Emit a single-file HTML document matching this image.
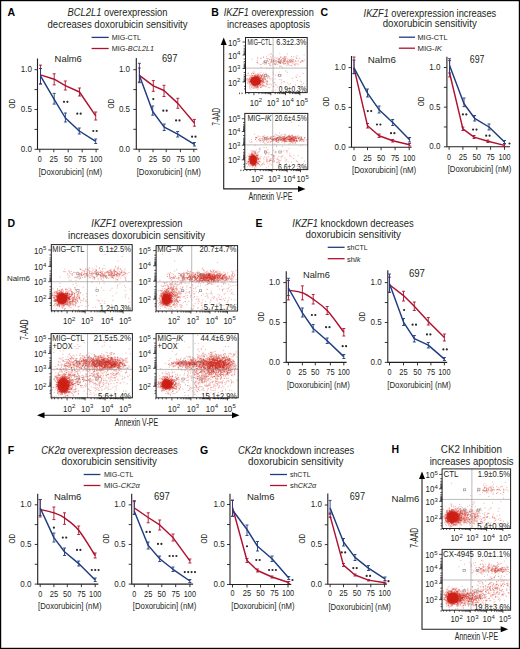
<!DOCTYPE html><html><head><meta charset="utf-8"><style>html,body{margin:0;padding:0;background:#fff}svg{display:block}text{font-family:"Liberation Sans", sans-serif;stroke:#231f20;stroke-width:0}</style></head><body>
<svg width="520" height="649" viewBox="0 0 520 649">
<rect x="0" y="0" width="520" height="649" fill="#fff"/>
<rect x="0.6" y="0.6" width="518.8" height="647.8" fill="none" stroke="#000" stroke-width="1.2"/>
<g fill="#231f20">
<text x="7.5" y="16.3" font-size="10.5" stroke-width="0.35" font-weight="bold" fill="#000" stroke="#000">A</text>
<text x="67.5" y="16.3" font-size="10" stroke-width="0.1" textLength="100" lengthAdjust="spacingAndGlyphs"><tspan font-style="italic">BCL2L1</tspan> overexpression</text>
<text x="47.5" y="27.5" font-size="10" stroke-width="0.1" textLength="140" lengthAdjust="spacingAndGlyphs">decreases doxorubicin sensitivity</text>
<line x1="91.6" y1="37.4" x2="108.7" y2="37.4" stroke="#1f3c80" stroke-width="1.3"/>
<line x1="91.6" y1="48.5" x2="108.7" y2="48.5" stroke="#ae1230" stroke-width="1.3"/>
<text x="111.8" y="40.3" font-size="8" stroke-width="0.08" textLength="29.2" lengthAdjust="spacingAndGlyphs">MIG-CTL</text>
<text x="111.8" y="51.4" font-size="8" stroke-width="0.08" textLength="42.2" lengthAdjust="spacingAndGlyphs">MIG-<tspan font-style="italic">BCL2L1</tspan></text>
<text x="211.3" y="16.3" font-size="10.5" stroke-width="0.35" font-weight="bold" fill="#000" stroke="#000">B</text>
<text x="223.8" y="16.3" font-size="10" stroke-width="0.1" textLength="90" lengthAdjust="spacingAndGlyphs"><tspan font-style="italic">IKZF1</tspan> overexpression</text>
<text x="227" y="27.5" font-size="10" stroke-width="0.1" textLength="83" lengthAdjust="spacingAndGlyphs">increases apoptosis</text>
<text x="320.4" y="16.3" font-size="10.5" stroke-width="0.35" font-weight="bold" fill="#000" stroke="#000">C</text>
<text x="363.6" y="16.5" font-size="10" stroke-width="0.1" textLength="132.6" lengthAdjust="spacingAndGlyphs"><tspan font-style="italic">IKZF1</tspan> overexpression increases</text>
<text x="382.7" y="27.3" font-size="10" stroke-width="0.1" textLength="94.1" lengthAdjust="spacingAndGlyphs">doxorubicin sensitivity</text>
<line x1="398.9" y1="37.2" x2="415" y2="37.2" stroke="#1f3c80" stroke-width="1.3"/>
<line x1="398.9" y1="48.2" x2="415" y2="48.2" stroke="#ae1230" stroke-width="1.3"/>
<text x="417.5" y="40.1" font-size="8" stroke-width="0.08" textLength="30.2" lengthAdjust="spacingAndGlyphs">MIG-CTL</text>
<text x="417.5" y="51.1" font-size="8" stroke-width="0.08" textLength="24.5" lengthAdjust="spacingAndGlyphs">MIG-<tspan font-style="italic">IK</tspan></text>
<text x="7.5" y="227" font-size="10.5" stroke-width="0.35" font-weight="bold" fill="#000" stroke="#000">D</text>
<text x="91.3" y="227.3" font-size="10" stroke-width="0.1" textLength="91.1" lengthAdjust="spacingAndGlyphs"><tspan font-style="italic">IKZF1</tspan> overexpression</text>
<text x="68" y="238.7" font-size="10" stroke-width="0.1" textLength="137" lengthAdjust="spacingAndGlyphs">increases doxorubicin sensitivity</text>
<text x="255.4" y="227.3" font-size="10.5" stroke-width="0.35" font-weight="bold" fill="#000" stroke="#000">E</text>
<text x="292.3" y="227.3" font-size="10" stroke-width="0.1" textLength="121.4" lengthAdjust="spacingAndGlyphs"><tspan font-style="italic">IKZF1</tspan> knockdown decreases</text>
<text x="305.5" y="238.3" font-size="10" stroke-width="0.1" textLength="95.5" lengthAdjust="spacingAndGlyphs">doxorubicin sensitivity</text>
<line x1="327.7" y1="247.3" x2="344.6" y2="247.3" stroke="#1f3c80" stroke-width="1.3"/>
<line x1="327.7" y1="258.7" x2="344.6" y2="258.7" stroke="#ae1230" stroke-width="1.3"/>
<text x="347" y="250.2" font-size="8" stroke-width="0.08" textLength="20.7" lengthAdjust="spacingAndGlyphs">shCTL</text>
<text x="347" y="261.6" font-size="8" stroke-width="0.08" textLength="13.6" lengthAdjust="spacingAndGlyphs">sh<tspan font-style="italic">Ik</tspan></text>
<text x="7.7" y="453.8" font-size="10.5" stroke-width="0.35" font-weight="bold" fill="#000" stroke="#000">F</text>
<text x="41.3" y="453.5" font-size="10" stroke-width="0.1" textLength="136.5" lengthAdjust="spacingAndGlyphs"><tspan font-style="italic">CK2α</tspan> overexpression decreases</text>
<text x="61.5" y="465.3" font-size="10" stroke-width="0.1" textLength="95.5" lengthAdjust="spacingAndGlyphs">doxorubicin sensitivity</text>
<line x1="83.7" y1="474.5" x2="100.4" y2="474.5" stroke="#1f3c80" stroke-width="1.3"/>
<line x1="83.7" y1="485.5" x2="100.4" y2="485.5" stroke="#ae1230" stroke-width="1.3"/>
<text x="103.9" y="477.4" font-size="8" stroke-width="0.08" textLength="29.5" lengthAdjust="spacingAndGlyphs">MIG-CTL</text>
<text x="103.9" y="488.4" font-size="8" stroke-width="0.08" textLength="35.8" lengthAdjust="spacingAndGlyphs">MIG-<tspan font-style="italic">CK2α</tspan></text>
<text x="200" y="453.7" font-size="10.5" stroke-width="0.35" font-weight="bold" fill="#000" stroke="#000">G</text>
<text x="238" y="453.7" font-size="10" stroke-width="0.1" textLength="116.3" lengthAdjust="spacingAndGlyphs"><tspan font-style="italic">CK2α</tspan> knockdown increases</text>
<text x="248" y="465" font-size="10" stroke-width="0.1" textLength="95.4" lengthAdjust="spacingAndGlyphs">doxorubicin sensitivity</text>
<line x1="270" y1="474.5" x2="287" y2="474.5" stroke="#1f3c80" stroke-width="1.3"/>
<line x1="270" y1="485.5" x2="287" y2="485.5" stroke="#ae1230" stroke-width="1.3"/>
<text x="290" y="477.4" font-size="8" stroke-width="0.08" textLength="20.5" lengthAdjust="spacingAndGlyphs">shCTL</text>
<text x="290" y="488.4" font-size="8" stroke-width="0.08" textLength="26.3" lengthAdjust="spacingAndGlyphs">sh<tspan font-style="italic">CK2α</tspan></text>
<text x="391.5" y="453.4" font-size="10.5" stroke-width="0.35" font-weight="bold" fill="#000" stroke="#000">H</text>
<text x="440.8" y="453.4" font-size="10" stroke-width="0.1" textLength="61.1" lengthAdjust="spacingAndGlyphs">CK2 Inhibition</text>
<text x="429.7" y="464.5" font-size="10" stroke-width="0.1" textLength="83.9" lengthAdjust="spacingAndGlyphs">increases apoptosis</text>
<path d="M37.5 58.5V149.3H98.5" fill="none" stroke="#231f20" stroke-width="1.1"/>
<path d="M34.5 149.3H37.5M34.5 129.4H37.5M34.5 109.5H37.5M34.5 89.6H37.5M34.5 69.7H37.5M39.8 149.3V152.3M53.8 149.3V152.3M68.2 149.3V152.3M82.2 149.3V152.3M96.1 149.3V152.3" stroke="#231f20" stroke-width="0.9"/>
<text x="32" y="72.1" font-size="8.8" stroke-width="0.1" text-anchor="end" textLength="11.2" lengthAdjust="spacingAndGlyphs">1.0</text>
<text x="32" y="111.9" font-size="8.8" stroke-width="0.1" text-anchor="end" textLength="11.2" lengthAdjust="spacingAndGlyphs">0.5</text>
<text x="32" y="151.7" font-size="8.8" stroke-width="0.1" text-anchor="end" textLength="11.2" lengthAdjust="spacingAndGlyphs">0.0</text>
<text x="39.8" y="162" font-size="8.8" stroke-width="0.1" text-anchor="middle" textLength="4" lengthAdjust="spacingAndGlyphs">0</text>
<text x="53.8" y="162" font-size="8.8" stroke-width="0.1" text-anchor="middle" textLength="8.4" lengthAdjust="spacingAndGlyphs">25</text>
<text x="68.2" y="162" font-size="8.8" stroke-width="0.1" text-anchor="middle" textLength="8.4" lengthAdjust="spacingAndGlyphs">50</text>
<text x="82.2" y="162" font-size="8.8" stroke-width="0.1" text-anchor="middle" textLength="8.4" lengthAdjust="spacingAndGlyphs">75</text>
<text x="96.1" y="162" font-size="8.8" stroke-width="0.1" text-anchor="middle" textLength="12.2" lengthAdjust="spacingAndGlyphs">100</text>
<text x="38.7" y="175.1" font-size="8.8" stroke-width="0.12" textLength="63.4" lengthAdjust="spacingAndGlyphs">[Doxorubicin] (nM)</text>
<text x="15" y="103.7" font-size="9.6" stroke-width="0.05" text-anchor="middle" textLength="9.6" lengthAdjust="spacingAndGlyphs" transform="rotate(-90 15 103.7)">OD</text>
<text x="54.6" y="62.4" font-size="9.8" stroke-width="0.05" textLength="27.2" lengthAdjust="spacingAndGlyphs">Nalm6</text>
<path d="M40.5 74.9 54.2 79.2 65.3 85.7 79.5 92 95.7 115.8" fill="none" stroke="#ae1230" stroke-width="1.45" stroke-linejoin="round"/>
<path d="M40.5 65.1V83.9M39 65.1h3M39 83.9h3M54.2 73.8V84.9M52.7 73.8h3M52.7 84.9h3M65.3 81V90M63.8 81h3M63.8 90h3M79.5 88V96M78 88h3M78 96h3M95.7 112V120M94.2 112h3M94.2 120h3" stroke="#ae1230" stroke-width="0.9" fill="none"/>
<path d="M40.5 75.9 54.2 99.4 65.4 118 79.3 131 95.7 141.4" fill="none" stroke="#1f3c80" stroke-width="1.45" stroke-linejoin="round"/>
<path d="M40.5 68.5V84M39 68.5h3M39 84h3M54.2 93.4V104.1M52.7 93.4h3M52.7 104.1h3M65.4 113V122M63.9 113h3M63.9 122h3M79.3 128V134M77.8 128h3M77.8 134h3M95.7 139V143.5M94.2 139h3M94.2 143.5h3" stroke="#1f3c80" stroke-width="0.9" fill="none"/>
<path d="M62.9 101.8a1.1 1.1 0 1 0 2.2 0a1.1 1.1 0 1 0 -2.2 0zM66.3 101.8a1.1 1.1 0 1 0 2.2 0a1.1 1.1 0 1 0 -2.2 0zM76.2 113.7a1.1 1.1 0 1 0 2.2 0a1.1 1.1 0 1 0 -2.2 0zM79.6 113.7a1.1 1.1 0 1 0 2.2 0a1.1 1.1 0 1 0 -2.2 0zM92.2 131a1.1 1.1 0 1 0 2.2 0a1.1 1.1 0 1 0 -2.2 0zM95.6 131a1.1 1.1 0 1 0 2.2 0a1.1 1.1 0 1 0 -2.2 0z" fill="#2a2a2a"/>
<path d="M136.3 58.1V149.2H197.3" fill="none" stroke="#231f20" stroke-width="1.1"/>
<path d="M133.3 149.2H136.3M133.3 129.32H136.3M133.3 109.45H136.3M133.3 89.58H136.3M133.3 69.7H136.3M139.2 149.2V152.2M153 149.2V152.2M166.2 149.2V152.2M180.4 149.2V152.2M193.8 149.2V152.2" stroke="#231f20" stroke-width="0.9"/>
<text x="130.1" y="72.1" font-size="8.8" stroke-width="0.1" text-anchor="end" textLength="11.2" lengthAdjust="spacingAndGlyphs">1.0</text>
<text x="130.1" y="111.85" font-size="8.8" stroke-width="0.1" text-anchor="end" textLength="11.2" lengthAdjust="spacingAndGlyphs">0.5</text>
<text x="130.1" y="151.6" font-size="8.8" stroke-width="0.1" text-anchor="end" textLength="11.2" lengthAdjust="spacingAndGlyphs">0.0</text>
<text x="139.2" y="162.3" font-size="8.8" stroke-width="0.1" text-anchor="middle" textLength="4" lengthAdjust="spacingAndGlyphs">0</text>
<text x="153" y="162.3" font-size="8.8" stroke-width="0.1" text-anchor="middle" textLength="8.4" lengthAdjust="spacingAndGlyphs">25</text>
<text x="166.2" y="162.3" font-size="8.8" stroke-width="0.1" text-anchor="middle" textLength="8.4" lengthAdjust="spacingAndGlyphs">50</text>
<text x="180.4" y="162.3" font-size="8.8" stroke-width="0.1" text-anchor="middle" textLength="8.4" lengthAdjust="spacingAndGlyphs">75</text>
<text x="193.8" y="162.3" font-size="8.8" stroke-width="0.1" text-anchor="middle" textLength="12.2" lengthAdjust="spacingAndGlyphs">100</text>
<text x="136.7" y="175.3" font-size="8.8" stroke-width="0.12" textLength="64.1" lengthAdjust="spacingAndGlyphs">[Doxorubicin] (nM)</text>
<text x="113.8" y="103.65" font-size="9.6" stroke-width="0.05" text-anchor="middle" textLength="9.6" lengthAdjust="spacingAndGlyphs" transform="rotate(-90 113.8 103.65)">OD</text>
<text x="161.9" y="62.3" font-size="10.5" stroke-width="0.05" textLength="15.6" lengthAdjust="spacingAndGlyphs">697</text>
<path d="M139.4 75.4 153.3 85.8 164 90.5 177.8 103.4 194.4 123" fill="none" stroke="#ae1230" stroke-width="1.45" stroke-linejoin="round"/>
<path d="M139.4 68V82M137.9 68h3M137.9 82h3M153.3 80.6V91.3M151.8 80.6h3M151.8 91.3h3M164 85.3V96.5M162.5 85.3h3M162.5 96.5h3M177.8 98.3V108.3M176.3 98.3h3M176.3 108.3h3M194.4 119.4V126.2M192.9 119.4h3M192.9 126.2h3" stroke="#ae1230" stroke-width="0.9" fill="none"/>
<path d="M139.4 75.4 152.7 111.5 164.2 127.1 177.7 134.2 194.4 144.4" fill="none" stroke="#1f3c80" stroke-width="1.45" stroke-linejoin="round"/>
<path d="M139.4 63.3V82.7M137.9 63.3h3M137.9 82.7h3M152.7 106V115.2M151.2 106h3M151.2 115.2h3M164.2 124V130.5M162.7 124h3M162.7 130.5h3M177.7 131.5V137M176.2 131.5h3M176.2 137h3M194.4 142.5V146M192.9 142.5h3M192.9 146h3" stroke="#1f3c80" stroke-width="0.9" fill="none"/>
<path d="M152.2 99.1a1.1 1.1 0 1 0 2.2 0a1.1 1.1 0 1 0 -2.2 0zM162.2 110.7a1.1 1.1 0 1 0 2.2 0a1.1 1.1 0 1 0 -2.2 0zM165.6 110.7a1.1 1.1 0 1 0 2.2 0a1.1 1.1 0 1 0 -2.2 0zM175 120.4a1.1 1.1 0 1 0 2.2 0a1.1 1.1 0 1 0 -2.2 0zM178.4 120.4a1.1 1.1 0 1 0 2.2 0a1.1 1.1 0 1 0 -2.2 0zM191 136.7a1.1 1.1 0 1 0 2.2 0a1.1 1.1 0 1 0 -2.2 0zM194.4 136.7a1.1 1.1 0 1 0 2.2 0a1.1 1.1 0 1 0 -2.2 0z" fill="#2a2a2a"/>
<path d="M351.5 56V147.2H411.6" fill="none" stroke="#231f20" stroke-width="1.1"/>
<path d="M348.5 147.2H351.5M348.5 127.3H351.5M348.5 107.4H351.5M348.5 87.5H351.5M348.5 67.6H351.5M354 147.2V150.2M367.5 147.2V150.2M381.1 147.2V150.2M395.1 147.2V150.2M409.2 147.2V150.2" stroke="#231f20" stroke-width="0.9"/>
<text x="345.7" y="70" font-size="8.8" stroke-width="0.1" text-anchor="end" textLength="11.2" lengthAdjust="spacingAndGlyphs">1.0</text>
<text x="345.7" y="109.8" font-size="8.8" stroke-width="0.1" text-anchor="end" textLength="11.2" lengthAdjust="spacingAndGlyphs">0.5</text>
<text x="345.7" y="149.6" font-size="8.8" stroke-width="0.1" text-anchor="end" textLength="11.2" lengthAdjust="spacingAndGlyphs">0.0</text>
<text x="354" y="160.7" font-size="8.8" stroke-width="0.1" text-anchor="middle" textLength="4" lengthAdjust="spacingAndGlyphs">0</text>
<text x="367.5" y="160.7" font-size="8.8" stroke-width="0.1" text-anchor="middle" textLength="8.4" lengthAdjust="spacingAndGlyphs">25</text>
<text x="381.1" y="160.7" font-size="8.8" stroke-width="0.1" text-anchor="middle" textLength="8.4" lengthAdjust="spacingAndGlyphs">50</text>
<text x="395.1" y="160.7" font-size="8.8" stroke-width="0.1" text-anchor="middle" textLength="8.4" lengthAdjust="spacingAndGlyphs">75</text>
<text x="409.2" y="160.7" font-size="8.8" stroke-width="0.1" text-anchor="middle" textLength="12.2" lengthAdjust="spacingAndGlyphs">100</text>
<text x="352" y="173.2" font-size="8.8" stroke-width="0.12" textLength="64.2" lengthAdjust="spacingAndGlyphs">[Doxorubicin] (nM)</text>
<text x="329" y="101.6" font-size="9.6" stroke-width="0.05" text-anchor="middle" textLength="9.6" lengthAdjust="spacingAndGlyphs" transform="rotate(-90 329 101.6)">OD</text>
<text x="367.7" y="62.8" font-size="9.8" stroke-width="0.05" textLength="28.2" lengthAdjust="spacingAndGlyphs">Nalm6</text>
<path d="M354 67.8 367.5 125.7 379.1 135.8 392.7 140.8 409.6 144.8" fill="none" stroke="#ae1230" stroke-width="1.45" stroke-linejoin="round"/>
<path d="M354 57V73.6M352.5 57h3M352.5 73.6h3M367.5 123.5V128M366 123.5h3M366 128h3M379.1 134V137.5M377.6 134h3M377.6 137.5h3M392.7 139.5V142M391.2 139.5h3M391.2 142h3M409.6 143.5V146M408.1 143.5h3M408.1 146h3" stroke="#ae1230" stroke-width="0.9" fill="none"/>
<path d="M354 67.8 367.5 93.1 379.1 109.7 392.7 122.5 409.6 139.8" fill="none" stroke="#1f3c80" stroke-width="1.45" stroke-linejoin="round"/>
<path d="M354 60V73.6M352.5 60h3M352.5 73.6h3M367.5 89V97M366 89h3M366 97h3M379.1 106V113M377.6 106h3M377.6 113h3M392.7 119.5V125.5M391.2 119.5h3M391.2 125.5h3M409.6 137.5V142M408.1 137.5h3M408.1 142h3" stroke="#1f3c80" stroke-width="0.9" fill="none"/>
<path d="M366.7 111.1a1.1 1.1 0 1 0 2.2 0a1.1 1.1 0 1 0 -2.2 0zM370.1 111.1a1.1 1.1 0 1 0 2.2 0a1.1 1.1 0 1 0 -2.2 0zM375.9 124.5a1.1 1.1 0 1 0 2.2 0a1.1 1.1 0 1 0 -2.2 0zM379.3 124.5a1.1 1.1 0 1 0 2.2 0a1.1 1.1 0 1 0 -2.2 0zM389.9 133.2a1.1 1.1 0 1 0 2.2 0a1.1 1.1 0 1 0 -2.2 0zM393.3 133.2a1.1 1.1 0 1 0 2.2 0a1.1 1.1 0 1 0 -2.2 0z" fill="#2a2a2a"/>
<path d="M446.9 56.7V146.8H510" fill="none" stroke="#231f20" stroke-width="1.1"/>
<path d="M443.9 146.8H446.9M443.9 126.98H446.9M443.9 107.15H446.9M443.9 87.33H446.9M443.9 67.5H446.9M449.1 146.8V149.8M462.9 146.8V149.8M476.8 146.8V149.8M490.6 146.8V149.8M504.5 146.8V149.8" stroke="#231f20" stroke-width="0.9"/>
<text x="440.5" y="69.9" font-size="8.8" stroke-width="0.1" text-anchor="end" textLength="11.2" lengthAdjust="spacingAndGlyphs">1.0</text>
<text x="440.5" y="109.55" font-size="8.8" stroke-width="0.1" text-anchor="end" textLength="11.2" lengthAdjust="spacingAndGlyphs">0.5</text>
<text x="440.5" y="149.2" font-size="8.8" stroke-width="0.1" text-anchor="end" textLength="11.2" lengthAdjust="spacingAndGlyphs">0.0</text>
<text x="449.1" y="159.8" font-size="8.8" stroke-width="0.1" text-anchor="middle" textLength="4" lengthAdjust="spacingAndGlyphs">0</text>
<text x="462.9" y="159.8" font-size="8.8" stroke-width="0.1" text-anchor="middle" textLength="8.4" lengthAdjust="spacingAndGlyphs">25</text>
<text x="476.8" y="159.8" font-size="8.8" stroke-width="0.1" text-anchor="middle" textLength="8.4" lengthAdjust="spacingAndGlyphs">50</text>
<text x="490.6" y="159.8" font-size="8.8" stroke-width="0.1" text-anchor="middle" textLength="8.4" lengthAdjust="spacingAndGlyphs">75</text>
<text x="504.5" y="159.8" font-size="8.8" stroke-width="0.1" text-anchor="middle" textLength="12.2" lengthAdjust="spacingAndGlyphs">100</text>
<text x="447.7" y="172" font-size="8.8" stroke-width="0.12" textLength="63.7" lengthAdjust="spacingAndGlyphs">[Doxorubicin] (nM)</text>
<text x="424.4" y="101.35" font-size="9.6" stroke-width="0.05" text-anchor="middle" textLength="9.6" lengthAdjust="spacingAndGlyphs" transform="rotate(-90 424.4 101.35)">OD</text>
<text x="469.8" y="62.5" font-size="10.5" stroke-width="0.05" textLength="14.7" lengthAdjust="spacingAndGlyphs">697</text>
<path d="M449.6 73 462.9 128.8 474 137.1 487.9 141.3 504.5 145.4" fill="none" stroke="#ae1230" stroke-width="1.45" stroke-linejoin="round"/>
<path d="M449.6 60.6V76.9M448.1 60.6h3M448.1 76.9h3M462.9 127V130.5M461.4 127h3M461.4 130.5h3M474 135.5V138.5M472.5 135.5h3M472.5 138.5h3M487.9 140V142.5M486.4 140h3M486.4 142.5h3M504.5 144V146.5M503 144h3M503 146.5h3" stroke="#ae1230" stroke-width="0.9" fill="none"/>
<path d="M449.6 65.4 464 103.8 474.6 118.3 489 127 504.5 142.1" fill="none" stroke="#1f3c80" stroke-width="1.45" stroke-linejoin="round"/>
<path d="M449.6 58.7V73M448.1 58.7h3M448.1 73h3M464 98V106.7M462.5 98h3M462.5 106.7h3M474.6 115.5V121M473.1 115.5h3M473.1 121h3M489 124V130M487.5 124h3M487.5 130h3M504.5 140.5V143.5M503 140.5h3M503 143.5h3" stroke="#1f3c80" stroke-width="0.9" fill="none"/>
<path d="M461.8 114.4a1.1 1.1 0 1 0 2.2 0a1.1 1.1 0 1 0 -2.2 0zM465.2 114.4a1.1 1.1 0 1 0 2.2 0a1.1 1.1 0 1 0 -2.2 0zM472 129.6a1.1 1.1 0 1 0 2.2 0a1.1 1.1 0 1 0 -2.2 0zM475.4 129.6a1.1 1.1 0 1 0 2.2 0a1.1 1.1 0 1 0 -2.2 0zM485.1 135.7a1.1 1.1 0 1 0 2.2 0a1.1 1.1 0 1 0 -2.2 0zM488.5 135.7a1.1 1.1 0 1 0 2.2 0a1.1 1.1 0 1 0 -2.2 0zM508.4 143.5a1.1 1.1 0 1 0 2.2 0a1.1 1.1 0 1 0 -2.2 0z" fill="#2a2a2a"/>
<path d="M286.25 271.2V362.4H346.6" fill="none" stroke="#231f20" stroke-width="1.1"/>
<path d="M283.25 362.4H286.25M283.25 342.45H286.25M283.25 322.5H286.25M283.25 302.55H286.25M283.25 282.6H286.25M288.4 362.4V365.4M302.4 362.4V365.4M315.3 362.4V365.4M330.4 362.4V365.4M343.8 362.4V365.4" stroke="#231f20" stroke-width="0.9"/>
<text x="280.1" y="285" font-size="8.8" stroke-width="0.1" text-anchor="end" textLength="11.2" lengthAdjust="spacingAndGlyphs">1.0</text>
<text x="280.1" y="324.9" font-size="8.8" stroke-width="0.1" text-anchor="end" textLength="11.2" lengthAdjust="spacingAndGlyphs">0.5</text>
<text x="280.1" y="364.8" font-size="8.8" stroke-width="0.1" text-anchor="end" textLength="11.2" lengthAdjust="spacingAndGlyphs">0.0</text>
<text x="288.4" y="375" font-size="8.8" stroke-width="0.1" text-anchor="middle" textLength="4" lengthAdjust="spacingAndGlyphs">0</text>
<text x="302.4" y="375" font-size="8.8" stroke-width="0.1" text-anchor="middle" textLength="8.4" lengthAdjust="spacingAndGlyphs">25</text>
<text x="315.3" y="375" font-size="8.8" stroke-width="0.1" text-anchor="middle" textLength="8.4" lengthAdjust="spacingAndGlyphs">50</text>
<text x="330.4" y="375" font-size="8.8" stroke-width="0.1" text-anchor="middle" textLength="8.4" lengthAdjust="spacingAndGlyphs">75</text>
<text x="343.8" y="375" font-size="8.8" stroke-width="0.1" text-anchor="middle" textLength="12.2" lengthAdjust="spacingAndGlyphs">100</text>
<text x="286.9" y="388" font-size="8.8" stroke-width="0.12" textLength="62.9" lengthAdjust="spacingAndGlyphs">[Doxorubicin] (nM)</text>
<text x="263.75" y="316.7" font-size="9.6" stroke-width="0.05" text-anchor="middle" textLength="9.6" lengthAdjust="spacingAndGlyphs" transform="rotate(-90 263.75 316.7)">OD</text>
<text x="303" y="277.5" font-size="9.8" stroke-width="0.05" textLength="26.8" lengthAdjust="spacingAndGlyphs">Nalm6</text>
<path d="M288.4 290.2C290.73 290.63 298.27 291.3 302.4 292.8C306.53 294.3 309.07 296.23 313.2 299.2C317.33 302.17 322.1 305.1 327.2 310.6C332.3 316.1 341.03 328.6 343.8 332.2" fill="none" stroke="#ae1230" stroke-width="1.45" stroke-linejoin="round"/>
<path d="M288.4 280.5V299.9M286.9 280.5h3M286.9 299.9h3M302.4 285.9V299.9M300.9 285.9h3M300.9 299.9h3M313.2 294.5V304M311.7 294.5h3M311.7 304h3M327.2 306.5V314.5M325.7 306.5h3M325.7 314.5h3M343.8 328.5V336M342.3 328.5h3M342.3 336h3" stroke="#ae1230" stroke-width="0.9" fill="none"/>
<path d="M288.4 288 302.4 312.8 313.2 328.5 327.2 340.8 343.8 356.6" fill="none" stroke="#1f3c80" stroke-width="1.45" stroke-linejoin="round"/>
<path d="M288.4 278.3V295.6M286.9 278.3h3M286.9 295.6h3M302.4 308V317M300.9 308h3M300.9 317h3M313.2 324.5V332M311.7 324.5h3M311.7 332h3M327.2 338V343.5M325.7 338h3M325.7 343.5h3M343.8 354.5V358.5M342.3 354.5h3M342.3 358.5h3" stroke="#1f3c80" stroke-width="0.9" fill="none"/>
<path d="M310.8 315a1.1 1.1 0 1 0 2.2 0a1.1 1.1 0 1 0 -2.2 0zM314.2 315a1.1 1.1 0 1 0 2.2 0a1.1 1.1 0 1 0 -2.2 0zM325 327.2a1.1 1.1 0 1 0 2.2 0a1.1 1.1 0 1 0 -2.2 0zM328.4 327.2a1.1 1.1 0 1 0 2.2 0a1.1 1.1 0 1 0 -2.2 0zM341.6 346.2a1.1 1.1 0 1 0 2.2 0a1.1 1.1 0 1 0 -2.2 0zM345 346.2a1.1 1.1 0 1 0 2.2 0a1.1 1.1 0 1 0 -2.2 0z" fill="#2a2a2a"/>
<path d="M387.8 270.3V362.4H447.2" fill="none" stroke="#231f20" stroke-width="1.1"/>
<path d="M384.8 362.4H387.8M384.8 342.45H387.8M384.8 322.5H387.8M384.8 302.55H387.8M384.8 282.6H387.8M389.5 362.4V365.4M403.5 362.4V365.4M417.5 362.4V365.4M430.9 362.4V365.4M444.4 362.4V365.4" stroke="#231f20" stroke-width="0.9"/>
<text x="381.7" y="285" font-size="8.8" stroke-width="0.1" text-anchor="end" textLength="11.2" lengthAdjust="spacingAndGlyphs">1.0</text>
<text x="381.7" y="324.9" font-size="8.8" stroke-width="0.1" text-anchor="end" textLength="11.2" lengthAdjust="spacingAndGlyphs">0.5</text>
<text x="381.7" y="364.8" font-size="8.8" stroke-width="0.1" text-anchor="end" textLength="11.2" lengthAdjust="spacingAndGlyphs">0.0</text>
<text x="389.5" y="375" font-size="8.8" stroke-width="0.1" text-anchor="middle" textLength="4" lengthAdjust="spacingAndGlyphs">0</text>
<text x="403.5" y="375" font-size="8.8" stroke-width="0.1" text-anchor="middle" textLength="8.4" lengthAdjust="spacingAndGlyphs">25</text>
<text x="417.5" y="375" font-size="8.8" stroke-width="0.1" text-anchor="middle" textLength="8.4" lengthAdjust="spacingAndGlyphs">50</text>
<text x="430.9" y="375" font-size="8.8" stroke-width="0.1" text-anchor="middle" textLength="8.4" lengthAdjust="spacingAndGlyphs">75</text>
<text x="444.4" y="375" font-size="8.8" stroke-width="0.1" text-anchor="middle" textLength="12.2" lengthAdjust="spacingAndGlyphs">100</text>
<text x="387.3" y="388" font-size="8.8" stroke-width="0.12" textLength="63.6" lengthAdjust="spacingAndGlyphs">[Doxorubicin] (nM)</text>
<text x="365.3" y="316.7" font-size="9.6" stroke-width="0.05" text-anchor="middle" textLength="9.6" lengthAdjust="spacingAndGlyphs" transform="rotate(-90 365.3 316.7)">OD</text>
<text x="408.9" y="277.2" font-size="10.5" stroke-width="0.05" textLength="16.1" lengthAdjust="spacingAndGlyphs">697</text>
<path d="M389.5 284.8 403.5 295.6 414.3 306.3 428.3 321.4 444.4 337.6" fill="none" stroke="#ae1230" stroke-width="1.45" stroke-linejoin="round"/>
<path d="M389.5 277.2V292.3M388 277.2h3M388 292.3h3M403.5 291.3V301M402 291.3h3M402 301h3M414.3 302V310.5M412.8 302h3M412.8 310.5h3M428.3 317.5V325M426.8 317.5h3M426.8 325h3M444.4 334V341M442.9 334h3M442.9 341h3" stroke="#ae1230" stroke-width="0.9" fill="none"/>
<path d="M389.5 283.7 403.5 322.1 414.3 338.7 428.3 345.1 444.4 359.1" fill="none" stroke="#1f3c80" stroke-width="1.45" stroke-linejoin="round"/>
<path d="M389.5 274V292.3M388 274h3M388 292.3h3M403.5 318.5V325.5M402 318.5h3M402 325.5h3M414.3 335.5V342M412.8 335.5h3M412.8 342h3M428.3 342.5V348M426.8 342.5h3M426.8 348h3M444.4 357.5V360.5M442.9 357.5h3M442.9 360.5h3" stroke="#1f3c80" stroke-width="0.9" fill="none"/>
<path d="M403 310a1.1 1.1 0 1 0 2.2 0a1.1 1.1 0 1 0 -2.2 0zM411.5 324.7a1.1 1.1 0 1 0 2.2 0a1.1 1.1 0 1 0 -2.2 0zM414.9 324.7a1.1 1.1 0 1 0 2.2 0a1.1 1.1 0 1 0 -2.2 0zM425.9 334.4a1.1 1.1 0 1 0 2.2 0a1.1 1.1 0 1 0 -2.2 0zM429.3 334.4a1.1 1.1 0 1 0 2.2 0a1.1 1.1 0 1 0 -2.2 0zM442.3 349.4a1.1 1.1 0 1 0 2.2 0a1.1 1.1 0 1 0 -2.2 0zM445.7 349.4a1.1 1.1 0 1 0 2.2 0a1.1 1.1 0 1 0 -2.2 0z" fill="#2a2a2a"/>
<path d="M37.7 493.8V584.1H98.4" fill="none" stroke="#231f20" stroke-width="1.1"/>
<path d="M34.7 584.1H37.7M34.7 564.27H37.7M34.7 544.45H37.7M34.7 524.62H37.7M34.7 504.8H37.7M40.2 584.1V587.1M53.9 584.1V587.1M67.3 584.1V587.1M81.4 584.1V587.1M95.2 584.1V587.1" stroke="#231f20" stroke-width="0.9"/>
<text x="31.4" y="507.2" font-size="8.8" stroke-width="0.1" text-anchor="end" textLength="11.2" lengthAdjust="spacingAndGlyphs">1.0</text>
<text x="31.4" y="546.85" font-size="8.8" stroke-width="0.1" text-anchor="end" textLength="11.2" lengthAdjust="spacingAndGlyphs">0.5</text>
<text x="31.4" y="586.5" font-size="8.8" stroke-width="0.1" text-anchor="end" textLength="11.2" lengthAdjust="spacingAndGlyphs">0.0</text>
<text x="40.2" y="596.6" font-size="8.8" stroke-width="0.1" text-anchor="middle" textLength="4" lengthAdjust="spacingAndGlyphs">0</text>
<text x="53.9" y="596.6" font-size="8.8" stroke-width="0.1" text-anchor="middle" textLength="8.4" lengthAdjust="spacingAndGlyphs">25</text>
<text x="67.3" y="596.6" font-size="8.8" stroke-width="0.1" text-anchor="middle" textLength="8.4" lengthAdjust="spacingAndGlyphs">50</text>
<text x="81.4" y="596.6" font-size="8.8" stroke-width="0.1" text-anchor="middle" textLength="8.4" lengthAdjust="spacingAndGlyphs">75</text>
<text x="95.2" y="596.6" font-size="8.8" stroke-width="0.1" text-anchor="middle" textLength="12.2" lengthAdjust="spacingAndGlyphs">100</text>
<text x="38.1" y="609.4" font-size="8.8" stroke-width="0.12" textLength="63.4" lengthAdjust="spacingAndGlyphs">[Doxorubicin] (nM)</text>
<text x="15.2" y="538.65" font-size="9.6" stroke-width="0.05" text-anchor="middle" textLength="9.6" lengthAdjust="spacingAndGlyphs" transform="rotate(-90 15.2 538.65)">OD</text>
<text x="53.9" y="499.5" font-size="9.8" stroke-width="0.05" textLength="27.5" lengthAdjust="spacingAndGlyphs">Nalm6</text>
<path d="M40.2 509.5C42.48 510.05 49.85 511.4 53.9 512.8C57.95 514.2 60.37 515 64.5 517.9C68.63 520.8 73.58 523.92 78.7 530.2C83.82 536.48 92.45 551.37 95.2 555.6" fill="none" stroke="#ae1230" stroke-width="1.45" stroke-linejoin="round"/>
<path d="M40.2 499.5V517M38.7 499.5h3M38.7 517h3M53.9 507V519.6M52.4 507h3M52.4 519.6h3M64.5 512.8V524.3M63 512.8h3M63 524.3h3M78.7 526V534.5M77.2 526h3M77.2 534.5h3M95.2 553V558M93.7 553h3M93.7 558h3" stroke="#ae1230" stroke-width="0.9" fill="none"/>
<path d="M40.2 508 53.9 537.6 64.5 551.8 78.7 563.6 95.2 579.9" fill="none" stroke="#1f3c80" stroke-width="1.45" stroke-linejoin="round"/>
<path d="M40.2 499.5V515.4M38.7 499.5h3M38.7 515.4h3M53.9 533V542M52.4 533h3M52.4 542h3M64.5 548V555.5M63 548h3M63 555.5h3M78.7 561V566M77.2 561h3M77.2 566h3M95.2 578V581.5M93.7 578h3M93.7 581.5h3" stroke="#1f3c80" stroke-width="0.9" fill="none"/>
<path d="M52.8 527.7a1.1 1.1 0 1 0 2.2 0a1.1 1.1 0 1 0 -2.2 0zM61.7 537.6a1.1 1.1 0 1 0 2.2 0a1.1 1.1 0 1 0 -2.2 0zM65.1 537.6a1.1 1.1 0 1 0 2.2 0a1.1 1.1 0 1 0 -2.2 0zM75.9 549.9a1.1 1.1 0 1 0 2.2 0a1.1 1.1 0 1 0 -2.2 0zM79.3 549.9a1.1 1.1 0 1 0 2.2 0a1.1 1.1 0 1 0 -2.2 0zM90.7 570a1.1 1.1 0 1 0 2.2 0a1.1 1.1 0 1 0 -2.2 0zM94.1 570a1.1 1.1 0 1 0 2.2 0a1.1 1.1 0 1 0 -2.2 0zM97.5 570a1.1 1.1 0 1 0 2.2 0a1.1 1.1 0 1 0 -2.2 0z" fill="#2a2a2a"/>
<path d="M131.7 493.8V584.1H193.1" fill="none" stroke="#231f20" stroke-width="1.1"/>
<path d="M128.7 584.1H131.7M128.7 564.27H131.7M128.7 544.45H131.7M128.7 524.62H131.7M128.7 504.8H131.7M134.3 584.1V587.1M148.2 584.1V587.1M161.8 584.1V587.1M175.7 584.1V587.1M189.9 584.1V587.1" stroke="#231f20" stroke-width="0.9"/>
<text x="125.5" y="507.2" font-size="8.8" stroke-width="0.1" text-anchor="end" textLength="11.2" lengthAdjust="spacingAndGlyphs">1.0</text>
<text x="125.5" y="546.85" font-size="8.8" stroke-width="0.1" text-anchor="end" textLength="11.2" lengthAdjust="spacingAndGlyphs">0.5</text>
<text x="125.5" y="586.5" font-size="8.8" stroke-width="0.1" text-anchor="end" textLength="11.2" lengthAdjust="spacingAndGlyphs">0.0</text>
<text x="134.3" y="596.6" font-size="8.8" stroke-width="0.1" text-anchor="middle" textLength="4" lengthAdjust="spacingAndGlyphs">0</text>
<text x="148.2" y="596.6" font-size="8.8" stroke-width="0.1" text-anchor="middle" textLength="8.4" lengthAdjust="spacingAndGlyphs">25</text>
<text x="161.8" y="596.6" font-size="8.8" stroke-width="0.1" text-anchor="middle" textLength="8.4" lengthAdjust="spacingAndGlyphs">50</text>
<text x="175.7" y="596.6" font-size="8.8" stroke-width="0.1" text-anchor="middle" textLength="8.4" lengthAdjust="spacingAndGlyphs">75</text>
<text x="189.9" y="596.6" font-size="8.8" stroke-width="0.1" text-anchor="middle" textLength="12.2" lengthAdjust="spacingAndGlyphs">100</text>
<text x="132.8" y="609.4" font-size="8.8" stroke-width="0.12" textLength="63.5" lengthAdjust="spacingAndGlyphs">[Doxorubicin] (nM)</text>
<text x="109.2" y="538.65" font-size="9.6" stroke-width="0.05" text-anchor="middle" textLength="9.6" lengthAdjust="spacingAndGlyphs" transform="rotate(-90 109.2 538.65)">OD</text>
<text x="153.9" y="499.5" font-size="10.5" stroke-width="0.05" textLength="15.9" lengthAdjust="spacingAndGlyphs">697</text>
<path d="M134.3 508 148.2 517.5 159.7 524.9 173 537.6 189.9 560.9" fill="none" stroke="#ae1230" stroke-width="1.45" stroke-linejoin="round"/>
<path d="M134.3 500.6V514.3M132.8 500.6h3M132.8 514.3h3M148.2 512.8V522.8M146.7 512.8h3M146.7 522.8h3M159.7 520V530M158.2 520h3M158.2 530h3M173 534V541M171.5 534h3M171.5 541h3M189.9 559V563M188.4 559h3M188.4 563h3" stroke="#ae1230" stroke-width="0.9" fill="none"/>
<path d="M134.3 511.2 148.2 545.4 159.7 558.8 173 569.3 189.9 581" fill="none" stroke="#1f3c80" stroke-width="1.45" stroke-linejoin="round"/>
<path d="M134.3 501.6V514.3M132.8 501.6h3M132.8 514.3h3M148.2 542V549M146.7 542h3M146.7 549h3M159.7 556V561.5M158.2 556h3M158.2 561.5h3M173 567V571.5M171.5 567h3M171.5 571.5h3M189.9 579.5V582.5M188.4 579.5h3M188.4 582.5h3" stroke="#1f3c80" stroke-width="0.9" fill="none"/>
<path d="M145.4 531.9a1.1 1.1 0 1 0 2.2 0a1.1 1.1 0 1 0 -2.2 0zM148.8 531.9a1.1 1.1 0 1 0 2.2 0a1.1 1.1 0 1 0 -2.2 0zM156.9 543.9a1.1 1.1 0 1 0 2.2 0a1.1 1.1 0 1 0 -2.2 0zM160.3 543.9a1.1 1.1 0 1 0 2.2 0a1.1 1.1 0 1 0 -2.2 0zM168.5 556a1.1 1.1 0 1 0 2.2 0a1.1 1.1 0 1 0 -2.2 0zM171.9 556a1.1 1.1 0 1 0 2.2 0a1.1 1.1 0 1 0 -2.2 0zM175.3 556a1.1 1.1 0 1 0 2.2 0a1.1 1.1 0 1 0 -2.2 0zM183.7 572.1a1.1 1.1 0 1 0 2.2 0a1.1 1.1 0 1 0 -2.2 0zM187.1 572.1a1.1 1.1 0 1 0 2.2 0a1.1 1.1 0 1 0 -2.2 0zM190.5 572.1a1.1 1.1 0 1 0 2.2 0a1.1 1.1 0 1 0 -2.2 0zM193.9 572.1a1.1 1.1 0 1 0 2.2 0a1.1 1.1 0 1 0 -2.2 0z" fill="#2a2a2a"/>
<path d="M230 493.75V584.5H291.25" fill="none" stroke="#231f20" stroke-width="1.1"/>
<path d="M227 584.5H230M227 564.5H230M227 544.5H230M227 524.5H230M227 504.5H230M232.5 584.5V587.5M247 584.5V587.5M260.5 584.5V587.5M274.5 584.5V587.5M288 584.5V587.5" stroke="#231f20" stroke-width="0.9"/>
<text x="224.7" y="506.9" font-size="8.8" stroke-width="0.1" text-anchor="end" textLength="11.2" lengthAdjust="spacingAndGlyphs">1.0</text>
<text x="224.7" y="546.9" font-size="8.8" stroke-width="0.1" text-anchor="end" textLength="11.2" lengthAdjust="spacingAndGlyphs">0.5</text>
<text x="224.7" y="586.9" font-size="8.8" stroke-width="0.1" text-anchor="end" textLength="11.2" lengthAdjust="spacingAndGlyphs">0.0</text>
<text x="232.5" y="595.5" font-size="8.8" stroke-width="0.1" text-anchor="middle" textLength="4" lengthAdjust="spacingAndGlyphs">0</text>
<text x="247" y="595.5" font-size="8.8" stroke-width="0.1" text-anchor="middle" textLength="8.4" lengthAdjust="spacingAndGlyphs">25</text>
<text x="260.5" y="595.5" font-size="8.8" stroke-width="0.1" text-anchor="middle" textLength="8.4" lengthAdjust="spacingAndGlyphs">50</text>
<text x="274.5" y="595.5" font-size="8.8" stroke-width="0.1" text-anchor="middle" textLength="8.4" lengthAdjust="spacingAndGlyphs">75</text>
<text x="288" y="595.5" font-size="8.8" stroke-width="0.1" text-anchor="middle" textLength="12.2" lengthAdjust="spacingAndGlyphs">100</text>
<text x="231.25" y="609.25" font-size="8.8" stroke-width="0.12" textLength="63.25" lengthAdjust="spacingAndGlyphs">[Doxorubicin] (nM)</text>
<text x="207.5" y="538.7" font-size="9.6" stroke-width="0.05" text-anchor="middle" textLength="9.6" lengthAdjust="spacingAndGlyphs" transform="rotate(-90 207.5 538.7)">OD</text>
<text x="247" y="499.5" font-size="9.8" stroke-width="0.05" textLength="27.5" lengthAdjust="spacingAndGlyphs">Nalm6</text>
<path d="M232.5 507.5 247 560.5 257.5 570.5 272 577 288.75 582.5" fill="none" stroke="#ae1230" stroke-width="1.45" stroke-linejoin="round"/>
<path d="M232.5 500.5V516.25M231 500.5h3M231 516.25h3M247 558.5V562.5M245.5 558.5h3M245.5 562.5h3M257.5 569V572M256 569h3M256 572h3M272 576V578M270.5 576h3M270.5 578h3M288.75 581.5V583.5M287.25 581.5h3M287.25 583.5h3" stroke="#ae1230" stroke-width="0.9" fill="none"/>
<path d="M232.5 510 247 529.5 257.5 546.25 272 558.75 288.75 578" fill="none" stroke="#1f3c80" stroke-width="1.45" stroke-linejoin="round"/>
<path d="M232.5 500V516.25M231 500h3M231 516.25h3M247 525V535.5M245.5 525h3M245.5 535.5h3M257.5 541.5V551M256 541.5h3M256 551h3M272 556V561.5M270.5 556h3M270.5 561.5h3M288.75 576.5V579.5M287.25 576.5h3M287.25 579.5h3" stroke="#1f3c80" stroke-width="0.9" fill="none"/>
<path d="M245.9 546.25a1.1 1.1 0 1 0 2.2 0a1.1 1.1 0 1 0 -2.2 0zM255.2 560a1.1 1.1 0 1 0 2.2 0a1.1 1.1 0 1 0 -2.2 0zM258.6 560a1.1 1.1 0 1 0 2.2 0a1.1 1.1 0 1 0 -2.2 0zM268 570a1.1 1.1 0 1 0 2.2 0a1.1 1.1 0 1 0 -2.2 0zM271.4 570a1.1 1.1 0 1 0 2.2 0a1.1 1.1 0 1 0 -2.2 0zM274.8 570a1.1 1.1 0 1 0 2.2 0a1.1 1.1 0 1 0 -2.2 0zM291.4 580a1.1 1.1 0 1 0 2.2 0a1.1 1.1 0 1 0 -2.2 0z" fill="#2a2a2a"/>
<path d="M327.8 493.5V584.2H386.9" fill="none" stroke="#231f20" stroke-width="1.1"/>
<path d="M324.8 584.2H327.8M324.8 564.4H327.8M324.8 544.6H327.8M324.8 524.8H327.8M324.8 505H327.8M330.1 584.2V587.2M343.5 584.2V587.2M356.9 584.2V587.2M370.8 584.2V587.2M384.6 584.2V587.2" stroke="#231f20" stroke-width="0.9"/>
<text x="322" y="507.4" font-size="8.8" stroke-width="0.1" text-anchor="end" textLength="11.2" lengthAdjust="spacingAndGlyphs">1.0</text>
<text x="322" y="547" font-size="8.8" stroke-width="0.1" text-anchor="end" textLength="11.2" lengthAdjust="spacingAndGlyphs">0.5</text>
<text x="322" y="586.6" font-size="8.8" stroke-width="0.1" text-anchor="end" textLength="11.2" lengthAdjust="spacingAndGlyphs">0.0</text>
<text x="330.1" y="595.5" font-size="8.8" stroke-width="0.1" text-anchor="middle" textLength="4" lengthAdjust="spacingAndGlyphs">0</text>
<text x="343.5" y="595.5" font-size="8.8" stroke-width="0.1" text-anchor="middle" textLength="8.4" lengthAdjust="spacingAndGlyphs">25</text>
<text x="356.9" y="595.5" font-size="8.8" stroke-width="0.1" text-anchor="middle" textLength="8.4" lengthAdjust="spacingAndGlyphs">50</text>
<text x="370.8" y="595.5" font-size="8.8" stroke-width="0.1" text-anchor="middle" textLength="8.4" lengthAdjust="spacingAndGlyphs">75</text>
<text x="384.6" y="595.5" font-size="8.8" stroke-width="0.1" text-anchor="middle" textLength="12.2" lengthAdjust="spacingAndGlyphs">100</text>
<text x="328.5" y="609.5" font-size="8.8" stroke-width="0.12" textLength="62.3" lengthAdjust="spacingAndGlyphs">[Doxorubicin] (nM)</text>
<text x="305.3" y="538.8" font-size="9.6" stroke-width="0.05" text-anchor="middle" textLength="9.6" lengthAdjust="spacingAndGlyphs" transform="rotate(-90 305.3 538.8)">OD</text>
<text x="349.8" y="500" font-size="10.5" stroke-width="0.05" textLength="15.2" lengthAdjust="spacingAndGlyphs">697</text>
<path d="M330.1 515.9 343.5 565.1 355 575 368.4 580.1 385 582.8" fill="none" stroke="#ae1230" stroke-width="1.45" stroke-linejoin="round"/>
<path d="M330.1 513V517.3M328.6 513h3M328.6 517.3h3M343.5 563.5V566.5M342 563.5h3M342 566.5h3M355 574V576M353.5 574h3M353.5 576h3M368.4 579.5V581M366.9 579.5h3M366.9 581h3M385 582V583.5M383.5 582h3M383.5 583.5h3" stroke="#ae1230" stroke-width="0.9" fill="none"/>
<path d="M330.1 508 343.5 542 355 557.4 368.4 568.1 385 578.9" fill="none" stroke="#1f3c80" stroke-width="1.45" stroke-linejoin="round"/>
<path d="M330.1 500.4V514.2M328.6 500.4h3M328.6 514.2h3M343.5 538.5V546M342 538.5h3M342 546h3M355 554.5V560.5M353.5 554.5h3M353.5 560.5h3M368.4 565.5V570.5M366.9 565.5h3M366.9 570.5h3M385 577V580.5M383.5 577h3M383.5 580.5h3" stroke="#1f3c80" stroke-width="0.9" fill="none"/>
<path d="M340.7 552.4a1.1 1.1 0 1 0 2.2 0a1.1 1.1 0 1 0 -2.2 0zM344.1 552.4a1.1 1.1 0 1 0 2.2 0a1.1 1.1 0 1 0 -2.2 0zM352.2 568.1a1.1 1.1 0 1 0 2.2 0a1.1 1.1 0 1 0 -2.2 0zM355.6 568.1a1.1 1.1 0 1 0 2.2 0a1.1 1.1 0 1 0 -2.2 0zM365.6 575.9a1.1 1.1 0 1 0 2.2 0a1.1 1.1 0 1 0 -2.2 0zM369 575.9a1.1 1.1 0 1 0 2.2 0a1.1 1.1 0 1 0 -2.2 0zM387.4 581.2a1.1 1.1 0 1 0 2.2 0a1.1 1.1 0 1 0 -2.2 0z" fill="#2a2a2a"/>
<path stroke="#d0281c" stroke-opacity="0.42" stroke-width="0.85" d="M291.7 61.4h1M255.4 85.6h1M280.1 62.6h1M261.0 75.7h1M252.9 79.1h1M269.7 83.9h1M260.5 82.6h1M285.3 70.9h1M258.7 80.6h1M254.3 79.7h1M266.6 68.2h1M255.0 85.2h1M258.7 77.2h1M257.8 82.4h1M257.8 83.0h1M261.6 81.4h1M302.2 91.2h1M273.1 86.3h1M258.5 80.6h1M249.6 82.1h1M267.1 78.4h1M285.0 59.4h1M273.0 60.3h1M256.7 82.1h1M258.8 81.6h1M266.9 81.3h1M266.8 84.7h1M250.5 81.5h1M253.0 83.4h1M296.6 55.7h1M256.3 83.9h1M266.8 77.7h1M271.4 57.3h1M267.1 82.8h1M261.3 86.4h1M253.9 84.2h1M257.6 63.6h1M284.6 60.5h1M259.6 84.5h1M250.5 80.5h1M247.3 78.7h1M256.4 79.6h1M253.7 77.6h1M266.8 76.6h1M274.7 64.1h1M256.7 79.8h1M247.6 73.6h1M262.3 75.1h1M291.4 65.6h1M283.6 61.1h1M292.0 59.9h1M256.6 83.4h1M261.7 80.3h1M258.7 83.2h1M254.0 83.6h1M287.8 63.4h1M284.9 58.3h1M255.9 80.5h1M255.6 79.0h1M255.6 78.9h1M284.0 63.8h1M262.6 63.6h1M255.2 83.1h1M253.9 80.3h1M254.6 77.9h1M270.6 59.5h1M257.5 74.3h1M252.6 78.2h1M251.3 77.8h1M252.9 80.4h1M255.0 81.5h1M251.1 75.9h1M251.3 79.3h1M252.2 82.9h1M257.8 82.3h1M255.7 75.2h1M254.6 88.0h1M258.8 83.7h1M293.2 59.6h1M256.7 82.1h1M255.0 77.5h1M255.7 77.9h1M276.5 58.1h1M257.2 81.9h1M246.0 75.7h1M256.9 83.0h1M265.5 74.2h1M281.5 59.0h1M249.5 80.7h1M256.8 77.9h1M253.5 80.7h1M262.3 86.5h1M290.0 61.9h1M253.7 80.7h1M252.2 78.7h1M246.3 79.2h1M257.1 78.6h1M255.9 83.5h1M257.5 73.3h1M269.8 53.7h1M255.8 76.6h1M268.9 59.6h1M255.9 83.2h1M260.0 87.5h1M252.7 82.9h1M250.7 80.6h1M251.2 82.9h1M252.6 81.9h1M252.4 85.0h1M258.5 77.1h1M250.3 81.7h1M253.8 79.7h1M257.6 83.1h1M252.3 79.7h1M259.4 83.5h1M257.1 86.5h1M260.4 78.7h1M258.7 79.0h1M266.1 56.8h1M257.0 79.5h1M251.2 82.0h1M260.2 84.8h1M259.3 81.4h1M252.0 86.0h1M251.6 82.4h1M254.3 81.7h1M256.7 80.5h1M252.7 80.7h1M256.3 84.1h1M255.6 81.4h1M258.8 82.7h1M251.7 75.7h1M252.9 83.1h1M253.2 84.7h1M256.4 79.2h1M250.6 81.7h1M254.5 84.1h1M250.8 80.6h1M255.3 86.1h1M252.8 83.9h1M294.5 65.4h1M255.3 81.2h1M260.5 75.4h1M251.3 83.3h1M258.8 83.3h1M257.6 86.2h1M257.5 81.6h1M255.1 78.4h1M254.8 83.3h1M253.0 78.7h1M257.9 78.4h1M249.3 81.6h1M258.1 78.4h1M251.4 78.8h1M255.8 83.5h1M257.7 83.8h1M254.1 80.7h1M286.7 61.1h1M252.9 79.2h1M256.1 83.1h1M255.2 79.2h1M259.2 79.2h1M272.4 91.2h1M247.3 82.8h1M270.4 61.4h1M263.9 82.5h1M257.2 83.4h1M257.7 82.5h1M251.5 84.2h1M273.2 86.9h1M259.4 75.1h1M247.7 82.0h1M259.2 82.6h1M261.7 75.3h1M256.6 83.9h1M255.0 81.0h1M253.8 81.6h1M255.7 84.8h1M283.4 58.3h1M283.7 61.1h1M258.8 83.7h1M255.1 78.3h1M282.2 58.2h1M255.3 80.9h1M273.4 61.7h1M254.3 77.2h1M258.1 78.7h1M256.4 82.5h1M253.9 80.9h1M257.1 81.6h1M280.5 62.8h1M256.7 78.3h1M256.8 81.9h1M252.0 78.9h1M247.8 73.1h1M273.2 83.1h1M246.4 80.0h1M259.4 78.5h1M254.7 83.4h1M291.7 61.2h1M255.9 83.7h1M252.7 81.8h1M256.9 83.4h1M259.3 80.1h1M254.0 84.8h1M268.3 55.0h1M252.1 83.7h1M246.9 80.2h1M279.3 66.7h1M251.8 77.7h1M254.6 77.7h1M270.8 61.8h1M274.8 75.2h1M253.9 81.7h1M269.2 65.1h1M258.2 84.9h1M254.9 87.0h1M256.4 87.4h1M253.5 84.5h1M247.2 75.3h1M292.5 61.0h1M255.4 82.5h1M284.9 87.6h1M253.8 81.5h1"/>
<path stroke="#d0281c" stroke-opacity="0.42" stroke-width="0.85" d="M281.0 59.5h1M250.3 80.2h1M253.5 78.2h1M262.2 80.8h1M250.5 78.4h1M256.7 85.1h1M253.6 80.7h1M255.4 82.3h1M260.5 82.5h1M259.5 86.7h1M257.1 81.4h1M253.3 77.5h1M279.6 66.0h1M257.1 62.5h1M248.3 78.9h1M280.6 61.5h1M255.3 80.7h1M259.5 84.2h1M265.8 86.6h1M253.2 81.1h1M256.6 75.8h1M257.1 76.8h1M273.1 61.9h1M251.6 59.1h1M258.2 82.0h1M301.6 84.7h1M258.3 81.8h1M255.9 84.1h1M252.8 77.3h1M256.0 81.0h1M267.9 87.6h1M302.4 60.4h1M255.6 80.3h1M257.2 83.8h1M302.0 61.2h1M285.1 63.8h1M274.4 59.9h1M277.0 87.1h1M278.8 59.2h1M257.7 83.9h1M256.2 83.6h1M269.8 63.0h1M296.1 58.1h1M293.8 64.3h1M262.7 81.7h1M250.2 77.3h1M254.2 81.5h1M256.1 80.9h1M301.6 60.7h1M288.3 90.2h1M292.2 63.8h1M256.4 84.9h1M253.9 75.7h1M282.3 62.9h1M254.1 76.3h1M257.0 76.1h1M252.9 88.0h1M278.1 59.1h1M256.5 78.0h1M253.6 88.1h1M255.4 80.3h1M254.7 79.8h1M295.5 57.1h1M296.7 75.0h1M295.1 85.0h1M265.5 76.2h1M249.6 81.5h1M254.9 81.7h1M254.6 82.5h1M254.6 80.9h1M252.7 75.8h1M273.7 63.9h1M251.9 79.7h1M259.0 78.1h1M257.2 81.7h1M251.7 79.5h1M259.5 85.7h1M257.9 87.8h1M257.8 76.7h1M256.2 79.9h1M256.5 79.4h1M290.4 62.2h1M283.0 64.0h1M258.8 81.2h1M264.9 62.5h1M257.2 83.9h1M251.7 80.0h1M256.4 80.8h1M252.6 77.0h1M256.4 86.3h1M296.3 58.4h1M263.0 61.6h1M249.4 83.9h1M257.2 81.3h1M261.1 76.8h1M259.5 81.2h1M257.5 84.5h1M250.6 79.6h1M279.2 59.1h1M254.9 76.8h1M257.8 78.0h1M304.3 90.6h1M253.9 81.9h1M280.8 66.3h1M264.4 77.5h1M258.3 78.2h1M272.9 60.5h1M257.3 78.5h1M256.2 79.8h1M251.5 80.7h1M293.4 62.4h1M256.3 85.0h1M303.7 40.2h1M256.3 82.9h1M251.0 83.0h1M250.6 81.4h1M253.1 79.4h1M267.6 58.5h1M255.2 81.3h1M276.1 62.8h1M279.0 62.0h1M259.8 64.5h1M262.7 80.5h1M255.7 83.4h1M252.5 81.1h1M287.0 63.1h1M271.8 78.9h1M256.2 84.3h1M258.6 82.2h1M250.3 75.8h1M297.7 63.9h1M279.4 79.4h1M257.2 80.6h1M274.8 64.0h1M260.6 77.9h1M272.6 72.2h1M257.6 81.8h1M260.5 84.7h1M266.3 83.5h1M253.1 85.4h1M250.7 86.1h1M282.6 62.6h1M287.1 59.1h1M260.3 78.4h1M252.2 82.5h1M254.6 83.9h1M257.1 84.6h1M257.1 83.4h1M259.7 80.7h1M254.9 79.6h1M287.3 83.0h1M262.2 83.0h1M280.2 63.5h1M259.3 81.7h1M262.9 77.4h1M256.2 77.6h1M286.3 65.6h1M255.9 81.3h1M251.0 79.5h1M256.3 83.7h1M251.5 80.5h1M257.0 81.7h1M256.1 82.2h1M259.1 85.7h1M257.5 84.2h1M289.2 60.4h1M267.1 81.1h1M256.0 79.7h1M255.6 78.6h1M257.0 87.1h1M255.9 76.6h1M257.3 81.8h1M256.1 75.1h1M255.6 80.3h1M297.6 61.2h1M256.3 82.7h1M267.8 61.4h1M253.8 82.2h1M252.9 77.7h1M263.0 57.0h1M285.1 60.1h1M257.3 80.0h1M253.1 79.2h1M256.7 79.3h1M257.9 83.5h1M256.0 82.8h1M302.7 61.7h1M259.1 76.8h1M274.8 90.1h1M257.3 78.8h1M262.5 79.8h1M261.9 79.4h1M263.1 78.7h1M257.7 77.8h1M252.9 81.0h1M263.2 57.4h1M294.9 60.4h1M250.7 79.4h1M285.5 57.1h1M279.3 53.7h1M279.6 59.9h1M272.5 61.7h1M252.9 78.5h1M255.7 76.4h1M283.7 59.7h1M256.4 77.1h1M260.1 80.1h1M257.8 80.1h1M261.2 80.6h1M253.1 81.6h1M257.9 82.4h1M255.4 84.4h1M271.2 60.7h1M280.6 61.4h1M257.7 78.9h1M263.8 77.1h1M284.9 63.0h1M257.6 76.2h1M260.0 82.2h1M256.4 81.9h1M260.7 58.0h1M272.2 80.9h1M253.7 78.4h1M251.3 78.5h1"/>
<path stroke="#d0281c" stroke-opacity="0.42" stroke-width="0.85" d="M260.4 80.8h1M253.7 87.0h1M254.7 77.1h1M255.1 79.5h1M257.6 80.2h1M263.9 76.3h1M256.8 80.6h1M261.8 81.1h1M299.5 76.6h1M263.6 60.8h1M255.9 82.4h1M283.7 61.8h1M274.7 60.5h1M289.3 60.2h1M256.8 79.3h1M265.9 83.9h1M258.6 80.8h1M255.2 78.1h1M256.9 80.4h1M252.0 82.4h1M257.7 81.2h1M260.5 72.3h1M257.7 87.6h1M256.4 87.0h1M253.7 85.3h1M256.8 82.0h1M286.7 61.1h1M249.2 77.4h1M256.9 81.2h1M279.8 63.4h1M262.3 74.6h1M255.9 83.2h1M258.9 75.9h1M252.5 79.3h1M294.5 64.4h1M258.2 78.6h1M250.7 84.6h1M255.2 81.0h1M270.3 78.8h1M300.8 81.9h1M251.3 83.0h1M253.6 78.4h1M262.1 78.8h1M250.2 80.5h1M256.9 78.1h1M288.5 62.2h1M262.1 81.4h1M257.8 77.7h1M275.5 61.5h1M253.8 78.1h1M260.3 80.5h1M253.6 78.0h1M257.3 75.4h1M277.7 59.6h1M254.8 76.6h1M261.2 75.8h1M266.5 84.7h1M256.8 82.8h1M254.7 80.5h1M251.2 87.3h1M293.2 56.8h1M296.8 91.1h1M283.7 57.0h1M268.6 77.1h1M281.0 80.0h1M254.1 76.2h1M260.8 78.6h1M257.6 82.3h1M264.7 79.1h1M282.6 58.6h1M252.2 80.1h1M257.5 82.1h1M294.8 61.3h1M256.2 83.2h1M257.9 79.2h1M250.5 81.4h1M256.0 82.9h1M263.1 80.2h1M264.3 85.5h1M254.9 79.0h1M252.3 81.6h1M304.0 60.0h1M249.2 82.4h1M253.4 83.0h1M262.1 85.5h1M290.7 61.3h1M253.6 77.7h1M256.6 83.0h1M254.6 83.8h1M259.4 85.0h1M252.9 81.2h1M281.3 82.1h1M295.7 61.4h1M258.6 82.9h1M276.2 64.0h1M273.8 59.7h1M251.6 80.8h1M259.5 83.5h1M255.7 82.2h1M280.2 57.3h1M257.5 84.1h1M259.9 80.6h1M258.3 80.3h1M249.7 82.6h1M252.9 82.1h1M274.4 61.5h1M257.4 58.9h1M249.4 78.7h1M254.5 82.8h1M256.1 82.1h1M257.3 74.5h1M272.0 64.1h1M260.1 87.3h1M256.4 77.3h1M303.6 55.0h1M259.4 80.8h1M261.5 76.8h1M255.9 79.4h1M251.4 78.1h1M249.8 81.3h1M255.2 85.1h1M253.7 78.5h1M253.5 79.3h1M248.5 81.5h1M257.2 82.1h1M253.8 77.8h1M258.4 80.4h1M257.1 80.7h1M259.7 77.5h1M256.4 78.9h1M253.7 81.4h1M283.7 59.8h1M257.3 80.0h1M254.9 78.4h1M251.0 74.1h1M271.1 58.9h1M252.9 82.6h1M259.2 79.6h1M257.7 85.9h1M253.5 77.8h1M280.6 75.4h1M254.3 78.5h1M254.9 81.9h1M250.7 79.4h1M288.1 64.6h1M251.8 77.6h1M277.8 91.7h1M268.8 63.4h1M274.4 62.8h1M261.0 80.5h1M253.1 82.3h1M262.7 82.7h1M252.0 75.6h1M256.8 84.7h1M254.3 79.2h1M255.4 84.4h1M289.3 62.7h1M274.2 64.0h1M271.0 54.1h1M288.7 65.4h1M273.2 61.0h1M283.8 58.2h1M249.8 85.1h1M253.0 78.3h1M262.1 74.4h1M251.6 82.1h1M250.0 80.8h1M255.2 75.7h1M258.7 79.8h1M251.1 87.1h1M252.5 84.8h1M251.6 82.0h1M260.2 83.6h1M256.8 84.6h1M284.0 81.7h1M255.0 80.1h1M286.9 72.3h1M257.6 82.0h1M256.3 81.0h1M248.8 85.9h1M298.2 60.2h1M258.0 80.1h1M257.8 80.0h1M256.6 87.8h1M260.6 76.9h1M283.6 61.1h1M255.7 81.8h1M265.4 73.2h1M259.3 81.8h1M249.4 81.2h1M250.9 81.8h1M255.1 83.4h1M254.2 82.0h1M285.6 56.8h1M258.5 82.0h1M256.7 78.6h1M253.4 80.3h1M276.6 61.2h1M296.0 77.4h1M258.7 78.1h1M273.0 74.3h1M283.3 59.1h1M254.6 87.8h1M268.0 63.3h1M251.9 80.6h1M250.4 79.9h1M289.4 60.0h1M256.9 83.4h1M274.2 82.5h1M278.9 58.4h1M275.7 60.5h1M258.5 82.5h1M259.7 74.4h1M256.7 88.2h1M286.9 64.2h1M264.8 78.8h1M270.2 65.7h1M253.8 85.0h1M283.7 61.3h1M260.4 79.3h1M275.6 85.2h1M257.7 81.5h1M252.8 84.4h1M249.4 88.1h1"/>
<path stroke="#d0281c" stroke-opacity="0.42" stroke-width="0.85" d="M261.9 83.6h1M254.2 82.9h1M288.2 61.6h1M252.7 85.2h1M256.0 80.0h1M254.8 84.7h1M280.3 57.4h1M254.8 85.0h1M263.2 73.1h1M253.8 81.2h1M258.2 78.5h1M258.3 83.1h1M259.6 81.4h1M271.3 91.0h1M272.3 55.9h1M260.4 78.7h1M274.3 57.6h1M260.2 80.9h1M254.4 82.4h1M256.5 82.5h1M269.0 59.9h1M247.9 80.5h1M250.4 77.0h1M256.3 81.6h1M258.5 79.9h1M252.9 78.2h1M266.6 60.6h1M265.1 81.2h1M255.7 80.3h1M253.5 85.1h1M258.7 82.7h1M256.8 82.7h1M257.0 81.7h1M255.8 82.4h1M283.2 81.9h1M253.0 83.2h1M256.2 85.8h1M266.1 81.3h1M295.4 77.0h1M266.0 75.8h1M263.0 81.2h1M254.8 80.5h1M258.5 80.0h1M296.0 63.9h1M254.6 81.1h1M254.6 80.5h1M263.7 86.0h1M284.7 87.8h1M255.0 77.9h1M257.6 82.1h1M274.7 64.8h1M253.5 80.6h1M268.0 76.2h1M257.6 78.4h1M267.3 58.9h1M259.0 80.4h1M254.7 81.9h1M254.7 77.5h1M248.6 83.9h1M276.6 61.9h1M259.4 81.9h1M285.8 61.4h1M261.8 85.4h1M269.2 87.6h1M265.9 63.0h1M263.0 85.1h1M257.6 80.0h1M253.9 78.1h1M255.9 83.5h1M257.9 86.0h1M258.0 76.9h1M278.4 62.4h1M254.4 73.2h1M262.6 76.1h1M257.3 78.9h1M253.6 85.5h1M282.1 67.8h1M254.3 77.0h1M249.5 83.1h1M258.9 82.0h1M265.9 80.2h1M256.5 82.6h1M256.6 84.4h1M251.9 77.7h1M258.4 82.7h1M264.2 64.3h1M265.0 79.7h1M256.1 77.2h1M262.2 79.5h1M255.2 80.9h1M288.6 84.7h1M257.0 81.3h1M256.5 82.9h1M255.0 85.0h1M254.4 82.3h1M291.3 58.6h1M257.0 83.6h1M253.2 80.5h1M253.2 81.7h1M254.4 81.1h1M257.3 82.1h1M261.1 84.9h1M255.0 85.3h1M289.6 60.8h1M282.6 60.5h1M255.8 78.6h1M255.0 79.0h1M258.5 81.5h1M254.8 84.3h1M255.8 87.7h1M260.7 67.5h1M251.6 78.7h1M253.7 82.0h1M255.3 77.0h1M251.2 73.5h1M281.3 87.8h1M284.7 63.8h1M251.3 81.7h1M254.9 77.4h1M255.0 81.6h1M257.2 85.4h1M259.2 73.9h1M258.5 83.3h1M302.9 83.2h1M287.8 62.2h1M278.9 62.2h1M262.2 78.4h1M255.3 83.3h1M256.5 81.3h1M279.4 63.2h1M259.6 82.5h1M251.9 76.9h1M255.2 80.6h1M272.3 44.5h1M254.5 76.7h1M252.3 72.3h1M263.6 81.4h1M259.6 81.6h1M247.4 83.6h1M256.4 81.4h1M252.4 80.8h1M269.4 64.8h1M256.6 78.0h1M270.5 62.2h1M252.6 81.5h1M261.1 81.4h1M250.2 79.7h1M280.8 84.1h1M291.9 78.4h1M257.0 81.1h1M260.3 80.8h1M249.0 81.9h1M260.7 78.8h1M267.1 60.5h1M256.2 81.4h1M277.1 64.6h1M283.8 57.0h1M259.5 77.7h1M252.7 78.8h1M257.7 81.6h1M300.5 61.6h1M254.1 85.2h1M256.0 81.3h1M253.6 85.4h1M258.9 80.3h1M262.6 62.7h1M256.4 80.5h1M257.1 84.9h1M250.3 84.4h1M256.5 81.2h1M257.2 84.9h1M282.5 61.6h1M255.3 82.4h1M274.8 84.2h1M257.0 60.7h1M252.9 82.2h1M255.8 77.3h1M259.9 84.8h1M262.1 81.8h1M253.5 82.6h1M258.4 81.8h1M255.2 79.3h1M253.4 86.3h1M254.1 81.1h1M262.4 84.7h1M258.8 82.0h1M254.6 75.6h1M251.0 79.7h1M262.9 76.0h1M254.1 85.4h1M257.8 81.8h1M255.8 81.1h1M254.7 79.9h1M255.9 82.0h1M254.3 79.8h1M258.6 80.5h1M257.1 86.5h1M268.4 84.4h1M264.6 76.6h1M253.1 73.5h1M300.3 62.3h1M284.4 56.8h1M251.6 83.6h1M256.3 86.7h1M255.5 84.3h1M247.6 81.9h1M251.2 79.7h1M256.0 81.4h1M255.2 81.2h1M252.7 85.6h1M266.2 58.7h1M255.8 83.4h1M253.5 81.6h1M257.0 80.0h1M264.6 78.3h1M287.0 61.3h1M258.8 80.2h1M281.3 60.5h1M257.5 81.1h1M257.0 57.7h1M253.2 79.6h1M256.3 80.0h1M258.2 78.8h1"/>
<path stroke="#d0281c" stroke-opacity="0.42" stroke-width="0.85" d="M257.4 77.1h1M254.6 75.6h1M286.8 54.0h1M257.8 83.8h1M257.1 78.9h1M260.4 85.2h1M254.2 82.1h1M251.4 77.7h1M255.8 80.4h1M253.6 77.7h1M284.5 61.4h1M258.4 80.3h1M257.3 80.1h1M258.9 76.4h1M256.1 79.1h1M254.0 86.5h1M251.3 77.2h1M254.6 85.7h1M255.7 80.6h1M263.5 78.8h1M252.5 78.4h1M262.0 79.3h1M260.5 82.2h1M262.1 81.9h1M263.0 82.2h1M301.2 43.4h1M257.1 84.5h1M269.0 78.8h1M265.9 64.1h1M260.0 80.1h1M256.2 78.4h1M258.6 83.9h1M256.8 80.0h1M277.3 61.4h1M260.7 80.7h1M253.0 80.1h1M251.8 78.4h1M263.8 79.1h1M256.9 83.6h1M271.1 60.4h1M250.3 89.1h1M268.7 76.6h1M253.1 76.9h1M256.5 80.5h1M246.4 78.6h1M249.6 79.2h1M253.3 80.7h1M267.1 75.1h1M297.7 65.0h1M254.0 78.0h1M289.7 59.6h1M254.3 75.1h1M258.3 79.7h1M286.5 62.0h1M264.9 86.8h1M268.1 75.7h1M291.2 60.2h1M252.0 82.1h1M267.3 81.3h1M250.0 81.3h1M291.0 60.3h1M285.3 58.5h1M253.6 71.8h1M251.6 83.3h1M252.0 80.5h1M248.7 75.5h1M254.8 75.8h1M298.3 86.4h1M252.5 77.9h1M255.3 74.7h1M256.1 80.5h1M256.9 77.2h1M292.8 60.2h1M257.5 89.6h1M257.2 76.1h1M252.3 88.0h1M262.5 78.1h1M255.2 81.4h1M258.3 80.1h1M254.7 80.0h1M258.6 80.0h1M290.1 83.7h1M298.9 58.5h1M263.5 79.4h1M263.5 82.9h1M260.9 82.4h1M258.1 79.9h1M254.5 86.4h1M257.0 76.0h1M277.5 75.3h1M254.5 78.2h1M272.7 61.9h1M256.4 77.4h1M252.0 81.5h1M252.8 73.5h1M255.8 82.7h1M249.9 79.0h1M270.2 56.9h1M255.8 82.4h1M254.7 79.8h1M256.5 84.7h1M255.4 80.1h1M254.4 82.7h1M280.2 56.9h1M257.9 80.6h1M252.2 76.9h1M260.5 77.0h1M261.5 83.7h1M301.3 60.6h1M256.4 78.2h1M252.1 85.8h1M289.4 61.3h1M257.7 78.2h1M256.8 82.2h1M260.3 77.5h1M253.1 85.2h1M252.9 83.5h1M257.8 77.8h1M290.9 56.7h1M290.5 61.4h1M271.3 59.7h1M252.3 81.6h1M250.5 82.9h1M260.7 64.3h1M278.4 61.9h1M248.8 80.1h1M254.0 77.6h1M278.6 72.1h1M263.2 85.8h1M253.4 79.9h1M261.4 75.9h1M287.8 59.8h1M258.5 80.3h1M256.1 81.7h1M278.8 62.0h1M252.4 78.7h1M300.4 81.2h1M292.5 61.6h1M258.1 75.4h1M265.6 82.8h1M256.6 75.8h1M287.1 88.9h1M258.8 82.4h1M256.8 77.1h1M258.3 81.0h1M261.0 77.1h1M253.2 75.2h1M283.2 60.9h1M253.0 78.2h1M294.8 63.8h1M256.1 80.0h1M300.3 86.1h1M274.5 79.1h1M250.3 80.3h1M251.4 84.6h1M256.6 82.1h1M256.7 80.8h1M275.5 58.2h1M256.8 82.9h1M253.3 84.0h1M255.6 82.3h1M271.2 62.0h1M256.7 80.3h1M269.3 68.4h1M258.4 84.3h1M254.6 82.3h1M302.6 73.4h1M277.9 59.0h1M286.6 63.0h1M259.9 75.5h1M296.8 80.4h1M260.7 80.3h1M251.9 82.0h1M255.2 86.1h1M255.2 84.6h1M254.2 81.9h1M255.8 82.2h1M254.2 79.7h1M250.4 85.1h1M284.3 59.3h1M258.2 77.0h1M257.8 76.6h1M257.2 76.9h1M291.6 62.6h1M299.9 62.3h1M282.5 62.9h1M250.7 77.8h1M253.5 81.4h1M249.2 87.0h1M290.5 65.5h1M260.8 81.3h1M253.4 79.3h1M251.1 81.0h1M260.6 76.2h1M270.9 84.9h1M253.8 79.0h1M252.3 82.6h1M254.6 82.1h1M255.2 80.5h1M260.3 58.6h1M280.0 60.6h1M259.5 82.4h1M249.1 79.1h1M259.6 78.9h1M283.2 63.6h1M259.5 81.0h1M258.0 74.9h1M263.7 76.9h1M250.6 77.7h1M253.7 81.7h1M248.5 79.7h1M261.2 87.5h1M256.4 85.1h1M250.4 81.2h1M256.4 62.5h1M248.4 79.3h1M256.4 77.0h1M253.5 83.1h1M251.0 79.1h1M264.6 62.4h1M251.1 80.9h1M252.7 82.6h1M255.2 81.3h1"/>
<ellipse cx="255.6" cy="81.2" rx="5.2" ry="4.4" fill="#cc1d14" fill-opacity="0.85"/>
<path d="M273.1 37.5V92.6M245.5 68.1H307.2" stroke="#8c8c8c" stroke-width="0.6" fill="none"/>
<rect x="264.4" y="60.9" width="2.4" height="2" fill="none" stroke="#888" stroke-width="0.6"/>
<rect x="278.5" y="60.9" width="2.4" height="2" fill="none" stroke="#888" stroke-width="0.6"/>
<rect x="264.4" y="74.4" width="2.4" height="2" fill="none" stroke="#888" stroke-width="0.6"/>
<rect x="278.5" y="74.4" width="2.4" height="2" fill="none" stroke="#888" stroke-width="0.6"/>
<rect x="245.5" y="37.5" width="61.7" height="55.1" fill="none" stroke="#231f20" stroke-width="1"/>
<path d="M245.5 42h-3M245.5 55h-3M245.5 68.5h-3M245.5 81.9h-3M245.5 45.9h-1.8M245.5 48.24h-1.8M245.5 49.8h-1.8M245.5 51.1h-1.8M245.5 52.14h-1.8M245.5 53.05h-1.8M245.5 53.83h-1.8M245.5 54.48h-1.8M245.5 59.05h-1.8M245.5 61.48h-1.8M245.5 63.1h-1.8M245.5 64.45h-1.8M245.5 65.53h-1.8M245.5 66.47h-1.8M245.5 67.28h-1.8M245.5 67.96h-1.8M245.5 72.52h-1.8M245.5 74.93h-1.8M245.5 76.54h-1.8M245.5 77.88h-1.8M245.5 78.95h-1.8M245.5 79.89h-1.8M245.5 80.69h-1.8M245.5 81.36h-1.8M245.5 86.4h-1.5M245.5 88.9h-1.5M253.9 92.6v2.6M270.8 92.6v2.6M285.5 92.6v2.6M299.9 92.6v2.6M258.97 92.6v1.5M262.01 92.6v1.5M264.04 92.6v1.5M265.73 92.6v1.5M267.08 92.6v1.5M268.26 92.6v1.5M269.28 92.6v1.5M270.12 92.6v1.5M275.21 92.6v1.5M277.86 92.6v1.5M279.62 92.6v1.5M281.09 92.6v1.5M282.27 92.6v1.5M283.3 92.6v1.5M284.18 92.6v1.5M284.91 92.6v1.5M289.82 92.6v1.5M292.41 92.6v1.5M294.14 92.6v1.5M295.58 92.6v1.5M296.73 92.6v1.5M297.74 92.6v1.5M298.6 92.6v1.5M299.32 92.6v1.5M248.83 92.6v1.5M245.45 92.6v1.5M242.07 92.6v1.5M239.53 92.6v1.5" stroke="#231f20" stroke-width="0.8" fill="none"/>
<text x="228.1" y="45.6" font-size="9" stroke-width="0.14"><tspan textLength="8.8" lengthAdjust="spacingAndGlyphs">10</tspan><tspan font-size="6" dy="-3.3" dx="0.2">5</tspan></text>
<text x="228.1" y="58.6" font-size="9" stroke-width="0.14"><tspan textLength="8.8" lengthAdjust="spacingAndGlyphs">10</tspan><tspan font-size="6" dy="-3.3" dx="0.2">4</tspan></text>
<text x="228.1" y="72.1" font-size="9" stroke-width="0.14"><tspan textLength="8.8" lengthAdjust="spacingAndGlyphs">10</tspan><tspan font-size="6" dy="-3.3" dx="0.2">3</tspan></text>
<text x="228.1" y="85.5" font-size="9" stroke-width="0.14"><tspan textLength="8.8" lengthAdjust="spacingAndGlyphs">10</tspan><tspan font-size="6" dy="-3.3" dx="0.2">2</tspan></text>
<text x="249.8" y="105.7" font-size="9" stroke-width="0.14"><tspan textLength="8.8" lengthAdjust="spacingAndGlyphs">10</tspan><tspan font-size="6" dy="-3.3" dx="0.2">2</tspan></text>
<text x="266.7" y="105.7" font-size="9" stroke-width="0.14"><tspan textLength="8.8" lengthAdjust="spacingAndGlyphs">10</tspan><tspan font-size="6" dy="-3.3" dx="0.2">3</tspan></text>
<text x="281.4" y="105.7" font-size="9" stroke-width="0.14"><tspan textLength="8.8" lengthAdjust="spacingAndGlyphs">10</tspan><tspan font-size="6" dy="-3.3" dx="0.2">4</tspan></text>
<text x="295.8" y="105.7" font-size="9" stroke-width="0.14"><tspan textLength="8.8" lengthAdjust="spacingAndGlyphs">10</tspan><tspan font-size="6" dy="-3.3" dx="0.2">5</tspan></text>
<text x="247.5" y="44.5" font-size="8.4" stroke-width="0.12" textLength="24" lengthAdjust="spacingAndGlyphs">MIG–CTL</text>
<text x="276.2" y="44.5" font-size="8.4" stroke-width="0.12" textLength="30.3" lengthAdjust="spacingAndGlyphs">6.3±2.3%</text>
<text x="278.7" y="91.6" font-size="8.4" stroke-width="0.12" textLength="27.8" lengthAdjust="spacingAndGlyphs">0.9±0.3%</text>
<path stroke="#d0281c" stroke-opacity="0.42" stroke-width="0.85" d="M282.4 140.4h1M260.1 158.8h1M288.8 139.8h1M271.1 164.9h1M256.5 159.6h1M255.1 166.3h1M252.7 159.8h1M262.8 140.4h1M255.2 159.8h1M253.0 162.8h1M302.0 139.2h1M268.1 156.8h1M268.6 152.3h1M254.7 160.7h1M288.6 148.7h1M252.7 161.7h1M263.3 162.3h1M281.9 136.7h1M252.4 158.6h1M253.7 155.6h1M295.8 160.4h1M280.4 138.0h1M253.9 155.1h1M248.1 163.9h1M249.8 161.0h1M252.9 165.0h1M276.1 141.2h1M285.3 135.7h1M303.6 116.4h1M284.5 157.8h1M273.9 139.3h1M296.6 136.4h1M295.5 138.2h1M285.9 137.6h1M285.0 140.7h1M252.7 161.9h1M300.0 139.4h1M264.2 138.9h1M247.2 163.1h1M250.9 160.1h1M263.5 159.9h1M285.5 141.5h1M251.8 158.4h1M251.0 160.0h1M249.9 162.9h1M257.8 152.1h1M293.1 139.0h1M260.4 141.8h1M286.0 137.7h1M259.0 161.1h1M267.8 166.1h1M296.3 137.1h1M288.6 144.2h1M255.9 137.6h1M304.1 137.8h1M248.6 156.4h1M277.0 137.7h1M251.4 162.0h1M252.9 161.5h1M254.9 158.6h1M253.8 157.6h1M252.3 159.6h1M283.4 150.8h1M252.9 160.7h1M250.9 156.7h1M250.6 142.5h1M270.2 141.6h1M266.4 152.9h1M252.7 165.2h1M287.0 139.2h1M250.7 162.5h1M250.4 160.7h1M300.1 140.1h1M253.3 162.3h1M245.9 163.7h1M250.3 161.3h1M252.9 159.2h1M257.5 162.0h1M248.7 158.9h1M283.1 139.5h1M251.4 155.7h1M253.1 155.0h1M256.7 156.8h1M287.1 136.5h1M253.5 157.5h1M254.9 159.2h1M281.7 141.0h1M274.5 152.2h1M283.2 138.7h1M299.3 140.9h1M254.2 164.1h1M278.2 140.0h1M249.1 156.9h1M273.1 156.3h1M259.1 141.0h1M253.8 162.0h1M253.7 163.1h1M263.4 142.3h1M251.0 159.1h1M248.3 161.3h1M287.3 138.4h1M253.2 160.8h1M253.5 157.2h1M254.2 134.2h1M248.5 165.5h1M251.5 159.6h1M284.4 140.4h1M252.3 151.4h1M282.6 139.1h1M271.7 139.5h1M248.2 162.5h1M284.4 134.3h1M251.6 159.8h1M251.9 161.5h1M289.0 141.6h1M251.8 161.3h1M291.8 138.9h1M253.4 159.3h1M251.6 163.5h1M272.5 139.4h1M255.4 162.1h1M255.7 158.6h1M277.8 140.9h1M258.4 158.8h1M255.1 156.7h1M251.3 160.0h1M267.3 136.6h1M270.9 141.5h1M290.7 141.1h1M256.1 157.3h1M255.6 156.6h1M254.1 160.7h1M282.7 136.6h1M254.5 145.3h1M252.5 159.7h1M299.9 145.9h1M254.4 164.3h1M287.6 136.6h1M282.3 138.7h1M251.5 160.9h1M289.1 136.1h1M253.5 158.8h1M249.6 159.6h1M264.3 143.4h1M252.0 155.6h1M281.7 156.6h1M283.1 138.3h1M281.8 141.1h1M254.5 163.7h1M251.8 161.8h1M250.1 162.1h1M272.7 162.1h1M252.6 158.2h1M304.7 137.6h1M253.1 158.4h1M293.9 136.9h1M251.6 158.0h1M254.7 159.6h1M253.9 160.3h1M287.8 138.5h1M271.7 140.4h1M279.1 136.9h1M266.4 158.5h1M277.3 159.3h1M254.9 159.6h1M253.8 157.7h1M290.8 138.8h1M253.5 161.1h1M251.7 152.6h1M253.8 158.6h1M250.9 165.5h1M293.6 137.8h1M252.6 158.9h1M273.6 138.7h1M253.8 161.2h1M278.7 163.8h1M278.4 139.9h1M252.9 160.0h1M266.3 157.5h1M251.8 157.1h1M248.3 156.6h1M267.7 142.0h1M256.0 137.7h1M254.6 158.7h1M245.5 157.4h1M248.5 153.9h1M251.8 167.3h1M252.9 157.3h1M253.6 158.1h1M282.6 140.4h1M253.0 158.2h1M275.4 151.5h1M287.6 141.2h1M253.1 161.2h1M302.2 144.9h1M300.7 138.1h1M284.5 141.0h1M252.2 154.6h1M285.4 140.7h1M284.0 138.5h1M260.2 161.8h1M264.4 150.9h1M280.5 135.1h1M251.6 154.5h1M249.7 157.7h1M291.7 138.9h1M292.7 138.4h1M255.7 162.3h1M256.3 159.2h1M279.5 136.3h1M266.8 162.8h1M250.4 162.6h1M285.1 138.8h1M272.7 155.4h1M249.9 161.9h1M249.4 163.7h1M288.1 139.7h1M250.2 159.4h1M255.7 155.4h1M295.1 136.1h1M264.1 164.3h1M249.7 162.9h1M298.1 137.7h1M259.7 150.1h1M251.1 156.5h1M268.4 138.0h1M281.3 139.9h1M252.9 161.2h1M255.1 157.9h1M253.3 156.1h1M288.6 137.0h1M255.1 157.6h1M254.7 153.0h1M294.5 140.6h1M289.4 139.0h1M254.1 162.2h1M252.8 165.3h1M274.3 155.7h1M289.6 136.7h1M266.0 153.1h1M289.9 138.3h1M253.0 158.3h1M250.5 157.2h1M254.5 152.6h1M297.3 161.8h1M272.5 136.2h1M251.8 165.7h1M252.5 164.2h1"/>
<path stroke="#d0281c" stroke-opacity="0.42" stroke-width="0.85" d="M253.0 152.8h1M253.8 162.1h1M274.2 158.2h1M254.6 157.2h1M252.0 157.3h1M256.8 152.3h1M248.3 161.2h1M301.8 139.4h1M256.4 155.5h1M251.1 162.0h1M255.3 137.7h1M298.8 137.6h1M257.7 159.3h1M294.4 138.9h1M291.4 138.6h1M251.3 159.4h1M250.3 156.8h1M278.6 162.9h1M255.7 153.8h1M253.2 155.3h1M253.3 161.1h1M252.3 158.8h1M278.0 139.8h1M250.0 156.3h1M302.9 139.6h1M248.3 165.1h1M253.8 161.1h1M254.6 161.7h1M289.1 164.8h1M288.1 136.7h1M287.1 139.6h1M291.8 137.6h1M278.1 160.2h1M301.0 140.1h1M250.3 155.9h1M268.1 142.0h1M251.3 163.0h1M280.7 137.7h1M271.6 138.1h1M251.7 157.9h1M250.4 161.0h1M291.9 139.7h1M265.8 140.0h1M295.3 138.6h1M257.0 155.5h1M251.8 161.4h1M286.2 151.3h1M251.6 159.8h1M293.4 139.4h1M245.7 161.8h1M294.8 143.5h1M276.8 140.5h1M284.5 141.5h1M262.5 142.1h1M283.4 136.8h1M288.4 140.8h1M256.1 156.0h1M251.3 162.1h1M253.3 158.9h1M251.9 163.6h1M289.6 139.9h1M252.6 165.4h1M251.6 160.8h1M269.2 140.0h1M250.5 156.6h1M272.0 141.2h1M256.1 160.7h1M248.9 161.4h1M275.7 141.3h1M299.6 140.0h1M273.0 159.2h1M255.2 158.2h1M273.2 136.3h1M257.6 160.0h1M255.8 150.1h1M251.5 161.4h1M278.8 138.9h1M250.3 157.3h1M290.5 136.7h1M248.7 157.5h1M256.4 162.2h1M282.0 138.4h1M251.7 153.9h1M284.8 138.5h1M292.6 141.6h1M256.2 161.9h1M251.7 156.5h1M253.7 162.5h1M259.7 140.6h1M290.6 139.9h1M254.5 162.4h1M249.6 156.5h1M253.9 162.7h1M300.9 136.7h1M251.8 160.6h1M255.1 165.7h1M304.0 138.0h1M254.5 158.0h1M271.3 137.7h1M253.6 162.8h1M275.7 162.3h1M296.5 166.4h1M280.0 138.6h1M277.8 139.6h1M250.5 162.8h1M283.1 138.7h1M302.8 141.6h1M252.7 162.9h1M288.6 139.3h1M253.5 160.6h1M291.6 141.0h1M257.1 157.6h1M281.3 142.1h1M283.9 137.8h1M281.7 137.4h1M255.4 159.4h1M284.9 141.1h1M289.7 140.0h1M254.2 153.2h1M289.5 136.5h1M252.5 165.8h1M256.9 163.0h1M288.6 140.7h1M249.0 158.5h1M252.0 155.6h1M293.8 140.8h1M252.0 160.0h1M256.0 160.0h1M271.6 139.7h1M252.1 160.5h1M254.2 160.6h1M276.2 138.1h1M290.0 139.0h1M263.1 136.5h1M254.3 163.1h1M252.1 160.0h1M249.9 156.4h1M247.9 164.3h1M250.7 160.5h1M249.7 163.4h1M248.7 159.1h1M285.6 137.5h1M258.2 159.7h1M269.8 160.3h1M277.2 137.7h1M253.5 162.6h1M273.6 157.1h1M252.9 162.5h1M276.8 137.7h1M251.9 158.1h1M253.9 158.0h1M255.1 153.1h1M256.6 159.3h1M255.2 154.1h1M266.8 139.8h1M250.0 164.0h1M252.2 164.6h1M249.4 157.8h1M294.2 140.5h1M278.4 137.9h1M295.2 136.8h1M304.6 141.1h1M273.1 139.2h1M257.4 159.2h1M253.9 157.4h1M279.1 133.1h1M249.9 159.9h1M265.5 144.1h1M288.2 136.4h1M301.0 137.4h1M276.2 141.1h1M248.7 159.5h1M255.0 164.2h1M256.9 155.0h1M290.1 137.1h1M272.7 136.5h1M290.9 138.7h1M292.6 139.7h1M292.7 140.0h1M252.9 162.9h1M279.1 162.8h1M275.4 153.1h1M255.8 160.8h1M254.1 167.2h1M300.8 141.5h1M293.1 158.7h1M260.1 165.9h1M252.2 158.3h1M251.6 150.8h1M254.1 161.9h1M295.2 138.7h1M251.4 158.1h1M250.8 157.2h1M248.4 156.4h1M249.5 162.7h1M253.8 165.1h1M254.8 161.0h1M257.4 158.0h1M291.2 141.3h1M245.6 160.2h1M251.7 162.7h1M289.6 137.2h1M249.8 160.2h1M248.4 158.6h1M262.5 136.8h1M254.9 139.6h1M294.0 137.4h1M285.9 159.7h1M253.4 158.1h1M256.4 141.3h1M280.7 137.0h1M287.2 141.8h1M252.3 155.0h1M254.1 163.6h1M284.1 136.4h1M290.6 139.0h1M249.1 141.3h1M250.9 164.4h1M250.6 162.8h1M278.5 161.8h1M286.6 137.8h1M299.7 136.7h1M259.2 148.8h1M290.8 137.7h1M253.4 162.0h1M279.4 139.1h1M252.4 159.3h1M281.4 138.3h1M255.0 139.3h1M294.4 138.5h1M280.7 115.7h1M296.6 141.4h1M250.9 161.0h1M277.2 158.1h1M293.3 136.6h1M249.5 163.3h1M255.2 159.9h1M281.5 139.6h1M252.4 162.0h1M249.9 156.8h1M250.1 162.5h1M292.9 141.2h1M270.1 138.7h1M255.5 160.6h1M250.8 162.8h1M285.4 137.4h1M253.2 156.2h1M253.5 161.3h1"/>
<path stroke="#d0281c" stroke-opacity="0.42" stroke-width="0.85" d="M254.8 156.5h1M254.0 157.7h1M275.9 138.3h1M285.7 137.7h1M267.5 138.7h1M294.0 140.0h1M255.4 162.1h1M252.0 158.7h1M250.0 160.2h1M291.2 135.2h1M252.2 156.1h1M301.7 157.7h1M266.2 160.0h1M253.1 160.6h1M270.4 136.6h1M255.9 159.8h1M286.1 141.1h1M252.6 158.1h1M251.0 158.0h1M251.1 161.6h1M253.2 161.4h1M251.5 153.6h1M268.9 160.9h1M253.2 161.0h1M250.8 155.2h1M250.3 157.2h1M271.4 138.9h1M306.0 139.7h1M284.0 137.1h1M298.3 138.6h1M291.0 122.3h1M278.8 138.0h1M292.0 142.2h1M283.5 141.5h1M252.9 161.3h1M256.0 158.3h1M249.7 158.2h1M266.5 137.7h1M267.5 152.8h1M265.9 167.8h1M292.1 135.6h1M253.2 160.4h1M252.4 155.5h1M253.4 161.6h1M285.3 138.7h1M289.3 153.6h1M256.1 163.1h1M293.5 141.0h1M253.5 155.4h1M275.3 134.3h1M250.4 161.3h1M253.6 159.6h1M253.9 156.9h1M294.6 136.9h1M264.7 138.0h1M270.0 160.3h1M291.7 138.9h1M273.4 138.4h1M250.4 154.5h1M253.2 162.1h1M270.0 138.3h1M253.0 158.2h1M255.7 162.1h1M247.5 162.0h1M279.0 160.3h1M252.1 157.0h1M253.8 158.9h1M251.8 159.9h1M264.1 156.9h1M272.6 161.0h1M294.0 140.2h1M254.7 159.1h1M256.1 160.2h1M254.5 164.2h1M254.6 156.0h1M255.1 165.0h1M253.3 156.1h1M253.2 157.8h1M300.9 139.3h1M284.6 139.5h1M251.5 157.0h1M249.3 160.8h1M254.9 165.7h1M294.6 140.6h1M277.3 135.7h1M254.3 162.2h1M249.2 156.5h1M279.8 139.9h1M288.9 139.3h1M253.5 157.1h1M296.5 161.5h1M254.2 157.1h1M255.9 162.3h1M252.5 161.3h1M253.3 155.7h1M274.6 138.5h1M267.7 161.6h1M249.1 159.2h1M257.1 155.7h1M250.3 160.9h1M249.7 164.5h1M287.2 150.9h1M266.3 137.2h1M251.3 158.0h1M280.9 137.5h1M286.0 141.7h1M278.6 142.0h1M261.8 136.3h1M254.7 157.9h1M269.3 160.1h1M255.6 160.1h1M252.4 159.3h1M288.8 136.4h1M247.3 162.9h1M251.3 164.8h1M285.5 138.8h1M290.0 140.1h1M284.3 139.4h1M277.0 138.1h1M292.6 138.2h1M294.8 142.5h1M252.8 158.0h1M269.4 163.9h1M250.6 150.8h1M300.3 139.0h1M297.6 137.1h1M299.1 138.0h1M253.3 157.4h1M250.4 158.3h1M257.6 161.4h1M252.5 159.3h1M252.6 158.7h1M251.6 156.9h1M274.7 140.0h1M248.7 158.9h1M253.6 161.1h1M250.8 157.7h1M258.3 139.8h1M283.8 141.3h1M291.4 137.7h1M295.7 138.9h1M249.6 166.5h1M251.0 154.1h1M251.3 162.9h1M289.3 139.9h1M283.3 139.3h1M272.5 161.5h1M250.5 161.1h1M249.9 158.9h1M271.8 139.1h1M259.4 138.4h1M252.9 164.5h1M253.1 158.9h1M256.9 161.1h1M286.3 136.8h1M269.2 138.4h1M249.2 159.5h1M255.5 155.1h1M252.4 163.2h1M299.4 139.3h1M295.8 141.0h1M254.1 159.2h1M283.7 140.4h1M270.0 137.4h1M284.6 140.0h1M253.3 164.4h1M251.1 158.5h1M251.3 160.0h1M290.1 139.1h1M276.7 162.4h1M300.3 138.6h1M296.5 141.0h1M255.6 160.3h1M289.9 138.3h1M292.0 136.5h1M251.5 161.9h1M289.3 141.1h1M262.8 164.0h1M290.5 141.2h1M288.6 137.9h1M255.6 155.9h1M293.9 141.8h1M251.9 159.4h1M284.7 138.8h1M266.4 161.7h1M251.9 164.3h1M256.6 158.0h1M251.8 158.0h1M250.6 162.1h1M289.6 138.7h1M252.6 157.4h1M245.7 163.5h1M274.9 138.2h1M272.9 141.0h1M280.2 139.8h1M252.3 161.9h1M255.0 162.2h1M255.4 159.8h1M251.2 159.6h1M258.0 158.7h1M254.4 164.6h1M256.1 154.7h1M286.8 137.8h1M292.8 143.2h1M275.4 139.2h1M264.4 138.8h1M251.5 158.3h1M251.3 163.1h1M293.7 139.0h1M263.7 135.5h1M257.4 158.9h1M250.9 162.4h1M258.3 162.1h1M254.4 161.5h1M282.4 155.6h1M253.0 159.2h1M270.5 158.5h1M289.6 138.0h1M278.3 137.5h1M249.6 160.8h1M303.1 163.6h1M252.4 160.2h1M270.1 138.4h1M254.9 156.6h1M284.9 138.4h1M258.8 164.9h1M289.3 137.7h1M287.6 161.6h1M286.4 139.8h1M255.3 158.4h1M251.2 159.1h1M300.5 138.9h1M283.4 138.8h1M276.0 141.0h1M273.0 139.5h1M255.2 160.8h1M261.4 140.3h1M257.3 163.4h1M293.7 139.4h1M284.7 134.4h1M262.2 140.0h1M257.3 164.8h1M255.6 167.1h1M251.2 139.6h1M257.4 136.9h1M253.0 160.0h1M251.3 159.9h1M254.0 162.9h1"/>
<path stroke="#d0281c" stroke-opacity="0.42" stroke-width="0.85" d="M282.4 138.1h1M253.9 151.8h1M253.4 161.5h1M249.3 156.3h1M291.3 157.1h1M251.7 159.2h1M270.7 160.1h1M281.8 139.6h1M298.8 137.2h1M286.8 137.6h1M249.7 158.6h1M283.2 140.0h1M271.5 160.7h1M250.3 158.9h1M253.1 155.2h1M256.1 163.8h1M250.6 156.6h1M255.4 156.1h1M251.4 156.4h1M265.0 138.2h1M291.1 138.4h1M256.7 158.0h1M252.4 160.3h1M299.4 140.5h1M257.7 135.9h1M252.7 157.7h1M293.4 138.9h1M265.1 153.6h1M245.9 163.8h1M268.3 138.9h1M283.1 138.6h1M252.2 165.1h1M250.2 165.0h1M253.8 153.7h1M298.0 138.5h1M253.5 161.7h1M289.6 136.2h1M254.7 156.8h1M288.8 137.3h1M291.1 139.1h1M250.5 155.3h1M301.7 140.1h1M273.9 140.3h1M249.5 156.9h1M271.5 154.5h1M289.0 155.9h1M253.4 159.5h1M251.0 156.4h1M251.2 158.7h1M251.1 157.0h1M302.1 165.0h1M272.9 139.6h1M283.6 138.7h1M250.9 160.6h1M275.4 152.1h1M273.4 150.4h1M282.0 146.4h1M256.7 157.7h1M252.8 157.2h1M288.6 135.1h1M252.9 163.3h1M255.1 164.4h1M253.4 158.7h1M288.0 139.5h1M253.2 160.3h1M251.9 159.9h1M256.1 160.8h1M251.0 163.9h1M251.5 156.6h1M286.5 137.9h1M254.4 161.5h1M253.7 161.9h1M253.8 163.5h1M271.7 139.7h1M265.8 141.1h1M252.4 157.5h1M250.9 155.7h1M274.2 138.3h1M251.4 159.0h1M248.1 162.0h1M255.2 159.7h1M258.7 164.5h1M303.7 139.3h1M254.5 159.9h1M281.5 134.6h1M253.1 156.9h1M268.3 154.2h1M265.8 161.4h1M271.3 155.1h1M251.5 160.3h1M256.6 156.7h1M278.6 140.6h1M290.8 138.8h1M276.0 135.2h1M292.7 138.2h1M263.1 141.4h1M247.4 155.8h1M254.3 162.6h1M251.6 160.8h1M295.3 137.4h1M252.4 157.0h1M276.3 139.2h1M254.4 164.6h1M294.3 137.0h1M273.9 161.1h1M281.1 139.8h1M290.2 141.3h1M251.2 141.5h1M253.0 156.7h1M253.1 164.6h1M276.9 138.2h1M251.0 152.9h1M285.7 150.6h1M262.9 158.2h1M250.8 159.4h1M289.8 139.5h1M252.4 157.7h1M290.8 135.1h1M273.5 139.8h1M250.4 163.6h1M251.6 157.0h1M276.0 146.5h1M252.2 159.6h1M290.4 137.1h1M249.7 159.9h1M296.1 140.7h1M271.7 139.5h1M284.7 161.2h1M250.4 157.6h1M250.3 159.2h1M261.7 138.8h1M301.2 138.8h1M251.3 164.2h1M249.2 156.1h1M292.9 139.9h1M256.0 164.9h1M297.7 138.9h1M255.0 163.2h1M247.3 161.4h1M252.0 155.3h1M251.7 161.0h1M253.4 159.5h1M260.9 164.8h1M253.6 164.3h1M266.3 138.6h1M250.8 159.9h1M260.6 156.5h1M282.4 139.8h1M296.7 140.6h1M252.5 158.3h1M274.0 160.9h1M279.4 138.8h1M294.2 139.7h1M281.3 151.3h1M293.4 140.1h1M282.8 136.9h1M251.8 159.4h1M257.6 163.2h1M295.8 140.7h1M266.8 138.8h1M251.9 160.1h1M257.6 155.7h1M278.0 140.2h1M264.0 140.6h1M250.8 155.1h1M254.0 155.6h1M252.0 156.1h1M283.5 138.4h1M290.8 142.3h1M287.6 139.8h1M273.3 155.5h1M259.5 136.7h1M259.8 147.9h1M264.3 137.0h1M277.2 137.4h1M286.3 139.9h1M278.1 139.7h1M256.4 164.0h1M250.7 161.8h1M269.6 159.1h1M266.6 137.1h1M300.8 137.5h1M251.0 158.7h1M251.4 156.8h1M290.0 155.8h1M288.7 135.9h1M252.1 160.5h1M256.4 158.8h1M284.2 139.3h1M266.1 117.8h1M283.8 140.3h1M283.9 139.1h1M253.5 164.1h1M292.4 140.5h1M258.7 151.4h1M259.3 157.3h1M252.3 158.7h1M247.9 161.0h1M276.1 138.1h1M292.8 140.4h1M297.5 135.6h1M265.0 154.7h1M254.8 163.4h1M252.0 156.2h1M253.5 159.8h1M252.3 165.8h1M249.6 162.7h1M252.9 159.9h1M290.8 140.5h1M297.9 163.8h1M253.4 165.2h1M286.6 152.9h1M289.4 140.8h1M252.3 163.5h1M252.0 160.4h1M253.6 156.7h1M253.7 155.8h1M291.8 138.4h1M254.3 158.9h1M254.3 168.5h1M270.0 138.7h1M251.5 160.3h1M291.1 138.2h1M277.1 142.2h1M253.2 150.9h1M302.5 140.6h1M290.8 141.4h1M261.6 164.6h1M298.8 141.3h1M251.7 162.3h1M252.8 162.4h1M276.4 140.8h1M267.1 160.0h1M253.1 165.1h1M251.4 162.5h1M280.6 139.7h1M273.0 158.8h1M295.1 142.0h1M289.7 143.3h1M254.0 164.4h1M254.8 162.9h1M256.1 157.4h1M248.8 158.3h1M254.8 152.1h1M251.9 165.4h1M281.0 139.6h1M255.1 161.9h1"/>
<path stroke="#d0281c" stroke-opacity="0.42" stroke-width="0.85" d="M275.5 137.8h1M295.7 138.4h1M303.2 140.9h1M276.4 141.8h1M251.3 161.5h1M297.7 155.7h1M250.4 156.6h1M298.4 138.3h1M253.4 160.4h1M269.6 138.0h1M253.3 160.6h1M255.4 165.1h1M253.4 158.8h1M251.9 154.9h1M250.0 156.6h1M256.2 137.8h1M284.2 135.8h1M254.4 157.9h1M254.9 151.2h1M270.5 154.4h1M262.1 163.6h1M268.1 138.9h1M290.3 141.8h1M291.5 138.2h1M251.3 158.4h1M258.8 161.7h1M251.2 154.2h1M283.7 140.3h1M253.6 159.1h1M250.0 157.6h1M274.0 136.0h1M255.4 161.8h1M251.1 159.0h1M293.5 155.2h1M254.2 160.9h1M257.0 162.9h1M252.9 155.2h1M252.8 158.5h1M278.3 156.5h1M252.3 161.0h1M280.0 137.0h1M252.2 161.3h1M253.4 155.6h1M257.3 153.7h1M275.5 140.2h1M288.5 139.1h1M267.0 142.5h1M251.3 155.8h1M253.0 161.7h1M255.7 158.8h1M286.0 163.3h1M254.4 154.1h1M255.0 160.5h1M254.8 165.0h1M252.7 157.0h1M296.5 138.3h1M280.8 157.9h1M254.9 159.3h1M292.8 137.4h1M288.0 137.7h1M295.8 140.4h1M252.2 156.0h1M262.7 139.5h1M291.3 139.5h1M254.2 157.7h1M254.6 157.1h1M280.2 160.7h1M295.1 137.6h1M274.6 136.8h1M254.2 159.1h1M252.3 157.6h1M255.5 162.2h1M294.3 140.7h1M258.4 139.4h1M292.1 135.5h1M294.9 138.2h1M265.9 147.4h1M252.8 158.3h1M252.0 157.2h1M254.0 156.6h1M249.9 158.9h1M279.9 140.6h1M258.0 163.6h1M279.8 139.8h1M252.1 158.6h1M266.5 139.9h1M283.3 138.4h1M296.1 139.1h1M292.0 143.1h1M252.3 157.1h1M277.5 162.0h1M278.6 136.8h1M262.7 137.7h1M271.4 139.3h1M253.4 161.9h1M251.0 161.6h1M254.3 161.5h1M246.8 166.8h1M248.0 161.3h1M289.6 141.1h1M288.1 135.8h1M254.1 163.8h1M289.5 141.4h1M277.9 142.4h1M252.3 154.0h1M250.8 162.3h1M288.8 139.0h1M282.9 140.4h1M274.8 141.3h1M252.6 158.9h1M256.1 158.7h1M249.6 163.6h1M248.9 157.5h1M259.4 158.8h1M252.4 157.3h1M295.9 138.9h1M252.5 158.7h1M254.8 158.9h1M301.1 139.3h1M263.5 147.4h1M271.2 136.6h1M293.1 138.1h1M271.9 140.6h1M250.0 162.1h1M253.2 158.4h1M254.0 158.7h1M276.1 139.4h1M285.2 138.5h1M253.0 159.6h1M296.8 137.1h1M298.0 138.8h1M251.9 164.0h1M253.8 159.4h1M284.3 143.1h1M296.5 140.5h1M258.0 159.2h1M268.8 161.2h1M254.6 153.1h1M288.2 139.5h1M304.1 161.1h1M249.3 158.5h1M251.8 162.3h1M276.3 138.9h1M253.3 158.8h1M296.3 141.3h1M257.3 155.7h1M257.6 163.6h1M276.7 139.2h1M292.6 137.1h1M292.1 139.1h1M252.1 155.6h1M250.4 159.6h1M251.2 161.1h1M286.0 137.8h1M256.4 158.1h1M274.3 144.0h1M254.9 161.1h1M294.8 137.1h1M259.9 140.5h1M291.0 139.8h1M251.0 155.1h1M284.9 138.3h1M256.2 162.7h1M266.3 160.0h1M266.1 140.0h1M276.5 159.4h1M253.8 151.5h1M252.8 162.9h1M258.7 149.4h1M251.8 161.1h1M269.5 142.3h1M257.7 158.3h1M251.6 153.6h1M267.5 149.6h1M275.3 140.1h1M283.6 142.3h1M292.7 141.2h1M254.6 160.5h1M251.6 159.4h1M275.0 139.4h1M261.3 138.5h1M259.3 139.0h1M279.3 136.1h1M290.8 136.2h1M287.3 136.2h1M255.1 161.8h1M253.3 159.0h1M254.3 165.4h1M252.4 159.3h1M251.6 160.2h1M249.1 155.0h1M254.4 163.5h1M252.3 154.6h1M277.9 135.9h1M253.6 160.2h1M252.0 160.4h1M290.9 162.1h1M264.0 137.6h1M272.1 140.4h1M252.6 166.1h1M268.2 139.7h1M284.4 141.7h1M256.3 157.7h1M250.6 163.1h1M275.9 144.9h1M254.5 165.0h1M254.1 158.5h1M252.0 159.1h1M291.0 138.1h1M272.4 139.1h1M254.5 162.9h1M257.8 155.1h1M253.1 155.8h1M269.5 160.8h1M276.2 138.9h1M285.5 160.0h1M253.0 160.5h1M253.3 156.8h1M280.5 156.6h1M252.1 159.5h1M265.6 150.9h1M262.4 138.5h1M250.6 160.3h1M293.8 141.0h1M292.9 137.3h1M273.0 156.9h1M255.1 137.3h1M255.5 161.1h1M249.0 161.6h1M289.8 139.5h1M291.7 140.3h1M298.3 125.7h1M255.3 162.2h1M280.8 140.1h1M251.9 157.9h1M274.8 139.8h1M292.1 137.2h1M254.3 158.7h1M286.0 139.8h1M284.4 137.2h1M248.2 159.5h1M255.6 160.3h1M259.7 140.2h1M293.1 136.6h1M282.9 137.6h1M251.7 161.2h1M275.9 139.2h1"/>
<ellipse cx="253.2" cy="160.2" rx="3.6" ry="4.8" fill="#cc1d14" fill-opacity="0.85"/>
<path d="M272.7 113.4V169.6M244.8 144.9H307.8" stroke="#8c8c8c" stroke-width="0.6" fill="none"/>
<rect x="264.3" y="137.5" width="2.4" height="2" fill="none" stroke="#888" stroke-width="0.6"/>
<rect x="278.8" y="137.5" width="2.4" height="2" fill="none" stroke="#888" stroke-width="0.6"/>
<rect x="264.3" y="151" width="2.4" height="2" fill="none" stroke="#888" stroke-width="0.6"/>
<rect x="278.8" y="151" width="2.4" height="2" fill="none" stroke="#888" stroke-width="0.6"/>
<rect x="244.8" y="113.4" width="63" height="56.2" fill="none" stroke="#231f20" stroke-width="1"/>
<path d="M244.8 118.7h-3M244.8 131.5h-3M244.8 145.2h-3M244.8 159.8h-3M244.8 122.54h-1.8M244.8 124.84h-1.8M244.8 126.38h-1.8M244.8 127.66h-1.8M244.8 128.68h-1.8M244.8 129.58h-1.8M244.8 130.35h-1.8M244.8 130.99h-1.8M244.8 135.61h-1.8M244.8 138.08h-1.8M244.8 139.72h-1.8M244.8 141.09h-1.8M244.8 142.19h-1.8M244.8 143.14h-1.8M244.8 143.97h-1.8M244.8 144.65h-1.8M244.8 149.58h-1.8M244.8 152.21h-1.8M244.8 153.96h-1.8M244.8 155.42h-1.8M244.8 156.59h-1.8M244.8 157.61h-1.8M244.8 158.49h-1.8M244.8 159.22h-1.8M244.8 164.3h-1.5M244.8 166.8h-1.5M255.2 169.6v2.6M272 169.6v2.6M287.2 169.6v2.6M300.5 169.6v2.6M260.24 169.6v1.5M263.26 169.6v1.5M265.28 169.6v1.5M266.96 169.6v1.5M268.3 169.6v1.5M269.48 169.6v1.5M270.49 169.6v1.5M271.33 169.6v1.5M276.56 169.6v1.5M279.3 169.6v1.5M281.12 169.6v1.5M282.64 169.6v1.5M283.86 169.6v1.5M284.92 169.6v1.5M285.83 169.6v1.5M286.59 169.6v1.5M291.19 169.6v1.5M293.58 169.6v1.5M295.18 169.6v1.5M296.51 169.6v1.5M297.57 169.6v1.5M298.5 169.6v1.5M299.3 169.6v1.5M299.97 169.6v1.5M250.16 169.6v1.5M246.8 169.6v1.5M243.44 169.6v1.5M240.92 169.6v1.5" stroke="#231f20" stroke-width="0.8" fill="none"/>
<text x="228" y="122.3" font-size="9" stroke-width="0.14"><tspan textLength="8.8" lengthAdjust="spacingAndGlyphs">10</tspan><tspan font-size="6" dy="-3.3" dx="0.2">5</tspan></text>
<text x="228" y="135.1" font-size="9" stroke-width="0.14"><tspan textLength="8.8" lengthAdjust="spacingAndGlyphs">10</tspan><tspan font-size="6" dy="-3.3" dx="0.2">4</tspan></text>
<text x="228" y="148.8" font-size="9" stroke-width="0.14"><tspan textLength="8.8" lengthAdjust="spacingAndGlyphs">10</tspan><tspan font-size="6" dy="-3.3" dx="0.2">3</tspan></text>
<text x="228" y="163.4" font-size="9" stroke-width="0.14"><tspan textLength="8.8" lengthAdjust="spacingAndGlyphs">10</tspan><tspan font-size="6" dy="-3.3" dx="0.2">2</tspan></text>
<text x="251.1" y="182.4" font-size="9" stroke-width="0.14"><tspan textLength="8.8" lengthAdjust="spacingAndGlyphs">10</tspan><tspan font-size="6" dy="-3.3" dx="0.2">2</tspan></text>
<text x="267.9" y="182.4" font-size="9" stroke-width="0.14"><tspan textLength="8.8" lengthAdjust="spacingAndGlyphs">10</tspan><tspan font-size="6" dy="-3.3" dx="0.2">3</tspan></text>
<text x="283.1" y="182.4" font-size="9" stroke-width="0.14"><tspan textLength="8.8" lengthAdjust="spacingAndGlyphs">10</tspan><tspan font-size="6" dy="-3.3" dx="0.2">4</tspan></text>
<text x="296.4" y="182.4" font-size="9" stroke-width="0.14"><tspan textLength="8.8" lengthAdjust="spacingAndGlyphs">10</tspan><tspan font-size="6" dy="-3.3" dx="0.2">5</tspan></text>
<text x="247.4" y="121.2" font-size="8.4" stroke-width="0.12" textLength="24.2" lengthAdjust="spacingAndGlyphs">MIG–<tspan font-style="italic">IK</tspan></text>
<text x="274.8" y="121.2" font-size="8.4" stroke-width="0.12" textLength="32" lengthAdjust="spacingAndGlyphs">20.6±4.5%</text>
<text x="278.1" y="170.2" font-size="8.4" stroke-width="0.12" textLength="28.9" lengthAdjust="spacingAndGlyphs">6.6±2.3%</text>
<path stroke="#d0281c" stroke-opacity="0.42" stroke-width="0.85" d="M60.1 298.1h1M119.1 275.0h1M68.3 296.7h1M56.0 300.1h1M64.5 301.5h1M86.6 274.6h1M65.1 304.6h1M64.4 296.1h1M63.1 294.5h1M61.5 298.8h1M66.9 297.8h1M61.4 298.5h1M63.9 303.1h1M63.2 304.8h1M100.6 275.7h1M62.6 291.0h1M107.9 275.1h1M66.2 298.8h1M64.2 298.5h1M73.1 301.3h1M75.8 277.8h1M59.4 295.0h1M57.8 305.0h1M59.7 295.2h1M60.8 294.8h1M58.2 297.5h1M62.8 297.9h1M61.1 302.3h1M79.5 299.2h1M54.5 291.9h1M63.8 297.8h1M54.8 303.3h1M112.1 273.0h1M118.4 275.5h1M111.8 273.5h1M61.6 299.2h1M57.6 297.5h1M75.6 302.8h1M61.3 299.9h1M61.0 294.6h1M103.3 290.3h1M64.6 301.8h1M68.0 298.0h1M113.4 275.8h1M117.9 273.4h1M111.7 277.0h1M57.4 294.0h1M61.6 303.8h1M75.6 303.8h1M59.3 297.7h1M60.8 302.1h1M71.5 294.5h1M103.0 275.1h1M60.0 294.4h1M64.0 295.3h1M114.2 272.3h1M59.6 296.6h1M55.3 295.6h1M100.0 274.8h1M57.9 293.5h1M109.5 273.7h1M68.2 299.8h1M62.8 294.3h1M62.7 305.2h1M117.0 272.6h1M57.9 300.1h1M65.6 296.3h1M62.2 296.6h1M63.4 296.5h1M58.5 298.7h1M80.2 278.5h1M114.5 271.7h1M63.1 299.9h1M64.1 296.0h1M54.9 293.0h1M99.5 275.0h1M126.6 273.7h1M57.4 299.7h1M76.3 298.0h1M101.5 273.6h1M64.0 293.3h1M80.0 273.7h1M65.9 296.7h1M59.8 301.3h1M110.8 273.8h1M61.5 302.2h1M62.7 300.3h1M64.6 299.1h1M58.1 301.6h1M103.6 265.4h1M60.6 297.7h1M59.9 296.1h1M61.6 301.9h1M72.3 301.3h1M72.7 284.4h1M58.6 292.4h1M83.3 274.5h1M107.3 271.0h1M58.0 303.4h1M59.4 293.3h1M62.8 295.4h1M69.9 288.7h1M60.5 296.5h1M54.9 301.2h1M63.0 302.1h1M121.5 271.0h1M93.9 278.6h1M83.7 270.7h1M113.3 270.1h1M60.6 304.3h1M60.1 302.4h1M60.1 297.0h1M58.2 300.1h1M59.1 298.6h1M59.8 296.6h1M63.8 299.9h1M65.8 301.7h1M63.8 296.5h1M58.9 296.2h1M114.8 278.1h1M58.9 296.7h1M63.6 301.3h1M60.2 302.1h1M62.1 300.4h1M60.7 296.0h1M89.7 277.9h1M66.9 300.9h1M58.7 297.6h1M56.0 300.2h1M55.2 296.6h1M95.4 273.2h1M63.3 295.2h1M65.0 291.1h1M60.8 297.5h1M63.2 300.8h1M61.8 298.4h1M76.0 302.7h1M62.8 301.2h1M60.9 292.8h1M60.6 292.4h1M74.1 294.1h1M63.0 298.7h1M62.1 296.1h1M114.8 271.6h1M67.1 275.0h1M57.6 296.8h1M73.3 297.9h1M61.9 302.2h1M62.9 301.3h1M103.2 277.4h1M53.8 300.7h1M57.2 298.2h1M72.5 300.4h1M119.4 283.6h1M64.6 297.4h1M65.2 296.5h1M95.9 270.1h1M67.0 293.3h1M119.4 271.9h1M53.5 297.5h1M117.0 273.4h1M112.4 300.4h1M69.6 303.2h1M60.8 295.9h1M97.1 274.6h1M65.2 296.4h1M62.2 300.2h1M75.2 299.2h1M61.9 297.5h1M58.4 294.3h1M66.7 297.2h1M111.5 288.3h1M71.4 304.4h1M91.3 273.3h1M60.0 298.8h1M55.9 300.8h1M100.1 277.7h1M65.6 295.4h1M78.7 306.3h1M57.9 302.4h1M63.9 295.6h1M103.4 275.5h1M58.7 298.3h1M116.7 268.6h1M67.0 293.7h1M61.9 302.1h1M100.2 272.3h1M68.2 271.1h1M79.7 293.4h1M100.5 276.2h1M61.1 298.2h1M63.7 295.3h1M62.2 294.9h1M70.8 294.0h1M57.4 299.8h1M63.9 299.7h1M114.6 271.3h1M72.1 293.3h1M61.3 299.0h1M95.5 273.5h1M58.3 303.5h1M109.6 271.3h1M80.4 292.6h1M58.2 303.8h1M62.8 302.1h1M58.6 302.9h1M64.1 309.4h1M96.1 273.2h1M61.8 294.9h1M58.1 298.2h1M57.0 293.8h1M86.8 275.6h1M62.7 294.9h1M62.7 306.9h1M57.2 298.3h1M69.4 304.1h1M110.8 276.6h1M58.6 301.4h1M72.2 300.0h1M57.3 293.6h1M53.2 305.5h1M57.6 296.4h1M61.7 297.0h1M70.3 294.9h1M66.0 298.4h1M72.0 301.8h1M60.7 301.2h1M65.3 299.7h1M112.0 277.3h1M115.8 272.5h1M58.8 295.3h1M117.5 273.4h1M115.5 282.0h1M62.3 301.3h1M62.2 299.8h1M64.4 297.9h1M61.1 297.9h1M99.8 303.4h1M61.4 297.8h1M66.6 295.2h1M65.8 299.8h1M66.7 295.5h1M58.1 302.0h1M61.6 296.8h1M63.5 301.7h1M86.8 273.2h1M66.0 302.6h1M81.2 272.7h1M59.1 294.6h1M62.0 300.0h1M109.2 309.3h1M77.0 272.1h1M63.7 294.2h1M97.0 274.9h1M76.4 285.7h1M62.1 305.9h1M56.8 296.8h1M79.0 276.1h1M87.3 303.0h1M69.1 298.2h1M58.1 302.6h1M63.8 297.2h1M74.8 277.1h1M63.6 296.1h1M61.5 296.1h1M62.3 300.3h1M102.8 276.5h1M102.2 275.7h1M76.4 296.8h1M55.6 293.2h1M60.6 298.2h1M81.9 277.7h1M76.8 299.2h1M60.3 301.2h1M90.5 271.4h1M74.9 303.3h1M102.6 280.5h1M65.8 289.4h1M125.1 287.3h1M63.7 305.8h1M119.0 276.1h1M68.8 298.0h1M61.7 303.2h1M70.2 296.4h1M68.5 290.8h1M89.6 275.6h1M112.3 295.9h1M65.3 292.7h1M83.9 272.1h1M100.8 272.9h1M76.5 300.3h1M70.7 302.9h1M63.1 300.0h1M65.1 297.9h1M59.7 295.4h1M52.9 301.4h1M66.2 298.1h1M62.7 299.1h1M113.6 277.0h1M69.4 297.0h1M83.8 271.5h1M107.2 271.5h1M69.4 307.3h1M59.1 299.1h1M65.0 297.8h1M63.9 296.4h1M56.2 299.9h1M62.6 302.1h1M59.1 296.0h1M93.1 273.7h1M63.2 299.3h1M57.4 299.4h1M60.2 295.2h1M56.1 296.3h1M57.8 302.9h1M60.7 298.8h1M86.3 275.7h1M56.5 296.8h1M68.8 280.2h1M54.2 301.0h1M71.7 294.6h1M65.3 297.7h1M65.0 296.1h1M61.0 296.5h1M91.4 276.7h1M62.1 295.5h1M64.7 300.2h1M63.0 295.0h1M61.3 297.6h1M98.3 274.2h1M96.3 272.1h1M58.8 296.6h1M104.4 276.8h1M69.4 296.5h1M73.8 272.5h1M93.5 269.3h1M62.2 298.3h1M58.7 301.7h1M115.6 275.1h1M78.1 292.4h1M97.7 273.8h1M120.7 276.0h1M78.7 297.7h1M83.2 298.2h1M61.9 301.4h1M61.1 300.7h1M62.9 295.9h1M58.0 296.7h1"/>
<path stroke="#d0281c" stroke-opacity="0.42" stroke-width="0.85" d="M60.8 297.3h1M58.5 295.7h1M117.5 276.5h1M109.9 290.3h1M86.5 301.7h1M112.3 275.2h1M74.0 301.6h1M107.9 274.0h1M62.3 299.0h1M59.1 298.7h1M68.0 300.2h1M109.4 272.6h1M61.1 298.7h1M73.6 298.5h1M104.6 276.6h1M53.1 297.2h1M65.8 293.9h1M113.6 270.8h1M77.8 274.2h1M63.3 298.9h1M58.2 296.2h1M75.7 283.4h1M59.3 293.3h1M65.3 297.2h1M66.9 297.1h1M68.3 298.5h1M59.5 294.7h1M57.9 296.9h1M62.1 289.6h1M59.1 290.8h1M69.6 297.3h1M62.2 303.5h1M61.7 298.1h1M61.0 302.2h1M100.0 275.6h1M61.2 299.7h1M113.3 271.9h1M66.9 293.0h1M58.0 294.2h1M58.1 301.6h1M59.1 302.1h1M72.0 292.4h1M74.1 297.5h1M70.9 301.4h1M59.1 295.3h1M72.0 304.2h1M56.5 291.8h1M65.7 294.2h1M70.8 301.8h1M60.9 294.9h1M86.7 299.2h1M106.2 272.1h1M62.7 301.3h1M92.8 276.9h1M61.9 302.0h1M100.9 287.8h1M61.2 299.0h1M78.3 297.1h1M65.0 304.4h1M74.1 296.7h1M116.2 271.5h1M55.5 296.3h1M62.1 294.2h1M59.4 294.8h1M59.9 291.5h1M66.7 295.2h1M61.7 295.7h1M69.6 301.5h1M93.7 277.3h1M96.0 270.4h1M85.6 273.9h1M58.2 292.9h1M56.1 295.7h1M63.1 303.0h1M121.0 272.3h1M67.5 300.9h1M62.8 299.4h1M54.7 299.5h1M61.1 297.4h1M78.4 278.7h1M59.5 298.6h1M61.9 301.6h1M65.5 300.5h1M55.6 301.1h1M62.1 299.9h1M56.2 300.7h1M67.2 302.1h1M61.6 294.5h1M69.3 302.3h1M106.7 271.8h1M108.3 271.2h1M129.1 309.1h1M59.3 296.1h1M83.2 274.2h1M59.6 277.1h1M75.4 272.6h1M124.4 269.3h1M59.9 294.6h1M62.7 301.7h1M97.6 271.5h1M96.2 275.5h1M62.3 297.2h1M59.8 295.5h1M60.9 295.3h1M62.2 295.1h1M88.2 274.6h1M128.6 302.4h1M60.4 298.6h1M64.4 297.7h1M65.2 296.8h1M84.4 273.5h1M74.3 301.3h1M64.2 302.3h1M60.5 302.1h1M65.4 289.7h1M68.4 293.3h1M59.8 299.6h1M59.2 294.8h1M86.1 296.4h1M74.6 299.4h1M115.9 276.5h1M62.8 301.3h1M57.7 298.8h1M63.6 297.7h1M57.5 297.5h1M61.3 292.9h1M67.9 301.6h1M61.9 302.8h1M63.3 298.3h1M109.6 274.9h1M74.8 304.8h1M81.4 269.7h1M57.1 292.9h1M60.5 302.0h1M118.7 271.3h1M60.2 297.8h1M128.3 281.4h1M117.6 261.1h1M82.4 294.8h1M61.7 299.0h1M65.4 296.1h1M122.6 272.9h1M66.9 297.8h1M68.0 277.9h1M59.4 298.7h1M57.0 298.3h1M75.2 299.0h1M67.0 299.7h1M59.4 297.5h1M67.2 304.0h1M61.1 298.3h1M57.0 294.2h1M59.6 303.4h1M108.0 275.4h1M80.0 277.7h1M73.1 304.5h1M106.5 278.0h1M61.6 293.8h1M111.2 304.9h1M65.8 297.9h1M58.8 305.1h1M56.8 292.5h1M54.8 295.7h1M59.4 301.3h1M61.8 300.0h1M79.5 292.3h1M91.4 272.2h1M61.9 300.1h1M60.1 295.9h1M63.8 297.3h1M63.4 296.5h1M104.1 272.7h1M59.0 298.5h1M64.7 302.7h1M53.8 292.4h1M57.4 298.9h1M68.9 294.6h1M58.9 302.9h1M97.1 275.9h1M125.5 280.4h1M67.0 295.1h1M63.6 300.5h1M55.5 303.8h1M91.3 275.1h1M63.7 299.2h1M65.1 299.1h1M61.5 302.2h1M57.7 290.8h1M95.6 277.1h1M64.1 295.7h1M63.3 301.7h1M122.2 275.4h1M64.9 294.1h1M58.8 298.1h1M70.7 295.1h1M118.2 268.8h1M104.2 275.2h1M65.1 293.0h1M115.4 274.1h1M58.5 296.3h1M63.9 296.1h1M61.0 297.2h1M65.9 297.2h1M62.4 297.3h1M70.9 271.5h1M60.1 297.7h1M62.0 295.1h1M59.2 299.5h1M57.4 306.4h1M115.7 274.6h1M59.8 296.2h1M75.2 300.5h1M59.8 297.8h1M61.4 300.6h1M64.0 298.3h1M60.2 304.9h1M69.7 290.9h1M60.4 298.0h1M55.9 308.6h1M61.4 295.5h1M62.2 294.4h1M58.8 304.5h1M110.3 270.2h1M64.4 296.2h1M69.6 293.7h1M59.4 297.7h1M62.4 300.8h1M66.4 296.3h1M108.9 274.4h1M65.2 295.7h1M92.4 274.0h1M62.6 293.8h1M76.8 277.8h1M61.9 299.6h1M61.4 296.1h1M70.2 296.4h1M110.0 275.2h1M57.0 304.4h1M61.8 292.9h1M100.1 272.2h1M67.2 301.2h1M70.1 305.3h1M60.1 296.0h1M60.3 302.5h1M60.8 295.9h1M120.3 269.5h1M65.4 294.1h1M105.9 278.3h1M62.1 297.7h1M67.4 296.1h1M61.7 303.1h1M117.0 285.9h1M72.2 294.1h1M56.2 303.8h1M59.4 293.6h1M65.4 297.1h1M67.7 294.4h1M79.9 302.5h1M62.0 301.9h1M77.0 293.9h1M67.2 273.5h1M89.3 273.4h1M72.1 294.2h1M63.1 301.0h1M58.1 293.8h1M63.0 303.9h1M67.1 302.9h1M59.7 296.0h1M69.1 299.4h1M61.9 298.8h1M63.1 298.1h1M59.0 293.8h1M93.7 279.5h1M109.3 270.2h1M77.6 291.7h1M55.6 305.5h1M59.2 306.8h1M60.5 297.0h1M61.7 296.3h1M61.7 301.4h1M62.6 305.9h1M65.5 303.2h1M54.2 300.4h1M112.6 275.8h1M65.0 297.0h1M63.9 299.0h1M74.3 277.6h1M56.1 296.2h1M67.2 304.6h1M61.4 295.8h1M59.3 292.5h1M128.5 272.5h1M72.1 298.9h1M53.3 297.8h1M54.4 303.9h1M87.1 276.5h1M60.3 292.7h1M103.9 273.7h1M59.1 302.5h1M120.1 278.1h1M58.2 297.7h1M68.7 294.8h1M73.5 300.0h1M59.4 295.4h1M58.8 300.8h1M63.4 298.9h1M109.3 272.5h1M61.9 300.7h1M67.8 305.0h1M64.0 304.1h1M66.1 295.2h1M63.8 296.8h1M59.5 300.3h1M67.1 294.0h1M68.1 298.3h1M80.5 274.8h1M68.1 297.8h1M107.4 272.4h1M58.8 299.7h1M76.9 296.0h1M64.5 300.8h1M67.1 298.8h1M71.1 295.4h1M59.4 283.4h1M117.3 285.0h1M110.5 276.3h1M110.4 269.5h1M72.7 301.6h1M67.2 302.7h1M75.5 292.6h1M57.3 296.0h1M67.5 302.4h1M64.0 298.3h1M61.5 299.1h1M65.1 298.5h1M62.9 291.1h1M110.8 271.9h1M58.8 302.9h1M61.6 299.8h1M66.1 293.4h1M66.4 295.4h1M124.1 272.4h1M105.7 276.0h1M54.0 292.1h1M70.5 303.8h1M62.4 298.9h1M120.2 274.2h1M72.3 300.5h1"/>
<path stroke="#d0281c" stroke-opacity="0.42" stroke-width="0.85" d="M104.3 303.6h1M60.9 299.8h1M66.3 295.3h1M62.1 300.6h1M57.4 305.1h1M56.8 300.6h1M64.8 298.9h1M65.6 295.6h1M99.5 272.5h1M103.0 278.2h1M72.8 309.4h1M66.0 294.9h1M59.1 290.4h1M62.0 298.9h1M81.4 275.3h1M117.1 273.1h1M70.3 296.5h1M59.8 297.6h1M58.7 303.8h1M61.0 297.1h1M53.3 300.3h1M105.3 272.3h1M65.4 296.1h1M101.0 278.9h1M59.2 301.9h1M74.5 302.2h1M61.6 298.8h1M58.7 302.1h1M60.7 298.6h1M91.9 278.2h1M111.4 275.2h1M65.0 298.8h1M66.3 295.9h1M65.4 295.9h1M58.6 305.2h1M61.4 293.2h1M61.5 299.3h1M59.5 300.1h1M61.2 297.9h1M97.6 279.8h1M61.0 297.4h1M58.3 302.2h1M63.6 300.9h1M63.6 300.7h1M77.6 306.8h1M62.1 296.6h1M65.0 299.9h1M58.7 297.4h1M78.2 293.1h1M62.2 294.7h1M72.1 273.5h1M66.0 295.7h1M64.9 302.9h1M56.0 298.5h1M57.6 296.0h1M57.0 305.2h1M65.8 300.6h1M57.2 299.9h1M102.2 274.7h1M64.0 301.6h1M57.1 301.2h1M88.4 268.2h1M60.3 303.0h1M101.3 274.2h1M75.0 306.0h1M99.7 274.5h1M58.2 302.1h1M63.0 295.4h1M73.1 272.2h1M113.5 275.6h1M83.4 299.3h1M58.1 302.2h1M52.9 297.9h1M71.1 295.2h1M59.5 297.3h1M57.6 295.0h1M84.6 273.6h1M58.9 305.5h1M63.4 294.2h1M61.1 299.1h1M56.4 302.4h1M63.5 304.8h1M59.7 297.5h1M88.9 271.0h1M61.9 296.6h1M108.4 272.4h1M61.3 297.1h1M59.1 299.0h1M69.7 303.0h1M60.3 299.0h1M77.1 301.0h1M60.1 296.5h1M115.7 293.0h1M65.4 300.0h1M66.4 303.9h1M65.4 300.8h1M123.1 272.1h1M59.8 297.6h1M102.6 274.6h1M60.9 292.3h1M62.8 299.9h1M62.7 296.7h1M79.9 269.2h1M59.9 299.9h1M60.5 303.8h1M63.9 298.8h1M67.0 300.0h1M60.2 299.5h1M62.9 301.2h1M85.3 301.1h1M65.2 298.9h1M60.4 297.8h1M52.6 295.9h1M60.6 302.2h1M64.6 299.4h1M74.0 295.9h1M62.7 299.1h1M59.3 300.1h1M60.9 300.9h1M63.4 299.0h1M57.8 304.4h1M58.7 295.1h1M58.6 297.5h1M70.3 299.5h1M71.2 292.7h1M68.9 299.2h1M60.4 295.7h1M68.9 297.4h1M58.3 302.0h1M69.5 299.5h1M61.4 303.7h1M60.9 293.1h1M86.9 272.7h1M97.7 278.3h1M104.6 268.7h1M68.2 297.7h1M109.1 275.5h1M70.1 301.4h1M61.4 298.9h1M93.6 271.9h1M69.3 302.4h1M55.7 299.1h1M62.6 296.5h1M118.0 274.4h1M118.9 274.3h1M80.3 300.7h1M56.2 304.4h1M68.7 296.3h1M60.6 292.1h1M63.1 296.4h1M121.3 272.7h1M65.6 295.7h1M123.5 274.5h1M62.9 299.0h1M61.3 298.6h1M66.2 294.9h1M110.9 271.3h1M116.5 279.3h1M97.7 274.6h1M62.8 298.8h1M59.6 297.7h1M124.6 296.0h1M55.6 291.6h1M94.2 273.1h1M77.3 301.7h1M60.4 301.4h1M118.2 277.9h1M61.7 296.3h1M64.8 299.2h1M86.1 274.8h1M60.0 298.5h1M60.5 296.2h1M54.2 295.5h1M64.8 293.8h1M63.2 297.8h1M61.1 296.9h1M58.1 298.9h1M84.3 277.3h1M106.1 275.3h1M75.5 280.4h1M66.0 303.6h1M68.1 288.1h1M67.1 295.9h1M63.0 297.1h1M66.2 293.8h1M104.8 275.5h1M64.7 298.4h1M123.9 285.6h1M66.3 298.3h1M72.7 299.8h1M74.9 305.3h1M117.4 267.6h1M64.2 299.2h1M71.2 293.3h1M114.1 270.6h1M63.1 301.5h1M60.7 295.3h1M54.1 296.7h1M80.7 273.8h1M64.6 300.9h1M104.1 274.8h1M58.7 301.4h1M99.0 283.3h1M62.2 296.2h1M64.8 302.2h1M66.5 301.0h1M67.6 293.1h1M57.3 300.4h1M64.9 303.2h1M65.8 300.9h1M95.9 274.2h1M125.2 279.9h1M111.7 272.8h1M124.2 271.1h1M96.4 274.5h1M78.4 275.4h1M116.2 275.6h1M68.5 275.6h1M57.1 297.9h1M58.9 301.1h1M51.9 294.1h1M59.8 293.9h1M103.7 283.1h1M76.5 276.9h1M59.8 302.2h1M107.1 277.2h1M64.4 296.9h1M110.8 274.8h1M109.2 274.1h1M63.2 299.9h1M60.0 296.6h1M59.2 294.0h1M64.0 301.9h1M66.4 301.2h1M110.8 273.7h1M57.9 296.3h1M54.2 298.0h1M54.0 304.7h1M64.2 299.8h1M85.6 271.3h1M59.7 295.7h1M60.6 298.6h1M99.0 267.9h1M60.3 295.6h1M81.3 305.6h1M120.8 270.3h1M58.5 297.0h1M86.0 293.7h1M60.7 302.3h1M61.7 299.7h1M61.6 297.4h1M116.7 274.9h1M72.3 298.3h1M58.4 298.1h1M61.3 298.5h1M68.9 294.4h1M83.1 274.8h1M66.5 297.1h1M67.5 298.0h1M61.9 288.8h1M64.2 300.3h1M65.2 293.8h1M58.9 298.7h1M65.4 304.4h1M71.3 302.9h1M109.4 277.3h1M57.1 301.8h1M60.7 290.1h1M72.4 298.1h1M61.6 295.6h1M64.9 299.3h1M58.3 301.3h1M124.5 273.3h1M64.3 296.7h1M67.6 299.3h1M62.4 303.2h1M68.4 302.9h1M68.2 298.3h1M63.0 297.7h1M123.9 276.9h1M102.1 273.3h1M66.1 301.2h1M115.7 279.8h1M129.7 289.2h1M119.5 274.1h1M85.2 268.9h1M61.1 297.5h1M95.2 271.5h1M59.9 294.0h1M105.8 276.6h1M55.9 300.2h1M63.4 271.7h1M59.9 291.4h1M61.7 296.6h1M64.2 301.2h1M61.0 301.6h1M61.7 304.4h1M72.7 297.4h1M62.4 295.8h1M61.6 301.7h1M64.6 303.1h1M72.5 303.3h1M59.9 298.1h1M56.3 295.0h1M74.0 293.5h1M59.3 301.3h1M64.3 297.1h1M56.4 292.0h1M57.7 297.1h1M60.8 302.4h1M94.3 273.1h1M110.9 275.0h1M61.2 300.2h1M62.1 294.6h1M64.3 298.7h1M80.2 269.6h1M85.7 300.8h1M127.9 306.2h1M69.5 298.2h1M64.5 300.5h1M61.4 302.7h1M111.8 277.7h1M62.3 297.3h1M103.4 275.7h1M64.6 298.7h1M69.1 296.3h1M75.2 299.4h1M78.1 293.6h1M61.2 290.0h1M115.4 274.6h1M65.9 297.8h1M89.5 277.2h1M92.3 272.8h1M57.2 295.8h1M58.0 296.7h1M78.6 274.3h1M63.3 300.2h1M62.9 299.4h1M62.2 298.5h1M65.3 302.3h1M95.5 270.8h1M65.9 294.5h1M64.8 293.0h1M92.2 270.4h1M98.1 274.7h1M113.0 278.6h1M61.0 294.8h1"/>
<path stroke="#d0281c" stroke-opacity="0.42" stroke-width="0.85" d="M120.2 272.7h1M87.6 269.5h1M61.0 300.8h1M59.2 300.0h1M89.5 273.7h1M104.6 254.5h1M102.0 276.8h1M85.1 309.8h1M65.4 288.4h1M59.2 290.0h1M63.4 301.2h1M66.4 297.0h1M58.6 297.5h1M77.9 306.9h1M65.3 294.9h1M62.4 307.8h1M113.7 273.3h1M64.1 297.2h1M59.2 298.3h1M74.6 296.9h1M57.1 305.6h1M63.2 297.8h1M75.9 292.5h1M73.4 297.1h1M54.9 295.3h1M64.0 296.5h1M125.2 272.9h1M59.7 299.5h1M62.5 296.8h1M60.2 300.5h1M58.2 300.2h1M89.0 268.0h1M64.9 299.7h1M123.6 274.2h1M65.7 304.5h1M64.1 300.4h1M102.0 272.6h1M62.7 299.4h1M62.8 301.1h1M124.8 273.2h1M57.2 301.4h1M58.7 295.8h1M64.8 302.2h1M64.2 300.1h1M69.6 294.7h1M61.6 298.7h1M128.1 298.2h1M67.8 299.4h1M82.1 275.3h1M63.2 302.2h1M62.5 301.0h1M68.1 297.8h1M59.8 294.0h1M60.8 300.8h1M66.9 293.2h1M66.7 294.0h1M65.2 302.3h1M63.1 302.3h1M125.0 277.7h1M108.1 274.9h1M59.3 302.6h1M113.0 275.1h1M62.3 297.7h1M64.9 301.7h1M61.6 300.3h1M63.9 299.5h1M57.9 298.8h1M120.7 272.6h1M62.6 298.0h1M60.3 299.8h1M66.8 297.9h1M65.4 299.0h1M125.7 294.5h1M58.5 293.0h1M59.7 301.4h1M100.9 273.8h1M61.9 299.3h1M64.3 301.7h1M55.8 296.8h1M61.5 298.6h1M53.6 293.7h1M111.6 274.0h1M57.3 304.0h1M86.6 273.8h1M62.9 300.8h1M63.3 293.5h1M57.3 295.4h1M67.3 296.8h1M89.6 273.9h1M70.7 273.9h1M61.1 291.2h1M56.8 294.7h1M120.0 268.6h1M61.5 300.2h1M67.3 296.2h1M70.0 303.9h1M98.9 268.5h1M54.6 301.2h1M60.2 296.7h1M68.6 297.9h1M61.6 302.9h1M62.6 303.6h1M111.8 273.2h1M62.1 304.0h1M57.9 295.3h1M58.6 297.4h1M53.8 294.6h1M60.6 292.1h1M69.2 272.4h1M59.2 294.3h1M68.3 304.2h1M65.9 296.3h1M54.8 299.7h1M60.2 302.4h1M94.8 307.1h1M82.8 287.2h1M101.6 271.4h1M98.0 300.7h1M58.2 296.2h1M73.3 299.3h1M67.4 305.4h1M124.9 278.6h1M71.9 301.3h1M77.2 301.6h1M78.1 309.6h1M101.2 276.7h1M116.7 287.9h1M63.6 293.4h1M58.4 298.2h1M60.2 295.1h1M63.4 294.1h1M69.7 273.7h1M99.4 274.7h1M101.0 275.9h1M61.7 297.1h1M60.3 304.7h1M62.1 301.7h1M65.5 299.6h1M56.3 293.6h1M61.1 294.9h1M96.7 300.1h1M59.9 296.9h1M68.6 306.5h1M80.9 274.5h1M68.3 291.7h1M68.0 295.8h1M65.3 297.4h1M63.9 302.1h1M75.5 299.9h1M60.6 298.1h1M58.7 295.3h1M62.6 296.9h1M70.6 307.6h1M67.1 297.5h1M71.8 294.3h1M59.8 299.1h1M63.9 310.0h1M86.7 274.4h1M62.9 295.0h1M62.9 300.3h1M61.4 302.8h1M62.6 292.6h1M59.1 294.3h1M65.2 293.4h1M116.6 275.8h1M78.7 277.0h1M68.6 299.5h1M72.7 301.6h1M73.9 298.9h1M60.1 302.5h1M121.5 256.4h1M56.6 299.5h1M80.4 276.3h1M62.1 302.2h1M61.3 303.8h1M59.8 302.3h1M63.3 300.0h1M69.6 289.8h1M62.8 301.2h1M60.9 305.9h1M62.4 303.0h1M55.8 292.0h1M59.5 297.4h1M63.9 295.5h1M81.4 273.3h1M62.7 295.3h1M63.4 298.3h1M63.6 295.3h1M64.6 298.7h1M66.3 293.7h1M54.5 306.1h1M59.3 296.8h1M59.4 286.4h1M64.9 298.7h1M123.0 275.0h1M114.0 274.0h1M61.1 295.3h1M62.6 294.7h1M55.9 300.8h1M62.5 297.5h1M63.4 305.9h1M65.8 304.0h1M68.5 298.5h1M66.8 299.0h1M86.7 269.3h1M121.9 275.2h1M58.5 298.6h1M67.7 293.9h1M90.8 275.1h1M114.1 269.2h1M61.8 293.7h1M63.7 297.7h1M61.4 300.5h1M64.7 301.9h1M79.5 268.9h1M63.0 297.0h1M63.7 296.0h1M88.0 305.3h1M62.3 298.8h1M63.0 299.8h1M59.4 301.5h1M60.8 300.7h1M64.4 296.4h1M109.3 270.7h1M62.6 301.8h1M67.6 298.3h1M59.5 303.2h1M59.9 302.6h1M91.4 273.8h1M111.2 277.9h1M60.7 302.1h1M73.1 299.7h1M63.8 300.0h1M70.6 297.9h1M63.9 297.4h1M84.6 277.3h1M75.0 289.5h1M64.0 295.8h1M82.6 301.1h1M66.5 295.7h1M87.6 275.5h1M60.3 294.4h1M66.1 298.1h1M57.3 301.5h1M62.1 294.9h1M99.8 276.1h1M61.9 295.0h1M120.6 309.5h1M69.1 302.1h1M102.8 274.0h1M121.0 272.9h1M70.7 280.2h1M121.4 271.3h1M78.9 298.3h1M71.6 305.7h1M64.4 297.1h1M61.1 296.9h1M111.9 275.5h1M77.6 296.7h1M60.2 299.3h1M62.5 296.6h1M61.8 296.0h1M60.6 295.5h1M110.9 272.1h1M64.5 294.1h1M54.5 299.5h1M78.4 295.6h1M61.8 300.9h1M65.6 299.1h1M59.1 297.7h1M95.5 269.3h1M68.6 302.9h1M72.2 297.4h1M61.1 305.4h1M58.3 300.0h1M58.0 302.6h1M64.3 299.3h1M59.3 303.3h1M116.8 270.1h1M78.3 294.7h1M57.3 300.5h1M65.0 296.1h1M59.3 294.0h1M56.4 296.2h1M60.2 297.6h1M63.3 299.3h1M54.3 298.9h1M59.3 298.4h1M73.9 295.6h1M68.8 300.5h1M66.3 301.2h1M93.4 276.4h1M65.0 308.4h1M61.5 307.2h1M60.0 299.6h1M62.8 301.1h1M73.3 304.5h1M87.5 276.9h1M125.1 275.0h1M58.9 300.2h1M62.9 296.6h1M58.3 296.7h1M72.0 274.9h1M93.4 277.7h1M116.7 275.5h1M96.3 276.6h1M79.2 297.2h1M55.3 298.1h1M59.6 299.0h1M115.0 267.1h1M64.9 289.5h1M103.9 301.3h1M79.4 274.8h1M56.8 295.1h1M98.8 301.2h1M59.7 301.4h1M63.0 302.9h1M55.8 299.8h1M112.4 249.7h1M51.9 295.6h1M113.5 275.4h1M75.9 297.7h1M54.0 298.8h1M116.6 274.4h1M112.4 277.4h1M69.4 304.8h1M112.1 271.7h1M58.5 292.5h1M92.5 307.5h1M58.9 306.1h1M65.3 299.8h1M82.6 270.7h1M57.5 301.1h1M56.4 293.9h1M95.9 266.3h1M60.1 299.4h1M62.0 297.2h1M60.4 293.0h1M64.8 297.3h1M62.9 300.3h1M88.9 277.1h1M65.3 295.9h1M66.4 291.4h1M55.4 300.7h1M90.8 273.8h1M63.1 299.8h1M56.0 297.4h1"/>
<path stroke="#d0281c" stroke-opacity="0.42" stroke-width="0.85" d="M105.7 272.2h1M59.8 301.8h1M62.2 302.5h1M65.7 300.3h1M57.0 291.6h1M69.2 299.7h1M63.2 297.6h1M104.9 276.4h1M126.1 306.8h1M59.1 295.3h1M58.9 292.8h1M86.0 273.4h1M68.4 296.8h1M56.5 292.8h1M63.8 303.1h1M60.9 294.3h1M66.6 294.4h1M62.7 303.8h1M64.3 297.9h1M63.9 304.8h1M63.2 295.0h1M62.5 292.1h1M56.4 296.1h1M64.3 269.1h1M65.3 300.1h1M65.3 299.5h1M62.1 292.5h1M74.6 289.0h1M99.8 272.4h1M61.9 308.1h1M112.9 275.1h1M61.5 295.9h1M61.7 298.7h1M60.9 297.0h1M58.7 299.3h1M66.0 296.3h1M61.9 296.7h1M110.8 272.0h1M71.3 300.9h1M63.1 293.6h1M65.3 295.2h1M81.5 272.2h1M65.6 300.5h1M61.3 293.7h1M62.3 296.3h1M56.9 297.0h1M115.8 274.5h1M63.2 299.5h1M61.5 304.2h1M61.7 298.4h1M65.7 292.9h1M76.7 300.6h1M96.2 295.7h1M79.0 297.2h1M86.3 275.9h1M99.5 272.4h1M64.9 298.4h1M63.2 300.2h1M91.7 282.4h1M63.0 302.7h1M54.6 300.8h1M69.0 293.7h1M61.1 298.4h1M74.7 290.3h1M62.6 300.1h1M70.0 301.8h1M62.8 301.5h1M115.1 271.4h1M64.8 298.8h1M61.4 293.3h1M61.3 291.2h1M65.2 299.6h1M61.8 296.2h1M64.6 294.6h1M56.4 300.8h1M112.3 277.2h1M100.4 279.0h1M69.1 305.4h1M72.6 303.2h1M110.4 272.6h1M52.4 295.4h1M64.0 300.6h1M101.2 274.0h1M56.7 293.5h1M64.4 295.5h1M69.0 299.7h1M58.7 300.7h1M110.2 270.8h1M91.8 268.2h1M68.3 305.6h1M78.6 273.4h1M105.2 275.3h1M59.3 299.7h1M62.5 293.8h1M63.8 300.4h1M80.8 274.9h1M60.5 303.1h1M58.6 303.0h1M76.7 295.8h1M60.1 300.9h1M58.7 301.3h1M63.5 305.5h1M64.4 296.9h1M77.1 294.6h1M60.5 302.0h1M113.7 273.7h1M74.5 287.5h1M63.4 295.4h1M64.1 308.7h1M58.6 305.0h1M59.7 301.3h1M58.7 298.7h1M64.6 300.9h1M70.9 291.5h1M59.1 295.4h1M73.3 305.8h1M52.6 295.4h1M64.2 296.5h1M60.2 294.9h1M113.3 270.9h1M84.8 275.7h1M85.3 269.3h1M63.6 298.6h1M117.7 269.1h1M61.0 297.2h1M100.7 271.2h1M67.5 303.5h1M89.0 271.9h1M108.0 272.9h1M56.9 289.4h1M71.6 294.8h1M62.8 302.7h1M103.4 275.2h1M61.3 295.5h1M59.9 300.6h1M62.9 297.1h1M71.5 292.0h1M92.0 276.1h1M63.4 303.2h1M95.8 273.6h1M63.1 293.4h1M63.9 301.8h1M59.5 297.3h1M114.2 274.9h1M78.6 298.8h1M110.7 274.1h1M61.7 297.4h1M92.3 273.9h1M64.8 295.3h1M61.2 300.7h1M62.1 299.4h1M63.7 299.1h1M118.2 266.9h1M64.3 297.5h1M61.2 303.5h1M59.8 301.3h1M65.3 271.8h1M101.6 300.4h1M66.3 299.3h1M74.9 301.5h1M59.3 304.4h1M84.4 273.8h1M99.6 270.9h1M65.7 304.3h1M116.3 273.5h1M104.8 273.3h1M87.4 270.5h1M65.4 293.6h1M60.3 295.6h1M55.8 296.8h1M69.3 276.9h1M57.5 290.5h1M76.8 298.5h1M94.4 271.7h1M63.1 295.1h1M60.2 298.5h1M59.8 296.5h1M113.6 275.5h1M59.5 298.9h1M54.9 301.5h1M64.2 299.3h1M59.4 292.3h1M57.9 295.6h1M106.1 278.0h1M59.9 297.9h1M80.9 275.0h1M75.1 302.6h1M113.9 272.7h1M94.1 277.8h1M68.8 295.1h1M72.9 292.8h1M68.8 271.1h1M71.8 299.7h1M105.2 277.0h1M76.4 294.6h1M67.0 304.2h1M65.6 296.2h1M78.1 276.7h1M63.7 271.6h1M55.3 300.3h1M102.4 268.2h1M94.4 277.9h1M95.8 272.0h1M66.5 297.7h1M119.3 274.2h1M58.5 298.7h1M63.6 304.2h1M74.0 294.0h1M95.5 270.0h1M56.7 299.2h1M68.8 298.3h1M67.0 297.6h1M56.5 305.5h1M66.9 289.6h1M65.6 297.9h1M57.8 300.2h1M65.3 300.3h1M115.3 266.5h1M55.6 299.4h1M62.7 297.2h1M102.3 275.9h1M61.2 294.3h1M81.4 300.6h1M61.4 301.7h1M67.1 298.1h1M102.1 269.2h1M62.5 304.6h1M63.1 300.6h1M72.0 302.1h1M62.3 297.5h1M57.1 288.7h1M64.3 298.9h1M59.2 298.3h1M119.1 273.7h1M107.4 273.2h1M65.2 299.8h1M70.4 296.5h1M65.6 297.7h1M62.3 293.0h1M102.6 271.1h1M52.4 292.9h1M60.9 289.9h1M62.0 294.8h1M67.9 295.6h1M88.4 270.8h1M58.3 300.8h1M66.9 298.8h1M65.4 299.6h1M57.0 296.8h1M67.1 292.0h1M71.4 291.7h1M62.2 296.2h1M60.7 301.9h1M68.9 301.6h1M66.5 305.6h1M108.2 278.4h1M63.0 295.1h1M124.9 297.4h1M62.6 297.4h1M64.0 299.0h1M62.4 296.2h1M74.4 287.9h1M63.4 301.2h1M59.0 306.6h1M67.2 293.1h1M62.6 297.0h1M56.8 297.9h1M117.2 280.3h1M61.7 296.0h1M74.1 293.1h1M57.9 303.0h1M124.6 290.4h1M62.8 296.5h1M67.1 293.7h1M72.5 299.9h1M53.7 297.5h1M57.9 303.6h1M59.0 301.4h1M72.4 297.2h1M60.4 299.6h1M70.6 290.8h1M64.3 299.9h1M59.5 296.8h1M58.6 297.1h1M76.8 289.4h1M67.4 297.1h1M60.6 297.1h1M68.5 299.2h1M55.9 301.0h1M61.2 294.0h1M110.5 307.8h1M106.4 272.6h1M111.3 275.3h1M62.5 299.8h1M70.8 298.4h1M105.5 277.0h1M54.3 301.4h1M114.2 274.9h1M64.9 300.6h1M64.3 299.6h1M59.5 299.2h1M70.8 289.8h1M68.1 297.8h1M95.9 287.9h1M62.1 297.7h1M61.1 295.7h1M64.2 298.0h1M59.3 302.0h1M52.4 288.7h1M66.0 295.6h1M55.1 300.2h1M66.3 299.7h1M109.6 275.3h1M79.1 278.9h1M61.3 300.6h1M97.5 272.7h1M117.1 279.4h1M85.3 306.6h1M77.0 276.6h1M88.8 272.5h1M60.1 297.5h1M63.5 296.2h1M56.6 302.7h1M63.7 299.5h1M62.8 302.8h1M67.1 293.5h1M71.6 275.1h1M69.6 301.3h1M66.4 291.0h1M84.1 276.2h1M59.0 294.5h1M58.5 300.8h1M65.0 300.1h1M60.5 295.9h1M66.3 302.0h1M69.0 298.4h1M66.1 295.3h1M62.3 299.8h1M78.5 298.3h1M61.7 302.5h1M65.0 299.1h1M64.5 302.1h1M60.6 299.3h1M65.7 298.6h1M61.3 294.5h1M69.6 304.0h1M113.6 269.1h1"/>
<ellipse cx="62" cy="298.5" rx="5.2" ry="5.6" fill="#cc1d14" fill-opacity="0.85"/>
<path d="M87.4 244.6V310.8M51.3 281.7H132.2" stroke="#8c8c8c" stroke-width="0.6" fill="none"/>
<rect x="76.7" y="272.8" width="2.4" height="2" fill="none" stroke="#888" stroke-width="0.6"/>
<rect x="95.9" y="272.8" width="2.4" height="2" fill="none" stroke="#888" stroke-width="0.6"/>
<rect x="76.7" y="289.3" width="2.4" height="2" fill="none" stroke="#888" stroke-width="0.6"/>
<rect x="95.9" y="289.3" width="2.4" height="2" fill="none" stroke="#888" stroke-width="0.6"/>
<rect x="51.3" y="244.6" width="80.9" height="66.2" fill="none" stroke="#231f20" stroke-width="1"/>
<path d="M51.3 250h-3M51.3 266.5h-3M51.3 281.7h-3M51.3 298.5h-3M51.3 254.95h-1.8M51.3 257.92h-1.8M51.3 259.9h-1.8M51.3 261.55h-1.8M51.3 262.87h-1.8M51.3 264.02h-1.8M51.3 265.01h-1.8M51.3 265.84h-1.8M51.3 271.06h-1.8M51.3 273.8h-1.8M51.3 275.62h-1.8M51.3 277.14h-1.8M51.3 278.36h-1.8M51.3 279.42h-1.8M51.3 280.33h-1.8M51.3 281.09h-1.8M51.3 286.74h-1.8M51.3 289.76h-1.8M51.3 291.78h-1.8M51.3 293.46h-1.8M51.3 294.8h-1.8M51.3 295.98h-1.8M51.3 296.99h-1.8M51.3 297.83h-1.8M51.3 303h-1.5M51.3 305.5h-1.5M67.1 310.8v2.6M85.1 310.8v2.6M105.1 310.8v2.6M123.1 310.8v2.6M72.5 310.8v1.5M75.74 310.8v1.5M77.9 310.8v1.5M79.7 310.8v1.5M81.14 310.8v1.5M82.4 310.8v1.5M83.48 310.8v1.5M84.38 310.8v1.5M91.1 310.8v1.5M94.7 310.8v1.5M97.1 310.8v1.5M99.1 310.8v1.5M100.7 310.8v1.5M102.1 310.8v1.5M103.3 310.8v1.5M104.3 310.8v1.5M110.5 310.8v1.5M113.74 310.8v1.5M115.9 310.8v1.5M117.7 310.8v1.5M119.14 310.8v1.5M120.4 310.8v1.5M121.48 310.8v1.5M122.38 310.8v1.5M61.7 310.8v1.5M58.1 310.8v1.5M54.5 310.8v1.5M51.8 310.8v1.5" stroke="#231f20" stroke-width="0.8" fill="none"/>
<text x="34" y="253.6" font-size="9" stroke-width="0.14"><tspan textLength="8.8" lengthAdjust="spacingAndGlyphs">10</tspan><tspan font-size="6" dy="-3.3" dx="0.2">5</tspan></text>
<text x="34" y="270.1" font-size="9" stroke-width="0.14"><tspan textLength="8.8" lengthAdjust="spacingAndGlyphs">10</tspan><tspan font-size="6" dy="-3.3" dx="0.2">4</tspan></text>
<text x="34" y="285.3" font-size="9" stroke-width="0.14"><tspan textLength="8.8" lengthAdjust="spacingAndGlyphs">10</tspan><tspan font-size="6" dy="-3.3" dx="0.2">3</tspan></text>
<text x="34" y="302.1" font-size="9" stroke-width="0.14"><tspan textLength="8.8" lengthAdjust="spacingAndGlyphs">10</tspan><tspan font-size="6" dy="-3.3" dx="0.2">2</tspan></text>
<text x="63" y="323.9" font-size="9" stroke-width="0.14"><tspan textLength="8.8" lengthAdjust="spacingAndGlyphs">10</tspan><tspan font-size="6" dy="-3.3" dx="0.2">2</tspan></text>
<text x="81" y="323.9" font-size="9" stroke-width="0.14"><tspan textLength="8.8" lengthAdjust="spacingAndGlyphs">10</tspan><tspan font-size="6" dy="-3.3" dx="0.2">3</tspan></text>
<text x="101" y="323.9" font-size="9" stroke-width="0.14"><tspan textLength="8.8" lengthAdjust="spacingAndGlyphs">10</tspan><tspan font-size="6" dy="-3.3" dx="0.2">4</tspan></text>
<text x="119" y="323.9" font-size="9" stroke-width="0.14"><tspan textLength="8.8" lengthAdjust="spacingAndGlyphs">10</tspan><tspan font-size="6" dy="-3.3" dx="0.2">5</tspan></text>
<text x="52.3" y="252.1" font-size="8.4" stroke-width="0.12" textLength="32" lengthAdjust="spacingAndGlyphs">MIG–CTL</text>
<text x="98.9" y="252.1" font-size="8.4" stroke-width="0.12" textLength="32" lengthAdjust="spacingAndGlyphs">6.1±2.5%</text>
<text x="99.8" y="311.3" font-size="8.4" stroke-width="0.12" textLength="31.1" lengthAdjust="spacingAndGlyphs">1.2±0.3%</text>
<path stroke="#d0281c" stroke-opacity="0.42" stroke-width="0.85" d="M186.9 270.6h1M168.9 297.6h1M165.7 291.3h1M205.7 276.3h1M161.2 295.8h1M173.2 289.3h1M167.5 293.4h1M208.1 277.5h1M201.1 281.5h1M175.8 288.7h1M163.5 294.7h1M163.9 300.9h1M222.1 282.7h1M169.2 302.7h1M191.1 274.8h1M165.6 301.1h1M171.1 298.3h1M201.8 274.8h1M232.0 275.7h1M188.4 283.3h1M211.5 279.5h1M174.0 298.3h1M179.4 300.7h1M213.3 277.4h1M169.7 302.3h1M212.9 277.4h1M206.7 282.5h1M164.0 296.4h1M205.3 280.3h1M163.8 301.7h1M213.8 297.1h1M197.2 271.2h1M175.9 284.8h1M207.6 278.2h1M168.1 288.5h1M202.0 278.6h1M216.7 277.8h1M212.7 279.7h1M184.9 293.5h1M206.5 280.3h1M231.5 280.7h1M165.5 297.2h1M204.4 278.7h1M167.1 297.0h1M178.6 296.7h1M164.0 300.0h1M165.2 305.4h1M166.5 296.9h1M162.5 295.2h1M160.1 303.5h1M205.1 274.9h1M232.7 285.5h1M164.4 301.3h1M184.3 282.9h1M167.9 296.1h1M197.6 276.4h1M189.7 278.2h1M206.5 289.2h1M168.3 300.0h1M213.4 274.1h1M171.2 289.6h1M162.2 293.3h1M169.4 305.3h1M166.9 305.0h1M166.6 299.0h1M177.4 296.3h1M171.2 295.1h1M210.1 278.7h1M163.4 295.0h1M199.6 280.1h1M207.4 277.6h1M198.6 282.0h1M217.9 280.9h1M166.6 296.7h1M160.6 294.6h1M166.3 293.0h1M167.0 297.1h1M159.7 290.6h1M203.5 274.7h1M163.5 298.0h1M162.1 300.1h1M197.3 278.1h1M161.5 293.3h1M207.4 283.0h1M169.3 292.9h1M216.6 278.9h1M162.2 297.3h1M166.2 299.9h1M210.7 280.2h1M205.1 277.5h1M214.4 278.5h1M174.3 295.3h1M169.3 295.9h1M165.0 302.1h1M163.1 301.1h1M176.9 294.3h1M176.2 295.6h1M165.3 298.2h1M170.3 296.7h1M172.1 289.7h1M229.0 281.2h1M166.6 294.9h1M165.6 302.4h1M170.7 291.6h1M222.0 290.8h1M191.9 276.6h1M181.5 278.0h1M170.8 292.5h1M223.3 276.3h1M166.5 297.7h1M207.8 280.9h1M165.8 303.4h1M158.1 290.7h1M173.4 291.3h1M225.1 279.8h1M163.5 291.5h1M172.4 284.0h1M162.9 298.0h1M165.4 304.8h1M172.6 285.4h1M188.8 276.7h1M199.3 278.6h1M189.7 277.5h1M195.8 281.7h1M163.0 301.8h1M214.0 274.4h1M219.2 289.1h1M165.2 301.8h1M179.8 293.1h1M169.6 294.3h1M203.2 279.5h1M169.9 278.4h1M205.4 278.2h1M221.1 278.5h1M208.4 278.0h1M200.3 280.5h1M207.4 293.9h1M165.7 302.2h1M215.4 271.7h1M216.1 272.0h1M166.4 300.3h1M162.8 299.3h1M207.1 278.5h1M168.3 300.6h1M210.3 279.6h1M197.2 272.7h1M164.7 298.8h1M170.0 297.7h1M165.4 297.2h1M162.4 300.1h1M210.8 283.6h1M174.8 296.3h1M164.9 299.8h1M222.2 279.7h1M165.4 298.9h1M216.7 278.0h1M223.5 305.3h1M175.7 286.8h1M167.9 288.5h1M211.8 279.0h1M232.1 278.2h1M175.2 281.4h1M173.0 304.3h1M170.6 293.0h1M187.0 274.2h1M165.4 293.5h1M163.6 296.2h1M212.8 281.6h1M167.1 301.3h1M199.9 276.9h1M164.5 295.6h1M176.8 301.3h1M161.5 298.3h1M160.6 300.7h1M224.1 280.7h1M208.4 278.5h1M217.4 277.1h1M170.6 298.9h1M226.5 288.4h1M210.7 273.2h1M167.7 291.6h1M223.5 272.3h1M169.5 298.7h1M173.5 294.4h1M218.7 271.6h1M215.8 275.0h1M165.5 299.3h1M203.2 276.1h1M200.8 277.3h1M168.6 299.6h1M170.6 294.3h1M169.2 292.3h1M231.0 276.0h1M181.1 305.7h1M206.3 276.0h1M168.3 296.9h1M167.8 286.2h1M168.1 295.5h1M163.0 299.5h1M163.1 304.0h1M193.1 291.9h1M225.0 274.7h1M208.1 275.0h1M194.5 282.4h1M200.9 278.7h1M217.4 294.7h1M164.3 295.9h1M169.5 300.6h1M163.0 297.7h1M174.5 291.4h1M164.3 297.3h1M168.2 305.5h1M209.4 278.1h1M161.4 302.7h1M170.8 300.1h1M209.9 277.4h1M213.6 273.1h1M166.5 296.5h1M169.5 301.1h1M171.6 300.1h1M207.5 275.1h1M167.2 299.3h1M221.3 286.2h1M166.0 304.1h1M176.2 298.7h1M165.6 291.7h1M201.0 277.9h1M166.1 299.4h1M188.3 277.2h1M206.2 275.2h1M208.7 281.7h1M234.2 309.9h1M165.9 302.4h1M215.8 275.6h1M194.0 280.3h1M212.1 277.6h1M203.5 277.8h1M201.2 278.1h1M216.7 286.2h1M162.9 295.1h1M164.9 291.4h1M170.0 302.2h1M171.0 300.3h1M168.5 303.2h1M166.4 302.5h1M209.2 277.7h1M167.0 301.5h1M170.0 295.1h1M222.3 277.5h1M196.7 275.8h1M195.5 299.7h1M166.5 294.2h1M164.1 295.1h1M167.2 298.0h1M164.5 296.0h1M165.9 296.6h1M169.6 308.0h1M225.1 273.3h1M201.6 276.4h1M163.3 298.5h1M164.9 295.4h1M173.7 281.2h1M165.3 298.0h1M171.2 301.3h1M167.9 294.2h1M163.5 300.4h1M164.8 299.9h1M226.3 277.4h1M159.3 302.1h1M175.9 290.6h1M165.4 303.4h1M169.0 301.0h1M170.9 302.1h1M218.7 275.3h1M171.4 300.6h1M186.2 292.0h1M166.5 298.0h1M166.3 299.7h1M201.9 281.5h1M193.0 288.6h1M188.2 276.9h1M200.0 277.9h1M170.5 289.3h1M170.9 298.2h1M166.0 297.6h1M207.9 277.4h1M168.7 296.7h1M202.8 276.0h1M205.9 293.4h1M197.8 303.4h1M219.5 275.0h1M167.0 297.7h1M180.4 304.5h1M173.4 305.2h1M169.3 296.1h1M165.5 299.2h1M210.8 282.2h1M187.1 295.3h1M169.5 294.3h1M203.2 274.6h1M209.9 275.8h1M219.3 295.1h1M214.0 275.4h1M164.3 297.5h1M162.4 292.3h1M164.3 302.7h1M196.6 280.4h1M223.6 274.3h1M229.4 277.9h1M163.3 295.3h1M210.8 291.2h1M162.5 303.8h1M208.6 275.2h1M167.2 297.5h1M202.6 275.2h1M170.5 295.1h1M207.7 272.9h1M205.0 277.7h1M163.4 285.8h1M224.5 275.7h1M169.3 304.1h1M171.5 273.7h1M216.1 275.1h1M179.5 297.9h1M217.0 275.1h1M213.9 281.2h1M163.9 296.6h1M169.3 284.5h1M169.0 303.9h1M213.5 274.7h1M168.9 297.8h1M170.7 297.9h1M217.0 277.3h1M176.0 299.3h1M214.9 277.2h1M215.4 277.2h1M203.2 269.9h1M176.4 305.5h1M165.0 294.4h1M163.6 302.9h1M192.0 274.1h1M215.3 276.6h1M202.9 279.6h1M168.2 296.7h1M171.1 294.6h1M165.3 297.8h1M209.9 274.0h1M207.7 278.3h1M179.4 293.2h1M195.8 279.7h1M161.8 297.2h1M164.8 299.2h1M204.1 276.8h1M195.0 278.3h1M172.5 287.8h1M166.6 301.0h1M169.0 295.1h1M206.6 275.3h1M168.5 300.7h1M208.6 280.1h1M166.7 293.2h1M223.3 279.6h1M216.3 279.9h1M211.0 281.0h1M160.4 299.6h1M163.9 299.1h1M206.5 280.5h1M180.3 286.9h1M232.8 294.5h1M163.4 297.1h1M194.6 276.8h1M221.1 297.0h1M164.9 301.6h1M167.4 298.8h1M170.7 295.2h1M165.0 295.9h1M192.7 305.5h1M159.4 298.8h1M164.7 300.5h1M161.2 293.2h1M167.0 276.4h1M219.6 278.3h1M198.7 281.0h1M165.0 298.3h1M182.6 281.9h1M177.7 293.1h1M219.7 280.6h1M161.0 297.8h1M208.6 276.2h1M213.4 281.0h1M208.0 274.2h1M170.7 277.5h1M165.3 302.3h1M166.3 300.3h1M220.6 278.9h1M192.9 308.8h1M164.3 291.7h1M185.3 283.1h1M166.7 297.8h1M209.4 275.0h1M208.8 274.2h1M164.1 302.5h1M198.1 283.2h1M234.5 274.8h1M170.8 295.9h1M213.0 280.7h1M163.9 301.3h1M166.1 297.8h1M169.2 297.6h1M165.3 297.1h1M168.5 297.8h1M194.1 296.5h1M167.1 299.7h1M204.5 275.5h1M177.3 297.5h1M166.2 300.2h1M203.8 280.8h1M198.7 281.1h1M163.7 292.3h1M162.7 299.5h1M208.8 279.1h1M162.9 301.7h1M176.6 306.6h1M176.8 297.5h1M181.5 278.1h1M166.8 296.2h1M159.4 297.5h1M164.0 300.3h1M202.8 294.2h1M186.4 287.0h1M235.6 285.3h1M219.0 276.9h1M225.8 309.7h1M210.0 282.8h1M225.3 277.0h1M167.8 298.1h1M166.9 303.3h1M222.9 279.4h1M185.1 301.7h1M218.3 277.2h1M203.6 276.2h1M217.9 277.9h1M224.5 277.0h1M176.7 288.0h1M182.4 279.1h1M211.2 275.7h1M190.0 271.9h1M166.6 305.7h1M219.5 275.7h1M213.3 278.2h1M177.7 284.7h1M165.5 300.4h1M212.3 278.9h1M165.2 295.7h1M209.0 274.5h1M202.1 281.0h1M161.8 298.3h1M181.2 275.8h1M197.4 286.2h1M215.3 278.5h1M216.5 300.8h1M170.2 301.4h1M217.0 276.9h1M167.4 294.1h1M179.2 280.2h1M164.5 300.6h1M182.1 280.9h1M209.3 276.9h1M207.8 276.1h1M177.8 291.2h1M165.7 300.2h1M192.5 277.0h1M162.7 302.8h1M164.5 300.6h1M186.9 278.0h1M160.6 296.5h1M205.2 275.8h1M231.2 278.8h1M198.2 299.2h1M206.6 309.1h1M164.4 304.6h1M168.2 299.0h1M182.5 286.8h1M171.5 296.7h1M166.0 301.5h1M219.7 279.6h1M163.5 297.9h1"/>
<path stroke="#d0281c" stroke-opacity="0.42" stroke-width="0.85" d="M166.8 301.4h1M200.1 275.0h1M211.4 280.0h1M183.2 277.2h1M206.0 278.3h1M204.1 271.1h1M162.8 298.9h1M205.3 275.9h1M167.7 291.4h1M218.8 276.8h1M188.7 277.9h1M224.2 281.0h1M234.3 299.8h1M225.0 283.4h1M170.5 295.8h1M191.4 278.4h1M170.8 290.7h1M165.3 302.9h1M210.9 278.3h1M222.2 277.1h1M206.5 277.3h1M157.8 306.8h1M205.8 277.1h1M209.3 273.4h1M221.2 281.2h1M195.6 272.6h1M215.2 276.6h1M189.6 277.0h1M180.0 274.5h1M206.0 276.9h1M211.1 279.4h1M165.5 296.4h1M169.7 293.8h1M217.7 272.9h1M174.0 293.4h1M228.7 287.2h1M201.8 268.9h1M171.5 302.4h1M166.6 274.2h1M164.9 299.3h1M167.6 298.5h1M168.4 298.9h1M166.8 301.8h1M165.3 301.9h1M162.8 303.1h1M168.6 300.6h1M166.8 295.4h1M209.5 302.3h1M165.1 301.6h1M210.6 277.8h1M211.6 276.7h1M202.1 280.8h1M168.3 299.0h1M210.8 278.7h1M208.3 274.5h1M166.6 296.1h1M223.0 280.9h1M220.4 277.0h1M212.8 278.9h1M165.7 301.8h1M165.5 298.5h1M165.8 300.8h1M194.6 303.4h1M166.3 297.6h1M205.2 281.2h1M182.3 277.6h1M167.6 295.7h1M183.8 278.0h1M179.7 306.6h1M209.9 271.2h1M166.5 296.6h1M167.3 303.7h1M199.0 281.6h1M163.4 297.3h1M167.2 294.5h1M220.6 278.2h1M202.2 275.0h1M170.1 303.3h1M165.6 301.2h1M173.4 290.0h1M170.9 283.3h1M185.8 277.8h1M217.4 277.8h1M168.8 295.5h1M224.0 300.5h1M218.6 276.5h1M201.7 276.6h1M231.8 292.8h1M202.1 273.6h1M182.2 290.1h1M195.5 278.1h1M213.8 275.7h1M162.3 301.1h1M187.5 271.3h1M188.4 301.4h1M166.3 285.1h1M173.1 277.2h1M183.5 277.6h1M180.2 296.1h1M161.3 299.6h1M199.5 278.5h1M200.9 277.2h1M225.1 278.0h1M173.5 291.4h1M206.9 284.5h1M162.2 299.5h1M167.1 300.2h1M163.9 302.0h1M190.4 278.6h1M198.2 276.4h1M186.4 304.3h1M176.8 295.1h1M173.0 294.3h1M216.3 276.5h1M158.7 299.0h1M167.2 302.9h1M227.6 300.7h1M205.2 301.4h1M205.9 271.7h1M193.3 277.2h1M206.0 306.9h1M218.9 273.6h1M161.3 301.0h1M160.6 301.7h1M162.3 295.6h1M204.0 276.9h1M162.1 302.1h1M212.2 277.2h1M218.2 278.7h1M164.6 298.8h1M184.0 280.2h1M199.5 279.7h1M205.6 272.9h1M188.6 274.2h1M176.2 289.0h1M208.2 275.4h1M164.2 299.7h1M208.8 273.5h1M200.9 277.0h1M164.6 297.3h1M166.1 290.5h1M205.8 279.8h1M191.3 299.3h1M224.9 277.8h1M217.5 277.0h1M176.9 294.9h1M167.4 300.8h1M170.7 297.5h1M163.5 298.4h1M195.2 279.3h1M178.0 291.9h1M168.1 304.1h1M189.8 280.4h1M217.4 279.8h1M170.2 292.0h1M203.4 279.8h1M190.5 277.2h1M163.7 293.9h1M167.0 298.0h1M200.1 277.6h1M206.2 277.2h1M157.0 300.8h1M161.3 305.1h1M160.1 293.5h1M168.3 302.1h1M173.0 287.8h1M173.0 276.9h1M200.7 278.5h1M164.5 299.3h1M206.8 277.5h1M169.8 288.4h1M191.3 277.1h1M222.6 278.2h1M169.2 292.2h1M165.5 303.1h1M174.1 290.0h1M204.9 281.0h1M164.3 290.6h1M199.1 276.9h1M193.2 272.5h1M206.3 274.6h1M164.2 296.0h1M168.2 295.6h1M211.1 272.0h1M207.5 272.9h1M223.1 275.8h1M222.3 289.3h1M212.4 278.0h1M205.0 279.4h1M196.5 278.2h1M166.2 296.2h1M210.4 300.7h1M187.6 292.4h1M167.3 304.3h1M164.7 293.7h1M197.1 277.4h1M182.7 273.5h1M169.3 297.9h1M165.2 298.7h1M162.1 294.3h1M168.6 304.2h1M170.6 279.8h1M231.2 271.2h1M171.1 302.8h1M174.5 284.4h1M163.9 302.7h1M166.6 298.8h1M167.5 288.3h1M221.1 274.7h1M180.3 294.4h1M166.6 289.6h1M198.7 272.5h1M203.6 275.7h1M164.5 303.8h1M166.4 298.8h1M165.8 299.9h1M163.0 298.7h1M209.2 275.0h1M216.1 272.0h1M166.7 294.0h1M163.5 298.4h1M210.6 274.5h1M172.7 297.8h1M214.5 276.7h1M167.0 297.5h1M212.2 272.9h1M211.5 294.0h1M165.8 297.7h1M167.5 296.9h1M188.8 281.0h1M174.1 300.5h1M170.0 293.7h1M165.6 300.9h1M164.7 296.9h1M174.1 307.4h1M171.3 302.2h1M164.8 293.3h1M164.9 301.9h1M202.4 274.5h1M211.0 280.0h1M230.9 299.2h1M211.1 278.5h1M182.7 302.7h1M201.1 281.2h1M167.3 303.5h1M166.6 294.9h1M174.2 296.7h1M212.5 271.7h1M172.7 305.1h1M201.8 276.8h1M212.1 278.7h1M214.6 275.9h1M169.6 299.5h1M166.1 300.4h1M160.9 285.7h1M164.4 301.4h1M175.8 286.9h1M168.5 298.3h1M171.2 306.8h1M173.5 296.7h1M195.9 278.6h1M197.1 277.5h1M200.6 309.7h1M185.0 277.5h1M167.7 297.6h1M164.8 300.3h1M167.1 299.8h1M212.5 277.6h1M216.9 281.0h1M196.5 275.1h1M197.9 273.1h1M191.2 281.4h1M206.5 277.1h1M169.4 298.5h1M212.8 279.2h1M182.2 276.5h1M168.2 299.3h1M234.0 275.4h1M226.5 279.6h1M162.2 305.5h1M185.6 289.3h1M164.4 299.6h1M168.6 300.4h1M174.2 271.1h1M164.5 301.8h1M172.1 309.6h1M169.0 303.0h1M226.6 277.9h1M214.7 275.8h1M166.0 302.0h1M162.2 302.7h1M201.9 280.2h1M231.0 277.9h1M208.5 279.7h1M170.8 299.2h1M194.3 275.9h1M196.9 277.4h1M165.6 302.6h1M221.4 277.3h1M198.3 276.8h1M168.3 299.4h1M201.5 309.8h1M174.7 300.2h1M176.3 294.8h1M170.6 294.4h1M212.2 276.6h1M164.6 299.6h1M199.0 273.8h1M214.7 278.3h1M163.1 299.0h1M189.6 273.0h1M164.7 299.9h1M165.5 302.6h1M166.4 299.7h1M192.9 281.4h1M186.8 278.8h1M208.5 274.3h1M216.4 276.2h1M179.2 273.5h1M219.2 274.6h1M166.7 300.6h1M168.4 291.3h1M164.6 295.5h1M177.1 300.9h1M220.8 282.4h1M177.0 299.3h1M181.3 282.3h1M169.1 295.8h1M208.3 280.1h1M219.7 276.2h1M186.4 273.7h1M196.5 298.8h1M166.7 297.3h1M167.6 292.5h1M164.1 295.7h1M207.3 279.4h1M203.2 276.4h1M164.1 283.7h1M187.9 279.5h1M170.6 300.6h1M167.7 301.3h1M178.4 277.6h1M174.1 261.1h1M167.3 297.2h1M162.2 286.4h1M189.7 279.6h1M172.7 289.1h1M165.9 297.9h1M213.3 280.8h1M165.4 295.1h1M223.6 294.4h1M207.8 280.3h1M162.8 304.0h1M176.8 304.3h1M175.1 283.5h1M165.8 295.8h1M216.9 277.3h1M193.5 277.3h1M232.0 273.1h1M205.5 277.8h1M165.4 299.4h1M163.9 304.5h1M215.1 277.3h1M208.0 280.7h1M208.5 277.0h1M205.3 279.4h1M208.8 279.4h1M203.0 277.6h1M166.0 299.0h1M193.2 275.0h1M178.0 297.2h1M218.3 297.0h1M196.7 278.6h1M171.6 301.7h1M197.2 280.5h1M168.9 301.8h1M171.4 292.0h1M177.3 300.8h1M213.4 278.1h1M161.4 303.4h1M206.3 275.4h1M167.5 289.2h1M163.1 299.8h1M222.0 278.4h1M180.8 280.9h1M168.2 302.2h1M211.3 284.6h1M170.3 301.3h1M213.1 282.3h1M160.4 295.0h1M177.0 289.9h1M171.1 301.3h1M189.9 278.4h1M231.0 293.6h1M167.1 299.1h1M221.2 279.3h1M159.7 300.6h1M165.0 297.3h1M207.0 276.3h1M168.8 304.5h1M169.5 295.3h1M217.4 274.9h1M166.3 300.6h1M231.0 289.6h1M190.6 295.2h1M162.7 286.5h1M208.6 275.8h1M206.5 273.9h1M165.6 298.1h1M168.6 301.5h1M214.3 277.8h1M161.8 302.6h1M165.2 301.8h1M227.0 291.1h1M168.8 295.3h1M164.0 304.0h1M175.4 299.6h1M189.9 278.5h1M166.9 299.1h1M167.5 298.5h1M212.5 278.6h1M219.8 304.0h1M214.9 281.8h1M169.9 297.5h1M167.8 302.9h1M184.3 279.0h1M207.2 274.2h1M229.0 276.3h1M171.2 300.2h1M200.3 280.5h1M163.7 297.9h1M213.8 270.3h1M166.4 300.3h1M206.6 280.4h1M211.5 276.3h1M180.9 276.3h1M203.6 280.3h1M209.5 276.1h1M197.1 277.6h1M163.7 288.6h1M202.6 282.8h1M165.7 292.7h1M208.3 275.6h1M208.5 280.0h1M164.8 307.4h1M163.9 292.3h1M191.7 277.0h1M208.3 283.4h1M216.2 277.1h1M198.2 275.4h1M213.8 278.9h1M166.3 296.6h1M165.7 283.2h1M164.4 298.4h1M164.6 305.1h1M192.1 309.6h1M198.3 299.9h1M177.0 281.7h1M166.8 299.6h1M172.9 294.4h1M160.2 290.6h1M163.5 297.9h1M169.2 276.7h1M168.4 296.9h1M179.2 291.2h1M163.7 302.2h1M169.3 306.4h1M213.2 275.5h1M219.4 299.1h1M179.3 304.8h1M167.7 298.0h1M184.3 278.8h1M191.6 279.1h1M174.4 284.0h1M172.0 300.3h1M205.9 272.9h1M161.9 254.2h1M165.3 302.5h1M175.7 300.9h1M206.3 277.7h1M162.4 297.3h1M219.1 277.0h1M207.8 276.7h1M160.9 291.6h1M165.6 299.8h1M166.0 302.3h1M222.4 279.2h1"/>
<path stroke="#d0281c" stroke-opacity="0.42" stroke-width="0.85" d="M172.0 290.8h1M170.9 297.9h1M211.7 274.3h1M174.0 303.6h1M211.8 297.3h1M168.2 300.2h1M165.7 301.1h1M210.5 277.7h1M171.8 301.1h1M169.4 289.0h1M169.1 301.3h1M202.5 308.9h1M179.0 297.0h1M163.3 299.5h1M178.4 277.4h1M181.6 305.8h1M211.4 280.4h1M206.3 279.7h1M206.8 276.3h1M216.8 262.6h1M197.0 273.2h1M162.0 298.4h1M166.2 305.6h1M162.2 301.6h1M176.8 296.1h1M160.5 301.9h1M194.9 279.1h1M167.9 298.4h1M168.1 295.1h1M194.4 277.0h1M166.7 296.3h1M164.0 302.8h1M212.0 277.2h1M173.4 278.4h1M222.9 275.5h1M208.8 277.8h1M209.3 275.2h1M202.2 275.3h1M211.7 307.8h1M169.7 310.0h1M207.5 279.6h1M164.7 299.0h1M167.6 300.0h1M189.7 279.7h1M183.2 272.4h1M168.2 304.0h1M178.2 293.8h1M176.8 301.2h1M232.7 271.4h1M199.2 277.1h1M203.6 280.2h1M167.4 292.0h1M203.4 279.2h1M220.4 278.5h1M204.3 277.4h1M200.4 274.0h1M170.4 288.0h1M188.7 275.3h1M163.7 298.9h1M167.0 295.0h1M158.8 305.1h1M200.2 283.8h1M220.1 274.0h1M206.2 274.2h1M217.7 282.2h1M163.7 299.3h1M208.8 283.1h1M217.7 275.4h1M217.1 275.8h1M159.9 308.6h1M200.4 276.8h1M224.6 309.2h1M170.5 300.3h1M195.9 278.8h1M193.5 275.9h1M204.6 276.9h1M175.3 296.1h1M205.9 279.2h1M169.2 292.8h1M226.4 280.3h1M182.6 278.6h1M223.9 282.8h1M168.1 302.0h1M165.7 299.0h1M168.6 300.6h1M204.1 278.3h1M167.2 306.4h1M172.6 294.8h1M166.0 294.5h1M168.8 297.5h1M222.2 278.8h1M213.5 280.8h1M175.6 300.1h1M163.8 301.4h1M174.2 301.1h1M170.6 277.7h1M164.7 300.8h1M200.9 278.2h1M193.5 280.7h1M208.8 273.2h1M162.1 300.6h1M181.3 307.3h1M224.4 274.6h1M206.6 278.1h1M162.7 298.0h1M170.7 295.5h1M165.2 299.6h1M170.5 294.9h1M172.8 289.6h1M163.8 303.4h1M232.3 282.4h1M209.0 308.3h1M165.3 298.5h1M167.3 302.1h1M171.3 302.6h1M205.4 285.2h1M205.4 296.6h1M228.4 297.9h1M218.1 280.3h1M167.8 295.5h1M212.1 279.7h1M222.0 275.5h1M215.0 271.9h1M169.4 277.0h1M202.7 274.9h1M207.3 276.3h1M171.7 290.3h1M186.6 277.9h1M223.7 275.6h1M199.7 279.4h1M163.5 302.0h1M199.8 280.7h1M166.0 301.5h1M176.3 303.8h1M197.8 279.7h1M212.7 278.5h1M182.4 297.0h1M197.1 281.1h1M207.8 274.7h1M167.8 303.9h1M197.2 308.1h1M213.6 281.5h1M194.7 276.7h1M167.1 293.6h1M171.8 295.5h1M216.7 274.5h1M168.2 300.3h1M166.8 300.7h1M191.9 272.6h1M182.5 280.5h1M204.8 278.7h1M190.1 274.8h1M222.9 278.1h1M164.1 298.7h1M209.6 278.8h1M165.3 296.1h1M183.0 276.5h1M209.2 281.3h1M167.8 299.7h1M167.0 299.5h1M161.5 306.6h1M232.3 276.7h1M169.0 295.5h1M169.8 299.1h1M166.9 301.4h1M167.4 297.7h1M164.1 290.7h1M222.4 277.4h1M167.5 300.2h1M169.2 298.6h1M211.6 273.9h1M229.7 276.8h1M160.1 306.1h1M164.3 297.7h1M215.6 275.3h1M174.2 278.1h1M168.2 300.7h1M191.5 280.7h1M218.4 303.8h1M223.1 298.9h1M166.7 295.4h1M204.2 275.0h1M221.6 276.1h1M205.1 276.9h1M166.5 297.3h1M175.9 300.7h1M174.3 277.1h1M167.3 300.5h1M213.8 279.7h1M225.6 277.8h1M219.2 280.2h1M164.1 294.0h1M226.5 278.0h1M183.3 279.1h1M167.1 303.5h1M164.9 285.9h1M180.5 282.5h1M210.0 276.3h1M206.4 275.2h1M163.0 294.0h1M168.5 301.2h1M168.9 294.5h1M165.7 308.0h1M163.7 299.9h1M203.7 280.9h1M216.4 304.3h1M166.5 295.4h1M167.0 298.8h1M216.5 282.1h1M172.5 295.8h1M190.4 276.5h1M169.0 294.9h1M180.0 275.3h1M161.9 299.2h1M203.4 274.3h1M168.0 302.7h1M163.6 294.2h1M165.4 295.4h1M217.7 286.2h1M191.7 275.3h1M169.7 294.0h1M167.0 294.6h1M214.4 280.5h1M165.7 293.2h1M162.1 293.6h1M199.2 301.3h1M221.5 278.6h1M169.3 295.1h1M165.4 299.2h1M208.7 275.9h1M166.8 300.8h1M170.4 303.3h1M192.1 281.4h1M168.3 286.3h1M201.4 278.2h1M221.9 289.6h1M163.7 300.8h1M164.7 293.6h1M180.6 282.1h1M206.8 278.8h1M167.3 297.9h1M218.8 279.7h1M178.6 294.6h1M164.6 306.0h1M178.0 277.8h1M232.1 273.1h1M186.6 275.3h1M164.1 299.0h1M163.0 305.0h1M206.0 281.6h1M186.8 297.5h1M169.6 302.2h1M227.6 309.4h1M212.9 274.8h1M199.3 279.0h1M163.9 294.7h1M170.3 295.9h1M172.0 281.4h1M168.0 296.8h1M166.9 299.8h1M166.8 299.7h1M171.9 293.5h1M165.9 296.2h1M212.4 277.5h1M180.6 291.8h1M175.5 297.9h1M172.2 299.1h1M177.3 301.4h1M194.1 274.9h1M166.5 305.4h1M223.2 284.2h1M196.9 274.7h1M208.9 277.3h1M203.8 274.4h1M172.2 298.3h1M196.6 273.1h1M227.1 273.0h1M169.2 302.2h1M173.4 299.9h1M194.3 278.6h1M164.4 294.0h1M163.1 292.9h1M166.0 297.4h1M212.4 274.4h1M164.2 292.8h1M209.7 276.5h1M170.4 287.4h1M217.5 275.8h1M159.9 295.4h1M169.9 301.9h1M180.4 307.6h1M206.1 277.5h1M162.4 298.0h1M166.9 297.4h1M169.0 274.0h1M177.3 278.3h1M168.4 297.9h1M161.5 304.1h1M219.8 276.0h1M170.2 286.0h1M232.5 279.6h1M165.8 305.2h1M206.9 277.2h1M198.2 274.3h1M162.4 302.9h1M189.5 277.1h1M164.3 298.7h1M164.0 297.9h1M211.7 278.9h1M167.0 300.9h1M218.2 277.7h1M168.2 297.0h1M211.9 279.6h1M169.4 294.1h1M202.9 279.1h1M170.8 298.0h1M162.8 302.8h1M162.8 297.0h1M199.1 279.9h1M196.6 281.2h1M168.6 296.8h1M189.9 275.7h1M224.4 277.2h1M173.3 301.7h1M166.3 300.2h1M167.3 303.4h1M190.6 273.9h1M200.7 274.8h1M194.6 280.3h1M199.8 285.9h1M197.6 301.7h1M204.9 278.4h1M172.3 287.8h1M211.0 279.5h1M188.9 275.5h1M217.3 274.3h1M166.2 303.9h1M168.5 288.1h1M189.4 279.7h1M205.6 275.9h1M208.3 281.2h1M163.3 298.1h1M195.0 275.2h1M175.8 293.1h1M216.9 273.2h1M203.3 280.0h1M167.1 301.3h1M165.2 300.3h1M169.9 295.8h1M199.1 274.9h1M159.0 295.8h1M163.9 299.6h1M207.4 281.9h1M214.3 278.2h1M211.2 275.1h1M223.7 275.4h1M220.0 274.8h1M203.6 274.1h1M162.7 296.4h1M167.7 299.0h1M208.5 281.6h1M169.8 296.9h1M168.3 295.3h1M168.7 278.3h1M163.8 302.9h1M200.0 275.2h1M194.0 293.8h1M235.5 270.7h1M165.2 294.7h1M163.5 294.6h1M161.3 303.0h1M166.9 295.3h1M167.2 300.4h1M170.5 306.4h1M167.3 305.5h1M172.4 293.5h1M189.0 279.5h1M216.7 299.1h1M200.9 274.7h1M210.0 270.4h1M164.9 296.9h1M201.0 274.0h1M186.3 277.7h1M165.3 299.6h1M162.1 301.9h1M187.4 273.4h1M164.2 295.7h1M168.1 300.2h1M176.6 292.8h1M205.6 274.7h1M203.4 277.1h1M171.8 298.7h1M164.2 293.9h1M168.5 290.6h1M165.4 297.3h1M191.2 275.2h1M233.6 273.1h1M199.8 279.8h1M194.6 274.2h1M210.1 275.0h1M167.0 295.5h1M218.9 273.2h1M169.2 290.1h1M171.6 296.3h1M217.0 278.0h1M209.5 277.9h1M168.7 299.0h1M226.1 278.8h1M201.0 305.6h1M168.6 295.0h1M166.6 297.6h1M182.7 280.4h1M163.8 296.9h1M210.2 293.2h1M223.4 308.7h1M206.7 289.5h1M169.6 294.9h1M171.7 292.3h1M172.8 274.4h1M229.2 277.0h1M163.1 299.2h1M216.6 277.4h1M161.5 297.7h1M166.1 303.3h1M165.2 298.7h1M198.6 280.2h1M195.7 280.0h1M161.3 303.7h1M170.7 292.7h1M168.8 296.1h1M210.3 278.6h1M209.1 275.0h1M163.5 301.7h1M156.4 294.4h1M164.4 300.6h1M171.1 285.1h1M173.9 298.6h1M167.6 300.0h1M190.0 297.1h1M167.4 290.5h1M212.5 283.9h1M171.2 296.3h1M210.2 279.1h1M225.0 298.1h1M202.8 276.7h1M181.3 283.7h1M225.8 279.4h1M205.9 274.5h1M166.3 293.7h1M170.1 299.1h1M217.5 281.1h1M164.6 299.9h1M172.4 305.2h1M223.5 289.1h1M188.1 277.0h1M214.3 276.8h1M170.3 298.9h1M165.7 302.1h1M166.3 296.4h1M192.3 285.9h1M216.5 278.9h1M203.1 278.8h1M173.5 302.1h1M183.1 277.0h1M165.5 298.9h1M224.6 276.9h1M195.6 279.6h1M160.3 304.2h1M212.0 276.4h1M204.6 280.9h1M204.6 279.4h1M175.8 299.1h1M222.5 276.0h1M192.6 273.7h1M228.7 278.4h1M168.8 294.2h1M211.9 276.6h1M189.1 280.1h1M167.7 273.3h1M186.5 285.4h1M170.4 296.7h1M198.7 277.5h1M207.3 277.5h1M204.7 272.9h1M222.0 276.6h1M168.6 295.7h1M166.4 299.4h1"/>
<path stroke="#d0281c" stroke-opacity="0.42" stroke-width="0.85" d="M165.7 303.7h1M163.2 295.4h1M167.4 300.3h1M177.2 293.5h1M194.8 277.4h1M220.4 272.3h1M165.9 298.6h1M168.8 302.1h1M216.1 274.8h1M200.7 278.2h1M203.4 277.2h1M192.7 273.2h1M206.9 281.3h1M169.2 297.3h1M197.5 278.2h1M221.6 278.0h1M219.2 278.7h1M214.6 275.0h1M166.2 300.6h1M190.2 271.4h1M193.0 276.1h1M162.7 294.7h1M167.6 295.4h1M201.5 278.4h1M190.8 309.4h1M209.3 277.5h1M165.3 298.8h1M168.9 296.2h1M204.2 280.6h1M161.8 298.2h1M202.1 276.0h1M174.7 294.6h1M221.5 305.4h1M207.7 275.2h1M191.5 279.3h1M172.6 288.8h1M199.9 275.0h1M166.6 290.2h1M189.0 291.9h1M197.7 307.9h1M203.8 278.7h1M163.7 294.5h1M219.4 299.3h1M191.7 277.5h1M195.8 280.0h1M172.8 294.4h1M196.5 296.8h1M204.1 279.6h1M220.3 299.6h1M214.6 282.9h1M176.5 297.7h1M220.1 275.5h1M167.6 292.0h1M170.8 308.3h1M185.5 272.3h1M161.2 295.6h1M191.4 279.5h1M208.1 275.2h1M216.8 275.1h1M162.7 296.4h1M209.0 281.3h1M166.4 294.2h1M163.2 304.8h1M204.6 275.8h1M169.0 298.3h1M167.4 286.2h1M164.6 298.7h1M202.6 277.9h1M215.9 279.8h1M161.1 296.8h1M164.8 300.0h1M164.2 300.8h1M210.4 299.8h1M204.9 277.3h1M169.3 293.4h1M169.4 298.3h1M166.5 302.1h1M165.0 304.6h1M169.2 293.5h1M165.7 298.9h1M204.7 280.6h1M168.4 306.1h1M211.3 276.8h1M166.2 292.3h1M174.7 275.6h1M222.7 275.0h1M224.4 278.3h1M180.1 276.5h1M166.5 296.1h1M202.2 279.4h1M224.7 293.7h1M165.7 295.8h1M164.1 296.9h1M163.9 296.2h1M202.4 275.8h1M185.9 272.7h1M187.3 272.9h1M200.8 280.2h1M209.0 276.4h1M217.6 278.7h1M164.9 301.2h1M213.3 275.1h1M199.5 275.5h1M198.3 276.5h1M193.3 293.9h1M188.0 277.6h1M165.8 298.8h1M214.0 276.8h1M213.7 272.5h1M230.8 280.1h1M233.2 277.8h1M169.7 295.5h1M209.8 278.3h1M164.2 302.7h1M176.0 269.6h1M170.2 299.9h1M211.1 281.3h1M171.2 287.5h1M215.2 278.4h1M210.7 278.4h1M167.0 301.7h1M207.9 275.4h1M209.7 277.6h1M201.8 280.1h1M205.6 280.1h1M224.4 278.4h1M177.6 302.2h1M164.7 297.1h1M198.9 272.1h1M201.7 305.1h1M165.6 302.8h1M188.9 279.3h1M194.8 279.6h1M224.8 280.1h1M164.3 296.7h1M169.9 304.5h1M172.4 296.8h1M213.5 277.5h1M189.6 280.0h1M173.8 304.9h1M162.9 294.9h1M168.0 302.6h1M166.8 296.6h1M175.0 276.5h1M165.6 297.3h1M161.0 290.5h1M206.3 278.2h1M180.7 278.0h1M165.3 296.1h1M191.5 279.7h1M166.0 303.7h1M164.9 297.6h1M205.0 276.6h1M163.3 298.8h1M172.3 301.7h1M164.8 298.4h1M169.4 302.9h1M164.8 294.4h1M191.2 281.0h1M164.8 297.8h1M165.2 291.5h1M202.3 280.3h1M203.7 278.9h1M165.0 304.4h1M166.8 303.5h1M166.5 304.7h1M164.4 298.6h1M161.7 292.1h1M192.3 281.5h1M209.4 282.9h1M164.9 302.7h1M218.4 278.7h1M204.2 274.4h1M166.4 299.0h1M158.4 298.4h1M168.9 295.1h1M180.7 293.5h1M162.8 300.7h1M229.8 279.5h1M162.1 290.3h1M183.6 296.3h1M208.5 280.3h1M214.5 277.6h1M214.3 281.0h1M165.3 297.1h1M164.3 296.5h1M169.3 296.0h1M169.3 300.5h1M171.5 300.8h1M165.5 301.7h1M188.0 273.6h1M169.2 298.0h1M227.6 277.6h1M165.4 304.4h1M177.4 285.8h1M202.1 277.1h1M166.0 297.7h1M216.2 280.9h1M202.5 276.0h1M210.5 271.2h1M162.3 298.8h1M165.6 298.3h1M214.0 279.4h1M205.7 278.1h1M166.5 295.6h1M182.6 276.8h1M210.0 275.5h1M227.7 279.0h1M169.5 295.3h1M169.5 299.1h1M162.6 304.9h1M167.4 288.0h1M165.6 295.0h1M206.8 278.2h1M182.6 291.7h1M193.8 276.8h1M164.1 298.2h1M161.5 296.2h1M167.0 299.3h1M174.7 301.7h1M195.4 287.3h1M165.4 295.9h1M190.5 275.5h1M186.7 279.4h1M173.9 292.7h1M201.8 277.4h1M216.9 280.0h1M168.8 298.1h1M178.1 302.2h1M165.5 300.7h1M199.7 276.5h1M161.7 295.2h1M163.3 300.2h1M175.0 306.9h1M171.2 300.9h1M161.5 295.1h1M194.3 277.6h1M198.4 275.5h1M194.8 277.2h1M167.7 299.6h1M164.3 297.8h1M187.5 277.9h1M166.6 297.5h1M230.4 286.0h1M174.1 295.4h1M168.2 303.0h1M170.8 279.9h1M183.6 275.4h1M210.6 274.6h1M231.4 275.8h1M225.4 276.4h1M168.8 293.7h1M201.3 278.4h1M201.5 302.7h1M214.2 276.2h1M166.1 291.3h1M165.5 303.7h1M165.4 305.4h1M226.4 276.5h1M163.8 301.1h1M174.7 295.6h1M164.9 297.2h1M213.7 296.8h1M193.5 280.1h1M199.7 276.4h1M164.5 285.2h1M223.6 275.4h1M192.4 277.8h1M167.9 309.0h1M198.1 292.6h1M168.9 302.9h1M210.2 275.9h1M167.4 295.2h1M164.1 293.6h1M201.7 274.7h1M167.0 301.3h1M203.2 274.9h1M164.5 302.6h1M178.5 278.4h1M210.4 280.0h1M168.2 293.2h1M214.2 275.6h1M207.2 273.5h1M212.9 280.7h1M169.8 298.3h1M209.6 309.8h1M180.3 280.3h1M211.8 276.5h1M184.9 298.4h1M220.5 274.3h1M166.9 301.7h1M213.4 279.8h1M166.3 300.8h1M202.4 277.2h1M168.3 305.9h1M166.3 282.3h1M203.3 276.0h1M165.1 297.2h1M203.9 275.3h1M209.5 277.8h1M162.8 296.9h1M205.9 278.7h1M183.0 291.6h1M211.4 278.1h1M212.4 269.7h1M174.3 278.1h1M214.1 278.9h1M171.5 277.9h1M214.5 279.6h1M183.6 296.8h1M201.3 278.6h1M205.0 275.3h1M173.6 292.0h1M171.2 292.7h1M167.0 300.8h1M169.3 275.1h1M171.0 296.4h1M168.2 300.4h1M168.3 297.4h1M227.1 302.3h1M164.0 302.9h1M162.3 301.8h1M233.2 276.5h1M217.1 270.9h1M199.9 274.2h1M222.2 276.9h1M167.8 291.3h1M218.1 274.0h1M169.0 275.4h1M165.5 303.3h1M206.3 277.9h1M207.5 298.0h1M210.6 279.3h1M195.6 282.0h1M166.0 295.2h1M168.9 298.9h1M184.1 277.9h1M235.7 304.4h1M218.0 275.8h1M171.7 295.9h1M161.2 301.1h1M164.4 299.0h1M170.4 300.2h1M228.9 276.2h1M183.7 279.5h1M172.5 294.8h1M166.8 305.2h1M166.0 297.4h1M210.3 277.8h1M172.4 297.1h1M183.9 277.0h1M181.9 279.9h1M165.1 302.8h1M176.0 278.2h1M165.6 298.1h1M201.0 295.4h1M200.9 276.7h1M166.2 292.8h1M220.5 278.6h1M191.2 279.0h1M182.1 278.1h1M207.8 274.5h1M228.2 284.6h1M170.9 292.2h1M169.7 298.9h1M203.7 273.3h1M165.3 296.7h1M230.4 279.1h1M163.5 297.5h1M165.0 298.7h1M165.8 300.4h1M166.6 304.4h1M169.1 297.2h1M203.2 273.1h1M162.5 301.0h1M185.3 280.5h1M167.9 297.3h1M222.7 275.4h1M203.2 270.4h1M182.7 277.5h1M168.3 287.4h1M171.9 289.4h1M159.5 300.4h1M163.1 297.2h1M163.4 299.4h1M179.0 284.3h1M212.0 278.8h1M165.7 293.0h1M224.2 274.9h1M168.2 301.8h1M168.4 296.2h1M172.2 296.4h1M172.8 296.0h1M170.6 284.5h1M165.2 299.1h1M200.2 274.4h1M173.6 303.7h1M159.9 302.6h1M172.0 292.7h1M162.5 296.9h1M173.6 292.2h1M176.2 296.6h1M172.4 294.4h1M169.4 297.7h1M224.3 278.0h1M165.0 297.9h1M183.9 274.7h1M210.3 279.6h1M178.6 273.4h1M162.9 301.7h1M168.5 301.3h1M189.1 291.4h1M168.8 294.2h1M187.3 274.3h1M169.5 295.0h1M169.1 300.5h1M173.6 288.9h1M167.9 298.1h1M201.8 273.8h1M166.1 300.3h1M190.2 276.9h1M211.3 278.5h1M176.1 303.4h1M173.2 299.5h1M163.7 299.0h1M174.3 295.8h1M210.9 293.0h1M167.4 296.0h1M173.6 302.1h1M164.3 294.4h1M173.7 286.4h1M171.2 295.7h1M188.9 273.3h1M213.6 278.1h1M173.0 291.9h1M175.2 304.9h1M221.8 277.8h1M212.4 276.4h1M213.6 278.7h1M161.9 298.5h1M200.1 275.4h1M172.6 277.9h1M166.1 292.1h1M163.8 301.0h1M210.6 276.3h1M189.8 276.9h1M167.6 300.4h1M164.1 297.6h1M187.1 277.7h1M176.6 309.4h1M218.8 275.4h1M207.9 283.7h1M167.0 297.3h1M169.8 292.8h1M228.0 279.0h1M159.9 301.7h1M170.9 296.8h1M211.7 275.5h1M172.1 282.1h1M199.7 281.4h1M202.2 273.5h1M226.0 278.6h1M197.9 276.6h1M160.4 302.4h1M180.7 283.8h1M175.8 295.2h1M172.3 278.7h1M210.7 276.4h1M191.4 279.4h1M178.7 292.8h1M172.1 293.4h1M228.8 277.9h1M168.5 298.7h1M186.4 277.0h1M209.5 278.5h1M212.9 298.5h1M170.6 301.7h1M234.6 306.9h1M167.6 288.8h1M185.4 295.8h1M167.4 301.7h1M167.1 289.8h1M204.3 278.2h1M223.8 276.6h1M165.8 296.9h1M163.4 295.4h1M208.4 279.8h1"/>
<path stroke="#d0281c" stroke-opacity="0.42" stroke-width="0.85" d="M164.9 292.5h1M204.7 276.5h1M161.2 301.2h1M180.1 274.1h1M219.7 277.5h1M166.0 299.9h1M210.4 275.0h1M199.7 279.2h1M168.9 293.9h1M215.0 272.1h1M217.9 275.9h1M192.8 275.3h1M169.2 298.9h1M200.5 273.4h1M189.4 287.5h1M200.0 274.2h1M182.3 279.4h1M194.8 288.8h1M168.7 299.5h1M180.5 309.8h1M162.9 291.9h1M168.8 295.5h1M209.9 277.3h1M166.4 294.8h1M203.0 277.2h1M162.7 293.6h1M175.4 291.0h1M167.9 296.5h1M207.6 278.3h1M198.6 280.0h1M192.0 276.8h1M166.4 294.5h1M200.7 303.2h1M167.3 292.5h1M164.6 297.7h1M166.1 303.8h1M209.7 276.7h1M160.8 295.6h1M188.6 276.5h1M213.6 276.7h1M202.9 278.6h1M167.2 295.6h1M165.8 298.2h1M205.7 274.0h1M213.4 273.8h1M162.7 304.2h1M200.4 278.5h1M166.0 298.8h1M209.2 276.1h1M211.9 275.1h1M212.7 279.4h1M190.0 287.7h1M168.0 296.5h1M163.9 296.1h1M212.7 276.5h1M189.0 275.3h1M163.6 303.2h1M168.8 298.1h1M181.7 288.2h1M165.5 296.0h1M225.5 280.4h1M225.3 280.1h1M159.8 296.7h1M184.3 273.3h1M227.2 278.6h1M201.4 281.1h1M165.9 295.3h1M206.0 278.1h1M169.1 299.9h1M170.9 288.7h1M179.7 292.2h1M160.8 298.9h1M170.7 286.4h1M164.5 300.6h1M167.9 298.7h1M218.0 280.9h1M166.4 299.5h1M179.7 288.6h1M194.2 278.5h1M164.0 305.2h1M165.9 300.9h1M210.2 277.5h1M160.3 296.5h1M198.4 282.2h1M164.6 293.4h1M162.3 297.4h1M231.3 274.7h1M206.7 278.8h1M203.5 278.1h1M230.3 278.9h1M165.5 297.4h1M165.2 300.6h1M195.5 291.3h1M194.2 276.3h1M165.4 296.2h1M197.2 275.3h1M161.3 296.9h1M216.8 279.1h1M165.8 300.8h1M165.1 301.8h1M171.5 300.9h1M214.3 278.3h1M208.4 273.5h1M215.2 275.2h1M171.8 283.1h1M207.2 280.7h1M169.9 298.4h1M164.3 295.1h1M211.9 280.0h1M175.1 302.0h1M189.9 276.4h1M194.5 274.6h1M215.3 281.2h1M208.4 275.3h1M202.9 278.6h1M166.1 303.4h1M167.0 297.7h1M166.3 295.8h1M178.3 273.4h1M209.6 274.8h1M201.3 275.5h1M163.6 296.3h1M204.4 279.8h1M167.4 301.0h1M171.3 293.6h1M169.2 274.1h1M171.0 297.2h1M164.7 298.1h1M163.1 295.8h1M218.7 277.4h1M165.1 292.2h1M164.6 299.1h1M184.9 278.9h1M177.7 279.6h1M170.1 300.7h1M211.3 282.3h1M165.8 296.9h1M203.9 277.3h1M218.2 280.0h1M172.4 300.4h1M220.4 280.3h1M199.1 277.8h1M203.4 277.8h1M216.4 298.8h1M197.5 278.6h1M199.9 275.3h1M159.0 302.5h1M208.8 274.7h1M167.0 302.6h1M173.4 292.6h1M197.5 276.0h1M235.6 279.6h1M163.6 282.9h1M168.0 299.3h1M165.6 289.3h1M216.7 281.0h1M168.2 297.6h1M170.7 287.9h1M211.1 271.8h1M175.0 288.3h1M166.3 298.9h1M167.7 297.8h1M164.1 297.5h1M170.3 302.0h1M175.6 292.5h1M211.9 275.9h1M190.7 277.8h1M207.4 275.6h1M230.9 281.9h1M169.9 301.2h1M192.0 278.1h1M189.8 278.4h1M210.1 276.7h1M169.7 288.2h1M194.0 277.4h1M203.5 276.2h1M166.2 303.4h1M199.0 281.0h1M210.4 278.2h1M167.3 298.7h1M221.4 299.8h1M204.5 277.5h1M175.4 298.1h1M166.6 296.0h1M175.4 293.1h1M173.6 286.2h1M201.8 307.6h1M178.4 275.4h1M184.2 276.1h1M174.6 296.1h1M165.2 294.4h1M158.1 303.2h1M197.9 275.8h1M197.2 281.3h1M179.3 300.3h1M207.6 275.4h1M165.0 297.5h1M170.2 298.4h1M195.1 274.6h1M169.0 300.4h1M202.3 300.0h1M172.4 291.4h1M174.3 301.1h1M172.0 290.6h1M200.3 275.6h1M166.6 295.4h1M210.0 273.2h1M206.9 271.1h1M165.2 302.1h1M208.3 276.7h1M167.6 304.0h1M167.2 296.3h1M168.2 297.8h1M217.9 276.0h1M214.7 280.4h1M175.4 299.6h1M166.8 301.1h1M220.9 274.8h1M219.6 275.6h1M167.3 295.0h1M221.2 277.4h1M164.9 302.4h1M169.7 302.3h1M193.3 297.6h1M163.2 302.4h1M216.6 273.6h1M221.6 273.6h1M177.2 302.2h1M162.3 304.9h1M170.3 300.0h1M211.3 276.8h1M182.5 277.2h1M179.4 300.1h1M168.3 301.9h1M210.9 276.7h1M212.0 275.6h1M165.3 289.0h1M215.9 275.9h1M176.8 284.1h1M166.2 299.3h1M163.3 299.4h1M213.2 270.8h1M182.2 287.5h1M170.4 301.9h1M163.6 298.4h1M162.9 300.8h1M175.7 292.4h1M220.9 277.8h1M162.2 298.4h1M167.8 290.9h1M216.3 277.8h1M200.0 273.6h1M201.5 280.4h1M207.6 277.5h1M214.3 280.1h1M195.0 274.0h1M190.6 308.1h1M165.5 295.7h1M203.2 282.4h1M168.3 293.3h1M207.4 296.8h1M176.3 301.8h1M190.6 295.7h1M163.7 295.7h1M219.5 273.6h1M166.1 303.1h1M168.2 299.9h1M215.0 278.4h1M169.2 300.1h1M160.8 294.8h1M206.7 280.3h1M177.4 297.4h1M164.3 299.3h1M163.0 293.4h1M166.8 303.5h1M184.6 273.5h1M212.4 277.0h1M168.6 294.3h1M168.1 298.3h1M174.5 304.7h1M166.4 292.1h1M167.4 293.3h1M211.2 277.7h1M169.8 272.6h1M200.4 274.1h1M166.2 300.7h1M213.9 277.2h1M165.4 303.3h1M215.0 277.1h1M179.4 283.2h1M214.9 276.4h1M213.5 276.3h1M213.8 280.0h1M191.3 290.5h1M201.9 279.2h1M166.3 298.9h1M164.1 299.3h1M171.6 284.5h1M213.3 278.3h1M166.7 304.9h1M203.3 276.7h1M204.2 275.8h1M184.5 301.3h1M165.2 291.7h1M163.8 282.4h1M171.4 298.6h1M189.5 281.5h1M208.1 276.8h1M208.8 274.0h1M195.5 279.7h1M201.5 280.4h1M193.7 306.8h1M163.1 293.7h1M193.9 276.0h1M162.9 294.9h1M179.7 297.5h1M195.7 276.6h1M225.9 275.9h1M161.7 303.6h1M212.8 278.8h1M170.6 296.9h1M166.7 301.7h1M228.1 288.7h1M223.5 277.7h1M219.3 278.0h1M200.9 277.5h1M169.0 296.3h1M163.9 307.2h1M206.2 274.8h1M203.6 274.4h1M168.4 296.7h1M169.4 283.8h1M167.7 298.4h1M190.9 278.8h1M160.9 293.7h1M169.7 297.9h1M162.1 297.7h1M212.1 275.4h1M165.8 300.1h1M163.2 296.2h1M202.5 280.4h1M167.8 293.1h1M191.7 284.6h1M186.6 273.4h1M227.9 275.9h1M225.9 279.3h1M164.9 300.6h1M227.2 280.1h1M196.9 275.3h1M169.6 295.3h1M188.4 271.6h1M179.8 275.5h1M213.6 276.3h1M200.0 278.4h1M166.0 289.6h1M193.1 277.2h1M174.4 293.9h1M209.4 279.8h1M222.6 276.7h1M194.8 274.0h1M176.2 289.1h1M165.4 304.8h1M213.8 277.2h1M164.7 296.5h1M202.3 268.2h1M168.5 300.5h1M195.2 277.5h1M164.8 290.3h1M186.7 278.5h1M222.2 278.4h1M218.7 302.8h1M213.3 277.7h1M168.9 296.0h1M162.8 299.3h1M167.2 276.4h1M164.8 295.6h1M207.8 280.6h1M231.9 274.0h1M168.1 299.3h1M175.3 294.5h1M166.4 303.9h1M199.7 277.2h1M168.8 293.9h1M166.5 294.6h1M172.4 277.4h1M164.3 298.6h1M167.0 285.0h1M206.6 295.4h1M223.0 283.5h1M222.3 278.1h1M169.1 296.8h1M215.2 278.9h1M180.6 289.2h1M173.2 286.4h1M168.4 298.7h1M170.1 283.8h1M224.7 274.4h1M198.1 281.0h1M198.9 278.9h1M167.9 299.9h1M220.7 279.1h1M174.8 295.4h1M207.3 284.0h1M163.3 301.0h1M163.5 298.0h1M172.0 288.7h1M159.4 280.2h1M164.2 303.5h1M166.3 299.5h1M159.5 304.3h1M178.0 297.6h1M165.8 304.2h1M207.3 277.2h1M182.8 278.9h1M162.8 296.9h1M175.2 289.0h1M218.0 274.0h1M166.9 305.2h1M167.9 300.2h1M162.3 298.6h1M189.3 293.3h1M207.6 276.2h1M163.9 297.8h1M183.4 291.4h1M219.4 275.5h1M163.9 300.1h1M164.3 303.4h1M205.1 280.2h1M161.8 288.9h1M168.9 295.1h1M172.5 304.3h1M166.7 299.5h1M193.4 276.6h1M219.7 275.4h1M167.4 293.0h1M183.8 274.9h1M166.3 290.6h1M168.6 301.1h1M208.8 273.7h1M210.0 277.9h1M178.2 296.6h1M222.0 279.9h1M167.9 299.0h1M164.4 294.9h1M164.4 295.8h1M219.1 276.9h1M220.0 278.1h1M202.3 278.4h1M163.7 304.2h1M164.8 301.7h1M167.5 298.6h1M162.6 296.9h1M162.4 303.1h1M171.0 303.0h1M167.4 301.1h1M195.6 277.3h1M163.3 295.6h1M166.4 292.3h1M209.1 278.3h1M168.3 296.3h1M217.1 277.8h1M164.9 295.6h1M219.4 276.4h1M208.0 280.5h1M170.2 295.3h1M170.2 306.2h1M213.0 271.2h1M170.5 291.8h1M210.8 280.7h1M169.7 300.6h1M165.3 301.1h1M170.1 299.7h1M213.3 277.1h1M163.7 294.6h1M212.3 281.7h1M169.1 298.1h1M197.2 273.2h1M162.9 292.3h1M165.2 301.4h1M229.6 291.0h1M167.6 296.1h1M173.8 298.1h1M172.0 293.8h1M165.8 304.3h1M163.5 300.7h1M164.8 302.6h1"/>
<ellipse cx="166.5" cy="299.2" rx="4.6" ry="5.4" fill="#cc1d14" fill-opacity="0.85"/>
<path d="M191.7 245.6V311M156.1 281.9H237.6" stroke="#8c8c8c" stroke-width="0.6" fill="none"/>
<rect x="181.4" y="273.9" width="2.4" height="2" fill="none" stroke="#888" stroke-width="0.6"/>
<rect x="199.3" y="273.9" width="2.4" height="2" fill="none" stroke="#888" stroke-width="0.6"/>
<rect x="181.4" y="289.7" width="2.4" height="2" fill="none" stroke="#888" stroke-width="0.6"/>
<rect x="199.3" y="289.7" width="2.4" height="2" fill="none" stroke="#888" stroke-width="0.6"/>
<rect x="156.1" y="245.6" width="81.5" height="65.4" fill="none" stroke="#231f20" stroke-width="1"/>
<path d="M156.1 250.6h-3M156.1 265.8h-3M156.1 281.2h-3M156.1 299.2h-3M156.1 255.16h-1.8M156.1 257.9h-1.8M156.1 259.72h-1.8M156.1 261.24h-1.8M156.1 262.46h-1.8M156.1 263.52h-1.8M156.1 264.43h-1.8M156.1 265.19h-1.8M156.1 270.42h-1.8M156.1 273.19h-1.8M156.1 275.04h-1.8M156.1 276.58h-1.8M156.1 277.81h-1.8M156.1 278.89h-1.8M156.1 279.81h-1.8M156.1 280.58h-1.8M156.1 286.6h-1.8M156.1 289.84h-1.8M156.1 292h-1.8M156.1 293.8h-1.8M156.1 295.24h-1.8M156.1 296.5h-1.8M156.1 297.58h-1.8M156.1 298.48h-1.8M156.1 303.7h-1.5M156.1 306.2h-1.5M171.9 311v2.6M190.9 311v2.6M209.9 311v2.6M227.5 311v2.6M177.6 311v1.5M181.02 311v1.5M183.3 311v1.5M185.2 311v1.5M186.72 311v1.5M188.05 311v1.5M189.19 311v1.5M190.14 311v1.5M196.6 311v1.5M200.02 311v1.5M202.3 311v1.5M204.2 311v1.5M205.72 311v1.5M207.05 311v1.5M208.19 311v1.5M209.14 311v1.5M215.18 311v1.5M218.35 311v1.5M220.46 311v1.5M222.22 311v1.5M223.63 311v1.5M224.86 311v1.5M225.92 311v1.5M226.8 311v1.5M166.2 311v1.5M162.4 311v1.5M158.6 311v1.5M155.75 311v1.5" stroke="#231f20" stroke-width="0.8" fill="none"/>
<text x="138.6" y="254.2" font-size="9" stroke-width="0.14"><tspan textLength="8.8" lengthAdjust="spacingAndGlyphs">10</tspan><tspan font-size="6" dy="-3.3" dx="0.2">5</tspan></text>
<text x="138.6" y="269.4" font-size="9" stroke-width="0.14"><tspan textLength="8.8" lengthAdjust="spacingAndGlyphs">10</tspan><tspan font-size="6" dy="-3.3" dx="0.2">4</tspan></text>
<text x="138.6" y="284.8" font-size="9" stroke-width="0.14"><tspan textLength="8.8" lengthAdjust="spacingAndGlyphs">10</tspan><tspan font-size="6" dy="-3.3" dx="0.2">3</tspan></text>
<text x="138.6" y="302.8" font-size="9" stroke-width="0.14"><tspan textLength="8.8" lengthAdjust="spacingAndGlyphs">10</tspan><tspan font-size="6" dy="-3.3" dx="0.2">2</tspan></text>
<text x="167.8" y="323.7" font-size="9" stroke-width="0.14"><tspan textLength="8.8" lengthAdjust="spacingAndGlyphs">10</tspan><tspan font-size="6" dy="-3.3" dx="0.2">2</tspan></text>
<text x="186.8" y="323.7" font-size="9" stroke-width="0.14"><tspan textLength="8.8" lengthAdjust="spacingAndGlyphs">10</tspan><tspan font-size="6" dy="-3.3" dx="0.2">3</tspan></text>
<text x="205.8" y="323.7" font-size="9" stroke-width="0.14"><tspan textLength="8.8" lengthAdjust="spacingAndGlyphs">10</tspan><tspan font-size="6" dy="-3.3" dx="0.2">4</tspan></text>
<text x="223.4" y="323.7" font-size="9" stroke-width="0.14"><tspan textLength="8.8" lengthAdjust="spacingAndGlyphs">10</tspan><tspan font-size="6" dy="-3.3" dx="0.2">5</tspan></text>
<text x="157.2" y="252" font-size="8.4" stroke-width="0.12" textLength="26" lengthAdjust="spacingAndGlyphs">MIG–<tspan font-style="italic">IK</tspan></text>
<text x="199.5" y="252" font-size="8.4" stroke-width="0.12" textLength="37" lengthAdjust="spacingAndGlyphs">20.7±4.7%</text>
<text x="203.7" y="309.6" font-size="8.4" stroke-width="0.12" textLength="32.8" lengthAdjust="spacingAndGlyphs">5.7±1.7%</text>
<path stroke="#d0281c" stroke-opacity="0.42" stroke-width="0.85" d="M93.3 361.3h1M112.5 365.2h1M115.4 366.2h1M67.4 387.6h1M60.4 380.0h1M89.3 363.4h1M70.9 358.5h1M75.6 391.3h1M117.6 379.1h1M93.9 364.4h1M112.2 368.3h1M112.4 377.9h1M96.4 379.8h1M68.5 389.6h1M89.6 369.7h1M116.6 382.5h1M74.7 370.3h1M59.7 382.2h1M64.5 380.7h1M62.9 382.8h1M106.1 360.2h1M98.4 366.9h1M64.1 383.1h1M75.3 385.6h1M64.3 379.1h1M64.0 385.3h1M115.2 374.7h1M61.5 378.1h1M78.8 362.8h1M62.2 390.6h1M84.1 367.1h1M109.0 363.4h1M112.5 363.0h1M116.6 359.7h1M64.0 384.9h1M68.8 380.9h1M115.7 389.8h1M106.1 362.0h1M54.1 378.1h1M106.4 360.0h1M55.9 388.4h1M107.1 361.4h1M84.4 380.4h1M108.3 366.6h1M61.8 387.1h1M91.5 360.9h1M77.0 361.3h1M70.5 385.2h1M105.5 394.2h1M60.6 378.6h1M62.4 384.1h1M59.8 387.3h1M60.7 370.2h1M92.4 379.9h1M90.6 361.0h1M84.5 362.5h1M60.4 359.3h1M114.5 386.4h1M98.1 370.6h1M78.2 367.3h1M57.0 375.7h1M104.5 366.2h1M61.1 382.7h1M61.8 383.9h1M97.9 362.5h1M107.7 367.5h1M64.4 382.9h1M116.9 367.7h1M62.1 386.5h1M119.8 362.3h1M63.4 392.0h1M57.9 389.8h1M119.1 360.8h1M68.0 374.8h1M99.1 359.5h1M107.5 370.2h1M96.5 373.4h1M109.7 380.1h1M80.8 385.9h1M106.0 372.7h1M86.2 360.8h1M107.9 364.7h1M122.6 368.7h1M85.3 360.7h1M60.5 388.4h1M61.3 387.8h1M86.1 359.9h1M93.1 365.4h1M114.1 363.2h1M65.7 372.8h1M60.8 381.4h1M114.0 363.1h1M117.6 368.2h1M94.8 383.7h1M72.2 391.1h1M127.6 377.0h1M77.0 374.3h1M85.7 357.8h1M91.9 360.8h1M61.7 358.9h1M79.0 370.7h1M69.4 379.8h1M65.7 365.7h1M113.9 365.0h1M64.6 365.7h1M57.8 382.3h1M70.7 361.8h1M90.3 375.7h1M70.2 376.5h1M66.1 387.5h1M94.8 363.7h1M98.0 363.4h1M68.8 361.2h1M68.3 388.1h1M65.2 386.3h1M63.2 384.4h1M94.1 364.9h1M69.4 365.9h1M66.8 382.5h1M65.2 390.9h1M119.1 365.5h1M64.4 390.4h1M91.3 365.4h1M77.5 378.7h1M64.6 375.4h1M114.5 377.5h1M64.4 394.1h1M76.0 361.9h1M116.4 385.3h1M68.0 383.0h1M109.3 381.3h1M62.6 381.5h1M113.0 373.7h1M87.2 376.5h1M64.5 387.8h1M100.7 381.1h1M100.7 370.6h1M63.6 391.2h1M100.2 357.6h1M80.6 366.6h1M105.7 352.3h1M111.5 362.8h1M64.4 364.1h1M110.7 353.0h1M64.2 384.0h1M116.6 359.5h1M110.4 367.9h1M101.7 359.9h1M100.9 361.5h1M73.7 374.8h1M107.3 362.1h1M116.9 359.6h1M113.5 361.6h1M64.1 386.5h1M103.2 357.9h1M79.9 372.2h1M99.4 360.7h1M87.5 366.9h1M99.2 385.5h1M115.9 363.4h1M62.3 383.9h1M94.9 364.6h1M106.0 361.9h1M60.8 382.2h1M93.5 369.0h1M85.4 359.9h1M58.6 380.9h1M75.4 363.5h1M112.4 363.3h1M59.1 379.3h1M75.3 360.5h1M64.2 385.6h1M94.0 365.9h1M116.3 364.4h1M56.3 385.2h1M89.0 355.8h1M96.8 368.1h1M103.9 342.2h1M101.7 382.9h1M92.5 366.8h1M70.4 381.8h1M71.3 366.9h1M64.0 383.1h1M61.7 385.0h1M76.9 382.0h1M62.4 386.6h1M128.8 349.0h1M103.7 365.3h1M65.9 389.9h1M65.0 385.7h1M74.5 379.6h1M124.1 378.0h1M66.9 395.5h1M59.2 369.7h1M104.7 359.0h1M105.2 362.3h1M59.9 383.6h1M63.2 381.2h1M61.8 387.8h1M70.8 382.5h1M67.0 361.8h1M89.1 365.2h1M101.8 370.1h1M64.5 381.6h1M66.0 391.5h1M73.5 383.6h1M94.2 364.2h1M61.9 380.9h1M70.5 384.2h1M79.1 377.3h1M71.6 385.8h1M70.6 360.2h1M57.7 379.2h1M72.9 384.6h1M87.4 359.8h1M92.9 362.0h1M61.6 379.7h1M95.4 358.1h1M106.4 366.2h1M81.9 366.3h1M67.7 384.9h1M106.2 361.4h1M56.7 384.5h1M98.5 362.6h1M86.6 362.0h1M71.3 384.0h1M102.9 367.6h1M118.3 367.5h1M116.8 363.0h1M92.6 363.2h1M77.3 384.6h1M120.7 369.7h1M68.1 387.2h1M87.5 368.6h1M66.1 377.4h1M103.0 364.7h1M95.9 358.7h1M74.5 391.8h1M60.7 364.2h1M105.1 362.0h1M111.9 358.4h1M96.6 360.7h1M59.4 385.8h1M62.5 380.0h1M87.4 366.6h1M123.1 360.4h1M68.6 382.7h1M70.9 388.4h1M60.4 382.5h1M66.3 382.9h1M108.9 364.3h1M113.7 375.3h1M78.6 362.0h1M103.2 370.7h1M115.6 364.4h1M97.1 366.7h1M64.2 384.4h1M109.7 366.9h1M105.6 366.2h1M106.5 364.7h1M64.4 390.3h1M96.5 363.5h1M101.0 363.4h1M109.9 358.2h1M105.0 364.1h1M83.8 364.2h1M87.4 380.1h1M67.8 386.0h1M110.2 389.2h1M101.4 367.9h1M120.0 366.6h1M71.5 381.2h1M81.6 377.6h1M60.4 380.2h1M89.0 368.3h1M64.2 389.5h1M63.9 378.9h1M69.6 362.2h1M62.7 387.2h1M64.4 384.5h1M109.2 362.7h1M84.9 364.4h1M64.7 383.2h1M75.6 363.2h1M87.1 360.1h1M98.1 365.1h1M66.5 383.8h1M80.6 385.7h1M63.7 386.4h1M62.1 385.7h1M73.7 385.0h1M101.4 364.6h1M69.1 378.6h1M91.3 358.7h1M86.2 361.5h1M110.6 362.1h1M63.2 380.9h1M59.7 386.6h1M104.4 362.7h1M62.8 379.9h1M106.9 362.0h1M89.5 360.1h1M64.7 391.9h1M65.5 386.8h1M93.6 363.1h1M96.7 387.3h1M78.1 384.8h1M105.5 361.4h1M71.1 367.4h1M105.4 363.3h1M94.8 366.7h1M64.2 385.8h1M96.0 364.0h1M101.5 362.8h1M111.3 360.0h1M61.8 375.2h1M115.0 366.5h1M110.7 368.1h1M64.1 389.9h1M91.8 369.2h1M121.5 363.7h1M83.2 356.2h1M100.2 361.9h1M62.3 384.8h1M66.4 390.8h1M111.0 365.2h1M89.0 357.2h1M62.5 387.5h1M110.4 357.9h1M65.5 383.4h1M91.5 374.9h1M84.9 361.1h1M103.5 359.7h1M61.4 389.7h1M90.4 369.2h1M101.6 362.3h1M70.5 371.9h1M95.6 371.7h1M58.7 386.3h1M61.4 379.2h1M83.8 362.6h1M98.6 365.1h1M70.6 379.4h1M108.1 358.9h1M62.9 388.2h1M67.6 381.2h1M66.2 387.8h1M90.9 360.6h1M118.6 368.1h1M110.4 364.2h1M114.8 364.6h1M99.2 382.8h1M62.6 369.1h1M97.6 358.5h1M111.4 362.6h1M69.7 383.7h1M68.3 379.3h1M64.8 390.9h1M67.3 356.8h1M61.0 392.2h1M114.1 364.2h1M74.4 383.5h1M110.0 362.2h1M58.2 377.8h1M77.9 381.7h1M105.1 363.1h1M58.2 388.7h1M79.0 355.3h1M78.7 361.6h1M94.3 356.6h1M65.1 374.4h1M113.4 358.0h1M70.3 389.9h1M115.8 365.4h1M126.7 362.4h1M58.9 382.5h1M99.7 370.2h1M93.6 374.9h1M63.5 388.4h1M77.0 383.0h1M97.1 369.7h1M64.4 381.7h1M83.6 377.4h1M67.6 372.2h1M77.7 381.5h1M85.1 383.7h1M69.0 360.6h1M66.5 385.2h1M114.7 364.2h1M93.7 361.0h1M78.0 374.0h1M71.9 388.1h1M66.6 385.4h1M54.8 380.7h1M83.6 364.0h1M98.0 376.6h1M103.2 362.4h1M129.4 369.9h1M86.4 364.1h1M101.4 373.2h1M65.5 368.0h1M58.8 391.3h1M61.3 379.1h1M60.7 383.6h1M120.4 362.8h1M87.7 369.3h1M115.4 366.2h1M85.7 384.7h1M64.5 382.6h1M63.1 387.3h1M75.2 358.9h1M118.6 363.3h1M119.6 365.6h1M57.8 385.6h1M94.9 358.4h1M104.3 362.7h1M69.3 375.9h1M65.5 390.8h1M76.5 371.3h1M122.0 358.8h1M62.8 378.3h1M59.7 387.1h1M104.5 361.6h1M66.4 389.6h1M114.5 357.1h1M78.3 362.2h1M97.9 357.5h1M66.2 363.0h1M65.1 379.1h1M111.4 357.8h1M102.3 359.5h1M68.2 381.7h1M93.4 361.2h1M124.4 360.5h1M67.1 386.0h1M66.7 359.9h1M64.4 381.3h1M71.7 358.2h1M112.2 360.2h1M60.1 387.8h1M118.1 361.0h1M73.7 375.6h1M66.3 380.1h1M73.2 367.0h1M99.1 362.7h1M77.1 373.4h1M92.2 366.1h1M64.4 386.9h1M58.1 382.4h1M92.4 381.8h1M89.9 392.4h1M105.6 374.5h1M93.4 362.0h1M112.2 365.8h1M110.6 383.5h1M57.0 390.5h1M116.8 363.9h1M61.7 386.7h1M60.0 383.5h1M77.7 365.9h1M114.0 366.2h1M109.7 364.2h1M73.6 367.8h1M108.3 356.9h1M72.4 384.3h1M91.7 363.4h1M64.2 379.9h1M96.2 365.0h1M117.7 372.3h1M108.0 368.7h1M107.9 360.2h1M111.2 365.5h1M62.9 380.5h1M64.9 365.2h1M118.0 368.2h1M62.7 388.4h1M89.4 362.5h1M63.3 381.3h1M106.8 365.9h1M83.9 357.0h1M66.6 369.1h1M85.0 363.4h1M84.2 357.6h1M80.0 385.5h1M99.7 364.1h1M60.3 386.3h1M65.6 368.8h1M100.0 365.1h1M58.7 387.3h1M55.6 377.0h1M73.7 355.8h1M68.1 365.4h1M88.3 357.5h1M107.3 360.0h1M111.5 358.9h1M123.7 362.9h1M100.6 363.5h1M59.5 382.8h1M117.5 380.3h1M61.9 382.2h1M84.5 360.7h1M98.6 364.7h1M112.9 360.7h1M118.6 369.9h1M66.1 386.3h1M101.0 360.1h1M114.0 366.1h1M64.0 385.6h1M74.7 366.0h1M105.0 363.3h1M79.0 378.8h1M63.0 376.4h1M60.7 382.6h1M101.1 361.7h1M93.2 372.2h1M92.5 358.6h1M118.5 366.2h1M113.1 366.0h1M61.0 381.6h1M65.3 379.5h1M107.5 366.5h1M102.6 364.2h1M93.7 362.8h1M82.8 381.5h1M72.7 395.5h1M60.3 383.9h1M103.9 362.1h1M98.7 363.0h1M67.9 389.2h1M78.9 363.5h1M103.4 358.6h1M78.5 346.6h1M77.6 348.7h1M65.7 384.7h1M106.8 352.8h1M93.9 365.7h1M101.3 365.3h1M89.6 358.6h1M69.4 392.1h1M106.5 362.8h1M116.5 362.4h1M118.6 363.8h1M100.7 363.8h1M105.4 365.8h1M58.5 385.9h1M94.3 368.6h1M61.9 391.8h1M65.9 365.8h1M96.5 364.6h1M57.8 389.4h1M61.2 380.5h1M65.4 383.9h1M60.5 390.1h1M115.1 359.2h1M60.6 377.0h1M68.3 385.0h1M59.9 386.6h1M123.5 359.7h1M121.2 363.1h1M66.0 383.1h1M59.0 379.0h1M73.5 364.2h1M82.1 355.9h1M65.8 388.4h1M108.1 362.1h1M114.3 365.9h1M62.6 388.0h1M83.8 391.1h1M104.5 363.7h1M89.3 366.9h1M108.6 365.7h1M71.0 368.7h1M56.8 382.6h1M66.5 390.7h1M96.9 356.7h1M91.1 364.9h1M68.4 392.6h1M100.3 381.1h1M117.5 360.5h1M100.4 357.5h1M68.6 382.4h1M71.3 370.9h1M107.6 364.0h1M61.9 378.9h1M69.7 396.9h1M99.3 365.7h1M58.5 375.2h1M58.7 388.6h1M102.1 363.8h1M93.7 364.1h1M61.3 382.2h1M107.7 362.2h1M105.8 364.8h1M64.7 385.5h1M59.3 382.9h1M108.2 365.0h1M93.8 395.2h1M67.3 378.8h1M82.5 387.3h1M60.5 381.0h1M62.3 382.8h1M115.7 387.8h1M66.0 385.9h1M52.5 348.9h1M62.5 388.1h1M59.8 385.1h1M64.6 378.0h1M99.1 365.1h1M61.8 379.8h1M65.0 385.2h1M101.9 364.7h1M69.4 363.2h1M92.4 376.2h1M62.3 386.4h1M65.6 382.2h1M95.1 359.4h1M89.8 359.4h1M68.5 392.6h1M73.1 395.0h1M62.7 384.9h1M114.9 357.5h1M66.0 386.7h1M66.5 388.0h1M103.7 366.9h1M65.7 376.6h1M87.3 389.0h1M94.2 360.8h1M60.6 394.1h1M64.0 382.9h1M116.9 363.4h1M62.5 383.5h1M102.4 376.7h1M111.8 362.3h1M60.1 389.7h1M125.5 358.9h1M57.8 381.5h1M94.4 366.8h1M55.7 396.9h1M111.4 365.8h1M57.9 382.3h1M79.4 359.0h1M85.5 362.9h1M87.5 366.9h1M116.2 366.1h1M110.8 362.2h1M64.6 382.6h1M59.1 383.9h1M65.6 361.6h1M91.9 362.7h1M62.5 388.9h1M96.6 364.2h1M91.0 358.7h1M65.1 382.2h1M60.8 383.8h1M94.7 385.3h1M65.2 370.2h1M104.6 368.2h1M98.5 390.7h1M64.1 371.0h1M117.0 360.5h1M107.2 369.9h1M67.8 359.5h1M59.6 382.4h1M112.0 372.9h1M61.9 381.9h1M64.6 386.3h1M106.9 359.5h1M82.6 359.4h1M107.8 360.7h1M68.7 384.4h1M62.0 388.1h1"/>
<path stroke="#d0281c" stroke-opacity="0.42" stroke-width="0.85" d="M85.7 374.1h1M126.4 358.9h1M93.6 361.3h1M60.8 383.4h1M87.2 361.5h1M78.9 367.8h1M111.1 357.5h1M75.1 383.0h1M108.5 367.1h1M101.7 386.4h1M108.0 361.6h1M103.8 372.3h1M67.4 378.2h1M56.9 380.8h1M98.5 365.8h1M124.9 358.5h1M65.0 366.7h1M125.5 362.2h1M62.6 385.8h1M106.3 380.5h1M105.3 366.1h1M120.3 366.4h1M99.2 364.7h1M114.9 362.2h1M70.5 392.8h1M62.0 384.6h1M63.6 379.5h1M106.6 371.6h1M61.5 380.6h1M57.7 385.3h1M74.2 375.8h1M97.7 357.2h1M63.7 382.9h1M64.6 385.2h1M77.0 384.8h1M70.4 380.3h1M100.7 375.5h1M106.9 361.9h1M57.8 385.5h1M83.9 385.5h1M107.5 360.8h1M63.9 382.3h1M69.0 383.5h1M98.4 360.2h1M62.5 389.8h1M114.6 364.7h1M60.2 376.8h1M53.3 379.6h1M116.2 361.0h1M65.0 386.2h1M100.0 364.7h1M110.7 362.6h1M93.1 359.8h1M62.7 377.1h1M78.3 380.0h1M95.5 356.8h1M60.8 384.3h1M109.9 366.9h1M107.8 365.2h1M64.0 377.3h1M106.8 367.1h1M106.9 361.6h1M59.2 374.4h1M119.7 362.7h1M59.5 385.5h1M61.6 379.9h1M110.4 366.7h1M66.2 386.9h1M66.8 366.5h1M65.6 386.2h1M104.1 358.4h1M120.4 358.9h1M121.6 363.9h1M63.3 381.4h1M75.7 388.3h1M110.5 359.7h1M98.6 363.0h1M88.2 371.5h1M63.8 376.5h1M114.7 365.0h1M68.1 382.9h1M110.9 358.4h1M75.7 383.8h1M57.7 378.0h1M80.5 387.5h1M59.7 378.1h1M88.4 358.6h1M89.0 375.3h1M117.4 366.0h1M124.3 365.5h1M116.2 373.5h1M69.9 385.3h1M73.8 374.6h1M102.8 356.2h1M65.4 389.3h1M91.0 360.8h1M66.6 365.1h1M114.5 366.9h1M78.2 384.5h1M79.6 381.7h1M76.2 378.8h1M99.7 365.8h1M118.5 365.6h1M64.3 387.4h1M59.8 387.4h1M98.4 361.3h1M58.5 378.2h1M60.4 384.8h1M74.8 380.9h1M99.3 362.3h1M63.2 384.8h1M103.0 382.5h1M63.6 373.9h1M63.1 385.5h1M86.8 367.7h1M68.4 371.4h1M56.8 343.5h1M102.2 359.1h1M95.2 366.7h1M100.3 363.3h1M110.5 359.6h1M108.3 363.4h1M62.0 394.2h1M107.3 355.8h1M61.0 385.5h1M60.0 380.2h1M99.8 361.5h1M67.6 383.5h1M76.5 362.4h1M64.7 396.3h1M61.9 383.6h1M71.5 357.2h1M71.9 382.5h1M84.8 386.6h1M60.2 385.9h1M126.6 368.1h1M103.8 361.2h1M68.7 365.7h1M63.0 384.4h1M100.5 361.5h1M67.4 384.7h1M98.5 363.9h1M108.8 360.8h1M93.9 383.3h1M66.3 382.6h1M67.3 386.5h1M64.6 377.4h1M61.9 380.5h1M85.3 365.8h1M127.2 376.2h1M58.6 388.1h1M63.4 385.6h1M110.1 360.5h1M61.1 387.2h1M84.1 363.1h1M94.8 383.0h1M113.8 358.4h1M106.4 364.2h1M60.2 387.9h1M67.4 392.5h1M111.3 363.5h1M122.5 363.8h1M69.8 358.1h1M63.6 381.4h1M90.5 365.4h1M65.3 381.2h1M115.6 361.6h1M59.0 387.5h1M94.4 365.4h1M103.5 355.4h1M91.4 363.6h1M69.3 380.1h1M72.3 363.6h1M97.1 364.0h1M108.3 360.7h1M87.6 361.5h1M56.0 379.3h1M58.9 382.4h1M125.4 353.0h1M104.0 388.9h1M100.3 356.6h1M59.5 382.1h1M67.5 381.4h1M104.8 369.2h1M61.0 387.2h1M72.8 365.0h1M121.9 360.9h1M116.6 362.4h1M105.6 364.5h1M108.6 363.4h1M61.0 366.2h1M82.7 365.4h1M61.1 383.7h1M111.6 361.7h1M68.2 383.4h1M103.5 369.5h1M72.0 393.9h1M95.7 355.9h1M70.4 378.3h1M70.9 380.2h1M61.1 382.8h1M64.9 387.3h1M100.0 356.1h1M65.0 383.8h1M62.0 380.1h1M102.0 359.8h1M63.3 384.0h1M64.9 382.7h1M65.0 375.1h1M66.7 366.5h1M88.1 379.8h1M71.6 357.8h1M68.3 377.2h1M64.3 384.3h1M86.9 366.0h1M65.6 385.1h1M101.6 366.6h1M62.4 381.0h1M67.2 385.1h1M63.8 392.3h1M61.4 388.5h1M57.9 386.5h1M66.7 388.0h1M66.5 386.2h1M96.3 362.0h1M95.6 360.4h1M72.6 384.4h1M54.9 381.5h1M75.0 379.5h1M102.4 362.4h1M69.9 389.3h1M115.3 364.3h1M83.5 357.9h1M72.1 384.6h1M102.1 357.6h1M93.6 373.9h1M57.2 378.4h1M67.1 382.5h1M61.8 385.3h1M53.7 396.4h1M97.1 362.8h1M120.5 362.6h1M109.0 362.6h1M60.2 395.0h1M54.7 387.4h1M59.4 385.9h1M80.5 361.7h1M121.9 361.9h1M119.2 370.3h1M72.6 358.6h1M102.2 365.0h1M60.8 365.5h1M68.1 391.5h1M60.0 382.7h1M57.4 380.0h1M79.4 363.7h1M63.0 386.7h1M75.7 361.9h1M65.0 383.2h1M64.8 389.8h1M59.4 378.2h1M96.3 367.8h1M99.3 361.9h1M96.5 380.4h1M64.2 387.7h1M109.5 353.4h1M103.9 359.7h1M101.3 366.4h1M77.6 341.2h1M73.4 365.3h1M82.5 363.4h1M57.9 385.5h1M71.0 389.1h1M79.7 361.6h1M117.7 364.8h1M68.1 380.7h1M64.0 375.4h1M110.5 367.1h1M60.5 382.1h1M57.1 382.9h1M85.8 361.1h1M74.8 360.3h1M93.2 371.6h1M67.2 387.7h1M95.1 366.1h1M66.6 395.4h1M106.4 377.0h1M126.5 357.7h1M123.7 364.7h1M64.8 384.0h1M62.7 375.0h1M62.8 379.2h1M106.0 364.3h1M117.9 362.8h1M64.5 383.7h1M120.0 361.0h1M64.7 381.7h1M103.1 360.3h1M99.9 364.0h1M107.7 362.7h1M101.6 365.1h1M68.5 394.1h1M61.8 386.9h1M76.1 355.1h1M92.2 360.3h1M79.8 353.5h1M110.3 365.2h1M91.7 362.3h1M64.1 382.4h1M121.4 364.8h1M58.5 385.8h1M59.2 390.8h1M71.8 375.8h1M111.9 367.7h1M88.7 365.7h1M63.2 385.2h1M63.0 385.8h1M79.6 376.6h1M90.1 367.0h1M99.0 360.6h1M93.4 393.0h1M65.2 381.1h1M98.5 376.3h1M109.5 363.2h1M94.2 367.5h1M65.0 388.9h1M102.6 362.5h1M62.9 379.9h1M72.4 385.2h1M93.5 363.0h1M119.2 364.6h1M101.6 365.7h1M65.0 385.6h1M103.9 366.1h1M70.1 382.4h1M61.1 385.8h1M64.2 385.0h1M67.2 390.1h1M56.3 378.1h1M114.5 375.4h1M112.5 361.8h1M90.7 361.0h1M82.1 379.5h1M101.0 366.5h1M108.8 360.8h1M63.1 385.0h1M101.2 360.9h1M62.1 377.7h1M72.8 381.0h1M100.2 362.3h1M71.6 386.7h1M63.6 393.0h1M85.7 380.8h1M88.9 361.2h1M97.0 361.7h1M64.1 344.8h1M65.5 388.9h1M69.4 374.0h1M67.1 378.5h1M98.4 390.2h1M101.2 379.4h1M110.2 376.2h1M111.6 364.1h1M59.3 391.2h1M95.1 366.5h1M104.3 365.9h1M104.3 365.9h1M93.9 366.0h1M85.9 368.8h1M66.2 373.0h1M57.2 391.8h1M109.5 363.1h1M114.5 363.9h1M113.9 362.7h1M109.0 368.5h1M64.1 388.4h1M90.8 393.9h1M104.5 365.0h1M65.0 386.3h1M77.5 362.2h1M77.7 376.7h1M110.6 361.1h1M103.7 361.0h1M92.9 362.1h1M65.8 388.9h1M64.1 385.3h1M59.5 386.3h1M88.8 384.2h1M103.2 380.5h1M116.5 373.4h1M68.6 385.8h1M62.4 390.9h1M114.9 359.2h1M77.0 363.9h1M96.5 360.8h1M62.1 379.5h1M60.0 382.9h1M111.5 363.6h1M101.0 358.3h1M63.7 379.9h1M80.1 379.3h1M92.6 379.8h1M91.8 361.9h1M88.4 389.5h1M100.3 365.1h1M64.3 383.3h1M66.1 384.1h1M110.3 367.0h1M69.2 384.2h1M101.6 357.6h1M111.0 369.8h1M65.1 381.7h1M92.8 364.1h1M104.9 358.8h1M97.7 362.1h1M58.2 381.6h1M83.7 361.1h1M63.5 385.5h1M73.1 362.7h1M59.7 387.3h1M99.5 383.6h1M92.5 359.6h1M56.8 368.6h1M61.0 394.1h1M121.6 379.6h1M102.3 361.9h1M101.7 386.5h1M65.6 382.4h1M83.4 380.3h1M66.2 372.4h1M66.2 391.9h1M119.3 364.1h1M60.2 383.2h1M60.5 384.0h1M111.9 366.0h1M59.4 392.1h1M96.7 357.5h1M61.8 364.5h1M83.7 359.9h1M99.4 358.2h1M82.8 362.2h1M62.8 374.1h1M93.6 354.4h1M101.0 362.3h1M79.2 360.4h1M103.0 357.6h1M109.8 367.7h1M89.4 360.0h1M58.3 365.2h1M59.8 387.3h1M82.3 379.0h1M57.2 386.3h1M111.7 395.4h1M97.2 360.4h1M66.8 392.8h1M62.6 389.3h1M63.4 379.9h1M60.4 385.9h1M63.2 385.3h1M56.0 382.7h1M112.4 361.8h1M94.1 357.0h1M84.8 365.9h1M75.0 389.0h1M87.4 363.1h1M105.9 367.4h1M77.7 391.7h1M114.0 364.9h1M103.8 367.4h1M62.3 386.3h1M83.7 366.8h1M106.8 360.5h1M113.9 362.0h1M62.4 384.4h1M67.0 378.1h1M114.2 363.2h1M64.0 387.1h1M84.6 368.9h1M113.9 363.2h1M121.8 362.9h1M57.1 385.4h1M71.2 377.6h1M110.7 367.9h1M63.0 396.8h1M59.1 382.4h1M88.0 363.9h1M73.2 363.9h1M104.2 365.0h1M89.2 362.7h1M67.2 386.3h1M90.1 359.2h1M112.3 366.2h1M81.5 375.4h1M102.0 363.0h1M107.9 361.7h1M68.2 377.7h1M96.8 389.8h1M104.3 367.2h1M64.4 387.0h1M102.6 378.2h1M112.2 359.9h1M114.1 364.5h1M64.6 380.1h1M96.5 360.5h1M59.0 391.8h1M94.7 363.9h1M85.5 376.7h1M103.5 363.6h1M64.1 386.4h1M96.2 366.8h1M61.5 388.2h1M101.6 359.2h1M64.8 389.5h1M60.1 385.5h1M70.5 361.8h1M117.1 362.0h1M79.7 362.8h1M98.4 362.1h1M112.0 363.5h1M97.4 375.6h1M114.8 380.2h1M63.9 378.8h1M63.5 386.2h1M112.2 366.7h1M114.6 359.8h1M108.5 362.7h1M74.1 370.5h1M79.0 364.6h1M111.7 352.8h1M98.8 360.4h1M92.0 362.1h1M59.5 392.1h1M62.8 380.8h1M62.0 384.1h1M80.9 361.3h1M115.4 361.3h1M95.5 378.1h1M67.5 381.0h1M86.4 393.7h1M106.5 387.8h1M115.9 374.8h1M83.7 342.6h1M105.0 363.7h1M93.1 364.4h1M95.6 362.8h1M61.8 381.8h1M104.5 362.8h1M57.9 390.8h1M59.1 383.1h1M76.4 378.4h1M59.8 362.1h1M104.2 365.8h1M58.8 386.7h1M68.0 388.9h1M117.9 361.7h1M78.9 382.9h1M72.3 372.0h1M101.8 368.4h1M121.4 364.0h1M63.4 381.8h1M92.6 369.2h1M114.0 363.7h1M60.8 385.1h1M72.8 392.1h1M92.5 362.4h1M110.0 363.1h1M82.2 366.2h1M111.8 357.8h1M65.7 376.4h1M96.2 374.6h1M113.2 354.2h1M66.4 385.4h1M75.0 382.0h1M77.1 380.9h1M62.4 388.6h1M98.4 369.5h1M84.9 368.7h1M82.6 361.6h1M62.4 386.7h1M55.8 386.7h1M61.3 388.4h1M96.2 367.0h1M113.1 365.1h1M111.2 368.2h1M76.9 364.5h1M72.6 361.7h1M69.2 386.1h1M91.8 360.2h1M73.5 368.0h1M88.6 376.6h1M120.2 363.2h1M114.0 353.4h1M96.7 361.4h1M94.2 377.5h1M84.4 357.3h1M59.5 386.3h1M111.0 364.6h1M57.1 381.1h1M72.1 386.9h1M69.3 385.4h1M63.1 387.9h1M62.9 386.3h1M112.0 364.8h1M102.3 361.2h1M106.1 364.5h1M110.5 366.6h1M128.6 365.9h1M100.5 366.8h1M107.8 363.1h1M61.6 383.2h1M101.2 356.9h1M65.7 386.3h1M104.5 365.4h1M62.4 380.1h1M90.6 365.1h1M62.1 382.1h1M65.1 386.6h1M64.7 389.2h1M113.3 364.4h1M63.7 382.6h1M61.9 387.7h1M87.9 367.3h1M62.2 376.1h1M70.7 372.2h1M53.8 379.1h1M103.1 364.4h1M108.2 366.9h1M106.8 366.3h1M94.5 363.8h1M62.9 383.0h1M103.8 345.2h1M109.0 363.2h1M107.0 357.0h1M69.0 392.0h1M76.4 358.5h1M105.1 358.2h1M68.9 382.6h1M93.3 383.9h1M85.3 359.9h1M62.6 382.8h1M66.7 385.9h1M104.5 359.7h1M90.8 380.1h1M82.6 379.8h1M88.2 364.4h1M106.7 365.2h1M64.7 385.4h1M65.0 378.5h1M68.2 374.8h1M62.0 377.6h1M58.5 379.3h1M96.0 360.0h1M116.3 369.7h1M73.1 384.8h1M103.6 367.3h1M107.2 362.2h1M61.7 372.2h1M56.9 386.3h1M62.8 389.8h1M94.6 388.7h1M102.0 366.9h1M81.0 377.5h1M104.2 356.9h1M79.7 367.6h1M107.9 360.0h1M86.8 365.1h1M95.5 363.3h1M88.8 380.7h1M101.2 378.9h1M96.3 377.4h1"/>
<path stroke="#d0281c" stroke-opacity="0.42" stroke-width="0.85" d="M60.1 384.1h1M69.4 377.1h1M103.6 367.6h1M109.0 367.5h1M98.6 365.7h1M65.3 393.5h1M72.3 375.5h1M116.5 362.5h1M119.1 365.4h1M89.1 361.5h1M78.6 376.0h1M97.6 362.7h1M86.7 366.4h1M57.1 392.9h1M76.1 366.2h1M88.4 363.2h1M100.2 361.6h1M92.6 359.2h1M93.4 341.3h1M104.4 367.7h1M79.3 382.6h1M57.8 361.3h1M70.8 368.2h1M65.3 395.8h1M97.3 365.8h1M58.0 389.0h1M85.4 365.6h1M66.6 385.1h1M107.0 361.4h1M61.3 376.8h1M79.7 364.2h1M111.5 365.7h1M59.6 384.8h1M93.7 366.6h1M119.4 363.0h1M58.2 382.3h1M59.9 392.7h1M65.5 365.5h1M105.7 365.1h1M98.1 359.7h1M76.8 362.2h1M62.5 388.1h1M63.4 377.1h1M97.5 375.4h1M81.9 356.1h1M72.2 362.4h1M90.2 375.4h1M98.3 360.3h1M100.0 362.0h1M64.1 386.2h1M101.3 362.8h1M63.2 361.0h1M62.0 384.1h1M64.7 385.9h1M95.0 365.1h1M71.1 388.9h1M64.7 377.4h1M119.6 383.6h1M85.5 374.9h1M98.7 376.1h1M64.8 383.3h1M91.5 360.5h1M97.1 359.6h1M98.0 373.4h1M60.3 382.3h1M98.3 362.5h1M56.4 377.0h1M72.6 355.2h1M64.5 385.1h1M92.2 376.5h1M63.6 366.5h1M72.7 365.2h1M77.8 393.6h1M109.8 362.2h1M58.7 358.2h1M62.8 379.7h1M59.8 389.6h1M101.1 390.3h1M99.9 357.3h1M83.3 363.2h1M103.3 384.6h1M98.1 358.5h1M111.0 363.0h1M60.0 384.3h1M117.0 363.8h1M104.3 365.8h1M77.5 360.6h1M57.0 393.5h1M63.1 377.9h1M73.8 369.2h1M60.5 371.8h1M74.4 389.4h1M74.4 360.5h1M89.4 378.5h1M95.4 377.4h1M63.0 380.7h1M62.7 376.0h1M117.0 357.0h1M64.7 382.0h1M88.4 353.2h1M57.0 377.8h1M115.5 359.8h1M118.8 360.6h1M71.4 370.6h1M93.3 364.5h1M94.0 375.8h1M99.9 368.6h1M64.4 377.7h1M63.4 390.3h1M68.7 380.9h1M113.8 359.0h1M109.2 362.3h1M96.9 358.3h1M64.4 393.3h1M61.5 384.7h1M60.1 381.3h1M109.4 362.0h1M72.5 381.7h1M67.4 388.9h1M64.1 393.4h1M79.8 363.1h1M118.6 366.5h1M67.7 384.7h1M96.8 359.3h1M101.1 369.5h1M106.4 363.7h1M109.6 369.3h1M107.9 374.4h1M117.3 366.4h1M97.3 360.1h1M91.5 373.5h1M58.8 385.7h1M100.5 366.6h1M63.2 390.0h1M89.5 382.8h1M115.0 361.8h1M67.8 378.4h1M55.0 376.7h1M97.8 384.9h1M80.6 358.2h1M62.4 382.3h1M98.9 360.9h1M107.6 393.3h1M63.7 378.6h1M62.5 382.5h1M67.5 382.2h1M105.4 358.3h1M64.9 368.2h1M65.4 386.2h1M105.6 355.3h1M116.1 371.0h1M89.3 381.6h1M69.2 382.4h1M106.8 358.7h1M99.9 366.7h1M62.4 391.5h1M63.9 381.3h1M69.5 366.1h1M123.5 365.2h1M68.4 391.5h1M63.4 381.6h1M108.4 357.7h1M82.3 363.1h1M112.4 361.2h1M95.4 364.2h1M108.2 378.6h1M64.2 385.3h1M99.0 365.6h1M100.4 366.1h1M99.8 362.3h1M113.3 353.9h1M63.6 384.4h1M60.0 379.6h1M86.0 370.1h1M95.7 366.0h1M110.3 364.5h1M65.0 386.3h1M62.5 385.6h1M114.2 363.2h1M99.7 377.0h1M96.3 363.3h1M73.3 366.2h1M115.8 366.7h1M114.6 362.2h1M63.6 385.1h1M62.3 390.8h1M60.5 383.8h1M62.0 388.6h1M119.4 362.4h1M62.4 386.1h1M75.3 389.3h1M123.6 382.5h1M59.0 385.8h1M99.2 363.9h1M64.3 388.2h1M109.1 364.1h1M65.7 383.6h1M96.0 364.0h1M68.0 363.8h1M88.6 380.5h1M102.1 360.5h1M71.3 380.1h1M85.5 362.4h1M69.4 364.9h1M86.0 361.0h1M95.4 365.4h1M62.6 378.2h1M69.1 382.5h1M78.1 364.4h1M61.9 384.8h1M61.9 390.4h1M93.0 357.7h1M104.7 367.4h1M60.7 387.6h1M62.8 383.0h1M94.7 369.1h1M61.1 382.4h1M61.7 387.5h1M100.4 368.6h1M75.8 365.9h1M104.3 362.5h1M109.4 363.5h1M64.6 385.1h1M64.2 379.1h1M93.3 387.6h1M96.1 363.0h1M101.4 365.2h1M81.7 385.5h1M97.6 360.5h1M64.4 384.5h1M87.5 366.2h1M108.1 363.8h1M104.8 365.6h1M76.1 366.6h1M78.0 375.4h1M102.8 360.7h1M74.5 377.1h1M68.4 386.2h1M107.8 360.4h1M65.6 385.4h1M99.1 384.3h1M122.5 362.3h1M112.6 367.2h1M100.1 360.0h1M57.2 382.4h1M99.1 364.0h1M100.8 362.3h1M119.6 366.8h1M107.0 366.2h1M117.2 359.8h1M115.4 365.5h1M84.6 361.9h1M57.9 364.3h1M97.2 381.2h1M58.6 386.2h1M63.7 384.4h1M107.4 374.4h1M62.9 386.6h1M69.0 385.4h1M117.7 367.3h1M127.6 368.3h1M67.4 362.6h1M106.2 359.5h1M98.9 363.1h1M109.2 364.9h1M86.0 363.6h1M68.9 391.6h1M63.2 380.8h1M63.4 383.6h1M110.2 364.1h1M90.0 366.2h1M65.1 381.7h1M82.3 375.5h1M89.4 394.7h1M61.4 385.6h1M91.3 366.5h1M123.3 364.7h1M113.7 370.3h1M120.9 368.6h1M93.9 360.0h1M57.1 380.5h1M64.8 359.6h1M62.0 376.9h1M123.9 369.1h1M65.3 376.7h1M63.8 373.9h1M59.4 386.5h1M123.3 366.7h1M94.3 366.2h1M118.1 374.0h1M62.7 388.7h1M100.2 376.8h1M114.0 367.1h1M104.6 365.9h1M63.7 383.3h1M57.9 374.0h1M65.5 383.7h1M65.3 381.2h1M112.4 364.1h1M60.1 389.0h1M83.3 381.1h1M61.9 383.9h1M117.6 365.5h1M112.0 362.2h1M83.0 364.6h1M63.0 379.5h1M100.1 364.4h1M109.8 362.1h1M58.7 388.0h1M64.2 361.6h1M63.0 385.6h1M109.8 360.1h1M94.8 355.7h1M68.0 392.7h1M65.8 384.4h1M67.0 389.0h1M61.0 376.7h1M89.1 379.1h1M100.2 381.9h1M89.2 363.2h1M62.9 382.8h1M58.8 384.2h1M121.0 366.9h1M88.8 390.9h1M67.4 387.5h1M66.6 363.1h1M58.5 382.3h1M64.4 385.9h1M66.3 382.0h1M78.4 361.3h1M103.2 367.2h1M74.7 391.6h1M104.4 367.0h1M60.9 392.1h1M62.1 378.8h1M57.8 384.9h1M80.0 382.8h1M87.4 365.2h1M103.7 358.2h1M124.1 363.7h1M97.9 362.9h1M67.3 381.7h1M118.4 359.8h1M64.5 390.0h1M110.3 366.4h1M120.6 362.7h1M99.5 369.2h1M113.6 359.4h1M116.6 382.9h1M92.1 362.5h1M102.0 360.9h1M108.3 369.5h1M65.8 388.8h1M98.9 362.0h1M58.0 380.1h1M106.8 361.5h1M60.6 388.9h1M59.0 382.6h1M94.1 374.0h1M114.4 364.7h1M58.9 386.4h1M112.0 366.9h1M106.0 363.9h1M111.7 381.0h1M116.4 374.3h1M110.6 365.6h1M89.0 363.9h1M95.2 360.6h1M80.1 361.2h1M111.4 377.2h1M63.7 388.0h1M109.8 369.6h1M119.8 357.6h1M83.9 361.0h1M78.0 394.2h1M78.5 384.5h1M109.0 360.9h1M64.0 374.1h1M106.9 365.8h1M117.5 372.5h1M101.3 353.8h1M101.9 346.7h1M110.2 362.8h1M101.9 364.0h1M62.1 380.9h1M109.9 361.3h1M60.9 386.4h1M85.1 363.9h1M66.8 380.7h1M83.6 367.0h1M74.6 376.3h1M99.0 366.6h1M89.5 364.4h1M85.8 374.0h1M59.2 383.0h1M98.0 365.0h1M59.8 375.5h1M88.8 370.3h1M60.2 384.3h1M122.3 363.9h1M64.5 382.9h1M72.3 364.4h1M83.3 360.6h1M66.1 381.6h1M81.3 364.9h1M88.2 369.4h1M75.5 362.6h1M101.4 360.3h1M64.0 386.6h1M98.4 364.8h1M58.2 388.4h1M61.7 383.5h1M59.4 386.0h1M82.0 379.4h1M65.6 385.1h1M109.7 360.4h1M59.5 382.2h1M116.9 365.5h1M118.3 365.2h1M62.1 385.8h1M69.2 380.9h1M62.4 354.2h1M112.4 361.7h1M64.4 384.2h1M84.8 363.3h1M110.4 361.0h1M57.7 384.1h1M63.8 385.4h1M113.5 363.8h1M63.4 391.5h1M76.9 370.9h1M65.1 379.8h1M78.5 365.0h1M110.5 359.0h1M94.2 370.7h1M62.8 360.3h1M59.2 377.4h1M122.3 378.7h1M113.3 361.9h1M105.4 367.0h1M65.4 386.2h1M102.2 366.3h1M109.4 363.5h1M88.8 382.0h1M105.8 364.7h1M111.1 359.0h1M104.6 367.1h1M69.3 379.8h1M106.6 364.9h1M94.6 361.5h1M71.0 356.8h1M62.0 386.3h1M107.8 367.5h1M64.8 381.2h1M108.1 357.7h1M114.3 364.7h1M67.9 385.5h1M60.0 390.0h1M62.0 387.1h1M65.2 385.1h1M63.2 378.7h1M74.0 361.0h1M113.7 370.9h1M82.9 365.6h1M68.4 375.0h1M95.7 361.6h1M113.0 375.3h1M61.6 385.8h1M99.0 369.3h1M107.4 374.9h1M113.0 367.7h1M70.5 380.6h1M66.2 374.4h1M88.6 360.7h1M69.0 375.4h1M67.5 386.4h1M63.7 379.9h1M122.3 359.5h1M118.3 359.9h1M71.5 384.4h1M102.3 359.8h1M64.7 374.2h1M82.6 364.1h1M117.2 367.3h1M62.9 385.1h1M115.7 364.5h1M62.2 388.9h1M61.9 382.7h1M63.1 389.8h1M61.3 388.8h1M95.9 367.0h1M70.5 365.1h1M92.0 369.6h1M101.1 365.9h1M59.7 351.0h1M70.0 363.4h1M62.2 377.1h1M57.9 389.4h1M103.6 362.2h1M92.3 365.2h1M112.6 362.5h1M75.6 365.3h1M102.8 369.4h1M60.4 387.2h1M58.6 381.3h1M119.8 361.0h1M72.7 383.2h1M69.0 381.8h1M63.0 386.1h1M63.3 385.0h1M79.6 363.4h1M69.3 363.7h1M95.9 359.4h1M67.5 385.5h1M68.5 363.2h1M107.1 366.6h1M74.1 376.0h1M76.6 367.6h1M61.6 393.2h1M61.9 389.7h1M68.4 367.0h1M116.7 365.4h1M92.8 365.1h1M65.8 381.8h1M71.1 381.8h1M65.5 383.1h1M61.7 385.5h1M97.5 361.1h1M104.3 366.5h1M62.6 350.8h1M113.6 363.7h1M64.2 385.1h1M82.9 377.0h1M64.6 392.3h1M65.1 388.3h1M110.4 362.2h1M78.8 363.4h1M64.2 384.2h1M60.7 379.3h1M71.1 367.5h1M119.0 362.6h1M99.6 361.5h1M99.2 367.8h1M64.7 371.9h1M63.6 385.6h1M104.4 362.5h1M67.6 384.9h1M106.9 364.0h1M121.3 359.6h1M72.4 383.1h1M107.2 368.0h1M115.6 365.4h1M106.6 362.2h1M104.8 379.0h1M59.4 388.6h1M72.5 379.8h1M102.8 360.6h1M108.0 383.8h1M100.5 365.3h1M55.3 372.9h1M114.0 366.0h1M60.7 381.7h1M64.3 365.3h1M100.0 375.0h1M106.7 365.7h1M108.3 360.3h1M111.8 365.2h1M73.9 377.4h1M58.6 386.3h1M64.2 383.6h1M64.2 383.6h1M90.6 361.4h1M112.1 369.0h1M70.5 365.0h1M116.7 358.0h1M102.6 362.0h1M72.1 362.2h1M63.7 378.6h1M66.8 390.8h1M85.7 386.1h1M105.1 364.2h1M105.7 368.1h1M86.4 358.1h1M80.8 363.2h1M84.4 361.6h1M97.0 365.3h1M94.2 365.4h1M88.8 356.5h1M93.6 363.0h1M95.5 384.0h1M65.1 385.5h1M106.3 358.7h1M89.9 362.9h1M123.0 391.0h1M59.1 381.5h1M62.7 377.6h1M126.1 371.2h1M98.3 361.7h1M64.5 381.1h1M87.8 359.7h1M110.7 366.9h1M89.9 379.4h1M63.7 377.7h1M123.0 366.1h1M73.1 364.4h1M88.3 358.0h1M79.5 363.7h1M95.8 369.6h1M76.2 361.3h1M118.1 363.6h1M67.9 373.3h1M80.8 365.9h1M106.4 361.9h1M62.7 384.9h1M111.6 360.2h1M92.0 365.3h1M114.9 374.0h1M63.1 386.3h1M62.3 382.7h1M87.0 359.9h1M109.8 368.2h1M78.1 370.9h1M108.1 361.6h1M69.7 387.1h1M102.5 368.1h1M100.1 361.1h1M66.4 387.0h1M63.9 390.4h1M117.2 358.8h1M98.1 372.7h1M111.8 366.6h1M63.1 382.7h1M61.3 390.4h1M64.5 382.2h1M65.9 379.5h1M78.7 362.3h1M88.2 361.7h1M75.7 375.9h1M114.2 361.2h1M65.2 386.8h1M126.2 360.7h1M93.6 361.7h1M60.9 377.9h1M60.5 377.8h1M69.9 381.5h1M108.2 389.0h1M62.9 382.5h1M59.8 389.6h1M99.2 377.2h1M70.5 367.4h1M72.0 379.9h1M81.2 360.8h1M96.2 370.2h1M105.5 387.9h1M98.2 375.0h1M56.1 376.1h1M68.7 387.0h1M60.9 382.1h1M66.4 389.1h1M69.7 382.3h1M51.8 396.0h1M113.2 369.9h1M118.9 367.4h1M84.5 379.4h1M64.2 382.0h1M101.8 389.3h1M69.7 387.9h1M117.9 368.2h1M84.8 359.9h1M115.0 360.3h1"/>
<path stroke="#d0281c" stroke-opacity="0.42" stroke-width="0.85" d="M125.1 372.5h1M108.7 368.2h1M93.0 360.5h1M81.0 361.2h1M102.4 372.7h1M61.3 381.8h1M64.0 381.9h1M91.5 354.0h1M112.8 362.4h1M63.9 379.0h1M64.9 383.0h1M62.9 378.9h1M62.8 389.9h1M61.0 389.2h1M101.0 380.4h1M90.0 390.6h1M107.0 358.9h1M97.5 361.7h1M110.6 365.1h1M92.5 364.8h1M61.7 386.2h1M63.8 390.1h1M105.3 383.5h1M72.7 380.9h1M111.3 369.3h1M72.4 384.8h1M106.6 362.2h1M109.5 365.1h1M94.3 365.6h1M118.4 370.8h1M82.3 360.2h1M88.4 388.8h1M85.5 360.2h1M105.9 368.3h1M83.4 361.9h1M58.2 381.9h1M114.4 369.5h1M126.8 368.1h1M108.2 362.0h1M64.6 383.6h1M60.9 390.0h1M56.1 384.2h1M63.0 381.8h1M64.1 384.6h1M62.6 387.8h1M68.0 359.8h1M103.5 362.1h1M65.0 377.2h1M97.9 362.3h1M61.6 386.4h1M96.5 362.4h1M65.3 383.0h1M110.4 364.9h1M62.2 385.2h1M105.2 369.1h1M86.0 366.0h1M69.1 381.1h1M70.6 386.9h1M112.6 359.7h1M113.7 363.6h1M124.4 364.6h1M66.7 382.5h1M117.2 364.4h1M87.6 357.5h1M57.2 389.0h1M118.7 366.6h1M76.7 382.1h1M63.6 369.1h1M105.5 361.8h1M91.8 363.9h1M57.7 376.1h1M64.2 378.6h1M65.0 387.0h1M60.9 388.7h1M63.2 384.4h1M69.1 372.9h1M76.8 372.2h1M122.5 360.6h1M74.6 372.5h1M56.1 382.1h1M118.4 367.7h1M108.1 364.8h1M98.3 361.5h1M64.7 392.3h1M96.1 359.7h1M115.6 361.8h1M74.3 383.6h1M127.4 362.0h1M59.3 391.7h1M103.7 360.8h1M73.5 358.1h1M91.0 366.4h1M103.2 361.7h1M82.1 358.8h1M68.6 384.7h1M73.3 361.4h1M110.9 364.1h1M73.3 364.9h1M64.1 391.0h1M61.8 377.1h1M107.6 363.0h1M70.8 375.4h1M57.1 390.0h1M108.1 362.9h1M64.0 392.1h1M101.3 364.2h1M96.1 365.0h1M96.6 385.0h1M109.6 358.1h1M56.6 368.5h1M60.4 381.3h1M97.0 366.3h1M59.9 385.4h1M97.6 356.6h1M68.6 384.1h1M66.6 377.4h1M99.9 361.2h1M63.0 390.2h1M69.9 374.2h1M94.8 356.2h1M112.8 362.0h1M73.9 383.6h1M67.7 395.9h1M101.0 367.0h1M97.2 363.2h1M75.4 363.6h1M66.7 388.3h1M60.1 382.4h1M68.8 364.4h1M61.2 370.2h1M106.4 364.3h1M52.7 387.5h1M101.8 361.6h1M59.7 383.8h1M56.3 387.0h1M75.6 366.1h1M107.4 362.4h1M61.8 382.2h1M111.0 367.2h1M65.2 380.5h1M97.2 366.1h1M104.4 358.4h1M108.8 361.6h1M116.1 361.6h1M103.8 368.0h1M102.8 366.8h1M68.4 381.8h1M68.1 375.7h1M63.4 378.5h1M62.7 378.1h1M95.6 394.6h1M75.9 381.4h1M67.2 365.9h1M64.3 384.3h1M59.8 384.9h1M60.0 388.8h1M115.0 362.1h1M101.2 363.8h1M56.4 377.7h1M90.5 357.8h1M97.7 377.5h1M71.8 389.2h1M83.3 361.0h1M61.2 393.3h1M69.1 389.3h1M99.1 357.8h1M71.3 383.0h1M61.8 371.9h1M103.5 361.7h1M93.1 362.7h1M98.3 365.3h1M68.6 388.6h1M63.5 365.4h1M104.0 364.7h1M62.8 383.4h1M111.0 365.1h1M64.0 385.6h1M63.8 383.9h1M75.9 359.0h1M63.2 379.8h1M114.5 361.4h1M75.2 386.8h1M57.9 395.0h1M101.4 362.0h1M98.8 356.1h1M98.7 364.1h1M55.1 377.9h1M119.3 374.0h1M103.3 354.7h1M114.5 366.7h1M99.5 377.1h1M117.5 365.1h1M68.5 380.7h1M115.2 364.2h1M110.6 354.5h1M124.5 365.4h1M96.1 362.5h1M63.5 382.2h1M115.7 363.5h1M65.5 386.9h1M62.3 389.0h1M64.5 377.8h1M63.2 386.4h1M112.3 365.3h1M68.1 382.1h1M94.3 360.3h1M105.9 362.8h1M117.7 366.5h1M105.1 367.9h1M101.7 363.3h1M61.4 383.9h1M68.4 386.2h1M67.7 380.2h1M100.5 364.4h1M113.4 367.0h1M61.0 385.8h1M115.3 359.9h1M76.4 376.4h1M105.2 360.6h1M61.6 385.8h1M119.3 362.3h1M89.9 378.4h1M119.8 362.6h1M84.3 369.1h1M112.9 364.3h1M66.2 385.3h1M103.1 360.4h1M95.6 366.3h1M66.3 391.4h1M65.8 379.2h1M66.1 386.6h1M128.6 367.1h1M120.8 362.7h1M59.8 384.5h1M85.2 363.9h1M101.3 366.1h1M107.1 363.8h1M63.3 387.0h1M108.9 366.4h1M60.5 374.6h1M69.9 384.8h1M62.8 389.8h1M72.1 369.8h1M99.2 367.7h1M108.2 361.6h1M62.3 385.4h1M64.5 378.2h1M119.8 368.5h1M71.3 393.2h1M85.7 361.7h1M105.7 364.5h1M78.8 375.9h1M93.0 375.9h1M62.8 374.3h1M66.1 370.6h1M96.1 376.7h1M71.3 364.1h1M91.4 368.9h1M99.7 361.8h1M75.2 360.5h1M111.9 365.2h1M94.2 359.2h1M63.9 381.7h1M119.6 363.9h1M63.7 385.0h1M62.3 387.2h1M96.1 366.3h1M82.3 377.7h1M74.3 371.1h1M66.5 387.0h1M114.9 362.8h1M61.2 385.3h1M94.2 363.5h1M97.9 359.6h1M66.3 380.6h1M105.6 375.5h1M87.2 361.3h1M92.6 372.4h1M58.3 386.3h1M87.4 361.7h1M98.3 363.9h1M107.5 359.1h1M57.6 384.9h1M106.5 362.6h1M120.7 371.3h1M61.4 383.1h1M85.5 377.0h1M89.5 373.3h1M85.9 355.6h1M110.6 357.8h1M97.5 343.0h1M111.0 367.3h1M95.5 364.7h1M86.0 361.3h1M101.1 366.4h1M79.9 368.1h1M63.3 386.5h1M85.5 365.3h1M61.7 384.5h1M58.2 391.5h1M79.3 367.1h1M63.2 384.7h1M60.8 384.3h1M67.2 390.1h1M110.7 364.6h1M118.5 364.9h1M66.9 385.4h1M66.9 382.0h1M93.9 371.4h1M95.3 380.5h1M63.5 390.3h1M66.2 392.4h1M95.0 390.9h1M88.6 366.4h1M100.6 371.0h1M67.2 366.5h1M57.0 388.6h1M97.2 362.4h1M101.4 359.3h1M113.0 364.1h1M64.7 383.3h1M111.3 366.9h1M61.9 380.2h1M110.6 377.2h1M53.8 392.4h1M96.5 360.4h1M108.6 362.5h1M100.2 355.5h1M64.9 376.9h1M62.7 381.2h1M126.1 372.5h1M109.3 360.8h1M107.4 367.6h1M64.0 388.0h1M67.2 384.5h1M64.3 376.8h1M113.2 364.0h1M98.0 378.8h1M61.0 386.4h1M60.9 367.7h1M60.2 380.7h1M57.7 392.8h1M97.1 362.0h1M86.0 355.0h1M65.6 386.1h1M91.8 366.6h1M83.6 363.6h1M112.2 360.8h1M60.5 380.7h1M90.9 364.0h1M57.6 385.5h1M89.6 370.1h1M75.6 361.0h1M64.7 374.4h1M62.2 387.2h1M74.4 374.0h1M84.2 362.1h1M85.1 359.5h1M56.7 382.3h1M102.8 363.6h1M66.0 386.1h1M104.8 364.2h1M64.8 381.5h1M97.0 362.7h1M82.5 361.6h1M66.0 377.4h1M66.0 362.6h1M94.0 363.1h1M65.3 392.9h1M97.0 374.4h1M66.6 384.6h1M99.3 382.9h1M55.0 384.9h1M80.8 368.5h1M64.6 391.2h1M58.4 362.3h1M119.5 366.5h1M114.7 367.2h1M61.1 385.2h1M66.6 387.8h1M91.3 373.6h1M116.0 361.8h1M116.3 364.3h1M65.8 385.7h1M100.4 363.9h1M83.1 359.9h1M114.3 360.3h1M62.9 391.5h1M64.9 382.5h1M93.7 355.6h1M97.6 358.1h1M81.0 367.9h1M117.4 357.4h1M125.1 373.1h1M61.5 383.7h1M83.3 376.8h1M58.4 380.2h1M105.2 363.3h1M76.0 360.6h1M121.6 360.8h1M65.8 379.3h1M94.5 365.7h1M56.1 378.2h1M102.4 363.2h1M94.6 360.1h1M96.0 389.1h1M65.1 382.8h1M87.3 361.7h1M101.4 364.1h1M118.0 365.5h1M68.0 388.8h1M68.4 378.1h1M102.8 367.7h1M100.8 370.0h1M69.5 389.1h1M94.1 365.5h1M104.6 361.4h1M98.3 361.1h1M94.5 363.5h1M61.4 388.9h1M64.0 378.9h1M60.4 391.9h1M104.7 365.4h1M87.7 357.4h1M98.6 357.3h1M106.5 361.5h1M68.1 386.2h1M95.2 374.9h1M104.4 363.2h1M98.4 364.1h1M100.1 369.7h1M69.7 358.5h1M91.8 361.8h1M94.7 361.2h1M109.9 360.1h1M76.4 364.5h1M74.7 374.5h1M69.2 383.8h1M66.0 392.0h1M62.0 389.0h1M115.2 371.1h1M67.3 389.2h1M59.7 387.4h1M61.3 386.6h1M70.1 385.4h1M113.5 373.2h1M58.5 387.0h1M64.4 387.3h1M65.7 383.6h1M96.3 384.3h1M102.8 368.3h1M79.3 382.8h1M68.9 369.7h1M94.0 354.9h1M72.9 375.7h1M101.0 359.9h1M110.9 357.5h1M110.3 363.8h1M56.1 384.5h1M57.2 383.5h1M111.4 375.0h1M122.7 363.4h1M65.5 384.3h1M76.8 376.5h1M58.2 388.0h1M109.3 359.6h1M65.0 384.4h1M79.7 359.5h1M64.3 383.1h1M65.5 336.8h1M105.6 360.7h1M60.5 382.4h1M61.8 387.1h1M63.3 388.1h1M60.6 385.2h1M69.0 353.9h1M100.7 361.9h1M83.5 379.7h1M59.4 387.9h1M105.6 362.1h1M105.3 364.3h1M120.5 358.5h1M107.7 359.6h1M59.9 387.5h1M59.8 369.9h1M97.3 362.3h1M61.4 387.9h1M77.4 365.8h1M119.3 359.9h1M63.4 384.9h1M54.0 379.8h1M109.5 378.1h1M63.7 388.3h1M56.1 386.3h1M113.1 359.6h1M66.7 386.5h1M67.6 389.3h1M70.5 388.5h1M109.9 367.7h1M88.9 375.9h1M70.6 383.1h1M89.0 369.3h1M63.4 391.8h1M61.3 383.9h1M62.7 386.2h1M79.9 381.2h1M65.7 386.8h1M92.9 368.0h1M84.3 360.6h1M60.2 383.5h1M90.8 386.7h1M83.2 378.7h1M57.1 385.8h1M76.2 368.7h1M117.8 364.3h1M101.4 355.9h1M67.9 377.1h1M68.1 388.1h1M114.1 364.8h1M96.7 364.0h1M119.6 363.8h1M116.9 360.4h1M90.8 358.9h1M53.2 352.5h1M70.5 385.3h1M66.9 386.2h1M106.5 381.9h1M64.6 396.6h1M78.3 365.9h1M59.5 383.7h1M62.5 386.5h1M95.0 364.0h1M67.5 389.3h1M93.8 363.2h1M70.1 364.8h1M58.5 375.4h1M62.3 380.4h1M80.5 368.7h1M129.7 379.8h1M62.5 381.6h1M71.3 362.6h1M96.0 363.6h1M58.8 386.6h1M81.0 360.6h1M58.8 375.6h1M107.0 366.2h1M62.3 378.7h1M103.5 365.0h1M69.3 374.4h1M62.5 385.4h1M63.0 377.0h1M66.1 382.9h1M70.8 369.0h1M65.2 390.3h1M122.1 367.2h1M85.7 365.5h1M58.9 381.2h1M73.6 379.2h1M60.4 379.7h1M67.7 361.1h1M118.8 358.7h1M75.7 348.7h1M60.1 386.1h1M82.6 358.8h1M104.8 361.1h1M95.0 366.0h1M69.1 386.2h1M102.2 360.0h1M61.8 388.7h1M64.3 376.4h1M111.0 360.0h1M52.9 387.4h1M110.4 363.1h1M111.2 367.2h1M64.8 363.5h1M106.0 366.5h1M92.4 367.4h1M81.1 361.9h1M52.0 389.8h1M104.1 363.9h1M92.4 362.3h1M102.9 359.3h1M64.0 389.0h1M96.0 362.8h1M114.6 361.1h1M60.7 369.8h1M122.1 376.2h1M98.3 364.0h1M54.2 376.3h1M66.9 387.9h1M70.8 373.0h1M113.4 362.3h1M59.2 387.8h1M107.5 355.7h1M71.7 379.9h1M62.0 394.0h1M105.8 361.4h1M98.4 369.2h1M64.4 382.0h1M113.1 360.7h1M64.4 391.7h1M76.5 364.8h1M73.5 361.8h1M70.5 374.6h1M104.5 366.4h1M65.8 384.7h1M78.8 368.0h1M80.4 385.5h1M100.4 359.2h1M97.9 359.1h1M68.9 377.7h1M61.3 383.8h1M110.6 352.5h1M87.8 379.4h1M109.7 364.5h1M112.4 362.3h1M72.4 387.3h1M62.5 388.3h1M99.7 365.4h1M65.3 388.6h1M62.7 392.3h1M66.9 380.4h1M57.1 382.0h1M66.1 386.1h1M99.1 359.0h1M58.7 381.5h1M64.7 384.2h1M114.8 363.9h1M113.5 383.3h1M67.1 391.6h1M74.2 364.8h1M117.3 361.7h1M113.2 366.0h1M106.5 382.9h1M104.0 362.4h1M57.7 365.1h1M99.4 363.4h1M105.2 364.4h1M86.3 359.8h1M63.6 383.6h1M120.3 363.3h1M59.4 385.1h1M68.4 376.0h1M65.2 385.5h1M115.0 364.1h1M77.4 366.5h1M64.5 382.8h1M102.9 362.7h1M94.4 367.6h1M64.1 383.8h1M58.7 391.5h1M89.5 362.7h1M117.7 366.1h1M61.8 392.0h1M80.8 367.3h1M60.9 390.2h1M69.3 374.4h1M97.1 368.3h1M65.3 384.6h1M102.0 361.6h1M100.3 377.4h1M59.8 358.2h1M99.3 370.3h1M99.0 367.2h1M77.7 382.6h1M64.1 383.7h1M64.1 384.8h1M83.0 370.1h1M90.1 357.5h1M72.4 379.6h1"/>
<path stroke="#d0281c" stroke-opacity="0.42" stroke-width="0.85" d="M74.4 364.7h1M65.8 386.4h1M94.1 369.7h1M90.0 361.7h1M103.0 375.3h1M102.8 368.9h1M68.4 354.4h1M85.9 368.2h1M72.0 382.7h1M90.6 357.8h1M59.6 394.7h1M102.5 363.8h1M66.1 383.0h1M111.9 365.3h1M65.8 384.9h1M95.1 387.7h1M76.3 361.9h1M82.3 364.9h1M113.2 363.4h1M63.2 379.4h1M64.4 383.5h1M104.6 360.0h1M92.7 364.0h1M67.0 379.6h1M94.1 369.5h1M92.4 361.4h1M91.9 359.0h1M59.5 383.3h1M91.2 364.8h1M72.9 359.3h1M69.2 389.1h1M102.1 370.3h1M95.9 373.6h1M62.4 381.8h1M105.1 361.6h1M67.4 378.5h1M85.4 380.6h1M75.9 358.8h1M74.2 363.1h1M103.9 369.4h1M98.3 360.9h1M104.9 362.7h1M62.2 380.4h1M110.3 356.2h1M77.2 366.7h1M92.3 364.3h1M119.3 361.0h1M63.9 390.4h1M63.8 389.5h1M101.8 357.1h1M65.3 383.5h1M110.2 365.2h1M69.0 377.9h1M59.0 383.9h1M110.5 362.6h1M101.0 378.5h1M61.4 380.1h1M87.9 365.2h1M68.3 390.3h1M115.2 365.6h1M125.5 391.1h1M65.6 383.0h1M92.8 359.2h1M60.1 383.9h1M94.2 361.4h1M95.9 361.2h1M89.0 362.7h1M98.5 355.9h1M64.9 385.5h1M124.6 365.9h1M104.0 364.3h1M64.4 377.0h1M63.3 382.6h1M86.9 363.7h1M62.1 384.2h1M61.4 388.7h1M122.3 365.8h1M64.8 382.6h1M65.9 388.0h1M92.7 375.2h1M88.0 361.5h1M124.7 360.0h1M104.9 363.4h1M116.3 373.3h1M105.7 361.4h1M67.9 380.9h1M121.0 362.3h1M80.3 355.1h1M125.5 368.2h1M79.5 346.3h1M97.6 365.8h1M69.6 380.6h1M104.1 360.1h1M66.0 386.3h1M65.6 381.8h1M78.5 378.8h1M60.1 391.5h1M101.0 363.5h1M59.1 381.3h1M72.4 373.9h1M62.8 380.0h1M95.6 358.1h1M74.0 369.2h1M60.9 381.4h1M69.4 361.3h1M116.7 367.7h1M63.2 378.2h1M93.2 365.6h1M57.0 377.8h1M108.2 366.1h1M86.5 370.8h1M71.3 384.4h1M78.0 379.7h1M59.3 380.2h1M108.4 377.5h1M65.4 388.9h1M98.7 364.6h1M64.5 386.8h1M67.8 385.7h1M101.7 368.9h1M68.2 391.6h1M82.6 365.4h1M119.7 368.4h1M58.6 386.5h1M99.7 372.2h1M111.1 364.6h1M90.9 360.1h1M123.1 361.1h1M113.5 365.6h1M115.9 368.3h1M63.3 381.4h1M58.3 380.3h1M107.0 370.2h1M73.5 389.4h1M59.8 389.5h1M99.5 363.2h1M69.0 387.4h1M102.9 363.8h1M61.2 387.3h1M95.7 361.8h1M62.5 385.5h1M62.4 380.3h1M85.2 370.8h1M83.6 368.0h1M60.6 388.9h1M84.5 367.2h1M82.0 360.8h1M114.8 378.8h1M61.7 394.4h1M64.8 386.5h1M85.7 362.7h1M60.2 385.1h1M99.8 355.3h1M112.0 358.2h1M58.7 393.5h1M99.6 361.2h1M59.9 382.6h1M70.5 388.4h1M116.6 362.8h1M71.2 383.2h1M57.6 390.7h1M98.9 364.2h1M64.3 384.8h1M113.1 364.7h1M58.2 385.8h1M118.7 368.4h1M89.4 361.2h1M92.4 359.6h1M102.2 360.0h1M63.5 380.2h1M105.4 362.0h1M62.3 386.3h1M102.1 359.2h1M60.8 384.8h1M93.1 362.9h1M60.5 377.6h1M109.8 358.1h1M65.9 387.4h1M108.3 384.3h1M91.7 363.2h1M96.4 359.9h1M91.2 381.8h1M61.4 375.1h1M65.4 381.0h1M61.8 379.9h1M85.3 362.1h1M67.0 376.8h1M63.6 381.8h1M115.0 364.8h1M103.5 360.2h1M107.0 363.1h1M57.2 387.5h1M123.9 365.5h1M111.7 366.3h1M107.3 362.6h1M92.6 358.9h1M109.4 364.9h1M62.0 393.1h1M87.3 357.8h1M89.2 364.8h1M110.2 364.9h1M94.3 360.5h1M61.1 382.9h1M61.5 385.2h1M61.0 379.1h1M81.1 361.7h1M59.1 383.4h1M102.3 373.8h1M60.1 369.3h1M74.2 365.7h1M62.3 381.3h1M68.7 381.1h1M98.1 383.1h1M67.0 384.1h1M64.6 380.7h1M59.9 377.9h1M61.2 392.0h1M64.7 382.9h1M95.5 364.7h1M61.7 392.5h1M63.8 381.8h1M82.8 363.8h1M58.0 386.7h1M101.4 366.3h1M66.3 385.9h1M55.3 376.0h1M85.7 380.5h1M102.7 364.9h1M77.3 361.3h1M112.9 365.7h1M123.3 367.3h1M68.6 386.2h1M69.3 385.1h1M82.0 366.0h1M60.5 384.4h1M116.3 363.0h1M122.2 364.7h1M62.7 383.0h1M93.7 364.6h1M88.4 366.0h1M118.7 364.3h1M117.2 357.5h1M98.1 365.1h1M66.9 382.3h1M79.5 365.7h1M108.1 386.3h1M107.2 367.7h1M83.3 360.6h1M66.9 380.9h1M113.4 364.3h1M104.0 362.6h1M69.2 381.0h1M63.7 375.7h1M114.3 377.4h1M85.1 365.8h1M129.1 375.2h1M115.7 363.5h1M59.8 382.0h1M69.7 358.7h1M65.6 377.8h1M114.9 363.3h1M57.8 374.2h1M93.3 369.0h1M80.4 357.6h1M99.7 370.5h1M59.2 372.1h1M97.2 366.1h1M66.2 392.7h1M98.2 388.7h1M83.1 359.5h1M103.4 359.9h1M66.3 382.4h1M68.1 382.7h1M65.6 379.1h1M98.8 381.3h1M94.1 371.5h1M63.2 384.7h1M102.5 367.4h1M63.2 368.4h1M86.3 365.0h1M80.3 364.7h1M96.5 368.5h1M114.1 380.6h1M67.1 382.4h1M107.5 374.2h1M72.3 374.7h1M102.7 385.1h1M107.3 362.8h1M96.7 360.5h1M63.0 391.2h1M105.4 386.1h1M64.3 388.9h1M61.4 383.3h1M103.1 359.2h1M71.0 376.1h1M91.6 364.2h1M67.8 385.2h1M62.7 388.9h1M113.7 362.9h1M110.9 357.6h1M95.0 361.4h1M111.9 374.5h1M66.8 391.0h1M101.5 369.6h1M102.2 367.9h1M103.4 380.1h1M76.7 381.7h1M113.6 366.5h1M63.3 381.3h1M102.0 362.5h1M111.3 360.7h1M124.2 377.1h1M64.2 366.1h1M110.8 366.4h1M66.4 391.1h1M66.0 388.9h1M107.5 362.2h1M112.5 364.6h1M100.6 363.9h1M62.6 384.5h1M109.2 363.5h1M110.7 379.2h1M83.6 358.1h1M58.5 383.3h1M60.0 387.9h1M94.8 379.3h1M67.6 382.3h1M62.5 384.6h1M63.2 387.4h1M115.1 363.0h1M63.0 369.7h1M92.2 362.2h1M109.0 361.1h1M106.7 368.3h1M105.1 362.9h1M64.9 384.0h1M67.0 376.1h1M76.4 382.6h1M66.4 363.9h1M100.7 366.1h1M113.7 365.6h1M70.6 383.1h1M126.2 335.7h1M103.0 359.4h1M66.7 386.1h1M62.7 361.3h1M87.4 363.2h1M104.9 365.2h1M61.8 383.2h1M69.9 365.0h1M66.7 378.3h1M99.1 363.2h1M106.4 369.1h1M102.9 364.0h1M69.2 379.1h1M104.4 366.5h1M110.5 361.4h1M124.8 361.8h1M104.9 366.0h1M114.2 391.8h1M97.0 371.9h1M107.7 369.6h1M64.3 383.2h1M67.5 363.2h1M94.2 366.2h1M88.7 364.5h1M101.4 365.5h1M64.6 382.6h1M70.3 392.2h1M82.8 360.5h1M74.2 392.6h1M97.1 373.9h1M92.7 374.8h1M90.1 381.4h1M70.4 359.5h1M63.4 381.2h1M63.3 386.5h1M102.9 365.3h1M62.9 388.7h1M91.6 363.7h1M64.4 393.9h1M105.1 367.5h1M88.8 371.9h1M86.1 364.4h1M65.5 383.5h1M99.6 387.5h1M98.9 362.1h1M97.9 356.5h1M97.1 375.6h1M76.6 366.8h1M89.3 380.3h1M101.1 359.3h1M109.7 368.0h1M68.3 367.3h1M129.7 353.8h1M92.5 363.9h1M95.7 366.4h1M62.7 380.4h1M114.4 360.0h1M86.0 363.5h1M107.9 364.3h1M122.0 364.5h1M75.7 371.6h1M112.6 364.2h1M58.2 384.7h1M59.9 381.6h1M88.7 366.9h1M106.7 365.1h1M99.0 386.0h1M78.7 378.2h1M88.6 358.8h1M66.2 359.4h1M57.3 380.1h1M60.6 386.1h1M111.7 361.5h1M113.2 365.9h1M108.3 357.7h1M100.5 361.5h1M114.6 366.9h1M97.8 377.4h1M110.9 359.0h1M71.6 384.7h1M109.0 362.4h1M85.6 375.7h1M103.0 395.1h1M98.0 363.5h1M58.3 375.2h1M103.2 360.7h1M69.9 355.8h1M93.5 362.2h1M111.5 359.5h1M70.5 387.7h1M77.6 384.1h1M113.7 364.3h1M84.7 365.9h1M73.1 375.1h1M61.1 381.4h1M58.6 382.4h1M60.6 392.3h1M66.5 370.4h1M76.2 362.5h1M113.7 377.7h1M83.4 359.9h1M68.9 367.0h1M100.3 365.4h1M61.0 391.2h1M68.7 382.8h1M96.3 367.3h1M62.3 383.6h1M60.9 378.5h1M86.3 380.0h1M93.0 361.7h1M114.4 357.0h1M60.7 382.3h1M82.5 377.6h1M96.5 364.0h1M125.4 365.7h1M86.6 380.6h1M108.6 367.8h1M79.0 378.6h1M95.6 360.2h1M103.3 366.9h1M111.1 366.0h1M112.6 365.2h1M78.5 378.9h1M104.0 360.6h1M57.8 392.2h1M119.6 375.9h1M104.8 381.0h1M73.4 390.1h1M110.7 354.3h1M65.6 384.3h1M62.0 376.3h1M69.4 383.2h1M112.7 364.7h1M108.9 366.4h1M72.0 370.7h1M64.1 382.3h1M59.1 389.1h1M57.9 389.3h1M66.0 378.7h1M66.9 395.9h1M61.6 385.7h1M102.8 359.4h1M93.7 362.6h1M58.8 384.3h1M71.0 383.4h1M116.9 367.5h1M118.5 367.9h1M111.8 364.8h1M92.3 382.7h1M125.3 365.7h1M105.3 361.4h1M88.1 356.2h1M111.8 365.0h1M68.0 362.9h1M68.9 383.7h1M109.1 367.7h1M111.2 358.7h1M80.2 358.1h1M101.8 363.2h1M64.4 387.9h1M66.3 388.7h1M93.7 370.4h1M93.2 365.7h1M66.3 382.4h1M95.2 376.5h1M62.6 379.7h1M62.1 360.7h1M112.4 387.2h1M106.2 365.5h1M110.9 373.6h1M103.7 368.8h1M110.5 363.1h1M70.0 385.6h1M107.5 389.7h1M102.9 361.7h1M118.9 362.9h1M97.1 370.5h1M106.5 361.3h1M112.8 367.3h1M78.9 361.2h1M62.7 378.5h1M84.4 360.0h1M62.9 379.7h1M99.0 369.0h1M75.8 376.7h1M58.0 387.6h1M60.1 380.6h1M66.6 389.2h1M67.2 385.0h1M56.1 386.2h1M88.8 362.9h1M85.3 362.7h1M108.5 355.3h1M60.0 391.8h1M65.8 386.4h1M63.8 390.9h1M56.0 384.7h1M116.1 376.4h1M78.9 378.3h1M54.7 366.6h1M87.9 362.7h1M114.4 369.9h1M82.4 371.1h1M69.8 375.5h1M103.4 383.7h1M61.5 381.8h1M74.4 346.5h1M63.3 385.4h1M55.2 389.6h1M112.0 359.4h1M105.6 395.0h1M92.5 359.4h1M59.0 386.8h1M81.6 368.4h1M62.7 379.2h1M59.0 379.9h1M57.0 384.5h1M70.9 389.8h1M78.2 390.7h1M58.8 389.8h1M109.4 346.8h1M60.3 393.3h1M107.5 364.9h1M62.4 385.0h1M86.4 376.7h1M60.8 386.3h1M106.5 358.7h1M99.2 377.6h1M63.5 380.8h1M95.4 356.6h1M126.8 383.8h1M115.8 365.0h1M63.8 388.7h1M93.1 358.1h1M107.0 356.2h1M120.4 382.7h1M111.5 357.9h1M104.9 371.3h1M104.8 363.4h1M56.5 379.6h1M70.7 367.4h1M97.0 376.2h1M59.7 368.4h1M109.9 373.4h1M101.5 368.8h1M114.2 363.4h1M109.9 360.2h1M91.6 367.6h1M114.3 367.4h1M108.3 364.2h1M90.9 361.8h1M65.8 382.6h1M66.4 392.5h1M115.3 365.0h1M69.3 382.2h1M77.6 365.1h1M90.3 381.0h1M99.4 360.9h1M63.7 390.3h1M77.3 344.7h1M111.0 364.8h1M75.4 390.8h1M96.2 364.8h1M67.3 381.0h1M79.1 364.6h1M66.0 378.9h1M66.5 391.5h1M100.8 364.9h1M94.2 376.8h1M62.2 386.8h1M97.0 363.2h1M106.5 363.9h1M98.9 365.1h1M106.1 375.4h1M66.1 386.5h1M120.0 362.4h1M81.9 365.6h1M61.9 386.5h1M99.7 369.8h1M69.4 374.8h1M71.6 367.4h1M61.8 382.4h1M103.6 363.7h1M64.3 379.7h1M99.6 363.5h1M71.8 384.3h1M115.7 370.0h1M63.8 364.3h1M64.7 391.8h1M65.3 392.6h1M111.5 364.8h1M62.4 382.5h1M103.7 358.8h1M96.0 370.5h1M63.3 390.5h1M63.8 379.0h1M69.6 391.4h1M122.2 365.2h1M106.9 368.1h1M103.6 362.6h1M101.7 366.8h1M66.4 389.3h1M63.9 388.0h1M105.8 361.2h1M60.7 378.3h1M53.8 370.2h1M88.7 360.0h1M66.5 381.2h1M63.0 385.3h1M93.6 363.8h1M66.9 381.2h1M101.1 357.9h1M97.6 362.2h1M100.2 360.4h1M71.6 370.5h1M64.2 383.7h1M64.6 383.8h1M68.5 384.9h1M83.4 364.7h1M57.8 372.9h1M118.7 364.8h1M87.9 364.7h1M95.7 360.8h1M62.5 357.4h1M57.8 382.7h1M67.6 385.3h1M56.8 387.2h1M66.9 388.0h1"/>
<ellipse cx="63.3" cy="385.2" rx="5.8" ry="7.5" fill="#cc1d14" fill-opacity="0.85"/>
<path d="M87.5 333.6V397.8M51.1 369.3H132.4" stroke="#8c8c8c" stroke-width="0.6" fill="none"/>
<rect x="76.8" y="361.5" width="2.4" height="2" fill="none" stroke="#888" stroke-width="0.6"/>
<rect x="95.8" y="361.5" width="2.4" height="2" fill="none" stroke="#888" stroke-width="0.6"/>
<rect x="76.8" y="378" width="2.4" height="2" fill="none" stroke="#888" stroke-width="0.6"/>
<rect x="95.8" y="378" width="2.4" height="2" fill="none" stroke="#888" stroke-width="0.6"/>
<rect x="51.1" y="333.6" width="81.3" height="64.2" fill="none" stroke="#231f20" stroke-width="1"/>
<path d="M51.1 338.7h-3M51.1 353.5h-3M51.1 368.3h-3M51.1 386.3h-3M51.1 343.14h-1.8M51.1 345.8h-1.8M51.1 347.58h-1.8M51.1 349.06h-1.8M51.1 350.24h-1.8M51.1 351.28h-1.8M51.1 352.17h-1.8M51.1 352.91h-1.8M51.1 357.94h-1.8M51.1 360.6h-1.8M51.1 362.38h-1.8M51.1 363.86h-1.8M51.1 365.04h-1.8M51.1 366.08h-1.8M51.1 366.97h-1.8M51.1 367.71h-1.8M51.1 373.7h-1.8M51.1 376.94h-1.8M51.1 379.1h-1.8M51.1 380.9h-1.8M51.1 382.34h-1.8M51.1 383.6h-1.8M51.1 384.68h-1.8M51.1 385.58h-1.8M51.1 390.8h-1.5M51.1 393.3h-1.5M67.1 397.8v2.6M85.1 397.8v2.6M105.1 397.8v2.6M123.1 397.8v2.6M72.5 397.8v1.5M75.74 397.8v1.5M77.9 397.8v1.5M79.7 397.8v1.5M81.14 397.8v1.5M82.4 397.8v1.5M83.48 397.8v1.5M84.38 397.8v1.5M91.1 397.8v1.5M94.7 397.8v1.5M97.1 397.8v1.5M99.1 397.8v1.5M100.7 397.8v1.5M102.1 397.8v1.5M103.3 397.8v1.5M104.3 397.8v1.5M110.5 397.8v1.5M113.74 397.8v1.5M115.9 397.8v1.5M117.7 397.8v1.5M119.14 397.8v1.5M120.4 397.8v1.5M121.48 397.8v1.5M122.38 397.8v1.5M61.7 397.8v1.5M58.1 397.8v1.5M54.5 397.8v1.5M51.8 397.8v1.5" stroke="#231f20" stroke-width="0.8" fill="none"/>
<text x="34" y="342.3" font-size="9" stroke-width="0.14"><tspan textLength="8.8" lengthAdjust="spacingAndGlyphs">10</tspan><tspan font-size="6" dy="-3.3" dx="0.2">5</tspan></text>
<text x="34" y="357.1" font-size="9" stroke-width="0.14"><tspan textLength="8.8" lengthAdjust="spacingAndGlyphs">10</tspan><tspan font-size="6" dy="-3.3" dx="0.2">4</tspan></text>
<text x="34" y="371.9" font-size="9" stroke-width="0.14"><tspan textLength="8.8" lengthAdjust="spacingAndGlyphs">10</tspan><tspan font-size="6" dy="-3.3" dx="0.2">3</tspan></text>
<text x="34" y="389.9" font-size="9" stroke-width="0.14"><tspan textLength="8.8" lengthAdjust="spacingAndGlyphs">10</tspan><tspan font-size="6" dy="-3.3" dx="0.2">2</tspan></text>
<text x="63" y="411.7" font-size="9" stroke-width="0.14"><tspan textLength="8.8" lengthAdjust="spacingAndGlyphs">10</tspan><tspan font-size="6" dy="-3.3" dx="0.2">2</tspan></text>
<text x="81" y="411.7" font-size="9" stroke-width="0.14"><tspan textLength="8.8" lengthAdjust="spacingAndGlyphs">10</tspan><tspan font-size="6" dy="-3.3" dx="0.2">3</tspan></text>
<text x="101" y="411.7" font-size="9" stroke-width="0.14"><tspan textLength="8.8" lengthAdjust="spacingAndGlyphs">10</tspan><tspan font-size="6" dy="-3.3" dx="0.2">4</tspan></text>
<text x="119" y="411.7" font-size="9" stroke-width="0.14"><tspan textLength="8.8" lengthAdjust="spacingAndGlyphs">10</tspan><tspan font-size="6" dy="-3.3" dx="0.2">5</tspan></text>
<text x="52.2" y="340.7" font-size="8.4" stroke-width="0.12" textLength="32.3" lengthAdjust="spacingAndGlyphs">MIG–CTL</text>
<text x="52.5" y="349.2" font-size="8.4" stroke-width="0.12" textLength="20" lengthAdjust="spacingAndGlyphs">+DOX</text>
<text x="93.8" y="340.7" font-size="8.4" stroke-width="0.12" textLength="37.2" lengthAdjust="spacingAndGlyphs">21.5±5.2%</text>
<text x="98" y="398.6" font-size="8.4" stroke-width="0.12" textLength="33" lengthAdjust="spacingAndGlyphs">5.6±1.4%</text>
<path stroke="#d0281c" stroke-opacity="0.42" stroke-width="0.85" d="M202.8 375.8h1M204.2 381.9h1M168.7 388.3h1M187.3 364.7h1M193.8 392.2h1M207.6 364.2h1M225.1 360.5h1M229.5 359.9h1M191.8 364.5h1M198.2 370.1h1M227.3 362.8h1M217.5 370.1h1M166.6 377.2h1M221.6 363.6h1M216.0 360.6h1M166.9 380.2h1M229.3 358.6h1M215.4 360.6h1M172.0 364.6h1M165.8 383.4h1M169.9 388.0h1M177.0 363.5h1M163.9 384.9h1M203.4 364.4h1M223.2 361.3h1M217.0 358.1h1M208.2 385.2h1M223.7 363.2h1M218.1 363.8h1M178.7 388.6h1M220.0 361.8h1M233.0 361.5h1M236.4 380.2h1M228.3 380.4h1M218.7 363.6h1M217.7 372.5h1M183.7 365.3h1M223.8 365.9h1M164.3 386.7h1M212.2 362.7h1M199.1 372.5h1M200.1 360.0h1M166.6 381.8h1M182.3 363.1h1M182.5 362.4h1M209.4 366.5h1M206.5 363.1h1M209.2 359.6h1M178.6 361.5h1M197.3 361.8h1M168.5 380.8h1M200.5 386.7h1M166.9 381.8h1M234.8 366.4h1M221.2 360.1h1M212.1 367.3h1M204.6 380.7h1M220.2 370.0h1M219.9 361.4h1M197.9 389.7h1M167.7 383.7h1M223.0 363.4h1M224.8 363.1h1M201.6 358.1h1M194.9 363.6h1M204.5 376.8h1M207.9 362.3h1M170.4 386.8h1M212.9 369.9h1M225.8 365.4h1M171.6 384.9h1M171.7 362.7h1M192.9 366.6h1M222.2 365.5h1M211.8 382.8h1M162.7 381.0h1M168.2 386.9h1M207.6 366.8h1M214.6 382.9h1M199.5 377.4h1M207.3 361.6h1M164.3 384.7h1M207.7 361.5h1M192.3 364.7h1M190.2 363.5h1M208.3 380.9h1M225.2 360.5h1M218.2 361.6h1M188.5 366.1h1M208.2 363.7h1M221.3 362.0h1M219.7 369.6h1M220.2 360.9h1M218.0 366.3h1M225.9 368.6h1M218.9 367.5h1M167.4 381.6h1M225.1 361.6h1M197.4 376.5h1M186.2 364.3h1M208.1 353.9h1M212.1 366.8h1M165.1 388.3h1M161.8 381.6h1M171.9 387.1h1M217.4 378.9h1M212.2 370.9h1M172.7 387.6h1M197.5 357.4h1M202.3 382.4h1M169.3 385.4h1M220.1 378.0h1M165.5 381.0h1M196.9 369.7h1M163.5 384.5h1M192.9 381.8h1M198.3 365.5h1M165.7 381.9h1M184.0 373.1h1M179.8 363.4h1M204.1 378.7h1M173.3 363.8h1M211.0 370.9h1M213.3 364.3h1M162.2 386.8h1M199.2 380.2h1M166.2 383.9h1M166.4 387.4h1M169.1 363.8h1M191.0 380.3h1M162.9 387.6h1M213.1 363.6h1M221.3 358.4h1M225.9 364.9h1M173.0 363.1h1M223.5 371.5h1M167.2 383.1h1M166.7 384.8h1M203.2 378.0h1M171.1 380.7h1M210.6 373.9h1M223.1 364.5h1M214.0 376.2h1M162.6 384.7h1M234.7 368.8h1M167.6 386.1h1M173.2 388.7h1M169.5 382.5h1M164.9 389.0h1M198.8 369.5h1M212.7 363.4h1M218.6 368.4h1M167.0 384.9h1M199.2 380.3h1M210.9 363.1h1M180.4 361.9h1M161.9 384.9h1M213.5 367.1h1M162.4 384.7h1M203.9 364.5h1M206.1 363.6h1M204.8 368.4h1M173.3 388.4h1M167.7 383.8h1M203.0 362.7h1M164.6 382.8h1M210.2 387.8h1M165.0 382.0h1M221.9 367.0h1M216.9 363.1h1M194.3 364.6h1M205.9 367.8h1M216.7 360.6h1M202.6 361.9h1M175.7 361.5h1M165.9 379.5h1M176.9 374.2h1M168.0 383.4h1M194.2 374.9h1M212.7 363.5h1M173.0 387.0h1M163.2 388.4h1M213.2 368.1h1M177.9 343.7h1M213.2 371.2h1M220.8 370.5h1M166.3 385.2h1M168.1 393.6h1M213.8 357.3h1M172.9 382.3h1M206.8 373.9h1M214.0 372.7h1M218.2 376.3h1M197.1 373.3h1M190.4 363.1h1M213.2 371.3h1M223.2 363.7h1M224.0 360.3h1M227.0 363.8h1M230.6 370.1h1M211.4 361.8h1M217.3 361.7h1M217.9 362.5h1M183.9 341.6h1M206.6 365.4h1M228.2 358.9h1M201.4 361.8h1M208.8 372.6h1M225.4 366.4h1M162.2 384.7h1M219.4 370.7h1M201.2 371.0h1M219.7 361.2h1M207.7 367.1h1M168.5 381.6h1M210.8 357.4h1M216.9 363.0h1M186.1 362.0h1M214.0 359.7h1M209.1 370.0h1M204.2 362.2h1M168.0 386.7h1M203.3 368.1h1M208.6 362.4h1M228.0 375.2h1M210.9 356.8h1M180.0 387.4h1M231.0 362.5h1M188.5 364.6h1M166.2 380.3h1M192.7 367.1h1M216.9 364.0h1M200.1 361.2h1M228.7 365.3h1M167.0 386.0h1M169.9 388.4h1M201.1 364.3h1M168.5 364.8h1M212.9 358.6h1M165.2 379.5h1M166.6 377.5h1M194.4 358.7h1M225.9 365.4h1M195.6 371.6h1M191.6 362.2h1M202.6 378.8h1M169.3 390.7h1M176.1 384.0h1M194.4 363.0h1M168.3 386.8h1M215.8 367.7h1M219.6 370.7h1M201.0 367.7h1M225.6 374.5h1M169.4 384.2h1M226.9 364.4h1M214.1 364.8h1M168.9 386.1h1M225.6 357.3h1M213.3 386.8h1M167.7 385.1h1M235.7 351.9h1M221.9 357.5h1M168.7 380.9h1M162.4 383.7h1M212.2 355.7h1M167.0 393.0h1M209.3 361.6h1M175.9 341.7h1M166.8 384.8h1M201.2 389.9h1M170.4 383.3h1M204.0 368.4h1M184.6 363.9h1M206.5 355.1h1M214.6 364.0h1M211.8 365.0h1M214.8 368.6h1M168.3 386.3h1M218.0 364.0h1M170.4 384.6h1M214.9 351.4h1M212.7 371.3h1M212.9 369.2h1M209.1 359.3h1M225.2 363.1h1M203.6 361.9h1M210.5 364.2h1M223.2 375.7h1M167.0 387.9h1M215.2 362.6h1M202.7 364.4h1M185.3 362.1h1M187.1 371.4h1M203.9 368.7h1M169.7 384.0h1M221.7 366.4h1M226.1 367.9h1M222.3 362.8h1M162.6 382.0h1M172.4 388.5h1M224.4 362.3h1M163.8 384.2h1M201.8 366.1h1M221.9 361.1h1M230.6 369.9h1M194.0 362.0h1M185.3 360.6h1M160.7 387.9h1M163.2 376.5h1M226.2 361.8h1M165.9 380.1h1M159.4 386.5h1M205.9 365.6h1M164.1 383.9h1M219.2 366.0h1M222.5 357.8h1M208.2 370.9h1M162.8 383.5h1M202.4 361.5h1M167.8 388.1h1M217.2 360.2h1M209.9 372.4h1M205.8 381.6h1M219.9 375.1h1M169.1 379.9h1M165.6 381.7h1M194.9 360.5h1M222.1 386.0h1M195.7 368.6h1M224.3 371.2h1M219.2 360.6h1M186.9 364.1h1M164.7 388.9h1M216.6 366.0h1M209.1 394.8h1M204.3 365.8h1M209.6 361.6h1M167.9 387.6h1M164.6 383.4h1M216.0 355.2h1M165.6 389.2h1M164.4 387.7h1M216.3 356.4h1M200.4 377.2h1M165.7 381.6h1M174.8 377.5h1M190.7 368.8h1M195.3 361.8h1M194.8 374.3h1M217.5 363.2h1M166.1 385.0h1M161.9 383.7h1M164.9 383.6h1M162.0 382.0h1M215.9 358.1h1M163.9 383.9h1M177.6 360.1h1M209.8 373.2h1M184.9 360.3h1M213.7 362.7h1M200.5 365.3h1M217.5 361.4h1M219.2 362.6h1M220.0 367.4h1M167.3 385.0h1M210.1 363.8h1M217.6 359.2h1M228.8 362.1h1M164.5 383.4h1M166.0 387.5h1M189.6 364.9h1M167.0 383.4h1M168.8 381.3h1M188.9 370.6h1M164.5 387.5h1M210.5 361.5h1M196.5 362.6h1M209.0 368.5h1M195.6 385.3h1M205.2 363.3h1M215.7 368.6h1M209.2 373.9h1M217.9 358.1h1M216.2 364.9h1M208.8 366.7h1M225.6 383.0h1M220.7 360.5h1M209.6 359.3h1M166.8 386.4h1M218.1 363.0h1M199.3 364.5h1M173.7 379.7h1M218.9 367.0h1M164.1 380.3h1M167.5 382.1h1M174.1 365.4h1M209.5 367.3h1M224.6 357.2h1M172.3 384.3h1M187.7 361.8h1M220.6 374.5h1M233.7 361.8h1M175.3 386.4h1M193.3 364.1h1M234.0 392.2h1M209.8 365.3h1M223.7 363.6h1M196.5 387.4h1M165.7 384.4h1M173.8 385.7h1M208.6 362.6h1M220.6 369.1h1M173.9 372.2h1M223.1 369.0h1M176.3 378.1h1M173.2 379.4h1M163.2 379.3h1M174.8 388.5h1M222.1 368.0h1M173.8 361.8h1M172.0 379.5h1M209.2 367.7h1M182.4 364.7h1M211.8 365.1h1M210.2 365.5h1M222.9 363.4h1M158.8 387.6h1M203.6 360.1h1M222.9 364.3h1M215.3 362.4h1M225.8 368.9h1M166.7 384.9h1M164.0 380.2h1M171.2 380.3h1M200.4 364.9h1M207.4 370.0h1M170.9 392.8h1M209.3 358.6h1M165.4 382.6h1M209.2 369.8h1M160.9 386.6h1M158.6 384.0h1M165.4 384.8h1M161.8 384.1h1M195.4 377.0h1M167.1 388.6h1M167.6 394.0h1M223.9 378.5h1M165.8 382.5h1M192.4 362.5h1M220.4 361.7h1M205.6 386.3h1M184.9 362.0h1M163.5 381.0h1M219.7 365.3h1M189.0 363.7h1M225.7 370.1h1M184.8 362.2h1M203.9 360.6h1M172.0 382.4h1M227.1 374.6h1M172.7 390.8h1M162.6 384.5h1M166.2 382.5h1M165.3 380.1h1M217.9 387.8h1M203.5 372.1h1M218.3 356.4h1M215.2 364.4h1M215.0 367.3h1M171.9 381.0h1M193.9 383.4h1M222.2 366.7h1M222.7 367.0h1M214.0 360.7h1M200.6 369.4h1M201.1 356.1h1M169.9 388.0h1M163.5 384.6h1M233.2 363.2h1M191.0 364.3h1M220.9 360.3h1M223.6 367.7h1M219.8 363.1h1M167.2 387.0h1M192.3 362.2h1M220.3 370.7h1M227.6 363.6h1M174.0 381.4h1M207.0 359.2h1M210.2 359.1h1M200.7 368.2h1M220.5 358.5h1M212.0 365.0h1M222.5 362.7h1M223.6 360.7h1M185.9 363.7h1M207.8 372.1h1M204.9 365.6h1M190.5 359.7h1M210.4 361.8h1M161.6 383.3h1M233.9 355.0h1M201.3 365.7h1M165.2 381.6h1M219.2 360.8h1M203.7 367.0h1M163.9 387.9h1M215.2 368.7h1M205.4 364.7h1M171.6 384.0h1M219.5 362.5h1M172.2 376.4h1M203.1 360.0h1M230.4 361.1h1M193.0 363.8h1M162.9 384.1h1M167.9 383.5h1M168.7 386.0h1M161.9 387.9h1M172.2 384.1h1M164.9 384.1h1M166.7 388.2h1M187.9 380.2h1M202.6 363.2h1M193.8 363.6h1M162.3 372.6h1M212.6 387.2h1M212.5 369.6h1M163.5 386.1h1M203.8 376.5h1M179.4 375.2h1M207.4 380.1h1M160.4 385.6h1M209.6 383.7h1M221.8 390.7h1M203.7 373.1h1M161.8 379.1h1M220.3 361.9h1M227.4 374.2h1M213.3 369.9h1M165.8 339.2h1M194.3 394.2h1M166.2 385.2h1M201.5 360.6h1M201.5 371.0h1M178.0 363.6h1M168.5 384.4h1M207.7 368.0h1M211.9 365.5h1M202.7 364.9h1M212.1 377.7h1M167.9 383.3h1M176.0 383.8h1M231.1 364.1h1M211.8 367.7h1M226.0 356.5h1M169.6 383.6h1M166.0 384.3h1M225.2 360.3h1M189.9 359.7h1M215.6 367.9h1M174.3 362.6h1M226.2 372.0h1M201.4 362.2h1M175.4 382.3h1M190.8 361.2h1M200.0 372.1h1M199.8 365.9h1M170.5 384.9h1M208.2 366.0h1M207.2 369.0h1M194.0 364.1h1M168.6 385.9h1M166.6 385.8h1M222.9 355.2h1M205.2 361.6h1M210.3 369.0h1M190.0 387.6h1M215.0 362.1h1M215.5 375.8h1M217.3 361.1h1M207.2 369.1h1M233.9 363.3h1M218.4 367.2h1M207.1 389.1h1M189.8 365.2h1M174.1 385.4h1M220.2 372.8h1M170.7 387.2h1M205.9 379.6h1M177.5 387.7h1M219.5 369.9h1M196.9 378.8h1M166.8 386.5h1M228.0 360.4h1M171.1 381.6h1M165.6 381.9h1M202.3 364.8h1M218.4 362.7h1M200.5 379.0h1M167.0 380.9h1M224.4 364.7h1M223.1 366.4h1M172.6 383.1h1M162.4 381.3h1M163.4 388.7h1M233.2 362.9h1M205.8 364.3h1M231.5 364.5h1M228.0 369.0h1M229.6 372.3h1M204.6 368.4h1M191.6 364.6h1M219.5 376.9h1M199.2 376.8h1M220.1 358.8h1M211.9 336.9h1M234.2 370.1h1M167.4 383.4h1M213.0 365.7h1M208.6 365.2h1M168.4 383.9h1M223.8 357.4h1M214.3 376.4h1M207.2 362.1h1M170.5 383.6h1M217.5 383.8h1M168.0 385.4h1M212.0 361.1h1M202.7 371.2h1M181.8 365.1h1M165.8 382.1h1M162.6 386.4h1M223.6 353.7h1M171.4 384.7h1M166.7 383.5h1M222.0 367.5h1M175.2 363.3h1M197.5 358.1h1M203.8 356.5h1M219.7 355.4h1M217.1 360.6h1M210.4 362.6h1M209.3 385.6h1M229.0 360.5h1M209.0 358.6h1M168.5 386.2h1M201.6 379.2h1M168.6 384.6h1M197.1 361.7h1M213.8 363.6h1M213.2 365.3h1M219.3 366.9h1M234.4 371.0h1M198.0 380.3h1M207.6 366.4h1M218.8 363.7h1M226.2 371.9h1M209.0 362.6h1M218.5 366.9h1M189.5 364.6h1M228.4 364.1h1M211.6 366.3h1M207.0 364.8h1M214.5 360.7h1M209.4 367.2h1M228.7 362.5h1M206.2 375.9h1M203.8 363.8h1M202.2 360.3h1M223.0 368.3h1M214.6 363.3h1M203.1 365.2h1M170.7 385.3h1M180.8 369.8h1M192.8 363.0h1M165.0 387.3h1M202.7 365.3h1M208.2 374.4h1M176.6 385.4h1M192.1 373.1h1M220.0 366.8h1M227.5 368.3h1M188.6 362.8h1M207.5 359.1h1M233.1 360.2h1M213.3 368.2h1M186.3 364.6h1M215.2 381.2h1M221.8 363.4h1M227.9 370.2h1M181.7 370.2h1M220.0 366.7h1M219.1 357.6h1M222.3 370.3h1M195.4 372.5h1M163.5 386.0h1M208.9 362.5h1M206.1 361.4h1M219.1 364.9h1M230.9 359.3h1M226.1 362.6h1M165.6 377.2h1M197.2 379.1h1M224.0 358.2h1M166.0 386.4h1M179.5 362.5h1M215.1 363.6h1M191.7 366.5h1M199.3 390.5h1M165.1 384.0h1M229.9 360.6h1M165.8 380.0h1M208.9 368.8h1M170.3 384.2h1M167.4 386.0h1M165.5 383.1h1M217.1 358.0h1M163.3 385.8h1M189.7 357.2h1M174.5 363.1h1M214.0 368.7h1M211.9 352.4h1M215.1 367.0h1M211.1 364.0h1M206.0 361.3h1"/>
<path stroke="#d0281c" stroke-opacity="0.42" stroke-width="0.85" d="M228.0 368.4h1M160.1 386.1h1M175.7 388.2h1M209.9 366.7h1M166.5 384.2h1M170.7 385.6h1M219.9 361.1h1M208.8 363.4h1M170.0 382.3h1M205.8 385.8h1M164.1 387.1h1M166.7 381.7h1M170.3 386.8h1M233.8 364.9h1M176.4 361.0h1M219.3 371.5h1M168.1 383.1h1M204.8 363.4h1M215.0 364.0h1M184.1 379.0h1M222.1 366.0h1M212.9 365.8h1M160.9 386.2h1M191.7 360.7h1M175.1 383.5h1M166.5 385.9h1M205.6 373.3h1M162.8 380.9h1M211.3 359.5h1M211.9 359.4h1M157.0 387.0h1M163.3 386.5h1M210.1 365.4h1M162.3 382.5h1M193.8 373.4h1M217.3 365.5h1M191.6 370.9h1M223.1 364.4h1M165.3 383.4h1M164.5 384.7h1M217.4 376.1h1M201.6 377.7h1M221.6 366.5h1M225.0 368.5h1M166.0 386.3h1M163.2 387.1h1M174.3 380.1h1M187.0 368.6h1M217.0 361.4h1M169.0 377.0h1M212.0 367.8h1M204.2 366.6h1M220.4 371.2h1M199.3 364.7h1M185.3 364.9h1M218.4 370.7h1M233.1 354.6h1M191.5 361.2h1M167.9 385.2h1M208.3 372.1h1M160.0 382.6h1M226.0 371.0h1M183.2 359.0h1M216.4 375.7h1M180.8 364.6h1M165.7 382.5h1M172.2 375.4h1M187.5 367.0h1M168.5 360.7h1M198.2 366.1h1M167.1 380.9h1M209.3 375.4h1M168.7 383.6h1M209.2 367.1h1M226.9 372.1h1M200.6 382.8h1M221.6 383.7h1M168.4 381.9h1M162.5 383.7h1M197.3 356.7h1M197.9 378.5h1M215.9 366.4h1M172.0 363.4h1M210.6 359.0h1M216.0 367.4h1M165.5 380.2h1M168.0 382.6h1M167.3 379.2h1M224.7 367.9h1M203.8 374.6h1M217.9 363.6h1M165.1 384.6h1M213.4 371.8h1M218.1 363.9h1M164.4 383.3h1M203.2 359.3h1M169.5 387.3h1M189.0 364.8h1M185.0 360.8h1M207.0 366.0h1M162.8 382.4h1M213.4 358.4h1M223.0 363.9h1M222.2 366.7h1M163.6 387.0h1M184.5 362.1h1M230.6 356.9h1M207.2 364.8h1M199.8 364.0h1M202.7 365.2h1M213.4 356.3h1M216.3 362.5h1M166.3 385.5h1M219.4 361.9h1M215.3 370.2h1M236.5 356.9h1M223.2 372.9h1M168.2 381.8h1M197.1 364.1h1M216.8 364.4h1M170.7 387.1h1M185.8 361.9h1M208.4 384.7h1M232.8 363.4h1M203.1 377.0h1M170.4 381.7h1M215.4 367.3h1M205.8 394.0h1M223.5 364.6h1M214.3 361.5h1M160.8 385.4h1M223.8 356.4h1M223.1 367.2h1M177.1 363.9h1M168.7 383.2h1M194.5 377.7h1M168.2 380.8h1M203.2 375.9h1M198.3 361.4h1M164.0 381.9h1M218.2 369.9h1M222.1 359.7h1M209.8 356.7h1M220.6 359.5h1M170.9 383.3h1M175.2 386.3h1M220.5 372.8h1M228.3 363.4h1M196.4 359.7h1M216.6 366.9h1M235.7 366.0h1M169.4 376.6h1M185.3 363.3h1M180.6 368.2h1M223.8 369.8h1M204.8 368.3h1M158.0 385.8h1M203.1 382.0h1M227.5 359.2h1M218.8 367.0h1M218.3 364.5h1M223.1 358.1h1M229.3 359.6h1M187.5 359.6h1M197.8 361.9h1M189.8 367.3h1M211.9 362.5h1M230.5 379.6h1M226.6 374.9h1M208.1 358.2h1M198.8 351.7h1M201.3 375.9h1M162.3 385.8h1M200.6 348.4h1M232.4 375.8h1M201.0 367.9h1M216.1 360.4h1M230.3 362.0h1M202.6 346.3h1M162.5 385.0h1M223.5 361.8h1M209.7 360.3h1M161.1 386.4h1M191.6 364.4h1M222.3 357.8h1M217.3 363.4h1M199.5 362.1h1M195.5 382.9h1M188.8 364.8h1M220.5 364.0h1M168.8 385.6h1M226.1 368.6h1M219.9 360.1h1M229.6 360.1h1M217.0 372.9h1M171.9 384.6h1M171.5 370.2h1M196.8 365.8h1M163.3 379.0h1M212.6 371.0h1M211.7 365.6h1M230.3 364.8h1M225.1 376.2h1M210.4 367.3h1M189.3 363.1h1M214.8 380.2h1M207.0 385.9h1M209.4 382.3h1M168.1 386.8h1M225.5 359.1h1M213.3 362.0h1M166.0 387.7h1M230.2 365.9h1M212.6 369.6h1M207.7 362.6h1M208.6 368.0h1M165.8 383.8h1M165.6 388.9h1M208.4 373.3h1M231.2 361.7h1M213.3 358.9h1M203.4 390.3h1M212.6 370.0h1M171.8 379.7h1M203.1 367.0h1M167.1 384.3h1M219.5 369.9h1M167.9 382.6h1M172.0 384.4h1M165.3 381.3h1M209.2 362.5h1M211.8 365.7h1M187.0 377.1h1M195.6 387.2h1M211.4 371.4h1M229.2 364.9h1M192.8 362.0h1M168.8 382.7h1M215.7 357.1h1M209.7 362.6h1M193.5 363.9h1M168.6 393.0h1M202.4 359.4h1M210.5 363.2h1M165.1 384.3h1M167.1 383.7h1M170.5 385.1h1M214.2 360.6h1M215.1 366.1h1M215.9 363.4h1M210.4 372.1h1M227.5 366.9h1M181.3 361.0h1M198.6 386.5h1M173.5 379.9h1M185.6 363.8h1M223.9 364.6h1M196.5 378.9h1M219.3 363.1h1M164.7 381.7h1M163.8 385.9h1M199.2 375.3h1M202.8 363.6h1M229.9 353.4h1M166.3 383.0h1M176.4 353.8h1M224.7 360.1h1M213.4 357.7h1M167.3 383.4h1M231.8 364.9h1M186.4 364.8h1M165.0 385.7h1M178.9 362.9h1M180.9 362.6h1M220.8 364.3h1M211.3 365.6h1M170.5 378.8h1M211.0 371.3h1M229.7 367.9h1M182.6 366.9h1M170.0 386.4h1M158.9 378.7h1M201.8 363.1h1M212.0 362.3h1M210.6 362.1h1M225.5 366.1h1M208.9 365.5h1M222.3 365.3h1M163.8 381.3h1M208.0 363.3h1M206.7 358.4h1M187.0 375.5h1M201.1 367.7h1M172.4 383.1h1M210.2 369.2h1M216.1 361.9h1M215.0 366.0h1M181.0 362.1h1M223.8 355.9h1M216.6 354.8h1M203.7 364.8h1M168.5 384.3h1M169.3 389.4h1M202.3 369.0h1M171.1 386.2h1M188.3 368.3h1M217.2 367.9h1M215.6 365.4h1M175.5 380.1h1M218.3 366.2h1M193.4 359.3h1M229.6 366.0h1M228.4 366.0h1M219.3 373.9h1M223.1 369.8h1M169.4 385.7h1M192.3 365.7h1M225.4 363.5h1M199.9 363.7h1M168.5 374.9h1M171.6 351.1h1M211.3 366.9h1M169.8 383.7h1M220.8 363.2h1M202.8 359.7h1M167.6 382.1h1M217.7 363.1h1M218.1 365.0h1M198.2 377.2h1M165.2 382.1h1M179.8 364.4h1M175.0 380.8h1M209.3 378.5h1M162.9 380.2h1M215.4 374.3h1M214.1 362.9h1M168.8 382.3h1M163.3 389.7h1M164.7 385.7h1M215.2 369.8h1M209.5 372.2h1M193.4 365.1h1M167.0 387.8h1M185.1 360.5h1M163.8 382.6h1M215.6 378.9h1M166.1 382.1h1M220.4 367.4h1M206.0 377.3h1M158.9 344.4h1M218.1 369.1h1M175.2 382.4h1M208.6 368.0h1M223.9 363.6h1M218.7 362.6h1M210.9 365.4h1M167.5 381.5h1M164.0 377.3h1M167.3 384.2h1M169.7 387.2h1M178.0 365.0h1M220.3 382.1h1M172.5 383.2h1M179.1 363.2h1M167.8 387.2h1M209.5 365.0h1M161.7 391.0h1M160.9 384.3h1M217.0 358.3h1M203.9 361.8h1M192.7 366.5h1M164.9 363.4h1M165.7 386.5h1M197.0 368.4h1M167.3 380.8h1M176.3 392.5h1M217.0 375.7h1M168.0 384.7h1M160.3 384.1h1M217.3 378.9h1M225.6 373.6h1M194.1 364.1h1M171.5 387.5h1M193.8 362.1h1M220.6 360.6h1M224.9 365.1h1M223.5 365.8h1M200.7 361.9h1M166.0 381.6h1M224.2 365.0h1M231.6 369.5h1M176.6 378.7h1M172.7 380.6h1M203.9 362.7h1M223.8 365.2h1M200.3 361.3h1M167.4 380.9h1M213.8 360.1h1M185.3 365.6h1M208.0 375.9h1M204.1 385.6h1M164.3 382.6h1M169.9 386.0h1M168.3 383.6h1M201.9 374.9h1M215.9 356.7h1M221.2 364.5h1M202.0 364.3h1M198.3 387.7h1M209.1 364.4h1M214.2 355.6h1M224.7 365.4h1M218.4 354.5h1M222.0 362.4h1M222.1 372.9h1M190.9 377.8h1M177.5 363.7h1M161.6 384.5h1M165.6 388.2h1M157.8 386.0h1M211.5 361.5h1M211.7 361.9h1M213.2 362.8h1M229.5 363.2h1M204.8 360.1h1M171.0 381.7h1M233.0 382.2h1M165.5 388.1h1M191.5 360.6h1M168.0 382.8h1M168.3 378.0h1M212.9 371.8h1M165.4 387.9h1M173.5 337.0h1M218.8 362.0h1M161.6 379.3h1M204.3 363.0h1M172.1 380.3h1M161.8 384.6h1M168.1 386.8h1M227.9 365.3h1M168.3 363.9h1M196.3 365.4h1M204.8 368.8h1M163.3 385.4h1M192.6 364.1h1M221.0 372.4h1M176.8 379.4h1M222.1 390.9h1M165.3 389.7h1M164.8 383.5h1M193.8 377.5h1M193.4 364.6h1M231.7 371.3h1M218.7 360.7h1M198.7 375.7h1M189.8 356.8h1M185.2 365.6h1M167.7 380.8h1M162.3 385.8h1M229.2 358.7h1M194.7 362.8h1M221.3 365.8h1M206.5 364.5h1M174.2 384.8h1M165.7 388.7h1M206.3 366.0h1M206.6 380.5h1M194.5 360.9h1M210.7 375.7h1M210.0 370.0h1M187.0 385.7h1M190.6 362.9h1M185.1 367.4h1M167.0 381.8h1M207.7 361.1h1M177.6 363.9h1M198.3 373.5h1M172.1 391.3h1M200.9 358.8h1M171.5 387.5h1M207.1 362.3h1M221.1 365.4h1M219.3 360.5h1M223.3 358.6h1M179.8 384.5h1M166.4 380.4h1M187.1 361.7h1M167.9 385.1h1M165.1 389.4h1M170.0 376.6h1M222.8 362.3h1M223.8 366.1h1M163.7 383.0h1M164.4 384.7h1M161.6 390.7h1M165.5 384.7h1M217.2 367.9h1M211.9 369.8h1M220.1 378.6h1M159.9 385.2h1M162.2 387.0h1M222.5 369.6h1M165.8 389.4h1M188.2 363.5h1M219.6 361.8h1M200.7 381.6h1M194.5 370.4h1M167.3 386.2h1M185.8 362.5h1M166.4 387.6h1M214.8 367.6h1M207.6 364.1h1M206.7 369.2h1M208.1 366.9h1M205.2 373.4h1M171.2 382.6h1M165.0 379.4h1M189.2 388.6h1M188.0 363.3h1M218.7 364.1h1M223.0 367.2h1M167.9 384.0h1M215.7 363.8h1M163.6 386.1h1M209.3 366.3h1M165.0 381.9h1M202.3 353.6h1M172.7 382.5h1M227.3 371.2h1M213.6 361.2h1M175.2 362.7h1M219.4 358.8h1M223.7 357.2h1M229.2 363.1h1M158.2 387.1h1M167.0 386.6h1M166.1 384.4h1M167.4 386.2h1M172.0 377.3h1M171.5 363.4h1M217.6 369.1h1M176.1 358.8h1M207.1 367.7h1M217.8 375.1h1M187.9 367.1h1M203.9 365.1h1M163.7 386.2h1M225.6 359.5h1M208.3 371.4h1M181.3 362.5h1M223.4 367.1h1M171.0 378.6h1M201.3 380.7h1M175.3 376.5h1M223.5 363.7h1M231.5 365.4h1M169.6 383.7h1M180.2 362.9h1M162.0 387.3h1M170.9 388.8h1M188.2 362.5h1M210.8 352.3h1M219.6 359.9h1M167.9 387.0h1M223.9 363.1h1M227.5 373.5h1M168.5 386.7h1M224.3 371.1h1M181.6 366.4h1M214.6 363.3h1M210.2 361.5h1M200.3 358.5h1M214.0 366.0h1M218.8 369.0h1M164.6 381.1h1M220.5 364.5h1M198.3 388.0h1M218.6 358.8h1M164.6 384.1h1M179.2 362.5h1M192.4 364.2h1M221.3 364.2h1M161.8 373.7h1M164.2 390.1h1M167.7 384.7h1M205.9 376.3h1M220.8 356.2h1M222.8 364.3h1M168.6 384.8h1M210.6 365.7h1M214.8 390.2h1M210.8 356.8h1M167.9 379.3h1M223.2 357.5h1M165.2 383.2h1M171.1 380.6h1M167.6 391.8h1M222.8 350.6h1M222.1 358.0h1M195.9 363.3h1M210.0 365.6h1M234.0 366.4h1M226.8 366.7h1M210.6 371.4h1M168.8 384.7h1M204.4 361.5h1M204.4 361.0h1M216.7 385.4h1M182.6 365.2h1M212.1 365.6h1M216.0 372.4h1M165.8 383.7h1M165.0 382.8h1M214.4 365.6h1M207.5 365.1h1M205.5 377.1h1M200.9 362.5h1M224.6 363.0h1M164.7 380.4h1M165.4 381.3h1M166.7 386.2h1M203.8 371.1h1M227.9 360.5h1M169.3 389.2h1M188.8 364.0h1M172.1 383.9h1M215.0 335.4h1M222.7 358.5h1M207.1 370.3h1M217.5 362.6h1M165.1 384.0h1M213.0 362.7h1M228.8 358.3h1M213.8 369.7h1M214.0 360.3h1M217.0 362.0h1M204.2 371.2h1M204.3 380.0h1M219.0 368.0h1M218.6 363.5h1M208.1 388.5h1M164.8 382.2h1M212.0 359.7h1M222.4 362.0h1M167.1 376.9h1M213.7 376.4h1M170.8 385.1h1M164.8 376.2h1M161.4 336.1h1M192.6 360.0h1M231.4 367.3h1M215.1 364.3h1M201.0 349.4h1M205.1 376.1h1M215.2 386.2h1M205.8 358.9h1M160.9 386.6h1M168.4 383.2h1M189.5 364.2h1M210.8 374.0h1M172.9 381.4h1M163.6 378.0h1M228.0 355.9h1M222.9 362.4h1M164.8 382.7h1M167.5 387.1h1M174.3 388.3h1M221.5 381.8h1M212.9 359.7h1M217.1 363.9h1M203.8 359.8h1M168.1 383.5h1M200.6 364.6h1M230.8 371.8h1M160.8 382.1h1M166.8 380.9h1M168.8 386.8h1M206.8 362.1h1M163.0 390.8h1M222.9 363.4h1M195.7 364.4h1M195.1 366.8h1M205.6 370.2h1M198.6 382.3h1M223.4 369.7h1M233.5 366.8h1M216.7 378.1h1M203.0 359.2h1M203.3 355.1h1M204.8 367.3h1M166.8 384.8h1M223.1 365.7h1M161.9 381.8h1M234.8 353.9h1M225.6 369.3h1M166.7 382.7h1M175.1 362.9h1M190.9 378.2h1M183.4 362.3h1M167.1 385.2h1M226.8 364.5h1M206.2 356.3h1M179.8 364.7h1M167.4 385.4h1M170.4 384.6h1M178.6 384.8h1M200.1 362.0h1M190.5 363.2h1M222.1 366.0h1M203.6 356.0h1M194.4 362.0h1M206.8 373.5h1M215.8 357.6h1M208.9 358.3h1M217.4 366.0h1M218.1 361.4h1M222.7 374.9h1M187.4 374.3h1M174.6 385.8h1M219.1 358.5h1M168.1 372.9h1M215.8 364.1h1M164.1 381.8h1M184.1 362.4h1M207.7 362.8h1M215.2 358.6h1M213.6 371.2h1"/>
<path stroke="#d0281c" stroke-opacity="0.42" stroke-width="0.85" d="M166.8 374.8h1M189.1 363.9h1M171.9 383.8h1M212.5 374.2h1M206.5 369.0h1M171.7 386.6h1M235.0 364.1h1M207.1 376.2h1M201.8 366.2h1M162.6 389.2h1M202.8 356.0h1M169.8 380.9h1M165.5 384.4h1M171.3 388.1h1M166.6 386.0h1M215.5 363.5h1M215.3 363.5h1M210.4 362.3h1M183.3 361.5h1M167.5 385.9h1M227.9 364.2h1M168.9 384.1h1M193.1 361.3h1M201.3 386.7h1M230.0 364.6h1M215.6 358.6h1M206.6 378.0h1M194.6 343.5h1M185.6 364.8h1M166.2 387.9h1M167.7 382.1h1M211.9 372.3h1M225.3 393.5h1M167.9 364.5h1M189.0 367.1h1M214.1 366.6h1M222.3 362.7h1M217.1 359.7h1M212.5 360.5h1M210.7 364.7h1M209.6 367.4h1M216.2 363.0h1M200.8 362.3h1M164.4 382.9h1M165.0 385.3h1M210.8 361.3h1M213.4 365.0h1M166.0 383.0h1M196.1 366.3h1M190.9 360.4h1M182.2 361.6h1M200.7 366.9h1M171.9 384.8h1M215.4 366.7h1M215.0 368.8h1M212.2 365.5h1M213.4 358.9h1M228.9 370.6h1M225.0 389.7h1M197.9 343.7h1M210.1 389.8h1M211.4 361.9h1M164.3 386.7h1M179.1 360.5h1M165.4 387.6h1M222.5 357.4h1M202.6 389.8h1M182.4 360.9h1M172.8 366.7h1M193.9 363.2h1M197.5 374.7h1M216.4 376.7h1M219.5 367.1h1M215.7 373.2h1M170.4 384.1h1M173.4 383.8h1M198.9 366.3h1M163.5 388.7h1M165.4 382.8h1M203.7 380.9h1M201.3 371.4h1M189.3 361.5h1M208.8 367.6h1M210.0 366.5h1M216.3 363.2h1M185.5 366.0h1M210.4 365.8h1M166.8 386.3h1M196.1 364.3h1M212.7 363.4h1M222.7 374.5h1M169.0 385.6h1M203.6 378.6h1M234.3 372.6h1M161.2 388.9h1M163.0 382.7h1M197.9 361.9h1M216.8 381.7h1M193.6 365.3h1M164.0 377.2h1M165.5 384.5h1M168.2 384.0h1M171.5 376.2h1M164.8 386.4h1M203.2 370.4h1M229.7 364.1h1M215.4 382.0h1M216.2 365.2h1M216.1 365.9h1M212.2 358.7h1M221.0 364.8h1M165.9 391.3h1M167.1 387.2h1M212.8 365.1h1M196.5 361.1h1M212.7 360.2h1M223.6 361.6h1M178.6 383.4h1M218.5 355.9h1M215.6 371.0h1M216.7 365.7h1M216.3 355.2h1M218.9 382.1h1M165.6 381.2h1M206.9 360.3h1M214.9 365.5h1M166.2 382.9h1M177.0 363.1h1M164.2 383.0h1M162.7 381.1h1M215.2 363.1h1M192.8 358.9h1M172.2 391.1h1M209.4 366.8h1M161.6 386.3h1M160.9 385.6h1M236.8 368.9h1M166.8 380.6h1M166.0 385.7h1M210.1 354.8h1M164.2 386.1h1M219.8 367.2h1M173.0 387.3h1M193.8 371.4h1M201.3 370.0h1M217.3 370.2h1M166.0 382.2h1M190.3 371.2h1M167.7 384.6h1M207.0 368.2h1M222.5 380.3h1M210.9 360.5h1M215.0 365.0h1M214.9 367.5h1M205.5 368.0h1M228.0 370.2h1M165.2 379.2h1M216.4 364.6h1M198.7 356.5h1M164.6 378.5h1M176.8 362.0h1M165.4 385.3h1M210.8 366.6h1M209.5 369.2h1M219.9 366.5h1M210.5 362.2h1M162.2 388.4h1M220.7 356.3h1M217.5 371.4h1M168.3 387.1h1M227.3 364.3h1M214.3 365.0h1M164.6 380.8h1M226.1 364.4h1M227.4 357.7h1M221.5 357.4h1M220.9 368.0h1M168.4 387.3h1M234.1 374.7h1M209.6 355.1h1M224.8 353.5h1M210.0 366.4h1M229.4 372.6h1M229.0 360.0h1M160.6 377.9h1M169.8 383.8h1M231.8 362.9h1M223.3 364.5h1M229.1 366.0h1M226.0 365.3h1M220.0 371.0h1M164.6 383.7h1M207.2 363.2h1M164.8 384.9h1M196.7 373.2h1M216.4 357.9h1M170.0 386.4h1M174.6 380.3h1M219.8 364.9h1M202.0 365.6h1M184.2 361.7h1M167.4 381.1h1M198.0 360.8h1M182.0 364.2h1M202.7 360.2h1M169.3 384.8h1M209.5 356.2h1M168.3 385.7h1M214.9 368.4h1M171.0 362.9h1M201.1 361.8h1M184.7 358.7h1M225.8 365.1h1M158.0 382.4h1M175.9 380.5h1M161.0 383.2h1M192.6 364.0h1M187.2 380.2h1M166.8 385.9h1M165.0 387.0h1M230.6 364.7h1M214.3 362.9h1M163.2 386.7h1M215.4 366.9h1M220.5 354.6h1M193.7 362.5h1M162.1 388.0h1M190.0 364.7h1M204.9 360.5h1M218.2 364.6h1M224.5 364.5h1M197.5 374.3h1M175.3 348.3h1M166.5 385.7h1M163.6 383.6h1M164.9 381.3h1M218.2 361.7h1M222.4 367.3h1M217.2 384.2h1M206.9 362.6h1M223.4 365.8h1M223.7 364.9h1M202.6 374.9h1M219.5 365.1h1M175.9 386.5h1M182.4 381.2h1M165.3 382.3h1M210.7 362.9h1M165.2 378.8h1M188.6 347.3h1M172.5 383.5h1M198.5 364.5h1M209.8 377.2h1M176.0 387.7h1M227.0 359.0h1M168.2 382.3h1M213.1 365.6h1M166.5 381.0h1M202.8 362.3h1M231.0 354.2h1M212.9 371.0h1M190.6 365.0h1M211.2 362.7h1M195.4 363.0h1M188.2 366.5h1M209.4 396.2h1M168.0 379.9h1M232.5 368.9h1M199.7 366.5h1M210.5 363.9h1M170.1 379.8h1M230.2 371.6h1M185.6 367.7h1M215.1 356.8h1M164.4 378.5h1M225.4 370.0h1M185.8 363.0h1M205.9 364.6h1M216.0 363.3h1M216.0 367.7h1M167.4 384.8h1M214.9 362.8h1M223.9 368.3h1M210.1 367.6h1M221.0 364.4h1M202.0 363.3h1M169.9 384.7h1M168.2 384.8h1M213.0 363.2h1M222.3 369.5h1M176.8 375.6h1M185.9 368.5h1M207.9 357.5h1M177.8 362.6h1M182.0 364.0h1M215.7 381.6h1M226.2 373.7h1M218.9 385.5h1M192.4 377.1h1M199.0 360.3h1M209.1 363.9h1M205.3 376.1h1M227.6 360.7h1M227.2 371.9h1M204.5 363.9h1M165.2 383.8h1M216.3 359.1h1M197.1 363.7h1M219.1 361.7h1M219.0 364.6h1M212.9 364.3h1M207.2 372.5h1M167.4 385.1h1M209.8 385.1h1M162.1 384.1h1M205.7 361.4h1M169.5 383.5h1M235.4 365.4h1M172.6 387.3h1M166.7 386.5h1M164.8 383.6h1M223.1 362.5h1M216.9 368.8h1M209.8 362.9h1M231.6 374.2h1M210.6 392.2h1M211.7 390.3h1M199.2 361.6h1M167.2 379.7h1M205.0 354.7h1M167.3 379.0h1M213.4 361.6h1M232.6 360.5h1M212.5 371.3h1M176.3 362.6h1M174.0 388.4h1M213.1 358.9h1M168.7 386.5h1M211.6 364.0h1M224.5 384.7h1M217.4 368.2h1M216.5 368.5h1M191.9 357.8h1M164.6 373.6h1M221.0 363.0h1M216.1 364.2h1M168.3 384.9h1M219.2 360.4h1M180.1 360.0h1M219.4 361.7h1M199.3 367.8h1M162.6 386.9h1M200.5 367.5h1M212.2 364.2h1M189.6 363.8h1M227.3 370.7h1M223.8 369.6h1M212.3 368.1h1M164.3 387.6h1M213.9 361.0h1M204.4 361.0h1M230.0 370.6h1M183.3 364.0h1M196.8 361.7h1M219.5 367.3h1M209.4 364.0h1M166.5 386.8h1M162.4 385.5h1M210.9 374.0h1M162.1 386.6h1M200.3 361.6h1M164.8 379.2h1M230.5 368.8h1M210.8 363.4h1M223.1 361.6h1M229.5 366.1h1M203.8 364.7h1M163.5 376.9h1M213.9 358.8h1M182.3 389.0h1M210.8 361.7h1M167.0 383.6h1M216.7 364.7h1M212.5 359.8h1M224.3 360.4h1M178.1 363.6h1M201.9 363.1h1M158.8 382.0h1M162.9 388.8h1M195.1 372.2h1M193.9 370.9h1M161.9 388.3h1M171.9 383.8h1M188.3 356.6h1M167.8 385.2h1M228.7 367.9h1M204.5 384.2h1M213.0 359.4h1M164.2 379.4h1M171.6 380.2h1M166.2 383.9h1M170.6 382.8h1M209.6 362.4h1M170.3 386.7h1M233.0 366.1h1M170.1 383.5h1M166.0 383.9h1M231.1 362.1h1M218.2 361.4h1M164.1 383.5h1M232.0 394.6h1M217.4 361.3h1M181.5 362.5h1M161.7 387.1h1M221.4 368.3h1M202.1 387.9h1M179.4 361.7h1M192.6 372.1h1M164.1 383.9h1M189.5 365.5h1M205.6 372.8h1M158.8 384.3h1M218.3 367.8h1M171.6 382.0h1M164.0 379.5h1M193.6 366.4h1M215.2 354.6h1M166.4 383.6h1M180.2 364.0h1M164.9 383.3h1M197.5 383.2h1M220.2 375.9h1M172.5 365.6h1M217.2 362.3h1M231.9 363.4h1M213.9 359.6h1M176.5 363.3h1M202.6 358.9h1M179.1 364.6h1M215.7 362.1h1M183.7 362.6h1M201.7 382.2h1M221.8 367.9h1M199.5 386.3h1M172.7 393.5h1M206.3 382.2h1M163.3 380.7h1M211.7 356.6h1M176.0 379.3h1M168.9 381.8h1M169.4 380.5h1M171.8 385.1h1M216.4 379.8h1M191.8 359.1h1M194.9 368.1h1M176.2 389.6h1M186.7 363.4h1M164.1 382.4h1M212.2 364.8h1M171.4 386.3h1M163.9 380.6h1M233.5 355.1h1M224.8 360.6h1M220.6 387.7h1M170.8 379.8h1M209.3 360.8h1M225.0 363.2h1M174.2 384.5h1M163.8 379.2h1M183.7 382.7h1M220.7 359.6h1M216.2 372.0h1M170.5 382.3h1M210.0 352.2h1M210.6 354.0h1M165.4 384.7h1M159.8 379.0h1M205.5 363.8h1M166.9 384.6h1M168.0 383.7h1M212.8 373.2h1M216.1 369.7h1M175.7 378.4h1M175.0 364.9h1M222.7 365.6h1M220.6 365.0h1M165.2 383.4h1M167.0 382.7h1M194.8 378.5h1M215.5 367.6h1M167.4 380.9h1M200.1 371.8h1M213.3 362.5h1M212.0 360.0h1M224.9 346.6h1M225.1 359.2h1M164.8 387.5h1M202.1 362.5h1M228.9 367.4h1M226.7 357.5h1M215.1 366.7h1M173.3 381.3h1M219.9 360.7h1M210.2 357.0h1M168.0 378.8h1M223.2 367.7h1M210.7 366.1h1M172.1 391.2h1M169.9 384.3h1M226.5 366.3h1M161.9 379.5h1M189.1 362.7h1M201.5 370.6h1M196.9 378.3h1M167.6 383.9h1M203.9 356.5h1M220.2 365.4h1M167.0 382.1h1M189.9 369.2h1M168.6 384.7h1M215.4 360.4h1M212.9 360.5h1M165.2 386.7h1M227.4 372.2h1M213.6 356.2h1M222.4 362.7h1M169.5 379.2h1M224.5 363.2h1M168.8 385.6h1M170.2 384.8h1M164.8 386.8h1M216.3 364.5h1M231.3 367.2h1M227.4 364.0h1M162.8 381.2h1M201.3 360.2h1M170.8 388.3h1M210.7 376.6h1M211.8 366.1h1M216.6 368.7h1M209.6 360.5h1M226.5 358.0h1M201.0 372.8h1M169.3 384.4h1M210.7 368.8h1M168.4 383.2h1M215.4 360.6h1M208.2 371.1h1M191.8 360.1h1M190.4 376.3h1M205.7 367.6h1M163.5 386.9h1M203.1 363.7h1M208.1 373.2h1M159.7 384.4h1M213.3 361.4h1M223.7 372.0h1M220.8 374.4h1M194.1 373.0h1M203.0 362.7h1M219.3 374.3h1M220.6 360.9h1M209.2 373.7h1M169.5 384.0h1M206.4 365.9h1M167.6 383.9h1M169.5 382.8h1M165.5 386.1h1M216.8 359.8h1M201.5 379.4h1M218.0 356.0h1M212.1 365.4h1M169.0 387.0h1M226.2 374.5h1M220.0 367.5h1M213.1 365.4h1M217.2 361.4h1M170.7 383.6h1M222.2 365.0h1M178.4 363.8h1M204.3 372.2h1M204.8 366.2h1M221.9 360.7h1M171.4 380.7h1M215.0 360.1h1M163.9 390.6h1M219.7 364.8h1M167.6 384.8h1M222.5 367.1h1M163.2 383.9h1M164.7 382.1h1M166.6 384.5h1M205.1 370.0h1M217.4 363.5h1M217.0 362.8h1M198.5 372.7h1M219.6 366.9h1M211.8 377.5h1M212.1 381.6h1M203.6 367.1h1M167.8 380.8h1M212.4 362.4h1M160.3 387.5h1M216.3 366.1h1M165.5 384.0h1M167.5 385.6h1M165.6 386.2h1M169.8 358.6h1M213.4 384.7h1M158.2 384.3h1M214.0 376.6h1M205.3 365.2h1M182.2 382.0h1M188.9 363.2h1M176.1 364.8h1M221.3 361.8h1M224.0 364.8h1M212.9 364.5h1M226.7 365.1h1M184.2 392.5h1M230.5 361.5h1M208.1 366.4h1M204.6 381.4h1M169.8 389.4h1M224.3 361.5h1M213.2 366.0h1M208.2 361.2h1M165.6 380.5h1M196.1 386.8h1M207.2 363.8h1M167.2 381.2h1M213.8 362.8h1M211.9 363.0h1M160.5 380.9h1M223.7 372.5h1M199.5 359.2h1M171.0 386.2h1M208.1 363.1h1M209.7 362.1h1M222.4 361.3h1M169.2 385.9h1M170.0 394.9h1M206.3 361.3h1M168.0 384.2h1M222.9 365.3h1M161.9 390.1h1M171.6 382.4h1M161.2 386.7h1M164.6 381.7h1M161.7 383.5h1M212.9 376.8h1M162.8 381.8h1M218.0 370.0h1M158.3 382.7h1M210.2 379.8h1M216.5 356.4h1M163.5 381.4h1M199.6 372.5h1M178.0 377.7h1M192.9 363.3h1M224.3 382.7h1M217.0 362.8h1M167.3 388.7h1M234.1 361.6h1M228.0 378.1h1M164.6 384.1h1M167.8 389.0h1M214.7 371.8h1M162.8 383.7h1M222.5 367.1h1M210.1 363.7h1M223.1 362.9h1M178.4 362.3h1M213.6 368.3h1M166.8 385.9h1M222.9 368.2h1M169.3 383.3h1M165.6 384.8h1M169.1 383.6h1M231.1 382.5h1M185.4 363.2h1M218.6 364.7h1M161.0 390.9h1M173.9 385.1h1M203.0 378.9h1M205.6 362.7h1M224.7 374.5h1M166.6 377.1h1M168.9 374.4h1M220.1 362.5h1M169.0 386.6h1M196.5 369.0h1M163.8 380.6h1M213.5 385.7h1M219.7 368.6h1M166.4 382.0h1M189.3 367.5h1M164.0 383.0h1M178.0 362.3h1M219.5 363.3h1M187.2 362.8h1M198.1 363.6h1M219.0 364.7h1M207.3 363.6h1M202.2 361.3h1M215.9 365.5h1M208.8 364.6h1M193.9 363.4h1M229.9 369.0h1M196.4 368.5h1M205.9 360.2h1M176.9 378.0h1M188.4 390.4h1M224.9 363.6h1M224.0 369.3h1M203.4 357.6h1M208.7 372.2h1M180.7 363.6h1M189.8 362.1h1M166.4 382.5h1M224.6 370.3h1M159.9 387.0h1M203.3 371.3h1M208.1 369.6h1M210.1 364.0h1M212.6 358.8h1M181.0 365.1h1M171.3 387.2h1"/>
<path stroke="#d0281c" stroke-opacity="0.42" stroke-width="0.85" d="M216.5 362.2h1M195.6 365.4h1M177.6 366.7h1M166.1 381.5h1M205.9 392.3h1M193.3 365.6h1M220.3 371.4h1M216.9 365.9h1M206.9 357.7h1M226.3 359.6h1M193.6 370.1h1M177.4 379.7h1M206.2 374.1h1M215.3 367.5h1M156.6 395.9h1M219.7 366.6h1M234.5 368.5h1M168.8 382.8h1M213.9 372.3h1M162.5 385.1h1M202.5 352.9h1M203.3 366.5h1M164.8 386.2h1M204.5 361.2h1M210.0 365.5h1M227.5 361.4h1M166.1 385.2h1M208.3 371.1h1M203.0 360.9h1M212.9 369.1h1M164.1 380.1h1M198.0 376.4h1M187.4 365.7h1M162.0 384.1h1M163.7 385.9h1M172.1 383.1h1M211.6 364.3h1M183.3 364.7h1M217.9 357.3h1M211.0 358.9h1M176.7 361.8h1M200.1 356.0h1M219.4 367.1h1M208.2 368.5h1M226.9 366.4h1M213.3 390.4h1M187.4 363.5h1M225.8 369.5h1M166.1 388.6h1M195.6 363.8h1M227.4 372.7h1M196.8 359.1h1M208.2 371.8h1M169.7 388.1h1M210.2 372.5h1M228.0 368.3h1M200.3 369.2h1M207.5 365.7h1M225.3 367.3h1M168.8 378.0h1M204.6 365.0h1M197.2 368.2h1M212.1 367.7h1M215.2 366.5h1M201.3 373.3h1M190.2 366.6h1M209.1 359.7h1M166.4 384.6h1M226.3 366.1h1M174.6 389.3h1M224.6 358.2h1M202.1 366.4h1M167.8 381.3h1M215.4 374.1h1M228.9 367.2h1M200.3 358.1h1M167.9 382.7h1M225.8 369.0h1M174.3 387.0h1M168.0 381.0h1M160.0 383.3h1M211.2 363.8h1M166.1 386.9h1M233.2 353.9h1M234.7 368.2h1M195.9 370.4h1M164.2 382.5h1M171.1 383.2h1M163.1 383.9h1M169.9 385.5h1M165.5 382.9h1M205.9 369.6h1M163.8 383.5h1M189.7 360.2h1M160.8 386.2h1M230.6 364.4h1M185.5 378.3h1M226.9 359.7h1M208.8 379.0h1M216.0 363.6h1M198.9 365.9h1M222.6 361.4h1M171.2 382.0h1M208.3 368.6h1M165.3 384.3h1M233.0 361.8h1M177.4 384.3h1M158.3 381.7h1M205.4 368.4h1M213.5 363.4h1M209.6 362.2h1M172.0 387.7h1M179.2 365.5h1M225.9 363.1h1M215.1 366.8h1M215.6 370.6h1M171.1 386.1h1M211.8 358.5h1M194.4 363.8h1M206.2 362.8h1M170.6 379.6h1M165.5 381.6h1M191.2 368.1h1M192.9 377.8h1M209.9 368.9h1M219.2 359.9h1M229.2 358.3h1M173.7 384.8h1M202.1 376.4h1M166.1 385.2h1M177.9 362.2h1M212.7 369.9h1M193.7 358.2h1M194.8 359.7h1M165.3 385.9h1M227.7 359.6h1M164.6 380.7h1M207.3 366.5h1M211.1 354.9h1M163.8 381.6h1M218.5 365.6h1M203.1 388.4h1M172.6 363.5h1M195.4 360.2h1M206.9 372.1h1M180.7 362.8h1M207.7 366.9h1M176.5 363.8h1M166.6 385.7h1M167.0 377.9h1M170.7 377.4h1M218.6 365.7h1M165.0 381.4h1M179.3 386.1h1M214.2 367.4h1M163.8 384.6h1M178.2 364.1h1M189.8 363.7h1M171.4 379.7h1M180.4 366.0h1M192.7 357.6h1M168.7 384.5h1M224.0 365.3h1M166.1 382.7h1M164.6 384.8h1M198.8 366.1h1M165.6 384.3h1M194.1 364.3h1M197.3 350.0h1M223.7 378.3h1M213.9 372.2h1M216.1 363.2h1M194.3 375.1h1M203.0 362.9h1M220.0 362.9h1M167.7 387.1h1M214.0 365.7h1M225.0 359.6h1M210.1 374.4h1M185.2 370.2h1M223.5 362.7h1M221.6 361.4h1M231.7 361.2h1M209.2 365.7h1M194.3 382.4h1M201.1 378.0h1M194.1 364.2h1M163.9 382.4h1M167.4 382.9h1M170.4 381.8h1M223.1 364.4h1M219.2 366.3h1M207.8 363.7h1M199.7 362.7h1M168.9 385.4h1M228.9 390.5h1M195.2 364.6h1M175.2 383.5h1M192.5 362.7h1M172.1 376.5h1M176.4 378.4h1M181.0 363.1h1M163.5 384.5h1M187.6 385.7h1M214.9 359.8h1M166.3 377.1h1M202.9 367.9h1M205.4 371.9h1M174.1 384.9h1M168.8 390.2h1M166.2 383.0h1M191.0 368.4h1M196.7 362.7h1M213.0 376.6h1M169.3 387.6h1M215.7 374.8h1M201.9 361.9h1M164.8 383.1h1M195.0 361.9h1M223.2 360.6h1M214.7 369.3h1M198.7 367.2h1M195.6 362.0h1M229.8 385.4h1M167.8 388.8h1M170.8 386.4h1M229.4 353.8h1M220.6 372.7h1M229.3 365.2h1M227.3 364.6h1M224.6 360.8h1M206.4 370.7h1M191.3 363.6h1M224.0 367.3h1M217.5 367.6h1M167.3 388.0h1M184.1 364.8h1M226.7 367.3h1M227.3 361.5h1M206.4 371.2h1M166.9 382.7h1M222.9 354.6h1M216.7 363.4h1M172.8 386.1h1M170.2 382.5h1M168.7 387.6h1M165.3 383.3h1M168.4 389.3h1M165.5 386.4h1M208.7 363.7h1M207.2 390.7h1M198.6 366.3h1M208.0 368.5h1M169.7 382.2h1M217.6 369.6h1M187.6 362.6h1M167.4 385.1h1M213.2 365.8h1M188.2 363.4h1M170.3 387.8h1M165.4 387.1h1M187.5 382.3h1M183.8 364.2h1M173.4 346.4h1M214.6 388.6h1M191.3 365.3h1M200.3 360.9h1M203.2 360.7h1M212.9 373.0h1M219.4 369.5h1M221.7 369.1h1M176.7 383.1h1M211.7 359.4h1M168.8 383.3h1M211.4 363.1h1M220.7 371.9h1M201.6 382.1h1M164.5 379.6h1M215.4 377.9h1M191.9 369.6h1M201.7 382.0h1M171.1 384.5h1M220.7 373.5h1M209.3 372.8h1M210.7 362.3h1M189.1 361.1h1M219.2 370.7h1M199.1 364.3h1M231.5 381.4h1M183.9 358.2h1M184.9 384.8h1M185.8 380.6h1M222.8 367.8h1M166.6 389.6h1M219.9 379.5h1M166.9 379.6h1M221.8 362.1h1M162.8 387.8h1M204.7 358.9h1M223.6 367.8h1M169.0 380.4h1M213.2 381.7h1M222.7 366.7h1M206.7 362.8h1M216.7 360.5h1M218.7 355.6h1M162.2 384.7h1M177.6 385.7h1M169.6 386.0h1M207.3 359.8h1M169.0 388.4h1M168.4 383.8h1M209.9 362.8h1M217.9 381.9h1M229.3 361.5h1M216.1 364.0h1M227.9 366.5h1M215.2 360.4h1M169.8 389.6h1M218.5 387.2h1M214.6 354.8h1M183.3 364.5h1M209.0 357.0h1M199.3 383.9h1M169.4 383.8h1M179.5 365.7h1M178.5 381.6h1M208.1 374.4h1M232.8 356.9h1M220.6 364.4h1M194.4 363.0h1M220.7 364.9h1M193.9 362.3h1M203.6 367.6h1M162.6 384.0h1M179.2 389.7h1M210.6 364.7h1M227.3 373.7h1M214.5 385.2h1M226.7 364.9h1M187.6 371.0h1M215.5 362.1h1M208.4 365.0h1M165.3 383.0h1M166.8 383.5h1M199.5 358.1h1M223.8 365.3h1M163.3 383.3h1M209.2 360.8h1M209.6 365.0h1M164.0 382.8h1M218.3 366.1h1M169.3 385.1h1M201.6 367.3h1M199.4 362.1h1M214.2 365.2h1M189.3 364.4h1M219.5 374.8h1M165.9 387.3h1M160.6 382.4h1M205.1 374.3h1M156.5 366.1h1M212.9 363.5h1M207.2 371.7h1M163.4 379.8h1M164.9 377.9h1M162.5 385.8h1M223.7 368.7h1M222.4 361.9h1M162.8 383.5h1M223.4 387.0h1M227.1 365.2h1M167.2 384.4h1M165.7 383.3h1M161.5 384.6h1M198.8 365.2h1M180.6 363.5h1M165.7 387.1h1M192.7 387.7h1M158.2 383.4h1M225.3 362.7h1M175.4 354.6h1M162.6 382.5h1M210.3 352.7h1M213.6 362.2h1M211.0 365.1h1M212.5 367.4h1M171.9 387.6h1M202.8 363.4h1M211.8 376.6h1M166.1 383.9h1M167.7 383.6h1M208.6 383.8h1M224.9 372.3h1M231.4 375.1h1M164.4 382.5h1M200.2 363.6h1M178.4 362.5h1M208.1 364.2h1M224.0 364.4h1M217.6 367.2h1M225.7 362.2h1M212.0 364.3h1M221.8 364.8h1M228.3 363.6h1M232.2 364.7h1M178.1 359.8h1M228.0 370.2h1M224.7 360.8h1M169.0 383.3h1M156.8 384.5h1M169.4 385.6h1M211.6 366.0h1M164.8 388.9h1M170.5 384.7h1M184.5 395.5h1M211.4 353.5h1M211.8 362.7h1M218.0 363.8h1M204.7 378.3h1M161.8 382.4h1M177.8 367.9h1M224.4 369.3h1M168.0 383.4h1M221.5 374.5h1M166.5 373.5h1M218.1 358.5h1M226.3 360.5h1M229.5 370.2h1M211.2 364.7h1M192.3 361.7h1M211.7 372.7h1M167.2 379.4h1M227.6 368.5h1M158.0 382.9h1M211.4 357.0h1M207.6 367.8h1M201.8 380.9h1M208.1 359.6h1M227.4 362.7h1M228.1 365.4h1M161.4 384.5h1M190.0 362.1h1M216.9 365.5h1M229.5 368.1h1M166.2 379.3h1M181.3 363.6h1M163.2 384.0h1M218.1 369.4h1M164.6 380.5h1M224.4 364.6h1M183.5 361.7h1M210.0 365.4h1M227.9 356.4h1M213.3 360.8h1M166.8 383.6h1M219.5 361.7h1M161.8 384.0h1M218.6 358.0h1M209.7 364.6h1M168.8 380.3h1M167.5 384.7h1M188.0 377.0h1M185.7 356.7h1M220.5 367.3h1M217.6 365.1h1M170.3 384.3h1M212.8 373.7h1M203.0 364.2h1M223.2 374.0h1M164.1 385.6h1M172.9 380.6h1M207.1 370.4h1M225.8 369.5h1M203.0 367.4h1M197.2 335.5h1M206.9 369.5h1M179.2 366.5h1M230.1 363.1h1M209.3 362.0h1M212.7 369.8h1M217.8 368.8h1M158.7 375.8h1M224.9 365.2h1M196.1 363.0h1M197.4 371.3h1M215.5 368.3h1M196.0 368.7h1M222.7 365.1h1M198.7 363.8h1M207.4 376.0h1M206.2 361.2h1M214.5 367.6h1M167.4 386.6h1M197.6 361.7h1M189.3 363.0h1M220.7 362.0h1M227.0 373.1h1M168.0 382.2h1M207.8 376.6h1M222.1 372.5h1M192.4 362.5h1M209.1 364.6h1M196.8 365.2h1M182.8 365.5h1M231.5 366.8h1M195.1 382.2h1M164.9 383.4h1M174.5 393.6h1M211.4 372.0h1M164.5 383.5h1M210.5 387.4h1M162.8 387.1h1M207.6 365.3h1M227.7 358.8h1M225.3 364.1h1M168.9 383.7h1M156.6 382.4h1M192.2 365.3h1M165.5 382.7h1M211.2 374.6h1M222.5 371.7h1M235.1 367.9h1M224.8 359.6h1M213.9 362.8h1M164.8 385.0h1M221.9 382.9h1M168.1 386.0h1M218.5 386.8h1M213.7 362.8h1M194.5 394.6h1M168.3 383.1h1M166.1 382.1h1M214.4 392.4h1M205.8 363.0h1M195.2 385.3h1M229.0 370.1h1M221.2 364.6h1M187.8 395.3h1M217.3 364.9h1M222.4 359.2h1M183.1 360.4h1M217.4 360.4h1M221.0 377.4h1M188.6 365.8h1M160.6 383.0h1M191.4 365.3h1M164.9 378.8h1M186.5 363.2h1M218.0 372.6h1M229.1 362.2h1M196.8 354.7h1M208.4 361.1h1M219.0 358.9h1M189.4 365.1h1M168.1 384.2h1M168.9 377.9h1M207.3 385.6h1M194.9 364.7h1M222.6 362.5h1M192.0 363.6h1M208.0 370.3h1M224.0 371.5h1M199.5 367.1h1M230.9 375.5h1M215.5 368.7h1M185.5 367.7h1M185.4 363.8h1M169.5 381.2h1M215.8 364.6h1M197.0 361.5h1M181.6 363.5h1M220.4 360.3h1M222.7 366.9h1M211.2 368.7h1M191.3 363.0h1M219.3 366.4h1M204.9 365.0h1M231.0 380.9h1M211.7 361.3h1M196.4 361.9h1M186.8 364.0h1M169.2 383.7h1M170.8 380.7h1M160.8 386.4h1M184.8 364.3h1M214.6 377.1h1M231.3 361.4h1M179.8 365.9h1M215.1 363.6h1M199.3 361.5h1M164.3 381.4h1M205.8 358.7h1M180.5 381.8h1M213.6 365.3h1M208.7 363.7h1M185.7 363.1h1M173.0 382.9h1M174.0 381.9h1M166.2 378.8h1M194.3 365.0h1M183.6 363.7h1M160.6 382.7h1M200.3 369.2h1M224.6 362.4h1M161.5 379.0h1M197.9 383.0h1M187.5 390.6h1M220.8 362.1h1M190.4 363.0h1M226.5 358.7h1M194.1 387.5h1M211.7 367.9h1M162.2 386.4h1M188.1 373.1h1M180.3 386.3h1M205.1 349.6h1M212.6 366.8h1M200.7 376.4h1M195.3 371.9h1M167.1 384.6h1M217.2 368.9h1M195.5 386.2h1M227.9 372.4h1M192.9 359.7h1M172.5 382.2h1M223.5 365.9h1M222.1 358.1h1M204.6 361.0h1M164.0 384.3h1M169.1 382.7h1M197.8 354.8h1M217.1 368.6h1M196.9 376.6h1M215.2 363.2h1M166.4 382.4h1M209.1 374.5h1M164.0 380.5h1M215.0 369.4h1M222.3 359.5h1M168.7 375.7h1M169.8 379.3h1M180.3 366.6h1M194.7 364.6h1M210.5 362.9h1M203.2 364.7h1M229.2 365.5h1M182.0 367.1h1M209.2 374.6h1M224.6 362.2h1M176.1 386.6h1M215.7 359.7h1M210.7 370.5h1M170.6 384.8h1M166.8 380.8h1M229.2 373.6h1M181.9 362.5h1M171.8 387.2h1M227.2 361.2h1M206.1 384.2h1M196.2 366.7h1M234.3 365.2h1M216.9 360.4h1M203.4 364.1h1M166.0 384.3h1M217.8 371.4h1M166.1 383.4h1M228.0 359.9h1M178.6 379.9h1M187.3 362.9h1M166.5 382.9h1M209.5 363.0h1M217.0 366.8h1M168.6 382.1h1M165.6 382.4h1M222.6 370.5h1M226.9 368.1h1M168.6 372.4h1M167.5 385.9h1M201.7 378.5h1M168.9 387.2h1M225.4 361.0h1M213.8 366.3h1M168.9 388.0h1M186.0 361.4h1M216.1 359.9h1M196.6 388.7h1M169.7 384.5h1M227.4 367.3h1M211.6 366.5h1M197.8 384.1h1M210.9 362.4h1M207.0 361.4h1M224.5 367.1h1M215.8 383.6h1M217.8 357.5h1M227.5 386.6h1M167.1 379.8h1M210.0 367.7h1M172.0 389.2h1M175.1 374.6h1M177.8 363.5h1M211.4 365.1h1M166.6 383.1h1M194.5 366.6h1M211.6 360.2h1M187.1 357.2h1M217.5 367.0h1M168.3 382.5h1M187.1 366.7h1M201.7 360.0h1M208.8 367.3h1M192.5 364.2h1M189.5 386.1h1M215.0 374.9h1M192.8 363.2h1M197.0 378.5h1M230.2 370.3h1M161.8 377.2h1M213.3 351.8h1M220.0 360.4h1M203.2 363.5h1M165.1 380.0h1M169.5 384.9h1M176.6 391.6h1M216.3 362.2h1M198.1 362.2h1M194.4 384.6h1"/>
<path stroke="#d0281c" stroke-opacity="0.42" stroke-width="0.85" d="M189.3 356.2h1M215.1 361.7h1M233.8 354.8h1M167.7 385.6h1M168.6 386.4h1M166.8 386.0h1M207.4 386.2h1M166.0 386.1h1M166.0 385.6h1M224.0 364.1h1M200.9 366.4h1M169.9 380.2h1M170.1 384.2h1M168.8 383.3h1M216.6 367.9h1M175.8 363.3h1M226.0 369.0h1M216.8 374.5h1M168.0 384.6h1M163.6 382.7h1M206.8 367.8h1M212.7 356.0h1M227.7 368.8h1M166.4 386.5h1M166.1 384.2h1M182.5 360.3h1M215.0 365.7h1M219.3 362.2h1M222.0 367.0h1M172.5 387.9h1M208.7 364.2h1M224.0 365.6h1M169.5 382.8h1M197.5 362.7h1M172.9 366.0h1M169.8 383.3h1M211.6 370.4h1M223.4 363.6h1M226.2 363.2h1M156.7 384.3h1M221.1 370.2h1M213.8 362.3h1M214.2 361.2h1M208.6 372.8h1M166.2 374.0h1M208.5 371.4h1M211.6 379.9h1M169.6 384.4h1M225.6 355.7h1M196.5 366.5h1M169.2 382.4h1M194.6 364.9h1M201.0 361.0h1M183.7 366.4h1M211.1 358.9h1M162.1 384.8h1M184.9 367.7h1M201.4 370.4h1M186.9 367.6h1M212.5 367.3h1M221.6 370.3h1M224.5 362.3h1M162.4 389.8h1M205.4 375.1h1M199.1 382.1h1M167.3 382.5h1M190.0 369.0h1M207.2 367.7h1M193.8 370.0h1M164.3 386.0h1M197.7 366.5h1M175.4 383.7h1M201.7 372.7h1M230.7 366.1h1M225.8 367.4h1M199.2 368.5h1M228.3 368.6h1M210.8 372.1h1M201.6 354.9h1M230.3 362.0h1M204.1 375.6h1M164.1 385.4h1M172.6 386.0h1M199.5 362.2h1M166.9 384.4h1M167.7 381.5h1M170.1 386.6h1M199.8 364.2h1M199.1 365.5h1M232.7 365.4h1M220.3 372.3h1M221.7 367.0h1M205.6 363.3h1M216.4 337.4h1M208.8 364.0h1M212.6 354.3h1M214.7 363.4h1M223.6 362.2h1M161.9 386.3h1M212.2 370.8h1M219.2 365.9h1M219.1 361.6h1M183.5 375.0h1M223.0 371.1h1M197.1 391.7h1M219.7 365.5h1M215.5 363.3h1M203.9 367.4h1M193.9 374.7h1M208.6 359.9h1M185.7 364.2h1M201.2 363.7h1M164.8 381.8h1M212.7 361.1h1M170.3 388.4h1M222.7 361.7h1M181.5 362.8h1M201.7 371.8h1M201.6 380.5h1M203.8 367.7h1M215.7 367.2h1M212.4 360.1h1M212.3 370.7h1M211.0 363.5h1M164.3 381.4h1M182.7 363.3h1M196.4 391.6h1M169.3 381.0h1M186.9 366.3h1M217.3 367.4h1M221.9 371.2h1M231.7 362.8h1M165.9 382.2h1M220.5 391.6h1M180.4 362.8h1M222.3 366.9h1M196.0 364.0h1M221.5 365.6h1M216.6 368.2h1M212.3 363.6h1M214.4 370.9h1M196.6 370.9h1M218.8 362.8h1M197.9 389.4h1M163.9 385.9h1M204.3 376.9h1M233.8 371.0h1M219.9 366.0h1M216.5 359.0h1M174.9 384.5h1M199.8 371.6h1M202.5 353.6h1M214.9 365.8h1M218.2 371.6h1M230.9 369.0h1M210.0 368.7h1M164.6 381.8h1M228.4 363.7h1M164.9 388.0h1M220.1 375.5h1M164.0 386.9h1M200.9 359.8h1M185.6 366.2h1M211.1 355.9h1M170.6 385.8h1M201.0 375.5h1M214.0 365.6h1M164.6 382.7h1M221.8 362.5h1M171.3 376.6h1M232.1 356.2h1M195.8 374.7h1M221.8 362.2h1M166.1 387.2h1M226.2 378.6h1M202.8 366.9h1M227.9 346.5h1M167.3 384.2h1M216.8 359.6h1M206.7 363.9h1M226.9 367.0h1M168.3 388.7h1M207.3 365.8h1M212.3 359.7h1M191.3 360.5h1M173.2 384.9h1M176.6 363.5h1M218.8 366.1h1M217.4 361.7h1M218.8 382.7h1M217.5 376.4h1M228.2 370.5h1M214.2 360.1h1M220.6 367.3h1M166.9 384.7h1M175.5 388.9h1M219.1 363.3h1M220.8 368.3h1M167.3 382.5h1M224.6 366.4h1M160.3 368.7h1M192.6 361.0h1M189.1 365.4h1M166.8 383.5h1M201.2 361.7h1M220.0 363.6h1M215.1 378.2h1M218.8 361.3h1M231.2 383.3h1M209.7 365.0h1M163.9 380.3h1M224.9 360.1h1M212.0 374.8h1M203.5 368.8h1M207.7 364.1h1M163.9 388.6h1M213.3 358.1h1M224.9 375.7h1M208.7 353.7h1M168.6 382.9h1M166.7 382.5h1M216.2 370.7h1M202.7 373.1h1M190.7 363.5h1M228.4 363.9h1M170.0 386.3h1M188.2 364.1h1M217.1 360.1h1M180.4 358.1h1M234.1 374.3h1M192.7 360.3h1M165.5 384.4h1M163.9 385.0h1M196.2 366.1h1M166.9 384.1h1M209.0 360.1h1M170.2 384.5h1M181.5 363.3h1M191.0 362.1h1M162.6 376.5h1M167.9 387.3h1M169.5 380.8h1M212.0 360.7h1M178.4 378.9h1M215.1 366.6h1M197.3 373.8h1M227.3 380.8h1M208.5 363.0h1M183.1 362.0h1M214.9 373.1h1M168.5 387.3h1M162.4 384.2h1M174.8 382.2h1M214.6 365.9h1M208.5 368.9h1M215.2 368.1h1M196.8 376.1h1M198.2 360.9h1M168.0 386.6h1M211.0 362.1h1M226.8 373.0h1M169.0 383.3h1M167.7 380.2h1M178.1 363.7h1M169.7 383.6h1M166.1 382.9h1M162.7 378.8h1M210.5 382.2h1M210.2 366.6h1M211.2 372.6h1M199.7 363.1h1M191.1 388.2h1M225.0 361.4h1M178.8 365.4h1M171.2 362.8h1M165.7 381.8h1M217.8 363.7h1M179.3 365.8h1M167.4 378.7h1M216.9 367.6h1M210.7 372.4h1M196.3 364.6h1M221.6 360.3h1M168.0 385.1h1M213.5 357.6h1M187.6 361.4h1M227.5 364.4h1M166.0 378.6h1M207.9 378.7h1M195.2 364.4h1M227.0 359.7h1M168.4 385.1h1M163.4 381.2h1M232.2 360.0h1M173.2 386.4h1M171.3 382.1h1M182.3 362.0h1M175.1 384.9h1M221.8 361.7h1M213.0 368.5h1M209.3 366.3h1M164.7 387.6h1M210.1 365.4h1M164.9 382.9h1M217.6 373.2h1M221.1 364.2h1M212.9 366.2h1M204.3 362.7h1M210.8 368.4h1M173.1 363.4h1M179.6 361.5h1M196.1 372.9h1M232.0 369.1h1M205.1 379.1h1M204.6 379.2h1M227.2 360.2h1M168.5 385.8h1M212.1 382.1h1M195.6 362.5h1M169.1 383.4h1M178.2 368.9h1M192.6 362.5h1M227.7 364.0h1M191.7 361.9h1M196.5 373.4h1M171.9 383.1h1M228.9 362.8h1M165.3 384.1h1M206.0 361.1h1M170.3 385.5h1M228.8 360.8h1M224.6 354.3h1M168.5 381.2h1M196.4 364.8h1M178.2 390.3h1M201.3 374.7h1M168.6 385.3h1M196.6 378.0h1M209.3 367.0h1M186.7 365.5h1M184.1 370.2h1M205.3 361.9h1M218.2 365.8h1M200.5 358.4h1M176.3 359.4h1M205.3 360.9h1M176.2 364.9h1M169.8 382.9h1M216.5 358.7h1M213.6 363.6h1M188.7 375.8h1M220.3 360.1h1M164.9 388.1h1M217.5 360.5h1M169.8 394.7h1M189.7 362.5h1M163.5 384.7h1M178.1 377.1h1M211.0 366.1h1M214.8 365.2h1M168.4 382.2h1M193.4 367.0h1M214.5 359.9h1M166.2 386.4h1M225.9 364.2h1M164.4 380.9h1M204.0 361.2h1M218.6 360.5h1M216.6 380.1h1M207.8 366.1h1M219.0 357.1h1M183.1 365.1h1M164.2 380.2h1M163.7 385.8h1M191.4 367.7h1M170.9 382.4h1M204.0 381.8h1M219.3 364.1h1M163.5 379.4h1M208.0 363.9h1M190.7 361.2h1M231.3 390.8h1M221.0 376.8h1M193.1 362.3h1M198.4 368.2h1M184.1 361.1h1M200.6 365.5h1M222.9 361.3h1M210.0 356.8h1M209.1 370.6h1M205.5 362.3h1M209.2 368.3h1M205.4 364.4h1M202.3 356.2h1M209.9 359.5h1M217.5 365.7h1M167.1 387.8h1M214.7 357.0h1M180.7 361.8h1M170.7 383.9h1M188.9 362.9h1M216.0 363.5h1M162.3 382.1h1M194.6 363.5h1M219.9 373.6h1M203.6 368.9h1M218.4 376.3h1M228.2 354.0h1M168.8 367.1h1M213.9 365.3h1M169.4 382.3h1M223.0 363.0h1M200.0 367.1h1M203.8 363.2h1M202.4 363.7h1M224.7 366.4h1M169.6 365.6h1M222.0 361.7h1M188.1 363.1h1M167.0 388.8h1M171.0 383.4h1M218.0 366.5h1M199.9 371.8h1M203.3 360.4h1M206.0 376.7h1M194.1 369.4h1M224.4 358.3h1M216.6 374.2h1M228.4 381.5h1M166.5 384.5h1M169.3 382.5h1M164.6 377.1h1M189.7 362.6h1M216.9 383.9h1M213.7 365.6h1M166.5 385.6h1M165.9 381.2h1M211.2 387.7h1M194.8 360.6h1M220.6 366.0h1M191.2 363.1h1M218.4 364.5h1M199.2 359.4h1M202.1 364.9h1M162.2 384.8h1M166.7 384.0h1M171.4 381.0h1M220.3 382.9h1M215.3 353.6h1M173.2 388.1h1M223.9 365.1h1M163.4 384.7h1M216.9 365.2h1M199.4 364.5h1M208.6 369.8h1M202.4 383.0h1M177.9 362.8h1M207.9 366.3h1M197.9 366.8h1M195.3 364.7h1M204.4 361.7h1M225.9 368.0h1M232.5 363.6h1M189.9 373.1h1M173.1 381.6h1M210.3 365.7h1M215.2 367.4h1M218.6 374.5h1M212.7 365.9h1M213.4 362.7h1M190.7 359.2h1M167.8 382.0h1M182.0 361.0h1M215.6 360.8h1M194.7 389.3h1M185.1 362.6h1M228.0 370.3h1M168.5 383.8h1M227.9 362.4h1M180.0 361.4h1M200.6 368.0h1M207.6 363.6h1M171.3 384.5h1M196.2 370.6h1M170.6 364.7h1M206.3 366.3h1M226.2 364.3h1M171.5 373.0h1M170.9 385.6h1M229.6 366.6h1M165.5 385.4h1M211.2 359.2h1M220.5 375.4h1M192.1 391.1h1M228.5 372.9h1M212.0 368.3h1M218.9 361.6h1M204.4 377.5h1M218.7 365.3h1M202.5 363.8h1M165.1 385.2h1M175.0 384.1h1M164.1 379.5h1M217.2 361.4h1M198.5 361.6h1M216.4 363.8h1M215.0 359.7h1M202.2 370.1h1M198.4 358.1h1M211.1 373.2h1M212.5 361.7h1M170.1 384.4h1M233.0 367.9h1M221.8 382.0h1M177.8 367.4h1M171.8 386.9h1M163.1 383.6h1M170.9 364.8h1M188.1 361.5h1M225.4 359.8h1M205.6 363.9h1M163.1 382.9h1M226.0 381.3h1M228.0 367.4h1M163.5 383.0h1M228.2 363.6h1M199.8 379.2h1M212.3 364.5h1M227.7 363.0h1M217.9 392.5h1M201.0 360.3h1M164.9 387.0h1M210.4 361.9h1M226.4 378.1h1M222.4 368.5h1M201.3 362.3h1M210.9 370.2h1M184.3 363.2h1M191.2 375.9h1M163.7 384.0h1M212.0 364.6h1M203.3 366.5h1M191.4 362.6h1M198.7 362.0h1M201.1 380.7h1M227.0 372.6h1M169.0 381.8h1M204.2 367.2h1M203.7 371.7h1M218.0 363.2h1M169.8 383.8h1M165.4 371.7h1M200.7 367.1h1M189.1 365.8h1M200.0 362.4h1M203.9 364.4h1M195.6 390.3h1M160.2 382.3h1M164.7 382.5h1M217.9 363.2h1M225.6 363.9h1M178.1 383.1h1M168.0 386.0h1M227.7 359.9h1M199.8 370.1h1M172.3 379.3h1M189.2 357.9h1M196.3 385.4h1M166.9 377.3h1M205.5 386.1h1M207.2 367.3h1M171.0 380.6h1M204.6 374.2h1M186.1 365.8h1M199.5 358.6h1M220.4 366.4h1M165.2 388.3h1M233.8 374.0h1M196.3 361.4h1M222.0 374.6h1M165.5 376.8h1M207.8 368.6h1M215.5 358.8h1M178.2 364.3h1M165.3 379.6h1M172.4 383.3h1M176.5 364.7h1M215.3 368.3h1M165.6 389.2h1M195.1 381.8h1M163.2 384.9h1M189.4 389.2h1M200.8 372.1h1M203.9 370.9h1M221.1 378.3h1M214.9 357.1h1M220.4 355.9h1M180.8 363.0h1M189.6 364.1h1M229.7 359.2h1M209.2 358.6h1M202.2 362.1h1M192.8 367.1h1M164.6 386.3h1M214.6 364.6h1M207.6 379.2h1M167.0 382.6h1M170.9 382.5h1M165.4 376.9h1M190.9 359.8h1M168.6 389.8h1M224.0 362.1h1M164.7 385.1h1M166.3 382.5h1M212.6 358.2h1M223.8 371.1h1M210.9 364.1h1M158.8 383.5h1M217.3 358.0h1M215.7 371.9h1M203.2 362.2h1M174.4 366.1h1M178.9 388.4h1M160.8 383.2h1M220.0 367.0h1M164.4 384.9h1M169.2 388.5h1M164.9 381.1h1M220.2 363.3h1M203.0 359.4h1M212.5 356.8h1M223.4 376.0h1M165.5 386.7h1M165.6 384.5h1M165.6 387.0h1M189.5 362.8h1M229.3 372.2h1M198.5 367.4h1M212.4 358.0h1M161.8 382.5h1M177.8 367.5h1M172.9 362.1h1M165.3 393.3h1M210.7 370.8h1M198.4 355.5h1M221.0 363.3h1M169.3 385.7h1M172.2 387.6h1M217.3 366.0h1M208.8 362.6h1M179.9 359.5h1M172.7 383.9h1M220.7 365.1h1M211.5 369.0h1M166.8 386.2h1M197.7 357.6h1M198.1 349.0h1M170.6 379.6h1M195.6 380.8h1M192.0 364.4h1M169.2 380.9h1M217.5 369.4h1M167.1 388.4h1M193.3 363.1h1M213.1 369.5h1M218.0 366.8h1M218.1 372.0h1M210.4 362.9h1M205.6 362.9h1M169.0 383.0h1M221.1 366.8h1M213.5 359.8h1M167.9 387.6h1M210.9 355.0h1M211.9 365.5h1M177.3 364.2h1M225.8 357.3h1M202.1 366.1h1M225.5 371.0h1M167.9 383.9h1M164.7 387.7h1M165.5 379.0h1M162.6 386.5h1M174.6 366.2h1M171.6 381.0h1M215.0 373.7h1M229.0 359.4h1M163.8 385.3h1M173.8 381.2h1M178.4 363.8h1M222.4 364.3h1M212.4 364.0h1M210.5 365.1h1M215.2 372.6h1M161.6 378.4h1M229.6 367.1h1M208.1 361.6h1M224.9 369.4h1M162.8 386.7h1M206.3 369.9h1M193.3 364.0h1M214.5 363.6h1M231.6 369.7h1M175.5 388.4h1M213.2 372.4h1M218.8 363.6h1M206.5 365.6h1M208.2 369.4h1M162.5 380.5h1M215.3 364.4h1M172.9 363.5h1M171.2 387.3h1M213.7 362.2h1M172.8 366.8h1M196.5 381.7h1M164.2 384.6h1M204.3 354.8h1M171.9 372.3h1M209.9 368.4h1M165.8 386.3h1M219.5 365.1h1M188.6 364.3h1M214.9 359.3h1M205.6 365.1h1M185.4 365.9h1M165.7 384.2h1M170.3 384.3h1M230.7 371.9h1"/>
<ellipse cx="167" cy="384.2" rx="5.2" ry="4.6" fill="#cc1d14" fill-opacity="0.85"/>
<path d="M193.1 333.6V397.8M156.1 369.4H238.2" stroke="#8c8c8c" stroke-width="0.6" fill="none"/>
<rect x="181.8" y="361.5" width="2.4" height="2" fill="none" stroke="#888" stroke-width="0.6"/>
<rect x="199.8" y="361.5" width="2.4" height="2" fill="none" stroke="#888" stroke-width="0.6"/>
<rect x="181.8" y="378" width="2.4" height="2" fill="none" stroke="#888" stroke-width="0.6"/>
<rect x="199.8" y="378" width="2.4" height="2" fill="none" stroke="#888" stroke-width="0.6"/>
<rect x="156.1" y="333.6" width="82.1" height="64.2" fill="none" stroke="#231f20" stroke-width="1"/>
<path d="M156.1 338.7h-3M156.1 353.5h-3M156.1 368.3h-3M156.1 386.3h-3M156.1 343.14h-1.8M156.1 345.8h-1.8M156.1 347.58h-1.8M156.1 349.06h-1.8M156.1 350.24h-1.8M156.1 351.28h-1.8M156.1 352.17h-1.8M156.1 352.91h-1.8M156.1 357.94h-1.8M156.1 360.6h-1.8M156.1 362.38h-1.8M156.1 363.86h-1.8M156.1 365.04h-1.8M156.1 366.08h-1.8M156.1 366.97h-1.8M156.1 367.71h-1.8M156.1 373.7h-1.8M156.1 376.94h-1.8M156.1 379.1h-1.8M156.1 380.9h-1.8M156.1 382.34h-1.8M156.1 383.6h-1.8M156.1 384.68h-1.8M156.1 385.58h-1.8M156.1 390.8h-1.5M156.1 393.3h-1.5M171.9 397.8v2.6M190.9 397.8v2.6M209.9 397.8v2.6M227.5 397.8v2.6M177.6 397.8v1.5M181.02 397.8v1.5M183.3 397.8v1.5M185.2 397.8v1.5M186.72 397.8v1.5M188.05 397.8v1.5M189.19 397.8v1.5M190.14 397.8v1.5M196.6 397.8v1.5M200.02 397.8v1.5M202.3 397.8v1.5M204.2 397.8v1.5M205.72 397.8v1.5M207.05 397.8v1.5M208.19 397.8v1.5M209.14 397.8v1.5M215.18 397.8v1.5M218.35 397.8v1.5M220.46 397.8v1.5M222.22 397.8v1.5M223.63 397.8v1.5M224.86 397.8v1.5M225.92 397.8v1.5M226.8 397.8v1.5M166.2 397.8v1.5M162.4 397.8v1.5M158.6 397.8v1.5M155.75 397.8v1.5" stroke="#231f20" stroke-width="0.8" fill="none"/>
<text x="138.6" y="342.3" font-size="9" stroke-width="0.14"><tspan textLength="8.8" lengthAdjust="spacingAndGlyphs">10</tspan><tspan font-size="6" dy="-3.3" dx="0.2">5</tspan></text>
<text x="138.6" y="357.1" font-size="9" stroke-width="0.14"><tspan textLength="8.8" lengthAdjust="spacingAndGlyphs">10</tspan><tspan font-size="6" dy="-3.3" dx="0.2">4</tspan></text>
<text x="138.6" y="371.9" font-size="9" stroke-width="0.14"><tspan textLength="8.8" lengthAdjust="spacingAndGlyphs">10</tspan><tspan font-size="6" dy="-3.3" dx="0.2">3</tspan></text>
<text x="138.6" y="389.9" font-size="9" stroke-width="0.14"><tspan textLength="8.8" lengthAdjust="spacingAndGlyphs">10</tspan><tspan font-size="6" dy="-3.3" dx="0.2">2</tspan></text>
<text x="167.8" y="411.7" font-size="9" stroke-width="0.14"><tspan textLength="8.8" lengthAdjust="spacingAndGlyphs">10</tspan><tspan font-size="6" dy="-3.3" dx="0.2">2</tspan></text>
<text x="186.8" y="411.7" font-size="9" stroke-width="0.14"><tspan textLength="8.8" lengthAdjust="spacingAndGlyphs">10</tspan><tspan font-size="6" dy="-3.3" dx="0.2">3</tspan></text>
<text x="205.8" y="411.7" font-size="9" stroke-width="0.14"><tspan textLength="8.8" lengthAdjust="spacingAndGlyphs">10</tspan><tspan font-size="6" dy="-3.3" dx="0.2">4</tspan></text>
<text x="223.4" y="411.7" font-size="9" stroke-width="0.14"><tspan textLength="8.8" lengthAdjust="spacingAndGlyphs">10</tspan><tspan font-size="6" dy="-3.3" dx="0.2">5</tspan></text>
<text x="157.5" y="340.7" font-size="8.4" stroke-width="0.12" textLength="26" lengthAdjust="spacingAndGlyphs">MIG–<tspan font-style="italic">IK</tspan></text>
<text x="157.5" y="349.2" font-size="8.4" stroke-width="0.12" textLength="20" lengthAdjust="spacingAndGlyphs">+DOX</text>
<text x="200.5" y="340.7" font-size="8.4" stroke-width="0.12" textLength="36.5" lengthAdjust="spacingAndGlyphs">44.4±6.9%</text>
<text x="201.3" y="398.6" font-size="8.4" stroke-width="0.12" textLength="35.7" lengthAdjust="spacingAndGlyphs">15.1±2.9%</text>
<path stroke="#d0281c" stroke-opacity="0.42" stroke-width="0.85" d="M480.0 508.4h1M484.1 515.3h1M450.4 519.8h1M486.3 490.8h1M463.5 510.8h1M453.9 519.3h1M472.9 514.1h1M451.0 506.7h1M452.9 520.3h1M450.0 511.9h1M444.9 518.0h1M447.1 514.9h1M470.3 527.4h1M464.2 511.0h1M467.9 517.5h1M479.5 513.3h1M454.0 520.4h1M456.1 517.5h1M451.0 514.5h1M455.9 513.9h1M451.8 515.5h1M470.0 515.2h1M459.5 516.8h1M476.9 523.6h1M460.4 512.4h1M446.6 513.6h1M452.5 512.3h1M490.3 522.8h1M449.8 515.3h1M453.3 507.1h1M475.4 514.9h1M490.9 492.0h1M463.1 520.6h1M455.5 514.3h1M481.9 492.4h1M450.1 511.3h1M450.4 517.3h1M456.4 516.2h1M445.1 522.3h1M448.6 518.9h1M455.0 520.1h1M498.4 489.8h1M453.4 520.5h1M446.2 513.8h1M460.7 515.3h1M453.5 518.2h1M451.0 519.8h1M455.6 517.7h1M452.9 516.7h1M454.0 521.6h1M445.7 521.5h1M454.4 517.9h1M453.3 510.4h1M453.0 524.5h1M457.8 521.6h1M461.9 513.1h1M460.8 520.1h1M492.6 517.6h1M452.9 520.1h1M453.9 516.3h1M453.3 518.5h1M456.1 513.8h1M449.5 517.0h1M478.6 516.0h1M456.4 511.1h1M451.3 517.7h1M453.6 516.7h1M466.9 512.5h1M456.3 512.3h1M454.8 514.0h1M482.8 489.3h1M449.0 514.7h1M485.5 517.8h1M483.4 490.3h1M450.0 516.0h1M454.1 517.3h1M454.1 520.8h1M492.9 487.7h1M452.8 511.2h1M450.4 514.7h1M448.3 512.7h1M451.9 516.1h1M478.1 517.4h1M488.3 496.5h1M453.3 515.6h1M451.7 522.9h1M449.3 516.6h1M454.2 518.0h1M476.1 511.5h1M459.7 517.1h1M472.4 510.8h1M453.2 519.7h1M448.2 520.9h1M459.7 512.3h1M459.6 527.2h1M453.6 512.3h1M449.0 524.2h1M453.0 516.3h1M453.1 518.2h1M456.6 517.0h1M450.8 517.8h1M452.5 516.3h1M490.8 488.6h1M454.8 523.4h1M455.3 521.8h1M447.1 519.4h1M452.0 512.7h1M456.6 514.2h1M451.3 519.7h1M460.5 519.8h1M449.2 511.8h1M444.9 518.3h1M495.3 519.2h1M451.9 517.3h1M451.9 512.7h1M473.9 520.0h1M452.7 518.6h1M449.6 521.8h1M452.6 511.4h1M455.0 524.9h1M457.2 514.6h1M457.2 518.5h1M453.8 517.7h1M451.1 515.7h1M461.3 515.4h1M464.8 520.6h1M458.6 515.7h1M463.2 519.5h1M458.8 514.6h1M451.5 512.2h1M453.5 519.6h1M452.0 525.3h1M444.9 514.4h1M451.3 513.9h1M457.4 519.8h1M494.0 518.5h1M447.9 521.6h1M451.3 509.5h1M454.0 509.2h1M450.7 515.7h1M460.2 517.5h1M457.5 516.5h1M473.6 523.6h1M450.5 515.1h1M449.7 514.6h1M452.8 520.7h1M450.5 522.6h1M452.5 519.0h1M463.6 515.9h1M446.5 512.4h1M449.2 520.3h1M497.2 489.7h1M451.9 518.2h1M498.9 489.7h1M448.7 523.1h1M451.3 518.2h1M485.8 490.6h1M482.3 513.7h1M447.5 522.0h1M451.8 520.6h1M467.3 521.2h1M451.6 511.5h1M453.2 513.0h1M459.7 519.0h1M499.0 515.1h1M465.8 513.5h1M456.0 521.9h1M454.6 515.6h1M452.2 520.4h1M465.4 521.8h1M452.1 512.3h1M460.2 522.0h1M492.8 487.8h1M460.6 519.6h1M457.8 521.6h1M460.4 510.1h1M453.4 515.1h1M451.9 516.2h1M456.8 516.2h1M469.3 519.1h1M483.3 490.5h1M455.1 514.3h1M461.1 517.4h1M446.1 518.0h1M456.8 511.5h1M454.4 517.3h1M445.8 523.0h1M451.2 517.3h1M451.4 516.0h1M447.1 523.3h1M452.3 520.1h1M449.0 515.1h1M458.6 519.6h1M454.0 512.0h1M452.4 512.4h1M496.3 493.2h1M476.3 509.5h1M461.2 517.0h1M454.1 511.6h1M453.5 516.9h1M454.5 524.5h1M451.5 514.6h1M473.6 516.9h1M452.0 516.3h1M451.0 514.5h1M477.4 516.5h1M449.3 517.7h1M462.5 513.1h1M448.8 519.1h1M453.9 515.5h1M498.6 508.5h1M473.3 520.4h1M453.4 513.7h1M492.8 493.1h1M455.5 515.4h1M462.9 514.1h1M449.6 516.4h1M455.6 522.0h1M483.3 517.7h1M451.6 522.6h1M458.3 517.1h1M455.8 512.5h1M447.5 514.2h1M456.4 510.3h1M478.5 512.3h1M463.7 522.7h1M447.7 513.3h1M470.0 508.9h1M449.9 522.2h1M454.8 514.8h1M451.0 524.7h1M492.9 489.8h1M454.5 515.4h1M453.5 515.8h1M451.7 520.8h1M449.9 518.2h1M449.6 516.1h1M463.9 514.3h1M460.3 521.2h1M458.1 520.5h1M453.5 513.6h1M448.7 516.1h1M449.8 516.7h1M457.4 518.2h1M458.7 519.7h1M457.3 520.8h1M453.9 519.2h1M466.2 511.4h1M455.3 519.4h1M449.9 514.6h1M451.6 518.8h1M451.4 526.2h1M457.4 518.8h1M467.4 519.9h1M469.7 511.8h1M446.4 522.0h1M457.1 511.9h1M453.1 515.5h1M452.9 514.8h1M502.3 523.3h1M487.7 489.1h1M455.6 511.9h1M470.7 509.5h1M466.4 512.8h1M450.1 517.0h1M452.3 517.0h1M477.2 514.7h1M455.8 517.2h1M464.2 512.0h1M460.8 518.0h1M448.0 516.7h1M448.7 514.4h1M507.5 490.9h1M456.8 513.1h1M449.0 520.7h1M465.1 512.1h1M459.5 510.3h1M457.9 520.1h1M451.0 515.1h1M451.9 522.3h1M450.6 511.4h1M444.7 519.5h1M494.0 489.9h1M454.0 513.8h1M460.0 513.0h1M452.5 513.3h1M502.4 494.6h1M465.4 518.8h1M476.9 515.5h1M451.6 516.6h1M481.5 521.8h1M458.5 514.5h1M457.7 519.0h1M461.0 516.1h1M455.3 515.0h1M445.3 517.1h1M449.1 517.0h1M459.9 514.3h1M448.7 512.4h1M452.0 513.8h1M451.0 516.0h1M476.1 510.9h1M450.2 521.2h1M452.3 518.5h1M450.9 510.7h1M476.8 521.3h1M451.1 516.9h1M450.5 521.2h1M452.8 518.8h1M450.4 515.8h1M454.1 518.6h1M491.8 486.2h1M450.9 514.1h1M456.6 515.3h1M452.4 514.9h1M454.3 515.1h1M450.7 517.2h1M448.0 524.0h1M448.7 518.1h1M453.8 518.2h1M455.9 512.5h1M464.4 513.7h1M492.1 482.3h1M449.6 517.3h1M450.7 520.5h1M487.2 513.3h1M452.0 519.5h1M451.1 522.5h1M458.0 512.9h1M449.6 515.4h1M471.2 506.6h1M469.4 519.4h1M454.1 518.6h1M457.2 511.4h1M457.7 517.6h1M453.1 525.0h1M453.1 512.6h1M466.8 521.2h1M465.5 518.1h1M445.3 514.7h1M454.8 512.6h1M452.6 516.9h1"/>
<path stroke="#d0281c" stroke-opacity="0.42" stroke-width="0.85" d="M467.0 515.1h1M444.9 520.5h1M471.0 511.2h1M453.5 517.5h1M458.5 515.2h1M450.9 516.3h1M465.3 513.5h1M461.2 520.5h1M448.4 513.7h1M451.8 509.7h1M456.9 513.6h1M448.2 516.7h1M451.2 509.8h1M456.0 521.5h1M463.8 520.9h1M497.7 523.5h1M460.1 512.4h1M445.1 520.9h1M455.3 517.6h1M452.9 515.4h1M503.3 492.4h1M445.8 516.2h1M449.1 521.1h1M449.4 518.3h1M449.7 512.0h1M453.7 520.1h1M457.8 517.1h1M451.5 520.7h1M450.6 514.4h1M454.5 516.2h1M461.2 525.3h1M466.3 517.9h1M450.2 522.0h1M453.0 517.9h1M446.9 509.9h1M449.1 516.2h1M468.8 519.4h1M459.4 512.7h1M449.6 519.9h1M469.6 523.0h1M448.6 515.4h1M455.4 521.1h1M453.7 516.7h1M452.5 523.0h1M449.1 519.2h1M492.6 494.4h1M464.5 511.8h1M453.7 516.3h1M451.2 523.0h1M502.8 492.6h1M479.0 509.3h1M466.0 512.5h1M456.0 516.8h1M477.1 525.9h1M449.9 517.8h1M449.8 516.8h1M467.5 517.7h1M485.7 485.5h1M457.7 518.4h1M452.9 522.5h1M452.0 516.7h1M450.3 504.0h1M484.2 486.7h1M442.9 509.3h1M455.7 521.8h1M450.9 526.6h1M450.6 525.1h1M488.2 523.4h1M468.1 513.4h1M465.4 516.7h1M450.5 512.0h1M488.0 489.2h1M444.9 517.9h1M460.9 512.1h1M473.7 516.8h1M447.0 513.8h1M475.8 521.1h1M465.9 522.5h1M450.8 519.2h1M449.1 507.6h1M496.5 515.8h1M456.0 523.9h1M453.6 520.0h1M452.4 510.4h1M447.2 511.7h1M454.5 518.0h1M448.8 517.8h1M474.7 517.4h1M452.2 514.5h1M472.9 523.3h1M455.7 513.0h1M456.4 516.0h1M451.9 522.4h1M456.3 523.2h1M450.5 516.5h1M453.0 518.8h1M460.4 517.1h1M448.9 511.1h1M454.6 522.4h1M467.9 514.5h1M450.6 517.2h1M462.7 516.7h1M475.8 518.2h1M461.6 513.6h1M486.9 491.8h1M460.8 518.9h1M456.5 517.9h1M448.9 518.7h1M487.7 523.5h1M450.8 517.8h1M450.1 520.3h1M457.8 517.1h1M449.6 517.9h1M457.9 517.6h1M455.6 514.4h1M458.6 518.7h1M474.4 524.2h1M501.4 486.3h1M456.2 521.3h1M448.5 514.3h1M451.7 522.3h1M461.3 517.7h1M452.0 518.9h1M478.6 510.0h1M454.1 511.0h1M447.9 517.5h1M451.7 511.9h1M451.2 515.3h1M453.0 518.4h1M452.5 517.2h1M460.0 515.9h1M460.3 510.7h1M448.4 517.1h1M459.2 520.1h1M453.0 516.5h1M449.5 514.1h1M502.2 524.1h1M453.7 520.5h1M507.2 522.2h1M450.2 521.3h1M451.3 517.5h1M458.2 517.1h1M461.1 518.7h1M446.9 512.6h1M449.0 518.4h1M450.4 522.6h1M468.0 519.0h1M463.9 513.5h1M456.0 519.6h1M461.9 507.7h1M461.5 520.2h1M454.7 517.0h1M450.4 521.7h1M463.1 518.9h1M459.1 517.8h1M483.9 522.3h1M472.4 513.1h1M459.6 517.1h1M448.1 515.1h1M443.3 516.8h1M479.6 488.4h1M445.8 512.7h1M449.7 522.6h1M452.3 518.3h1M449.5 510.8h1M454.2 511.1h1M480.7 523.4h1M449.4 511.7h1M460.9 518.1h1M491.1 489.2h1M453.4 516.8h1M455.5 513.9h1M454.2 515.4h1M480.4 521.6h1M455.8 516.3h1M454.6 514.0h1M451.5 516.6h1M500.2 493.5h1M459.6 518.3h1M456.9 516.4h1M445.1 518.9h1M450.9 513.3h1M468.7 518.6h1M458.9 513.8h1M455.5 521.1h1M474.0 513.4h1M444.0 517.9h1M445.5 514.9h1M473.5 519.3h1M455.3 512.7h1M449.8 515.0h1M452.2 524.0h1M460.3 520.3h1M450.9 520.5h1M449.2 511.4h1M449.7 517.3h1M453.6 517.5h1M478.1 511.4h1M448.5 513.3h1M458.6 513.6h1M463.9 520.6h1M455.5 524.9h1M450.8 523.3h1M457.0 514.0h1M450.1 522.2h1M449.6 513.8h1M453.2 513.8h1M471.4 512.1h1M489.7 486.4h1M454.7 514.8h1M465.6 521.0h1M450.3 512.1h1M451.8 517.8h1M454.9 508.5h1M453.0 519.3h1M452.8 513.4h1M453.6 517.7h1M448.1 525.1h1M450.7 513.8h1M459.8 514.1h1M454.1 516.1h1M448.7 522.6h1M445.1 516.9h1M463.2 518.0h1M450.8 517.3h1M458.3 519.1h1M447.4 521.1h1M450.9 514.5h1M466.5 523.6h1M452.5 515.5h1M467.3 512.9h1M459.6 522.7h1M485.3 491.0h1M449.3 512.3h1M447.2 516.7h1M453.3 514.1h1M446.3 511.1h1M462.9 519.3h1M448.1 517.1h1M451.6 523.5h1M464.1 520.6h1M455.0 522.0h1M452.6 523.2h1M451.6 519.7h1M450.0 515.2h1M442.8 516.4h1M455.1 511.4h1M455.6 516.8h1M460.3 510.9h1M452.7 511.7h1M464.6 522.1h1M453.4 524.1h1M453.7 524.1h1M450.0 523.0h1M457.0 515.9h1M474.9 521.2h1M446.6 515.4h1M451.9 519.9h1M476.5 513.1h1M455.6 522.7h1M470.1 495.7h1M451.8 520.9h1M457.1 515.1h1M451.5 516.1h1M451.6 518.4h1M482.3 523.6h1M443.5 518.2h1M461.1 514.9h1M454.9 516.4h1M448.4 513.5h1M448.8 513.6h1M456.2 513.3h1M452.1 515.2h1M477.1 513.4h1M454.6 517.8h1M477.4 516.4h1M451.7 516.3h1M451.8 512.7h1M447.8 512.5h1M465.2 519.7h1M474.9 518.7h1M451.2 515.5h1M482.5 490.4h1M449.0 520.4h1M450.0 520.8h1M452.7 516.2h1M455.1 512.3h1M449.2 515.9h1M451.1 513.1h1M458.6 506.9h1M451.0 516.6h1M457.1 521.3h1M469.1 505.3h1M452.6 512.5h1M449.4 514.0h1M452.0 517.6h1M448.4 512.6h1M449.8 522.0h1M470.8 518.1h1M446.8 511.0h1M456.7 516.7h1M453.0 518.2h1M458.3 518.1h1M455.4 518.8h1M450.7 523.6h1M450.8 512.8h1M450.6 514.9h1M463.5 524.0h1M480.1 521.1h1M455.7 518.6h1M449.8 515.4h1M454.4 521.0h1M451.9 515.7h1M473.8 518.2h1M449.6 511.0h1M470.7 518.3h1M463.0 522.3h1M463.9 519.5h1M452.0 520.1h1M460.4 519.9h1M454.4 515.4h1M454.3 517.3h1M455.1 521.6h1M451.7 515.0h1M446.7 519.3h1M451.6 516.6h1M452.3 517.3h1M452.1 518.2h1M458.6 523.2h1M454.7 515.1h1M497.8 511.2h1M458.5 518.7h1M455.6 513.2h1M448.7 516.0h1M447.1 519.0h1M450.0 521.3h1M451.9 514.6h1M447.2 513.7h1M451.7 514.7h1M473.2 513.6h1M451.9 522.7h1M452.6 512.2h1"/>
<path stroke="#d0281c" stroke-opacity="0.42" stroke-width="0.85" d="M447.9 518.8h1M452.7 523.2h1M452.5 517.7h1M501.6 486.5h1M450.6 516.1h1M453.8 517.9h1M448.3 514.9h1M452.9 513.2h1M445.9 521.4h1M457.9 513.8h1M465.1 520.2h1M459.2 511.5h1M464.5 519.5h1M461.0 513.4h1M467.1 520.1h1M450.3 522.2h1M451.1 521.7h1M455.2 514.1h1M489.3 471.6h1M451.1 517.1h1M447.8 516.5h1M449.4 518.2h1M452.5 520.1h1M486.3 517.5h1M475.6 516.9h1M451.5 523.4h1M464.5 515.3h1M475.5 510.3h1M450.2 519.0h1M449.4 518.5h1M492.8 523.2h1M464.4 510.9h1M458.0 511.3h1M496.7 489.6h1M453.8 514.5h1M450.6 511.9h1M452.5 519.5h1M457.3 515.8h1M496.2 489.8h1M463.5 518.4h1M450.2 521.0h1M462.1 520.9h1M454.8 519.3h1M455.8 511.7h1M466.3 517.8h1M451.4 511.0h1M451.5 510.7h1M446.6 514.0h1M462.0 511.6h1M447.5 513.7h1M462.1 518.5h1M454.1 517.4h1M473.2 503.0h1M460.5 521.1h1M451.1 518.5h1M452.0 515.3h1M455.4 519.8h1M464.6 512.7h1M491.8 491.1h1M452.3 521.4h1M444.3 515.3h1M455.2 508.9h1M446.0 511.2h1M464.1 510.5h1M454.4 512.9h1M455.8 517.2h1M451.3 519.1h1M485.4 516.7h1M476.4 522.7h1M447.2 521.4h1M450.9 520.8h1M444.1 522.4h1M451.0 513.5h1M449.1 515.6h1M445.7 516.0h1M455.7 520.8h1M452.3 515.5h1M456.7 521.4h1M467.7 517.6h1M462.0 514.1h1M465.3 514.7h1M450.1 520.0h1M504.8 482.5h1M451.2 516.9h1M448.3 523.0h1M471.9 510.8h1M452.9 517.4h1M454.9 514.0h1M448.5 515.1h1M445.0 519.1h1M454.0 519.5h1M499.8 520.5h1M451.7 519.7h1M483.6 503.3h1M452.8 518.5h1M452.5 515.2h1M474.3 515.0h1M485.8 489.5h1M459.0 517.2h1M459.2 516.7h1M451.3 513.4h1M460.1 513.3h1M462.6 521.6h1M450.1 520.2h1M446.3 515.0h1M452.5 515.9h1M453.1 518.7h1M465.8 515.0h1M455.6 519.3h1M456.8 513.0h1M490.0 487.9h1M460.7 518.9h1M454.2 514.4h1M453.0 514.7h1M456.4 515.6h1M480.2 516.5h1M456.4 518.6h1M451.3 516.7h1M458.7 514.7h1M449.4 523.7h1M449.9 516.4h1M459.4 516.8h1M456.6 521.8h1M489.2 518.1h1M450.3 521.3h1M451.6 517.2h1M483.9 514.4h1M453.7 516.9h1M451.9 511.7h1M449.5 519.7h1M450.8 518.2h1M469.5 511.6h1M459.7 508.4h1M457.0 517.3h1M450.9 515.3h1M470.9 517.0h1M455.7 515.1h1M449.4 521.6h1M454.3 518.6h1M451.4 517.2h1M452.1 518.8h1M452.7 518.9h1M488.3 487.7h1M446.4 520.8h1M453.4 518.4h1M453.6 517.0h1M462.4 518.0h1M453.7 515.4h1M449.2 516.7h1M459.6 515.7h1M453.4 514.6h1M453.2 521.1h1M470.0 523.3h1M450.6 511.4h1M451.0 512.8h1M446.5 520.3h1M458.5 513.5h1M457.7 515.5h1M471.3 519.2h1M458.7 515.0h1M448.9 515.0h1M454.2 512.8h1M457.3 518.8h1M453.8 513.8h1M456.3 525.2h1M446.8 520.5h1M467.1 519.1h1M480.4 518.6h1M449.7 519.4h1M450.2 518.4h1M469.1 516.4h1M473.8 522.3h1M445.9 512.9h1M481.2 521.3h1M449.6 513.8h1M462.4 510.6h1M452.6 518.7h1M455.9 516.9h1M495.1 520.5h1M460.4 512.0h1M465.8 520.0h1M453.8 520.0h1M455.3 518.6h1M452.0 517.5h1M458.8 515.3h1M464.3 521.9h1M452.6 517.2h1M448.4 521.5h1M451.8 518.0h1M458.3 519.4h1M450.2 520.6h1M453.5 518.6h1M454.7 518.5h1M448.2 511.0h1M452.7 522.1h1M450.2 525.7h1M447.1 521.2h1M459.1 504.5h1M449.8 513.4h1M459.7 511.8h1M472.3 510.2h1M455.8 513.3h1M456.2 519.4h1M470.7 511.1h1M451.8 519.2h1M464.3 514.9h1M450.6 514.1h1M448.2 520.8h1M449.2 519.8h1M453.1 518.6h1M460.7 513.8h1M454.3 516.3h1M448.9 519.1h1M448.6 516.4h1M482.2 518.1h1M449.3 513.7h1M461.8 513.9h1M455.9 515.4h1M452.0 520.7h1M454.0 512.2h1M453.2 515.9h1M454.2 519.1h1M450.9 513.5h1M450.0 515.9h1M451.1 522.5h1M457.3 515.0h1M454.9 515.2h1M452.3 515.7h1M453.3 511.0h1M484.2 483.7h1M471.2 513.8h1M461.6 510.4h1M457.3 511.5h1M449.3 512.0h1M498.8 489.1h1M457.9 519.5h1M486.3 490.1h1M450.0 516.8h1M468.3 521.4h1M451.1 512.9h1M445.0 524.6h1M447.5 514.4h1M449.0 518.2h1M453.5 521.1h1M454.1 518.6h1M457.0 517.4h1M457.0 519.1h1M454.9 513.0h1M478.3 513.1h1M469.0 522.4h1M449.5 513.1h1M449.5 514.3h1M448.9 517.5h1M480.3 509.2h1M448.8 515.1h1M486.8 517.2h1M446.7 515.7h1M476.3 520.9h1M449.4 517.4h1M447.0 516.4h1M466.0 519.6h1M460.0 511.6h1M461.2 513.7h1M455.8 518.6h1M450.5 516.9h1M451.6 519.3h1M458.0 519.4h1M451.5 504.2h1M450.8 522.2h1M468.8 520.1h1M492.2 516.2h1M456.4 517.2h1M455.6 518.6h1M470.3 521.4h1M459.7 515.3h1M452.9 517.4h1M454.8 524.4h1M457.4 522.5h1M454.7 519.5h1M453.1 516.2h1M452.9 509.6h1M456.5 516.4h1M463.1 514.9h1M455.3 519.0h1M455.1 517.9h1M459.4 509.7h1M463.6 517.1h1M487.3 490.4h1M474.2 514.9h1M454.4 518.5h1M454.2 514.2h1M455.7 517.6h1M446.7 518.3h1M450.9 515.2h1M457.1 514.1h1M451.3 516.0h1M448.8 519.1h1M446.5 512.7h1M462.5 514.4h1M447.6 518.8h1M457.6 522.5h1M453.8 520.2h1M455.2 521.7h1M465.0 514.2h1M457.1 508.7h1M450.7 513.4h1M459.2 514.0h1M454.2 520.2h1M447.0 516.1h1M490.9 487.1h1M450.7 519.7h1M463.8 515.7h1M453.0 517.3h1M455.1 518.8h1M452.2 518.4h1M449.3 517.3h1M457.0 516.1h1M454.8 519.0h1M458.9 515.7h1M481.6 526.0h1M453.2 513.7h1M474.3 520.0h1M463.3 517.6h1M467.2 515.2h1M462.0 519.3h1M453.4 521.5h1M449.6 518.3h1M455.2 512.7h1M452.0 515.9h1M468.8 510.3h1M465.4 518.3h1M457.3 516.2h1M447.9 513.8h1M452.4 517.9h1M484.7 519.3h1M453.4 518.1h1M503.0 498.0h1M456.2 519.7h1M503.2 489.0h1M476.5 513.4h1M471.7 513.6h1M446.2 517.2h1"/>
<path stroke="#d0281c" stroke-opacity="0.42" stroke-width="0.85" d="M459.5 520.1h1M455.4 509.4h1M451.9 519.2h1M450.1 518.8h1M453.9 516.3h1M447.2 515.0h1M455.2 519.5h1M453.5 516.8h1M478.1 523.1h1M454.7 510.7h1M487.7 488.9h1M480.3 523.2h1M448.6 516.2h1M488.3 490.6h1M493.9 520.9h1M451.2 517.0h1M456.4 519.2h1M453.5 515.5h1M456.1 520.5h1M489.4 490.7h1M457.9 517.7h1M483.5 520.4h1M466.0 509.6h1M449.9 517.6h1M470.1 515.4h1M452.8 514.3h1M455.9 518.0h1M471.9 516.0h1M445.1 518.3h1M452.4 519.4h1M457.2 518.3h1M448.8 518.3h1M452.7 520.9h1M454.6 510.1h1M482.2 490.3h1M458.9 520.1h1M472.4 515.8h1M476.5 515.7h1M458.4 514.5h1M449.0 516.2h1M451.6 517.2h1M483.8 488.4h1M491.9 490.0h1M459.6 524.6h1M458.7 515.0h1M490.5 507.5h1M457.8 523.5h1M453.1 513.7h1M454.2 513.2h1M453.9 516.9h1M453.1 518.8h1M456.4 524.3h1M453.8 518.6h1M450.7 519.8h1M493.7 517.4h1M459.2 521.9h1M464.7 521.9h1M460.2 512.9h1M450.9 512.7h1M472.1 519.4h1M452.3 509.9h1M474.3 518.0h1M450.6 513.9h1M448.1 513.0h1M445.2 520.2h1M484.0 517.6h1M471.0 514.6h1M457.9 519.9h1M446.6 511.4h1M466.8 506.3h1M458.9 520.1h1M447.3 515.2h1M457.1 520.8h1M451.8 519.1h1M452.2 516.8h1M484.4 507.9h1M450.0 518.9h1M449.8 516.6h1M455.2 517.2h1M449.4 517.5h1M450.6 513.8h1M452.5 512.5h1M464.0 522.7h1M452.3 517.0h1M460.5 509.0h1M458.5 515.1h1M466.6 515.2h1M464.2 520.7h1M447.2 512.8h1M452.1 518.9h1M455.9 510.6h1M472.5 523.2h1M454.4 517.9h1M492.0 516.8h1M461.5 517.8h1M453.5 516.4h1M447.2 515.1h1M468.9 519.9h1M460.4 506.6h1M453.4 514.7h1M474.1 514.7h1M450.5 516.2h1M452.4 519.5h1M449.6 518.0h1M465.5 514.7h1M453.1 513.3h1M451.5 522.3h1M457.0 522.7h1M459.9 518.9h1M453.2 514.7h1M454.4 525.9h1M459.4 522.7h1M453.2 520.0h1M500.0 487.1h1M451.1 515.1h1M458.1 515.1h1M450.8 515.0h1M449.4 526.8h1M469.9 518.9h1M451.3 520.2h1M473.6 521.4h1M454.2 518.6h1M461.7 516.2h1M487.7 492.7h1M457.0 514.5h1M454.3 514.7h1M457.7 517.3h1M456.8 513.1h1M455.2 516.3h1M457.7 521.7h1M455.5 512.6h1M457.5 513.8h1M450.4 518.3h1M475.4 516.6h1M462.5 509.1h1M466.7 516.4h1M460.6 520.8h1M455.1 513.9h1M459.2 518.9h1M453.3 514.2h1M453.5 515.1h1M449.2 514.7h1M453.9 524.5h1M449.0 515.7h1M472.2 526.2h1M477.2 491.8h1M464.4 513.1h1M457.5 522.8h1M446.2 510.4h1M453.8 517.6h1M461.1 511.8h1M448.5 518.2h1M467.4 514.8h1M447.0 519.9h1M486.0 492.9h1M459.0 513.9h1M459.5 524.9h1M453.9 521.8h1M450.3 518.8h1M479.5 494.3h1M466.6 510.9h1M451.7 523.1h1M451.4 521.1h1M444.7 515.4h1M459.5 518.3h1M451.8 518.8h1M448.7 516.1h1M453.8 518.5h1M451.5 513.3h1M449.1 517.4h1M460.0 514.0h1M451.0 513.2h1M500.7 520.1h1M449.9 515.4h1M451.5 516.1h1M453.7 516.8h1M443.9 516.6h1M476.5 514.4h1M476.7 519.9h1M458.4 522.2h1M450.6 511.4h1M466.8 514.9h1M453.9 518.0h1M454.1 516.6h1M447.7 518.0h1M458.0 518.9h1M462.2 512.2h1M458.4 518.5h1M450.4 514.8h1M464.4 512.1h1M451.3 519.9h1M474.3 516.6h1M454.1 512.0h1M449.7 511.3h1M451.2 510.5h1M446.3 518.5h1M483.2 517.7h1M449.5 525.7h1M445.7 519.0h1M450.5 519.4h1M452.2 513.2h1M462.1 519.3h1M460.7 510.5h1M446.1 521.2h1M462.5 522.5h1M452.7 515.0h1M453.5 516.6h1M446.7 519.6h1M455.3 519.2h1M455.5 523.5h1M458.8 518.4h1M450.8 512.1h1M492.3 489.6h1M446.5 521.9h1M474.2 515.9h1M493.2 514.1h1M475.3 512.6h1M451.4 518.5h1M446.8 518.3h1M472.5 521.3h1M481.9 522.5h1M449.0 513.6h1M486.7 514.1h1M462.5 511.2h1M451.8 516.2h1M453.3 514.3h1M457.4 522.4h1M455.3 520.7h1M474.7 506.4h1M488.0 513.3h1M458.3 522.5h1M451.8 513.4h1M456.5 522.2h1M467.3 515.5h1M458.3 520.6h1M449.7 518.0h1M485.0 490.9h1M454.0 519.0h1M494.4 518.0h1M506.3 487.3h1M448.7 516.0h1M454.2 518.3h1M450.8 521.1h1M448.0 519.4h1M446.4 518.3h1M459.7 523.6h1M451.7 512.3h1M451.8 513.9h1M447.2 522.2h1M454.1 522.8h1M496.0 493.5h1M461.3 513.3h1M453.0 513.6h1M452.5 520.9h1M453.7 516.4h1M473.8 502.0h1M453.5 517.9h1M461.7 516.1h1M458.1 513.6h1M452.5 523.5h1M449.8 517.4h1M460.5 518.0h1M457.8 520.5h1M447.3 518.9h1M460.9 520.6h1M452.9 516.9h1M447.3 521.4h1M466.2 518.8h1M459.2 520.4h1M457.6 510.3h1M496.0 486.4h1M486.8 516.4h1M448.4 521.5h1M453.7 521.8h1M456.5 520.2h1M448.6 518.3h1M454.3 516.7h1M488.2 522.3h1M447.5 516.9h1M455.0 514.9h1M452.5 512.1h1M462.2 514.4h1M448.4 523.0h1M455.8 515.5h1M457.3 520.6h1M492.8 484.7h1M453.5 515.1h1M452.7 517.4h1M447.8 520.3h1M472.5 504.6h1M451.1 516.2h1M452.1 518.4h1M453.7 519.3h1M453.7 512.4h1M454.5 518.7h1M465.4 522.8h1M452.5 519.2h1M448.5 518.1h1M447.2 514.9h1M455.7 515.5h1M452.9 518.2h1M454.0 514.0h1M452.0 520.7h1M455.1 519.7h1M457.3 516.6h1M451.3 523.6h1M469.7 523.3h1M449.6 515.8h1M451.0 513.2h1M481.0 521.4h1M449.9 514.6h1M457.2 515.7h1M451.0 515.9h1M455.6 517.3h1M467.6 514.8h1M490.9 490.2h1M488.8 513.6h1M467.6 519.2h1M458.4 508.7h1M452.8 522.6h1M456.8 515.9h1M455.6 514.3h1M461.3 517.2h1M453.7 513.8h1M460.2 513.8h1M450.2 516.5h1M500.0 490.3h1M457.7 514.4h1M453.1 522.3h1M449.4 514.4h1M483.8 487.7h1M449.9 516.2h1M457.0 520.9h1M452.8 518.7h1M454.0 512.3h1M447.9 513.5h1M452.2 520.5h1M450.9 505.4h1M458.4 516.3h1M464.3 509.1h1M464.4 516.5h1M497.5 487.7h1"/>
<path stroke="#d0281c" stroke-opacity="0.42" stroke-width="0.85" d="M460.2 520.1h1M456.8 516.3h1M445.9 517.0h1M456.5 519.3h1M445.8 518.0h1M475.0 517.4h1M470.7 516.7h1M492.5 490.0h1M454.6 514.8h1M475.4 520.1h1M492.0 503.0h1M489.9 489.8h1M453.5 515.7h1M469.6 519.7h1M458.1 515.4h1M469.4 514.5h1M484.7 487.4h1M458.9 512.3h1M458.1 516.7h1M459.2 518.4h1M485.9 490.9h1M456.1 509.3h1M451.3 513.0h1M459.9 508.6h1M453.3 525.3h1M460.4 522.6h1M447.2 514.8h1M451.2 516.4h1M451.0 521.5h1M454.4 515.4h1M464.6 517.1h1M453.9 514.5h1M452.0 520.4h1M451.7 522.2h1M454.6 518.4h1M469.9 512.3h1M451.7 515.9h1M448.9 519.4h1M477.8 488.0h1M451.0 515.3h1M451.1 514.3h1M447.2 513.6h1M454.7 514.4h1M458.0 515.8h1M451.1 483.2h1M469.1 524.0h1M470.8 510.2h1M449.3 521.3h1M457.9 510.5h1M451.8 512.2h1M454.3 516.2h1M483.9 490.5h1M453.6 518.7h1M447.4 522.0h1M458.5 522.1h1M467.1 522.2h1M456.9 518.9h1M451.8 517.0h1M454.5 515.6h1M456.4 520.4h1M453.4 518.0h1M452.3 521.5h1M464.4 515.9h1M452.8 512.5h1M464.0 514.4h1M497.2 489.8h1M458.7 516.4h1M484.5 520.1h1M448.6 518.2h1M465.5 512.8h1M450.6 513.4h1M458.9 514.8h1M446.8 519.9h1M451.5 514.0h1M448.6 514.7h1M486.3 488.1h1M451.4 513.8h1M449.6 526.9h1M449.1 518.1h1M451.6 509.4h1M457.8 517.5h1M448.2 515.6h1M460.4 520.7h1M474.4 516.6h1M449.8 514.7h1M446.9 517.8h1M454.8 520.9h1M453.0 512.4h1M450.4 518.6h1M453.8 512.7h1M452.1 515.1h1M452.1 515.2h1M454.8 511.8h1M471.6 522.3h1M449.1 510.2h1M503.0 521.1h1M448.4 521.4h1M455.2 506.5h1M451.9 516.3h1M454.0 517.3h1M452.1 519.8h1M465.3 511.0h1M454.2 513.7h1M463.6 513.7h1M448.8 511.3h1M454.4 514.7h1M497.3 492.4h1M478.1 515.7h1M451.9 516.8h1M454.9 515.5h1M451.7 516.7h1M453.1 522.1h1M454.9 517.7h1M456.9 519.1h1M452.7 517.1h1M448.4 508.5h1M452.1 517.2h1M456.3 514.5h1M451.5 518.8h1M464.6 508.0h1M454.9 516.9h1M447.9 515.9h1M459.0 519.3h1M467.3 514.2h1M450.3 517.0h1M448.6 519.7h1M447.5 521.4h1M450.6 519.0h1M452.1 515.7h1M448.6 516.4h1M452.5 517.0h1M447.6 519.4h1M477.5 511.3h1M451.1 518.4h1M447.6 522.6h1M462.1 513.7h1M456.2 512.8h1M453.2 521.2h1M453.5 521.0h1M454.7 525.0h1M453.8 516.3h1M504.5 489.8h1M447.5 521.2h1M471.5 516.4h1M453.6 519.3h1M459.9 511.7h1M451.2 523.8h1M451.8 519.0h1M471.9 518.1h1M445.6 520.4h1M454.1 514.6h1M468.8 512.1h1M454.2 522.0h1M481.2 510.6h1M503.1 491.1h1M448.1 525.0h1M448.4 510.4h1M488.6 509.8h1M451.6 518.6h1M448.8 516.5h1M464.5 518.2h1M458.6 522.7h1M490.4 491.1h1M448.5 513.5h1M449.4 510.5h1M453.7 518.8h1M503.0 489.7h1M456.3 520.2h1M464.0 518.8h1M455.7 520.4h1M485.8 488.0h1M461.0 516.4h1M455.0 518.9h1M483.5 491.2h1M450.0 520.2h1M456.5 519.5h1M452.6 515.2h1M449.1 517.4h1M452.3 518.7h1M450.9 510.3h1M460.5 515.3h1M447.6 521.2h1M459.8 520.7h1M457.6 517.5h1M478.8 519.1h1M449.4 513.2h1M487.2 522.6h1M459.1 516.6h1M449.6 516.4h1M450.3 515.4h1M470.7 522.1h1M455.6 514.8h1M450.6 521.9h1M475.1 513.8h1M487.2 516.7h1M454.4 513.4h1M492.0 517.8h1M455.5 513.7h1M443.6 514.1h1M458.5 517.9h1M453.2 518.8h1M483.0 485.0h1M452.0 515.4h1M454.6 522.2h1M449.3 511.6h1M446.6 519.0h1M457.4 516.5h1M454.7 514.2h1M448.3 515.6h1M454.9 518.4h1M458.0 510.2h1M471.9 516.1h1M456.6 508.3h1M489.5 487.6h1M445.4 515.2h1M461.2 510.4h1M457.4 517.5h1M456.1 515.1h1M453.3 525.3h1M469.7 515.1h1M457.7 518.9h1M453.5 516.2h1M476.9 518.4h1M448.8 515.0h1M451.1 517.5h1M448.6 517.7h1M455.6 514.5h1M472.2 520.2h1M457.1 515.3h1M456.2 520.0h1M471.4 517.7h1M469.9 520.8h1M459.1 520.9h1M463.5 517.7h1M450.1 512.7h1M447.6 517.0h1M469.9 514.0h1M451.1 518.2h1M457.5 512.1h1M459.3 509.4h1M446.2 514.6h1M451.4 512.4h1M446.8 520.1h1M453.3 506.0h1M448.7 512.3h1M451.2 511.1h1M454.8 515.0h1M472.8 513.8h1M484.1 491.2h1M474.6 515.3h1M453.4 521.5h1M456.6 516.3h1M452.1 522.6h1M455.9 521.7h1M451.7 510.4h1M465.0 515.0h1M455.6 514.4h1M499.4 518.3h1M446.1 525.2h1M453.6 511.0h1M476.5 516.8h1M451.4 518.0h1M454.4 515.3h1M469.5 525.5h1M452.3 513.1h1M455.8 519.4h1M463.7 512.4h1M448.3 517.5h1M452.3 519.5h1M449.0 509.1h1M498.0 519.7h1M457.0 524.9h1M484.3 487.8h1M466.7 516.8h1M465.2 515.2h1M456.9 516.6h1M453.6 511.0h1M470.6 515.3h1M473.5 518.8h1M470.9 521.5h1M457.6 507.9h1M465.8 517.4h1M461.1 524.4h1M448.2 516.5h1M458.6 518.0h1M457.8 515.3h1M459.3 517.8h1M480.9 519.5h1M471.9 517.5h1M455.7 519.2h1M468.3 512.1h1M462.5 512.3h1M464.3 518.9h1M453.7 513.4h1M455.0 515.0h1M469.3 511.7h1M451.3 510.9h1M450.3 515.2h1M474.9 517.5h1M473.7 511.8h1M500.5 501.6h1M486.2 488.6h1M457.3 515.1h1M455.2 521.8h1M452.9 510.1h1M467.8 521.3h1M456.9 517.3h1M452.7 517.8h1M445.9 517.6h1M456.0 516.7h1M447.6 517.7h1M449.1 518.7h1M490.2 508.4h1M449.9 519.8h1M456.2 513.6h1M469.5 511.3h1M458.1 520.9h1M446.4 518.4h1M452.8 514.6h1M451.7 518.9h1M475.4 517.7h1M463.1 518.3h1M484.4 512.6h1M457.4 520.1h1M446.7 516.5h1M452.8 512.2h1M450.7 514.7h1M470.0 516.1h1M446.7 522.4h1M459.5 515.6h1M468.5 522.1h1M456.0 514.9h1M445.5 517.7h1M453.8 518.3h1M453.7 513.1h1M458.2 521.2h1M449.9 519.4h1M454.4 519.2h1M479.2 490.8h1M506.3 489.7h1M448.8 518.2h1M450.4 518.7h1"/>
<ellipse cx="452.5" cy="517" rx="6" ry="5.6" fill="#cc1d14" fill-opacity="0.85"/>
<path d="M471.9 468.9V528.5M442.1 499.4H510.6" stroke="#8c8c8c" stroke-width="0.6" fill="none"/>
<rect x="463.4" y="488.8" width="2.4" height="2" fill="none" stroke="#888" stroke-width="0.6"/>
<rect x="477.5" y="488.8" width="2.4" height="2" fill="none" stroke="#888" stroke-width="0.6"/>
<rect x="463.4" y="509" width="2.4" height="2" fill="none" stroke="#888" stroke-width="0.6"/>
<rect x="477.5" y="509" width="2.4" height="2" fill="none" stroke="#888" stroke-width="0.6"/>
<rect x="442.1" y="468.9" width="68.5" height="59.6" fill="none" stroke="#231f20" stroke-width="1"/>
<path d="M442.1 474.4h-3M442.1 488.8h-3M442.1 501.3h-3M442.1 518.7h-3M442.1 478.72h-1.8M442.1 481.31h-1.8M442.1 483.04h-1.8M442.1 484.48h-1.8M442.1 485.63h-1.8M442.1 486.64h-1.8M442.1 487.5h-1.8M442.1 488.22h-1.8M442.1 492.55h-1.8M442.1 494.8h-1.8M442.1 496.3h-1.8M442.1 497.55h-1.8M442.1 498.55h-1.8M442.1 499.43h-1.8M442.1 500.18h-1.8M442.1 500.8h-1.8M442.1 506.52h-1.8M442.1 509.65h-1.8M442.1 511.74h-1.8M442.1 513.48h-1.8M442.1 514.87h-1.8M442.1 516.09h-1.8M442.1 517.13h-1.8M442.1 518h-1.8M442.1 523.2h-1.5M442.1 525.7h-1.5M454.5 528.5v2.6M470.3 528.5v2.6M486.6 528.5v2.6M502.9 528.5v2.6M459.24 528.5v1.5M462.08 528.5v1.5M463.98 528.5v1.5M465.56 528.5v1.5M466.82 528.5v1.5M467.93 528.5v1.5M468.88 528.5v1.5M469.67 528.5v1.5M475.19 528.5v1.5M478.12 528.5v1.5M480.08 528.5v1.5M481.71 528.5v1.5M483.01 528.5v1.5M484.16 528.5v1.5M485.13 528.5v1.5M485.95 528.5v1.5M491.49 528.5v1.5M494.42 528.5v1.5M496.38 528.5v1.5M498.01 528.5v1.5M499.31 528.5v1.5M500.46 528.5v1.5M501.43 528.5v1.5M502.25 528.5v1.5M449.76 528.5v1.5M446.6 528.5v1.5M443.44 528.5v1.5M441.07 528.5v1.5" stroke="#231f20" stroke-width="0.8" fill="none"/>
<text x="425.6" y="478" font-size="9" stroke-width="0.14"><tspan textLength="8.8" lengthAdjust="spacingAndGlyphs">10</tspan><tspan font-size="6" dy="-3.3" dx="0.2">5</tspan></text>
<text x="425.6" y="492.4" font-size="9" stroke-width="0.14"><tspan textLength="8.8" lengthAdjust="spacingAndGlyphs">10</tspan><tspan font-size="6" dy="-3.3" dx="0.2">4</tspan></text>
<text x="425.6" y="504.9" font-size="9" stroke-width="0.14"><tspan textLength="8.8" lengthAdjust="spacingAndGlyphs">10</tspan><tspan font-size="6" dy="-3.3" dx="0.2">3</tspan></text>
<text x="425.6" y="522.3" font-size="9" stroke-width="0.14"><tspan textLength="8.8" lengthAdjust="spacingAndGlyphs">10</tspan><tspan font-size="6" dy="-3.3" dx="0.2">2</tspan></text>
<text x="450.4" y="541.3" font-size="9" stroke-width="0.14"><tspan textLength="8.8" lengthAdjust="spacingAndGlyphs">10</tspan><tspan font-size="6" dy="-3.3" dx="0.2">2</tspan></text>
<text x="466.2" y="541.3" font-size="9" stroke-width="0.14"><tspan textLength="8.8" lengthAdjust="spacingAndGlyphs">10</tspan><tspan font-size="6" dy="-3.3" dx="0.2">3</tspan></text>
<text x="482.5" y="541.3" font-size="9" stroke-width="0.14"><tspan textLength="8.8" lengthAdjust="spacingAndGlyphs">10</tspan><tspan font-size="6" dy="-3.3" dx="0.2">4</tspan></text>
<text x="498.8" y="541.3" font-size="9" stroke-width="0.14"><tspan textLength="8.8" lengthAdjust="spacingAndGlyphs">10</tspan><tspan font-size="6" dy="-3.3" dx="0.2">5</tspan></text>
<text x="443.5" y="476.9" font-size="8.4" stroke-width="0.12" textLength="15" lengthAdjust="spacingAndGlyphs">CTL</text>
<text x="477.7" y="476.9" font-size="8.4" stroke-width="0.12" textLength="32.3" lengthAdjust="spacingAndGlyphs">1.9±0.5%</text>
<text x="477.3" y="529.1" font-size="8.4" stroke-width="0.12" textLength="32.7" lengthAdjust="spacingAndGlyphs">5.4±0.9%</text>
<path stroke="#d0281c" stroke-opacity="0.42" stroke-width="0.85" d="M446.7 596.4h1M451.7 598.1h1M481.6 591.0h1M465.6 597.7h1M455.0 594.5h1M462.4 595.4h1M456.4 598.1h1M459.9 597.1h1M486.5 571.1h1M447.7 593.8h1M452.7 596.5h1M489.3 586.7h1M453.6 597.3h1M459.9 596.6h1M490.6 570.2h1M450.6 592.6h1M457.5 599.9h1M453.5 603.7h1M455.9 601.4h1M471.7 593.8h1M450.7 603.0h1M469.2 595.3h1M498.4 588.0h1M461.5 598.6h1M481.0 581.2h1M458.4 600.5h1M456.4 599.0h1M465.2 604.1h1M462.0 595.2h1M464.7 601.2h1M489.1 593.3h1M455.6 602.0h1M499.8 570.6h1M448.3 603.5h1M485.3 570.6h1M476.9 590.7h1M445.3 597.5h1M480.0 568.9h1M501.4 580.9h1M472.5 601.3h1M481.8 564.0h1M462.9 596.9h1M452.1 595.0h1M464.1 593.8h1M466.1 595.6h1M495.9 571.6h1M454.3 596.6h1M458.7 589.7h1M492.1 588.6h1M454.6 597.6h1M500.4 585.9h1M454.0 599.2h1M484.6 596.5h1M507.9 571.5h1M452.7 596.1h1M448.4 586.7h1M446.8 589.6h1M489.6 588.7h1M452.4 598.3h1M445.6 602.1h1M450.2 603.1h1M451.7 599.1h1M452.1 600.4h1M450.2 594.8h1M457.0 593.6h1M447.1 592.3h1M459.6 599.7h1M501.3 594.5h1M472.6 590.7h1M454.3 596.9h1M454.7 596.7h1M469.9 599.1h1M477.7 596.7h1M450.6 596.6h1M466.9 598.4h1M455.1 589.5h1M476.2 598.5h1M451.6 595.6h1M454.8 602.6h1M454.3 600.2h1M449.0 593.0h1M454.4 597.2h1M474.6 592.2h1M449.0 598.7h1M503.0 591.8h1M449.3 596.4h1M469.4 598.2h1M504.4 580.2h1M478.6 595.8h1M463.7 604.9h1M456.1 592.2h1M459.0 597.3h1M494.7 588.5h1M452.3 600.7h1M447.3 597.3h1M463.3 594.9h1M447.9 599.0h1M494.9 570.3h1M455.2 601.9h1M450.3 598.3h1M451.2 594.2h1M500.8 575.8h1M450.0 600.1h1M451.8 595.0h1M495.0 570.5h1M501.0 585.6h1M497.9 599.5h1M499.8 563.9h1M451.8 593.1h1M452.6 602.5h1M491.9 569.9h1M462.7 590.1h1M450.4 593.2h1M488.8 567.6h1M483.1 571.3h1M467.2 596.3h1M459.6 594.1h1M463.4 593.1h1M456.7 601.9h1M478.8 595.5h1M449.8 591.3h1M492.5 555.3h1M499.9 568.6h1M455.1 609.0h1M502.1 594.5h1M453.4 597.6h1M477.3 595.7h1M453.7 596.9h1M457.0 595.5h1M449.2 596.5h1M474.5 605.1h1M460.3 591.2h1M471.3 601.8h1M453.3 599.1h1M474.0 593.8h1M460.3 560.5h1M462.7 595.0h1M464.8 603.3h1M460.3 596.6h1M460.3 600.2h1M488.9 569.3h1M461.7 586.4h1M453.4 603.4h1M454.4 600.3h1M457.4 597.8h1M499.1 589.0h1M449.4 600.2h1M452.3 599.3h1M451.5 598.6h1M454.6 593.7h1M496.9 570.8h1M471.2 604.4h1M453.0 597.7h1M452.9 599.5h1M457.7 602.3h1M468.5 598.7h1M488.1 572.2h1M483.9 576.4h1M455.0 589.4h1M455.9 599.5h1M495.0 572.7h1M449.1 597.8h1M453.9 596.9h1M451.6 598.8h1M449.5 601.1h1M451.7 600.3h1M450.7 599.9h1M452.3 596.3h1M456.0 601.6h1M453.7 594.9h1M448.4 607.2h1M455.3 592.4h1M477.7 588.8h1M478.1 599.7h1M494.0 569.2h1M506.8 567.3h1M495.7 592.9h1M449.6 595.0h1M470.2 601.4h1M482.9 588.0h1M496.6 565.7h1M460.5 603.2h1M484.7 602.1h1M449.3 595.6h1M489.8 582.8h1M443.8 593.9h1M448.4 601.2h1M453.4 594.4h1M468.0 601.9h1M458.3 595.5h1M452.8 602.2h1M490.5 592.8h1M456.5 598.4h1M476.6 585.0h1M453.1 596.5h1M453.5 589.6h1M454.2 602.3h1M503.8 584.3h1M451.7 597.4h1M451.8 597.6h1M459.0 600.6h1M461.5 599.9h1M443.4 594.6h1M457.5 595.5h1M461.5 594.1h1M449.4 603.5h1M480.2 591.8h1M461.4 596.5h1M451.1 600.0h1M472.0 603.8h1M482.4 584.2h1M448.0 602.2h1M461.8 598.2h1M451.3 594.5h1M460.5 594.1h1M454.2 594.7h1M452.2 598.4h1M462.7 591.4h1M448.8 600.3h1M452.2 598.9h1M451.1 600.1h1M449.4 599.6h1M497.3 568.8h1M449.4 597.9h1M462.3 593.8h1M448.8 594.4h1M493.2 592.5h1M455.7 599.5h1M481.9 583.0h1M459.0 594.5h1M462.3 592.0h1M447.9 594.1h1M493.2 565.9h1M456.5 602.4h1M493.3 591.0h1M474.9 599.5h1M452.9 592.3h1M448.4 605.6h1M493.7 594.5h1M448.8 599.2h1M453.7 598.7h1M454.6 588.1h1M455.9 596.3h1M499.7 599.4h1M451.4 604.9h1M472.7 602.9h1M450.9 597.9h1M455.2 597.7h1M507.0 583.9h1M454.2 604.2h1M451.9 595.9h1M455.8 601.9h1M461.8 596.7h1M455.0 600.9h1M502.3 567.5h1M456.0 597.6h1M450.5 600.6h1M454.4 596.1h1M456.9 601.1h1M458.8 593.7h1M446.9 599.7h1M474.5 600.6h1M496.4 592.5h1M492.3 597.9h1M451.4 594.9h1M452.6 594.7h1M450.0 599.1h1M457.0 600.5h1M469.1 600.9h1M460.2 600.7h1M461.8 602.2h1M471.7 598.8h1M495.7 585.6h1M463.5 595.4h1M455.1 597.3h1M459.8 597.7h1M485.1 591.5h1M455.1 595.3h1M452.1 595.4h1M478.8 597.5h1M447.9 593.7h1M503.0 586.4h1M457.8 600.7h1M480.1 603.4h1M494.7 568.8h1M448.8 601.8h1M458.6 599.7h1M490.2 586.5h1M454.3 599.4h1M452.7 604.7h1M479.4 583.3h1M467.6 589.3h1M455.0 596.9h1M460.6 596.4h1M454.5 602.9h1M451.3 593.0h1M506.3 583.8h1M476.5 598.2h1M487.5 589.9h1M459.7 604.1h1M476.9 601.9h1M448.0 595.7h1M449.0 594.9h1M464.0 589.2h1M450.2 602.1h1M457.2 598.6h1M453.3 593.8h1M476.8 598.0h1M481.8 571.5h1M451.3 601.2h1M449.9 599.5h1M472.8 595.1h1M457.2 597.8h1M495.1 566.7h1M454.4 598.6h1M448.4 591.5h1M453.6 596.5h1M455.0 595.2h1M448.7 597.3h1M483.2 566.7h1M497.9 594.6h1M466.8 590.3h1M508.0 567.1h1M458.9 595.4h1M450.5 599.1h1M451.0 597.0h1M458.6 594.4h1M459.8 597.2h1M455.3 597.7h1M454.4 594.1h1M442.5 590.7h1M476.2 599.4h1M450.5 604.2h1M449.9 593.9h1M454.1 597.2h1M477.4 597.6h1M463.1 599.8h1M456.0 594.0h1M450.5 596.9h1M472.1 587.8h1M481.2 591.8h1M445.8 594.6h1M482.5 564.0h1M485.8 600.6h1M449.6 596.5h1M495.0 572.7h1M454.2 592.4h1M468.7 604.6h1M449.2 597.8h1M448.6 593.4h1M452.4 591.9h1M479.7 564.9h1M450.8 597.3h1M455.2 596.4h1M460.1 594.9h1M457.0 592.4h1M495.1 575.4h1M477.1 595.6h1M498.8 594.4h1M457.0 594.9h1M497.4 568.9h1M475.2 600.9h1M450.8 594.2h1M478.9 596.4h1M455.0 596.9h1M449.2 601.0h1M450.4 593.0h1M450.4 600.8h1M467.8 601.9h1M485.2 591.6h1M451.4 601.1h1M450.7 602.7h1M450.6 591.0h1M450.5 595.9h1M462.3 596.1h1M449.3 594.0h1M461.7 597.5h1M473.2 598.1h1M445.5 594.3h1M451.9 598.5h1M457.6 596.6h1M500.3 584.2h1M458.8 601.4h1M451.5 605.2h1M455.2 592.0h1M458.7 593.0h1M462.3 602.1h1M458.1 598.3h1M487.2 587.3h1M448.7 598.5h1M472.0 597.1h1M482.7 589.6h1M444.5 594.4h1M458.3 566.8h1M450.2 597.0h1M487.3 566.5h1M467.2 601.4h1M507.0 585.6h1M452.5 592.5h1M451.1 603.9h1M454.3 596.5h1M497.1 564.8h1M450.1 595.3h1M464.9 594.2h1M455.0 597.9h1M480.1 598.4h1M452.8 598.5h1M474.4 592.8h1M457.0 603.6h1M509.1 586.9h1M448.6 592.6h1M506.6 567.1h1M497.3 587.0h1M455.2 598.7h1M448.5 598.2h1M450.4 596.4h1M473.7 592.8h1M447.9 605.4h1M455.8 602.0h1M454.1 595.0h1M453.3 597.1h1M453.3 600.4h1M470.1 598.7h1M453.8 601.6h1M495.5 597.0h1M462.1 593.1h1M458.5 594.4h1M468.6 603.4h1M453.1 595.1h1M494.3 571.3h1M455.2 597.2h1M461.6 595.0h1"/>
<path stroke="#d0281c" stroke-opacity="0.42" stroke-width="0.85" d="M492.4 589.8h1M449.9 595.1h1M455.2 601.6h1M473.4 600.0h1M443.6 599.0h1M454.8 597.9h1M482.5 593.3h1M493.9 570.4h1M466.4 598.3h1M462.5 597.3h1M471.9 594.6h1M502.6 571.7h1M462.2 597.6h1M451.5 596.4h1M450.5 603.4h1M473.9 600.0h1M453.8 594.7h1M448.0 597.4h1M456.7 600.2h1M486.4 600.3h1M451.2 596.5h1M455.9 599.5h1M451.4 597.3h1M447.9 600.1h1M496.5 567.1h1M469.6 601.2h1M500.6 596.0h1M447.5 592.9h1M459.9 600.5h1M455.9 588.6h1M451.1 595.2h1M495.7 569.0h1M449.5 599.0h1M462.2 599.1h1M447.3 592.5h1M453.6 603.2h1M448.8 601.3h1M478.8 567.3h1M457.2 602.4h1M451.5 601.5h1M464.5 589.9h1M472.9 596.1h1M497.1 571.6h1M480.0 564.3h1M457.3 602.0h1M462.4 598.8h1M453.4 602.3h1M480.2 607.6h1M497.9 580.8h1M474.6 598.7h1M488.5 562.9h1M451.4 593.6h1M458.0 599.9h1M477.5 571.1h1M456.9 595.7h1M472.1 597.1h1M445.7 591.9h1M467.4 596.5h1M453.2 603.7h1M467.0 596.8h1M467.9 606.1h1M459.4 597.5h1M467.9 594.5h1M490.1 570.7h1M479.2 596.4h1M459.1 595.6h1M452.3 601.2h1M467.1 596.3h1M473.6 605.0h1M445.1 595.1h1M452.1 601.8h1M464.6 590.0h1M450.7 600.3h1M472.2 598.0h1M494.8 567.5h1M457.1 600.6h1M450.1 596.3h1M443.4 594.9h1M464.8 596.4h1M453.1 602.0h1M451.0 598.4h1M487.7 568.7h1M473.7 592.9h1M452.1 591.0h1M450.9 597.5h1M449.9 597.0h1M456.3 598.4h1M488.5 598.8h1M461.0 597.9h1M456.1 599.6h1M464.0 597.0h1M450.2 606.1h1M500.4 590.1h1M472.5 593.8h1M449.4 601.5h1M448.2 602.0h1M455.0 596.8h1M485.8 596.7h1M450.1 599.9h1M466.3 600.4h1M451.1 601.1h1M454.6 596.0h1M451.4 597.4h1M474.6 596.6h1M457.5 591.9h1M452.8 596.2h1M451.1 597.9h1M451.3 598.0h1M455.6 594.5h1M499.6 570.0h1M449.2 591.2h1M456.2 597.9h1M492.5 594.1h1M452.1 594.3h1M468.7 603.9h1M485.4 586.0h1M462.6 608.0h1M464.3 595.3h1M454.4 598.9h1M456.5 597.8h1M446.7 599.9h1M452.9 595.8h1M451.0 603.0h1M485.4 590.3h1M481.6 591.4h1M448.0 598.3h1M451.9 595.4h1M469.5 598.6h1M454.3 600.3h1M453.2 589.4h1M484.0 595.2h1M460.4 591.0h1M495.6 587.4h1M450.1 599.5h1M450.1 595.6h1M494.7 587.0h1M476.6 597.7h1M450.7 596.2h1M451.1 600.1h1M468.5 601.4h1M454.9 598.4h1M450.4 595.4h1M484.4 597.6h1M460.2 597.7h1M451.3 594.6h1M457.5 592.1h1M473.0 592.9h1M460.4 591.2h1M476.0 567.5h1M456.8 591.3h1M449.9 595.9h1M447.9 592.2h1M453.6 597.9h1M506.4 588.8h1M472.0 594.8h1M458.9 600.9h1M495.4 587.5h1M474.0 596.6h1M447.0 601.6h1M474.2 599.4h1M460.4 596.8h1M453.2 602.5h1M463.8 599.9h1M497.7 570.2h1M502.7 583.2h1M463.3 595.3h1M496.4 584.1h1M448.5 601.6h1M463.6 597.9h1M479.7 596.4h1M464.2 597.2h1M451.8 598.8h1M456.2 595.8h1M448.5 591.8h1M456.8 591.6h1M448.2 600.3h1M469.0 601.3h1M482.6 603.2h1M445.4 597.5h1M492.3 569.7h1M449.0 600.7h1M447.7 601.1h1M458.9 594.7h1M483.0 565.4h1M452.7 600.2h1M482.7 567.2h1M454.3 597.4h1M460.6 592.6h1M469.9 592.7h1M479.5 594.5h1M461.3 595.5h1M462.4 603.4h1M494.4 576.5h1M483.8 571.5h1M471.5 593.9h1M468.1 597.1h1M447.4 601.9h1M472.8 601.9h1M455.5 594.5h1M474.0 597.1h1M474.3 565.4h1M488.1 591.8h1M455.2 598.3h1M468.3 601.3h1M489.3 566.0h1M454.9 599.2h1M451.5 597.9h1M459.7 594.7h1M487.9 567.0h1M451.3 599.2h1M477.3 592.3h1M487.8 593.5h1M493.9 593.0h1M453.9 594.7h1M462.9 607.9h1M459.6 597.2h1M451.0 602.9h1M461.4 598.8h1M453.7 602.8h1M474.0 589.8h1M479.9 590.1h1M455.6 594.6h1M476.3 574.2h1M453.9 598.1h1M462.5 597.1h1M458.3 593.5h1M454.1 591.0h1M455.8 601.9h1M508.6 583.8h1M501.8 579.6h1M454.5 599.5h1M455.0 596.6h1M450.0 600.5h1M455.9 596.3h1M450.5 595.0h1M469.6 600.8h1M501.3 571.1h1M455.3 597.7h1M456.6 591.5h1M456.1 600.5h1M448.7 599.5h1M466.2 596.6h1M464.3 569.6h1M455.2 603.9h1M449.2 599.8h1M497.9 569.5h1M461.0 603.6h1M490.1 586.9h1M478.6 605.2h1M456.0 595.7h1M461.3 602.4h1M450.8 602.1h1M458.5 590.2h1M467.5 591.9h1M471.1 599.0h1M457.0 604.8h1M456.6 598.0h1M451.8 602.5h1M476.2 598.4h1M480.6 598.2h1M447.2 598.7h1M497.0 588.3h1M465.8 598.4h1M451.1 598.6h1M495.3 596.3h1M457.1 599.9h1M454.4 597.4h1M452.9 601.0h1M450.7 600.1h1M478.1 598.9h1M455.1 597.5h1M467.2 604.0h1M457.2 602.0h1M461.5 601.4h1M485.4 594.6h1M445.8 600.1h1M453.5 603.1h1M505.8 596.7h1M487.5 593.5h1M488.7 564.8h1M452.4 599.1h1M449.3 597.0h1M450.8 598.7h1M454.8 593.5h1M451.4 593.6h1M449.2 601.8h1M444.8 595.5h1M469.6 591.9h1M451.3 595.0h1M446.9 596.3h1M452.1 595.3h1M455.1 594.2h1M499.9 590.7h1M450.3 600.1h1M465.7 594.8h1M488.9 588.7h1M455.7 590.8h1M451.6 599.5h1M458.2 603.5h1M452.5 599.7h1M479.9 598.1h1M463.0 605.6h1M460.4 595.9h1M467.9 601.0h1M451.4 599.3h1M495.5 593.8h1M493.9 577.6h1M444.7 600.4h1M451.2 590.9h1M450.5 593.7h1M458.1 601.7h1M454.2 597.9h1M449.3 600.9h1M450.9 601.7h1M455.6 596.0h1M496.8 591.8h1M456.9 595.6h1M451.0 605.7h1M490.7 590.5h1M453.6 601.2h1M451.8 596.4h1M486.7 588.9h1M452.7 596.4h1M454.8 597.2h1M448.4 597.9h1M464.5 604.4h1M501.2 568.3h1M475.3 591.2h1M458.3 596.5h1M483.6 570.2h1M469.5 562.7h1M449.9 599.9h1M447.5 596.6h1M449.5 600.3h1M458.9 599.2h1M452.2 603.2h1M447.2 588.0h1M479.7 596.3h1M492.1 595.1h1M453.5 595.0h1M468.2 596.3h1M466.9 603.3h1M466.9 599.6h1M448.8 601.2h1M485.5 598.3h1M449.9 596.1h1M461.2 598.1h1M469.3 599.2h1M453.5 600.4h1M454.9 595.2h1M457.5 598.5h1M492.9 584.3h1M452.2 603.8h1M452.6 599.3h1M448.5 594.5h1M481.0 590.0h1M444.0 597.9h1M477.5 602.3h1M480.0 595.6h1M458.8 601.6h1M467.2 600.5h1M501.9 572.0h1M453.6 593.9h1M494.4 569.4h1M457.6 593.4h1M455.7 594.7h1M454.1 598.7h1M469.5 599.2h1M475.5 596.3h1M456.2 597.8h1M447.7 598.4h1M450.3 599.5h1M455.9 601.6h1M448.4 600.1h1M501.4 585.0h1M450.9 599.7h1M463.1 595.5h1M453.4 588.5h1M464.0 554.1h1M451.8 597.1h1M456.5 591.8h1M467.2 594.8h1M462.6 590.9h1M449.8 600.2h1M500.1 554.3h1M468.2 602.1h1M464.3 595.8h1M450.1 591.0h1M448.0 595.0h1M446.8 597.4h1M487.3 569.2h1M456.0 594.5h1M453.4 603.6h1M474.9 568.0h1M460.0 604.8h1M485.0 603.3h1M451.4 600.6h1M451.3 594.3h1M459.6 601.2h1M462.2 602.7h1M467.7 597.9h1M464.0 564.1h1M454.7 594.4h1M506.4 583.6h1M453.8 589.0h1M459.9 603.8h1M487.8 569.1h1M445.6 596.6h1M448.3 592.2h1M447.7 601.1h1M453.7 597.5h1M451.0 596.4h1M450.1 597.1h1M479.0 567.7h1M452.6 597.0h1M457.3 599.8h1M484.9 564.3h1M476.3 596.8h1M486.7 590.3h1M461.5 598.1h1M445.3 595.9h1M473.3 599.5h1M506.2 565.8h1M457.6 590.8h1M454.3 596.2h1M457.2 595.1h1M501.8 589.5h1M491.3 582.3h1M458.4 600.7h1M452.2 600.8h1M456.7 599.2h1"/>
<path stroke="#d0281c" stroke-opacity="0.42" stroke-width="0.85" d="M452.9 597.1h1M445.8 589.6h1M458.4 600.6h1M446.8 590.9h1M502.6 593.9h1M499.7 578.8h1M501.0 569.9h1M494.3 571.6h1M481.1 591.7h1M491.1 570.0h1M453.3 598.6h1M452.4 600.1h1M487.8 586.4h1M456.9 597.9h1M452.8 595.2h1M480.1 572.8h1M491.3 568.4h1M449.6 600.9h1M456.8 601.2h1M459.4 599.6h1M481.3 573.2h1M501.3 563.3h1M454.2 594.1h1M453.7 597.6h1M480.3 568.4h1M450.7 593.5h1M455.5 593.3h1M477.4 602.6h1M470.5 597.7h1M454.0 599.7h1M488.1 565.4h1M494.1 556.7h1M451.2 596.2h1M455.4 594.7h1M456.3 595.5h1M450.7 604.1h1M494.2 565.8h1M498.9 598.1h1M481.1 560.5h1M496.9 562.5h1M485.1 600.4h1M461.7 597.9h1M471.0 601.1h1M496.5 593.2h1M477.6 593.3h1M448.2 601.4h1M476.0 600.4h1M449.3 597.4h1M467.1 588.8h1M469.4 596.4h1M457.6 595.5h1M454.3 592.9h1M450.6 553.1h1M455.9 596.4h1M471.8 602.3h1M491.7 569.1h1M453.1 600.2h1M455.8 588.0h1M466.1 594.6h1M451.5 599.6h1M464.4 601.8h1M449.3 602.9h1M476.1 594.4h1M454.5 598.7h1M453.8 596.8h1M453.1 601.8h1M462.9 597.3h1M449.0 603.3h1M496.7 591.1h1M507.3 584.9h1M459.1 593.8h1M448.2 598.6h1M450.0 599.6h1M478.3 567.7h1M457.5 604.6h1M456.8 598.3h1M452.2 601.9h1M448.5 602.9h1M468.0 597.9h1M450.6 595.9h1M451.3 594.1h1M475.0 603.0h1M453.6 601.4h1M481.8 595.8h1M460.5 594.8h1M462.5 599.1h1M452.6 597.0h1M455.0 597.6h1M458.4 595.3h1M481.5 570.1h1M459.3 595.6h1M509.1 572.5h1M471.1 565.5h1M447.8 597.3h1M465.9 595.5h1M477.4 596.5h1M455.3 594.6h1M500.5 571.5h1M449.6 593.1h1M453.7 597.3h1M463.5 597.8h1M461.2 595.5h1M445.4 603.6h1M451.7 594.8h1M454.3 598.7h1M481.9 598.5h1M453.1 598.1h1M465.8 597.9h1M476.4 601.2h1M460.1 601.6h1M472.3 603.0h1M463.3 605.6h1M485.4 568.6h1M460.8 598.6h1M483.4 570.3h1M453.9 599.2h1M451.1 594.2h1M462.5 597.0h1M455.0 599.0h1M453.6 597.2h1M454.7 598.5h1M480.4 597.6h1M491.0 564.7h1M473.8 599.5h1M502.3 595.6h1M450.4 597.2h1M446.1 606.2h1M453.2 595.4h1M452.7 598.9h1M455.7 596.7h1M456.2 602.6h1M486.4 590.2h1M455.0 599.3h1M503.8 576.4h1M467.4 604.0h1M457.9 594.7h1M453.3 599.3h1M464.5 598.4h1M452.7 599.3h1M452.8 604.5h1M456.9 595.3h1M453.4 599.3h1M460.8 600.5h1M472.9 600.8h1M456.6 593.2h1M452.4 600.4h1M489.6 568.0h1M480.5 599.3h1M462.7 599.8h1M446.4 596.3h1M503.8 582.7h1M456.2 602.8h1M456.8 600.9h1M458.1 598.4h1M455.5 594.0h1M471.3 593.2h1M457.0 599.7h1M457.6 595.8h1M460.1 595.1h1M460.0 598.6h1M456.9 595.5h1M455.6 598.4h1M469.6 604.8h1M458.0 597.8h1M451.1 600.7h1M448.0 599.1h1M451.4 596.2h1M458.0 598.4h1M488.6 579.3h1M448.8 596.8h1M452.9 596.3h1M500.7 569.7h1M485.1 592.1h1M494.5 570.3h1M465.6 597.0h1M459.0 593.2h1M458.7 598.7h1M453.9 593.9h1M454.5 600.2h1M468.6 598.7h1M504.4 567.3h1M486.5 600.1h1M460.1 600.1h1M460.2 602.1h1M450.5 596.6h1M448.2 601.2h1M461.2 598.3h1M501.0 569.7h1M454.6 596.2h1M474.2 590.8h1M478.3 602.8h1M449.5 599.1h1M471.7 572.5h1M451.2 597.8h1M502.2 583.8h1M459.6 597.2h1M457.6 590.8h1M496.3 588.1h1M476.4 602.6h1M455.7 601.4h1M464.9 598.9h1M455.3 595.0h1M456.1 595.9h1M453.4 601.2h1M451.6 595.9h1M480.3 586.4h1M477.7 585.6h1M489.7 589.0h1M453.2 599.8h1M454.2 598.4h1M451.0 598.3h1M490.2 576.8h1M453.1 601.7h1M472.7 595.6h1M471.0 599.6h1M480.9 594.4h1M449.0 599.0h1M502.6 571.2h1M457.0 603.7h1M452.2 595.3h1M475.0 589.5h1M459.6 599.9h1M454.2 597.9h1M456.0 600.9h1M465.8 597.9h1M451.4 600.4h1M451.0 600.6h1M476.8 569.9h1M445.4 600.5h1M485.2 594.8h1M450.5 603.1h1M453.1 595.8h1M474.2 602.4h1M497.7 573.9h1M468.0 604.3h1M490.5 594.8h1M493.3 566.4h1M495.0 596.5h1M462.8 595.3h1M468.5 598.5h1M450.7 597.1h1M501.4 567.8h1M466.1 596.3h1M453.8 599.5h1M456.9 602.2h1M453.8 601.6h1M504.6 570.6h1M480.9 600.9h1M456.6 589.2h1M472.3 597.9h1M453.7 600.0h1M455.1 603.0h1M451.5 595.8h1M463.6 596.2h1M447.4 595.9h1M466.3 593.9h1M449.6 595.1h1M476.1 597.7h1M456.1 598.2h1M493.5 571.3h1M461.4 600.0h1M454.9 600.0h1M461.3 594.1h1M456.0 599.1h1M473.9 594.5h1M497.9 586.0h1M454.5 598.8h1M456.2 593.6h1M464.3 595.8h1M460.1 601.6h1M472.5 591.4h1M467.6 593.6h1M457.8 605.5h1M468.4 595.7h1M450.3 597.5h1M456.4 594.8h1M472.1 597.0h1M450.3 596.7h1M495.7 566.0h1M448.6 595.7h1M458.2 598.6h1M481.4 598.8h1M487.0 574.9h1M493.6 566.3h1M455.0 596.9h1M476.7 593.3h1M467.6 594.5h1M449.6 598.2h1M498.5 570.0h1M451.3 606.7h1M474.8 598.3h1M457.1 598.2h1M448.5 599.4h1M455.2 601.0h1M459.0 599.2h1M494.5 571.0h1M453.8 600.7h1M449.1 597.1h1M462.8 605.5h1M469.1 593.8h1M449.9 604.9h1M467.7 593.9h1M495.0 568.8h1M474.7 598.1h1M470.9 593.7h1M445.8 600.5h1M478.2 581.9h1M451.7 602.6h1M455.7 595.4h1M454.4 597.9h1M483.9 596.2h1M451.0 593.3h1M463.8 598.3h1M459.4 598.5h1M491.0 571.3h1M501.8 567.2h1M452.1 598.7h1M507.9 592.6h1M498.9 568.4h1M455.4 590.6h1M478.9 591.7h1M447.6 605.4h1M466.6 598.3h1M505.1 569.2h1M456.9 600.2h1M493.1 565.4h1M455.3 598.6h1M459.3 599.0h1M444.5 597.2h1M495.7 572.0h1M475.1 570.9h1M447.6 594.1h1M456.3 597.2h1M446.3 594.5h1M452.5 596.6h1M457.3 596.0h1M480.7 568.9h1M457.7 598.3h1M451.3 594.2h1M503.7 571.0h1M501.7 569.4h1M461.5 606.4h1M490.2 589.9h1M493.3 590.1h1M459.0 596.5h1M447.7 590.0h1M450.9 597.8h1M445.3 596.1h1M454.7 601.2h1M478.9 595.3h1M454.7 593.6h1M468.2 597.5h1M488.9 598.4h1M462.4 605.0h1M458.3 598.5h1M456.1 604.7h1M488.2 570.5h1M508.8 593.0h1M451.3 598.7h1M452.9 602.6h1M456.1 594.1h1M455.9 600.2h1M453.0 599.9h1M481.7 568.9h1M483.7 570.6h1M483.1 600.8h1M447.3 603.2h1M453.2 598.1h1M467.0 593.3h1M451.8 603.3h1M446.3 596.0h1M450.5 594.7h1M492.8 568.8h1M452.0 599.2h1M482.0 605.4h1M459.0 591.1h1M475.8 595.8h1M448.8 591.0h1M460.8 593.2h1M462.7 595.8h1M495.2 571.5h1M479.4 594.3h1M454.0 599.4h1M457.9 597.0h1M494.6 570.9h1M448.8 594.1h1M478.1 600.9h1M492.7 577.9h1M454.1 601.1h1M489.8 590.4h1M465.4 595.9h1M468.4 600.9h1M455.0 597.7h1M455.7 596.5h1M443.0 599.7h1M479.6 591.0h1M456.1 600.6h1M450.3 597.1h1M453.6 598.9h1M448.1 598.3h1M460.0 599.3h1M463.6 589.4h1M455.9 602.0h1M496.0 581.6h1M459.3 601.3h1M449.9 594.1h1M477.9 606.4h1M456.0 599.7h1M453.6 597.6h1M473.4 570.4h1M476.2 592.5h1M483.7 556.4h1M464.7 594.4h1M453.8 600.6h1M452.2 597.7h1M456.6 603.3h1M442.8 592.8h1M449.4 594.3h1M469.2 597.8h1M482.7 572.2h1M457.1 597.9h1M493.5 602.2h1M485.0 588.5h1M500.6 586.9h1M504.1 600.2h1M452.0 603.1h1M449.2 597.5h1M448.9 600.1h1M451.7 598.8h1M451.1 595.1h1M482.8 586.3h1"/>
<path stroke="#d0281c" stroke-opacity="0.42" stroke-width="0.85" d="M458.2 598.5h1M449.1 595.9h1M485.5 569.7h1M473.1 604.8h1M475.7 602.6h1M472.1 604.0h1M482.4 593.3h1M488.1 592.7h1M506.5 585.8h1M446.9 601.2h1M448.2 594.1h1M475.2 592.9h1M463.7 600.0h1M449.9 601.9h1M465.8 596.0h1M457.6 603.7h1M484.9 585.6h1M487.7 589.8h1M507.8 593.0h1M459.4 596.9h1M479.3 597.6h1M456.9 600.7h1M457.9 601.8h1M468.9 599.3h1M476.6 601.1h1M467.7 599.6h1M504.2 561.1h1M461.1 598.6h1M454.0 597.2h1M455.2 600.6h1M451.9 597.1h1M482.6 567.3h1M460.2 602.3h1M473.2 595.1h1M445.3 592.8h1M480.4 596.9h1M455.4 590.6h1M459.1 598.6h1M444.2 599.5h1M478.6 572.4h1M443.8 595.1h1M502.1 568.2h1M450.1 602.8h1M454.6 599.9h1M462.5 597.5h1M450.0 597.0h1M468.4 600.4h1M491.9 567.6h1M453.4 599.3h1M494.7 594.8h1M454.4 597.1h1M447.4 598.2h1M448.0 605.7h1M449.6 598.4h1M488.6 604.7h1M455.4 597.6h1M495.6 568.5h1M453.7 597.3h1M464.2 600.1h1M499.1 590.4h1M495.8 570.6h1M475.0 562.6h1M462.6 600.4h1M451.1 597.1h1M461.9 599.1h1M479.7 568.8h1M457.9 595.7h1M466.8 593.3h1M459.5 598.8h1M458.2 593.0h1M452.7 599.3h1M455.5 594.8h1M502.8 595.1h1M471.7 595.7h1M483.6 566.9h1M498.8 570.2h1M507.4 569.2h1M467.0 592.8h1M449.1 595.2h1M457.9 591.3h1M465.6 600.4h1M460.1 599.0h1M453.6 597.2h1M463.9 600.7h1M449.2 600.3h1M454.6 601.6h1M457.5 601.5h1M451.7 599.6h1M450.6 591.4h1M454.8 598.0h1M468.8 594.9h1M450.3 593.9h1M481.5 568.6h1M475.4 596.5h1M451.4 593.4h1M476.9 597.9h1M483.6 594.8h1M485.4 572.1h1M454.1 591.6h1M465.4 594.3h1M450.0 599.2h1M458.6 596.0h1M471.4 597.3h1M500.6 571.7h1M450.4 600.1h1M448.5 603.9h1M493.3 587.7h1M459.2 598.0h1M503.6 569.9h1M491.5 566.1h1M456.9 597.8h1M456.4 601.8h1M463.7 593.7h1M492.5 570.2h1M456.2 591.4h1M461.4 597.6h1M492.6 594.5h1M467.6 596.4h1M468.3 597.5h1M454.7 597.9h1M451.7 601.6h1M489.6 587.6h1M454.1 594.9h1M455.0 597.1h1M491.0 570.5h1M472.6 600.9h1M448.8 597.1h1M491.3 569.9h1M480.4 572.4h1M448.5 600.8h1M452.9 599.6h1M479.1 604.9h1M456.4 598.5h1M473.9 591.8h1M444.5 599.3h1M501.9 569.8h1M491.9 595.6h1M463.9 603.5h1M491.8 571.9h1M498.4 564.0h1M452.2 601.1h1M450.0 600.3h1M453.0 599.7h1M497.8 569.6h1M449.4 599.9h1M461.9 597.1h1M495.5 568.3h1M448.3 593.4h1M505.9 569.7h1M449.1 595.1h1M492.9 589.7h1M478.6 597.2h1M456.2 606.1h1M472.4 593.8h1M470.9 592.4h1M443.9 599.0h1M449.2 598.9h1M489.2 564.1h1M468.6 596.0h1M445.9 605.0h1M501.1 590.9h1M448.3 597.9h1M464.3 602.8h1M496.7 589.4h1M459.1 601.1h1M483.3 569.7h1M457.9 596.5h1M507.8 569.5h1M479.1 598.2h1M455.9 600.3h1M498.1 585.2h1M471.1 598.7h1M472.7 598.7h1M448.3 596.2h1M474.0 592.8h1M451.4 596.5h1M452.1 589.7h1M457.6 599.5h1M477.5 598.5h1M493.8 586.0h1M465.8 601.1h1M475.4 596.0h1M463.9 598.0h1M470.6 596.2h1M448.2 602.1h1M454.3 594.8h1M449.3 595.8h1M455.3 595.8h1M481.7 570.1h1M449.3 602.9h1M495.2 589.1h1M463.6 598.6h1M496.1 584.3h1M459.9 599.7h1M463.8 597.5h1M455.9 596.4h1M456.3 602.3h1M494.8 597.5h1M462.7 599.9h1M500.2 569.4h1M471.4 598.0h1M499.2 600.8h1M456.0 600.9h1M451.6 593.8h1M497.5 596.9h1M462.3 597.7h1M450.0 601.9h1M453.7 596.8h1M461.2 598.0h1M506.9 571.3h1M456.0 600.8h1M462.4 596.1h1M456.8 596.1h1M455.3 595.1h1M457.5 606.1h1M471.4 599.1h1M485.3 587.0h1M449.7 595.9h1M447.0 593.0h1M469.1 595.2h1M455.7 597.5h1M496.7 570.8h1M450.2 598.1h1M494.6 601.9h1M505.8 571.0h1M458.8 600.1h1M459.5 605.4h1M471.2 595.7h1M459.8 594.0h1M457.6 593.8h1M450.8 593.7h1M452.7 597.2h1M451.0 591.6h1M455.6 595.5h1M450.0 601.8h1M502.6 571.8h1M450.9 598.3h1M455.5 596.0h1M491.6 569.0h1M452.4 603.2h1M447.5 599.6h1M503.0 581.0h1M445.8 599.1h1M472.0 586.7h1M457.0 606.3h1M497.4 592.1h1M489.3 600.7h1M451.5 596.9h1M449.3 597.6h1M456.4 601.8h1M481.3 596.0h1M453.8 594.8h1M453.2 593.8h1M460.2 600.3h1M448.6 598.0h1M495.1 569.0h1M479.6 581.2h1M448.1 599.5h1M450.8 601.1h1M450.9 595.6h1M500.5 585.5h1M485.5 604.9h1M465.2 595.6h1M458.7 602.5h1M448.3 590.6h1M498.4 589.1h1M446.2 601.2h1M472.8 599.8h1M498.1 576.3h1M447.3 592.2h1M448.2 600.8h1M452.2 598.8h1M497.9 566.5h1M447.8 594.7h1M470.0 590.1h1M456.6 596.6h1M472.9 600.6h1M451.7 589.4h1M478.4 609.3h1M489.7 583.9h1M480.9 571.8h1M450.3 597.7h1M487.1 570.4h1M471.5 599.3h1M452.5 599.8h1M476.8 570.2h1M461.7 600.0h1M454.7 592.1h1M450.2 594.5h1M455.1 596.5h1M483.2 594.6h1M472.7 605.1h1M451.3 598.4h1M508.0 585.7h1M463.4 595.3h1M453.3 597.0h1M453.1 600.9h1M452.0 595.6h1M482.5 586.9h1M488.2 564.8h1M458.0 600.0h1M456.4 597.4h1M453.4 594.5h1M451.7 601.0h1M455.0 597.2h1M460.6 593.7h1M500.6 577.3h1M458.2 597.9h1M479.6 569.9h1M452.1 597.4h1M457.0 604.9h1M454.1 597.2h1M496.8 589.0h1M460.3 599.8h1M464.7 595.7h1M447.7 601.1h1M478.5 597.7h1M494.5 572.4h1M448.5 598.2h1M475.6 603.2h1M453.2 601.1h1M456.0 598.8h1M460.5 594.9h1M485.3 581.0h1M451.8 588.9h1M453.6 595.4h1M452.9 599.0h1M454.0 596.2h1M454.6 594.4h1M487.9 571.9h1M450.7 593.5h1M453.7 598.2h1M465.1 605.5h1M451.8 604.0h1M460.1 599.5h1M496.4 584.4h1M477.2 594.1h1M471.7 586.5h1M452.0 599.4h1M453.1 598.3h1M450.4 603.5h1M482.5 561.0h1M446.7 600.2h1M450.4 591.2h1M451.8 605.3h1M458.3 602.3h1M493.4 583.7h1M448.7 597.3h1M454.3 596.0h1M498.6 593.3h1M482.5 598.0h1M472.6 605.8h1M449.9 597.7h1M494.1 573.1h1M449.2 600.4h1M463.8 595.7h1M461.0 602.7h1M450.8 597.1h1M494.3 570.7h1M498.1 570.3h1M451.6 591.1h1M452.5 595.2h1M491.9 568.2h1M478.9 600.7h1M455.1 592.5h1M448.0 599.0h1M449.9 599.7h1M484.8 566.8h1M496.2 572.1h1M445.5 592.9h1M496.4 567.2h1M490.5 583.0h1M449.9 594.4h1M485.8 600.8h1M505.5 569.6h1M447.4 601.9h1M452.2 601.1h1M447.8 598.0h1M491.8 567.0h1M463.5 594.3h1M471.1 598.4h1M450.9 592.0h1M460.0 599.9h1M464.9 591.8h1M495.5 567.9h1M448.8 609.3h1M461.6 598.0h1M452.0 599.9h1M471.2 604.7h1M450.8 598.1h1M460.3 601.1h1M446.2 595.3h1M474.9 595.8h1M466.2 598.0h1M447.4 599.1h1M507.4 582.0h1M490.4 595.1h1M480.2 594.4h1M446.6 602.1h1M477.0 571.0h1M465.5 594.6h1M454.2 596.1h1M471.5 602.6h1M454.5 589.8h1M448.6 595.9h1M504.8 569.3h1M491.2 578.8h1M449.2 598.5h1M493.9 577.5h1M467.8 601.8h1M480.6 596.6h1M494.1 588.2h1M447.3 602.2h1M461.4 598.2h1M477.9 598.8h1M471.6 595.9h1M458.1 596.6h1M445.7 601.9h1M453.7 596.8h1M466.4 602.3h1M454.6 599.3h1M494.8 570.1h1M454.3 604.6h1M457.1 608.6h1M452.0 597.7h1M488.8 567.3h1M455.2 593.8h1M458.7 595.8h1M445.7 595.2h1M451.4 597.1h1M459.5 597.8h1"/>
<path stroke="#d0281c" stroke-opacity="0.42" stroke-width="0.85" d="M479.3 594.9h1M508.9 589.9h1M493.1 571.0h1M475.0 596.4h1M464.8 596.4h1M457.2 593.9h1M449.0 600.3h1M458.7 595.0h1M487.0 567.1h1M443.3 597.6h1M457.0 601.0h1M469.7 593.8h1M453.7 593.3h1M450.5 598.3h1M449.7 599.4h1M498.8 572.1h1M493.5 599.6h1M456.7 600.9h1M495.0 585.0h1M447.7 594.3h1M481.8 566.6h1M489.0 583.3h1M492.2 589.0h1M448.3 604.1h1M450.9 601.6h1M452.4 589.7h1M463.1 603.3h1M453.3 601.2h1M476.4 609.2h1M471.8 598.2h1M449.0 598.0h1M461.3 598.4h1M471.9 598.8h1M451.9 597.3h1M450.4 599.6h1M453.9 594.6h1M490.5 596.3h1M457.2 594.3h1M470.2 598.5h1M458.2 604.0h1M448.8 601.1h1M451.0 600.2h1M452.9 599.4h1M448.2 593.6h1M453.4 597.7h1M453.3 593.8h1M452.7 597.5h1M446.5 603.8h1M448.1 594.1h1M485.0 569.8h1M490.6 578.1h1M456.4 593.6h1M451.9 597.2h1M455.5 595.7h1M456.5 592.7h1M448.4 594.2h1M446.5 593.8h1M472.2 580.5h1M468.7 594.2h1M450.5 595.5h1M463.2 596.0h1M484.5 589.5h1M468.2 597.3h1M482.8 570.3h1M506.0 589.8h1M453.3 588.7h1M472.5 597.3h1M500.5 581.6h1M466.2 593.5h1M492.0 585.7h1M448.2 595.7h1M453.3 596.6h1M460.5 599.0h1M450.2 593.2h1M499.6 569.4h1M472.2 590.7h1M450.6 596.0h1M451.8 599.6h1M493.0 584.1h1M472.3 591.6h1M495.1 569.0h1M461.3 597.9h1M470.0 598.5h1M470.9 601.3h1M454.6 596.6h1M456.2 596.8h1M451.5 599.8h1M455.4 603.1h1M459.1 596.3h1M470.5 564.3h1M451.7 590.9h1M451.4 596.6h1M457.1 594.9h1M453.9 601.1h1M451.3 593.9h1M478.6 595.2h1M452.0 602.3h1M497.3 569.7h1M452.9 600.4h1M479.6 598.2h1M450.8 595.1h1M452.5 597.0h1M450.1 596.7h1M467.8 594.0h1M448.9 598.6h1M447.4 600.0h1M455.1 594.6h1M452.2 598.1h1M455.1 596.6h1M460.5 598.8h1M482.8 590.6h1M446.2 591.7h1M493.5 568.5h1M453.7 601.3h1M461.6 600.3h1M453.6 591.3h1M494.8 566.8h1M465.3 596.9h1M489.0 588.3h1M456.0 604.9h1M456.0 599.9h1M452.7 599.8h1M503.1 569.4h1M448.8 601.9h1M450.4 600.5h1M484.9 597.6h1M458.9 589.8h1M445.9 595.9h1M488.3 584.7h1M458.3 604.4h1M473.2 571.9h1M471.9 599.2h1M455.0 594.2h1M445.9 603.2h1M453.9 592.4h1M483.0 569.9h1M491.0 569.9h1M491.4 578.7h1M454.6 597.8h1M475.1 604.4h1M453.4 600.8h1M452.9 598.5h1M468.7 595.9h1M491.5 573.2h1M479.5 597.3h1M454.4 597.8h1M472.7 593.3h1M459.7 596.5h1M450.3 601.2h1M445.3 596.9h1M500.5 568.4h1M464.3 603.0h1M462.3 594.9h1M466.9 597.4h1M506.4 574.1h1M456.0 597.9h1M455.5 604.4h1M449.5 599.2h1M450.5 595.8h1M451.4 599.6h1M488.8 587.8h1M452.6 596.8h1M502.3 584.8h1M456.0 595.1h1M469.2 599.0h1M480.1 591.6h1M461.3 595.5h1M456.6 599.6h1M454.8 601.7h1M448.3 601.1h1M475.6 593.2h1M470.0 592.9h1M480.2 598.5h1M506.5 590.4h1M447.3 602.0h1M460.9 602.2h1M503.4 567.6h1M455.5 596.6h1M479.7 587.6h1M448.6 597.9h1M459.5 594.8h1M487.7 584.7h1M443.2 591.8h1M453.1 596.0h1M451.6 594.8h1M448.9 598.3h1M453.0 589.2h1M452.6 596.5h1M471.3 595.5h1M498.7 571.0h1M497.7 563.9h1M453.5 597.7h1M471.6 573.0h1M499.1 592.5h1M488.4 598.4h1M469.4 592.8h1M456.1 591.6h1M448.0 599.5h1M449.5 595.8h1M481.9 602.3h1M449.8 598.7h1M453.1 593.6h1M451.1 591.4h1M450.0 599.0h1M503.3 570.0h1M459.6 600.2h1M463.0 600.9h1M500.4 569.5h1M469.2 599.5h1M460.7 600.5h1M451.6 593.7h1M455.7 599.2h1M455.3 595.6h1M456.7 600.1h1M497.4 570.5h1M475.6 598.0h1M461.4 597.0h1M463.5 597.0h1M449.9 594.2h1M465.6 594.0h1M448.4 599.4h1M502.1 572.5h1M451.7 598.6h1M451.4 603.9h1M460.0 595.5h1M451.0 598.2h1M487.1 587.0h1M489.8 590.3h1M454.5 597.6h1M504.8 571.9h1M456.1 595.9h1M472.8 563.3h1M452.7 595.8h1M464.7 595.8h1M448.2 595.3h1M491.4 584.9h1M459.4 595.7h1M454.1 598.6h1M447.3 594.5h1M504.5 568.3h1M462.9 593.6h1M479.9 599.1h1M449.4 595.2h1M450.1 601.9h1M460.7 598.3h1M451.7 598.6h1M445.7 598.6h1M455.1 595.3h1M455.8 600.3h1M499.2 570.3h1M474.2 598.0h1M450.1 591.3h1M449.3 600.8h1M454.2 596.2h1M500.6 570.2h1M503.4 569.5h1M456.4 600.0h1M488.5 571.6h1M451.4 600.0h1M449.1 602.4h1M475.3 599.8h1M447.2 592.5h1M451.1 594.7h1M460.2 600.3h1M489.6 579.6h1M466.5 592.6h1M471.4 570.0h1M450.7 594.9h1M505.9 558.1h1M461.8 597.4h1M461.6 594.8h1M454.1 599.6h1M449.9 597.1h1M504.4 584.5h1M451.2 596.7h1M450.2 599.1h1M492.0 571.2h1M455.1 594.6h1M472.0 601.8h1M449.2 606.7h1M496.2 588.5h1M466.8 594.0h1M469.6 603.6h1M454.0 597.2h1M475.2 597.9h1M497.2 570.7h1M486.0 592.2h1M492.6 595.2h1M474.6 598.8h1M452.7 599.1h1M454.7 601.2h1M481.6 574.1h1M448.5 602.1h1M480.6 592.1h1M460.6 597.9h1M454.8 598.9h1M472.4 595.8h1M488.2 567.4h1M448.0 601.0h1M468.6 599.1h1M456.5 593.9h1M470.1 595.6h1M495.1 607.8h1M471.2 599.7h1M459.4 596.4h1M467.9 605.7h1M483.5 594.7h1M450.8 601.4h1M452.4 597.8h1M490.4 600.6h1M457.3 599.7h1M451.3 598.4h1M477.6 588.1h1M492.0 586.7h1M473.1 602.9h1M447.2 596.4h1M452.3 600.6h1M451.4 601.2h1M496.3 584.5h1M449.1 596.3h1M471.9 594.5h1M456.9 592.3h1M447.6 604.2h1M493.2 569.1h1M452.3 600.5h1M495.9 571.0h1M446.7 598.4h1M446.3 593.4h1M483.2 604.8h1M450.4 598.5h1M450.8 599.3h1M477.8 581.4h1M496.1 571.4h1M503.8 593.5h1M451.7 587.9h1M452.5 596.2h1M452.0 604.8h1M482.9 586.5h1M458.8 600.1h1M488.6 584.1h1M471.6 599.0h1M451.0 592.3h1M453.8 598.6h1M457.3 599.0h1M480.1 569.8h1M471.1 600.2h1M501.9 571.2h1M458.5 598.6h1M456.3 592.7h1M497.2 570.0h1M448.5 598.6h1M481.0 568.3h1M497.9 576.4h1M496.7 567.5h1M453.5 600.4h1M464.4 602.6h1M444.9 599.7h1M505.3 595.4h1M496.6 587.5h1M452.5 600.5h1M488.4 568.0h1M483.8 598.1h1M496.1 568.2h1M489.4 568.1h1M453.8 593.5h1M506.8 567.9h1M487.8 568.5h1M482.7 590.1h1M455.6 596.8h1M459.1 596.2h1M495.1 588.3h1M498.5 571.6h1M463.4 594.8h1M479.4 591.6h1M457.6 597.6h1M451.0 595.3h1M450.1 599.1h1M450.6 602.0h1M467.4 590.8h1M494.1 590.8h1M470.2 597.7h1M453.2 594.6h1M482.1 582.5h1M454.6 598.0h1M460.0 597.3h1M501.5 568.3h1M459.4 597.2h1M475.3 595.7h1M447.0 597.7h1M471.2 599.0h1M455.9 599.3h1M455.4 598.3h1M469.5 597.9h1M458.9 600.5h1M470.6 566.8h1M468.1 593.0h1M455.4 600.6h1M465.0 596.7h1M503.3 571.6h1M472.3 590.0h1M451.2 602.4h1M499.6 568.6h1M502.3 589.8h1M497.8 569.9h1M453.6 594.0h1M457.9 589.2h1M467.0 593.6h1M458.9 602.7h1M447.1 598.9h1M450.9 602.1h1M450.8 600.3h1M481.5 593.6h1M456.8 598.7h1M469.5 593.4h1M502.3 594.3h1M490.4 596.9h1M446.0 595.8h1M465.1 599.5h1M445.5 597.2h1M496.1 582.0h1M450.5 596.6h1M454.1 595.7h1M454.0 602.6h1M451.3 601.7h1M450.8 601.8h1M454.0 598.2h1M466.2 599.1h1M501.4 591.3h1M481.8 595.6h1M471.0 600.2h1M482.6 597.6h1"/>
<ellipse cx="452.8" cy="598" rx="6" ry="5.8" fill="#cc1d14" fill-opacity="0.85"/>
<path d="M471 549.4V610.2M442.1 580H510.6" stroke="#8c8c8c" stroke-width="0.6" fill="none"/>
<rect x="463" y="569.4" width="2.4" height="2" fill="none" stroke="#888" stroke-width="0.6"/>
<rect x="476.5" y="569.4" width="2.4" height="2" fill="none" stroke="#888" stroke-width="0.6"/>
<rect x="463" y="590" width="2.4" height="2" fill="none" stroke="#888" stroke-width="0.6"/>
<rect x="476.5" y="590" width="2.4" height="2" fill="none" stroke="#888" stroke-width="0.6"/>
<rect x="442.1" y="549.4" width="68.5" height="60.8" fill="none" stroke="#231f20" stroke-width="1"/>
<path d="M442.1 554.4h-3M442.1 568.8h-3M442.1 583.3h-3M442.1 599.6h-3M442.1 558.72h-1.8M442.1 561.31h-1.8M442.1 563.04h-1.8M442.1 564.48h-1.8M442.1 565.63h-1.8M442.1 566.64h-1.8M442.1 567.5h-1.8M442.1 568.22h-1.8M442.1 573.15h-1.8M442.1 575.76h-1.8M442.1 577.5h-1.8M442.1 578.95h-1.8M442.1 580.11h-1.8M442.1 581.12h-1.8M442.1 582h-1.8M442.1 582.72h-1.8M442.1 588.19h-1.8M442.1 591.12h-1.8M442.1 593.08h-1.8M442.1 594.71h-1.8M442.1 596.01h-1.8M442.1 597.15h-1.8M442.1 598.13h-1.8M442.1 598.95h-1.8M442.1 604.1h-1.5M442.1 606.6h-1.5M454.5 610.2v2.6M470.3 610.2v2.6M486.6 610.2v2.6M502.9 610.2v2.6M459.24 610.2v1.5M462.08 610.2v1.5M463.98 610.2v1.5M465.56 610.2v1.5M466.82 610.2v1.5M467.93 610.2v1.5M468.88 610.2v1.5M469.67 610.2v1.5M475.19 610.2v1.5M478.12 610.2v1.5M480.08 610.2v1.5M481.71 610.2v1.5M483.01 610.2v1.5M484.16 610.2v1.5M485.13 610.2v1.5M485.95 610.2v1.5M491.49 610.2v1.5M494.42 610.2v1.5M496.38 610.2v1.5M498.01 610.2v1.5M499.31 610.2v1.5M500.46 610.2v1.5M501.43 610.2v1.5M502.25 610.2v1.5M449.76 610.2v1.5M446.6 610.2v1.5M443.44 610.2v1.5M441.07 610.2v1.5" stroke="#231f20" stroke-width="0.8" fill="none"/>
<text x="425.2" y="558" font-size="9" stroke-width="0.14"><tspan textLength="8.8" lengthAdjust="spacingAndGlyphs">10</tspan><tspan font-size="6" dy="-3.3" dx="0.2">5</tspan></text>
<text x="425.2" y="572.4" font-size="9" stroke-width="0.14"><tspan textLength="8.8" lengthAdjust="spacingAndGlyphs">10</tspan><tspan font-size="6" dy="-3.3" dx="0.2">4</tspan></text>
<text x="425.2" y="586.9" font-size="9" stroke-width="0.14"><tspan textLength="8.8" lengthAdjust="spacingAndGlyphs">10</tspan><tspan font-size="6" dy="-3.3" dx="0.2">3</tspan></text>
<text x="425.2" y="603.2" font-size="9" stroke-width="0.14"><tspan textLength="8.8" lengthAdjust="spacingAndGlyphs">10</tspan><tspan font-size="6" dy="-3.3" dx="0.2">2</tspan></text>
<text x="450.4" y="622.2" font-size="9" stroke-width="0.14"><tspan textLength="8.8" lengthAdjust="spacingAndGlyphs">10</tspan><tspan font-size="6" dy="-3.3" dx="0.2">2</tspan></text>
<text x="466.2" y="622.2" font-size="9" stroke-width="0.14"><tspan textLength="8.8" lengthAdjust="spacingAndGlyphs">10</tspan><tspan font-size="6" dy="-3.3" dx="0.2">3</tspan></text>
<text x="482.5" y="622.2" font-size="9" stroke-width="0.14"><tspan textLength="8.8" lengthAdjust="spacingAndGlyphs">10</tspan><tspan font-size="6" dy="-3.3" dx="0.2">4</tspan></text>
<text x="498.8" y="622.2" font-size="9" stroke-width="0.14"><tspan textLength="8.8" lengthAdjust="spacingAndGlyphs">10</tspan><tspan font-size="6" dy="-3.3" dx="0.2">5</tspan></text>
<text x="443.1" y="557.4" font-size="8.4" stroke-width="0.12" textLength="30.7" lengthAdjust="spacingAndGlyphs">CX-4945</text>
<text x="477.3" y="557.4" font-size="8.4" stroke-width="0.12" textLength="32.7" lengthAdjust="spacingAndGlyphs">9.0±1.1%</text>
<text x="474.2" y="610" font-size="8.4" stroke-width="0.12" textLength="35.8" lengthAdjust="spacingAndGlyphs">19.8±3.6%</text>
<path d="M223.7 43V188.9H300" fill="none" stroke="#231f20" stroke-width="1.1"/>
<path d="M223.7 37.5L220.7 45L226.7 45z" fill="#000"/>
<path d="M305.5 188.9L298 185.9L298 191.9z" fill="#000"/>
<text x="219.7" y="116.7" font-size="10" stroke-width="0.12" text-anchor="middle" textLength="17.4" lengthAdjust="spacingAndGlyphs" transform="rotate(-90 219.7 116.7)">7-AAD</text>
<text x="248.5" y="199.8" font-size="10" stroke-width="0.12" textLength="43.9" lengthAdjust="spacingAndGlyphs">Annexin V-PE</text>
<line x1="42" y1="415.2" x2="234" y2="415.2" stroke="#231f20" stroke-width="1.1"/>
<path d="M37 415.2L44.5 412.2L44.5 418.2z" fill="#000"/>
<path d="M239.5 415.2L232 412.2L232 418.2z" fill="#000"/>
<text x="114.8" y="426.3" font-size="10" stroke-width="0.12" textLength="43.3" lengthAdjust="spacingAndGlyphs">Annexin V-PE</text>
<text x="28.4" y="329.7" font-size="10.5" stroke-width="0.12" text-anchor="middle" textLength="20.8" lengthAdjust="spacingAndGlyphs" transform="rotate(-90 28.4 329.7)">7-AAD</text>
<text x="6.9" y="280.8" font-size="8" textLength="23.1" lengthAdjust="spacingAndGlyphs">Nalm6</text>
<path d="M422 477V629.2H503" fill="none" stroke="#231f20" stroke-width="1.1"/>
<path d="M422 471.5L419 479L425 479z" fill="#000"/>
<path d="M508.2 629.2L500.7 626.2L500.7 632.2z" fill="#000"/>
<text x="418" y="537.8" font-size="10.5" stroke-width="0.12" text-anchor="middle" textLength="20.1" lengthAdjust="spacingAndGlyphs" transform="rotate(-90 418 537.8)">7-AAD</text>
<text x="454.7" y="639.8" font-size="10" stroke-width="0.12" textLength="43.4" lengthAdjust="spacingAndGlyphs">Annexin V-PE</text>
<text x="391.5" y="501.8" font-size="9.2" textLength="27.8" lengthAdjust="spacingAndGlyphs">Nalm6</text>
</g>
</svg></body></html>
